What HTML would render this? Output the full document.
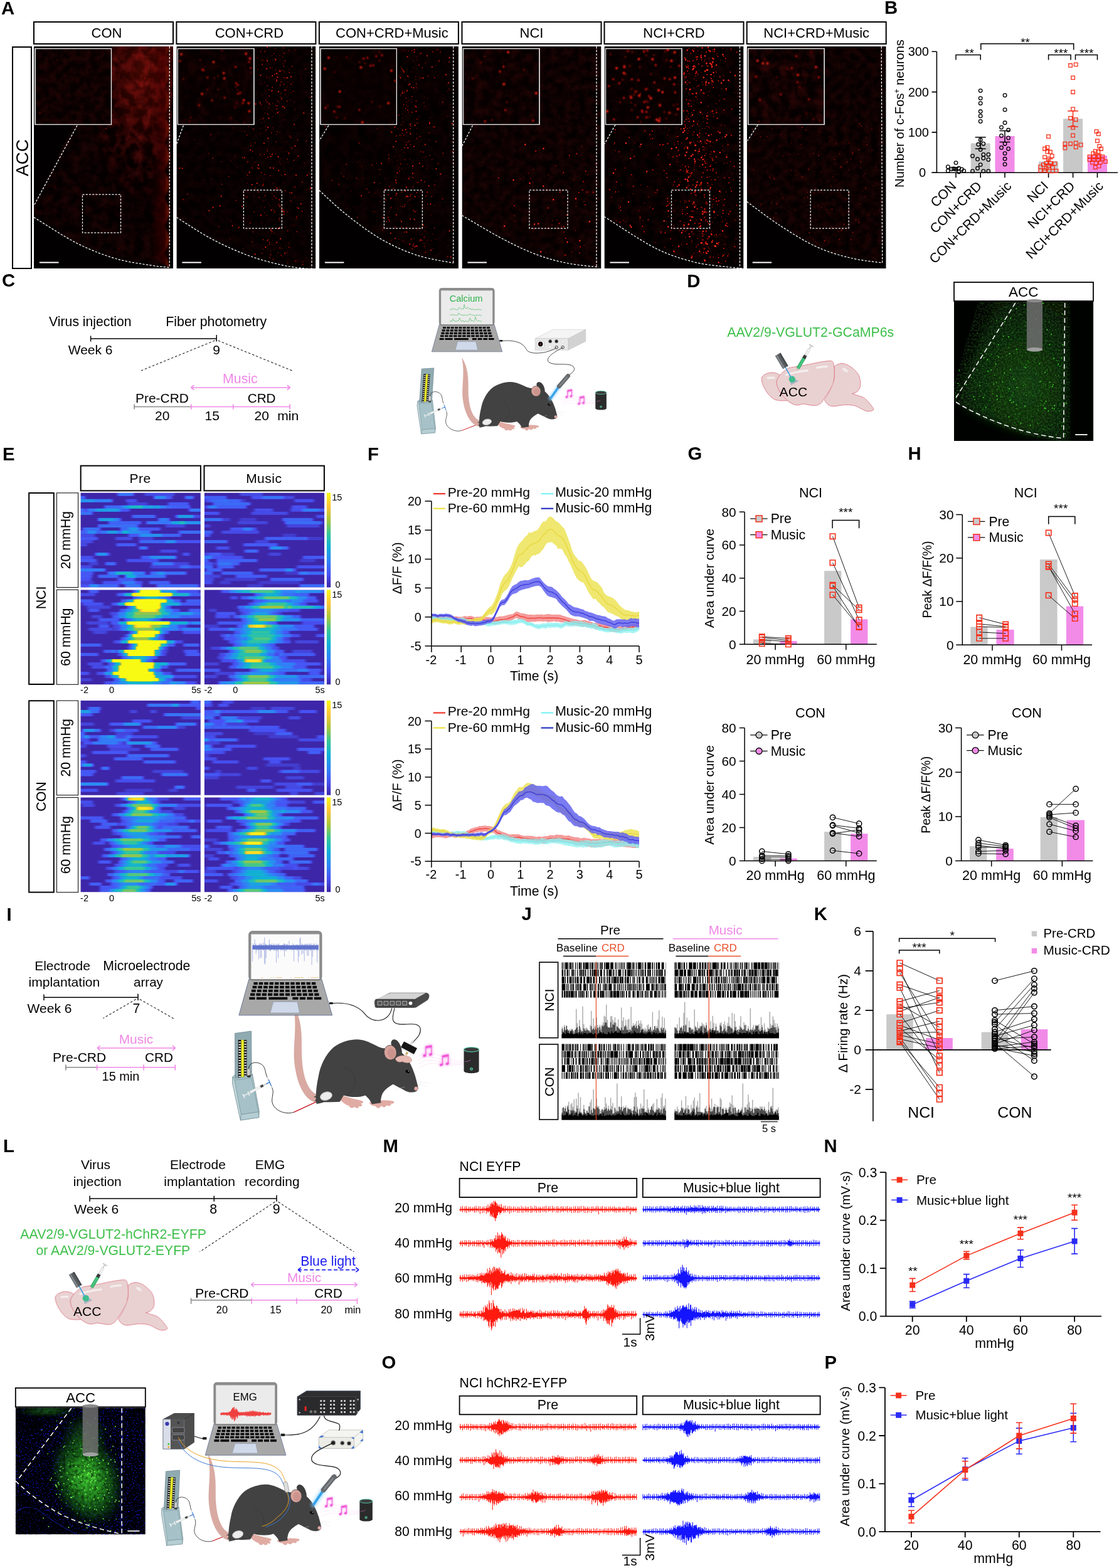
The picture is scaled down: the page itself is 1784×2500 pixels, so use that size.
<!DOCTYPE html>
<html lang="en"><head><meta charset="utf-8"><title>Figure</title>
<style>
html,body{margin:0;padding:0;background:#fff;}
body{width:1784px;height:2500px;overflow:hidden;}
svg{display:block;font-family:"Liberation Sans", Arial, Helvetica, sans-serif;}
</style></head><body>
<svg width="1784" height="2500" viewBox="0 0 1784 2500">
<defs><filter id="tx" x="0" y="0" width="100%" height="100%"><feTurbulence type="fractalNoise" baseFrequency="0.07" numOctaves="4" seed="3"/><feColorMatrix values="0 0 0 0 1  0 0 0 0 0.02  0 0 0 0 0.02  2.2 0 0 0 -0.75"/></filter><filter id="tx2" x="0" y="0" width="100%" height="100%"><feTurbulence type="fractalNoise" baseFrequency="0.09" numOctaves="4" seed="11"/><feColorMatrix values="0 0 0 0 1  0 0 0 0 0.02  0 0 0 0 0.02  1.6 0 0 0 -0.45"/></filter><radialGradient id="cong"><stop offset="0" stop-color="#5a0a04" stop-opacity="0.75"/><stop offset="0.6" stop-color="#3a0400" stop-opacity="0.45"/><stop offset="1" stop-color="#200" stop-opacity="0"/></radialGradient><linearGradient id="cone" x1="0" x2="1" y1="0" y2="0"><stop offset="0" stop-color="#400" stop-opacity="0"/><stop offset="0.75" stop-color="#5a0802" stop-opacity="0.5"/><stop offset="1" stop-color="#8a1206" stop-opacity="0.95"/></linearGradient><radialGradient id="cwg"><stop offset="0" stop-color="#fff"/><stop offset="0.5" stop-color="#aaa"/><stop offset="1" stop-color="#000"/></radialGradient><mask id="cmk" maskUnits="userSpaceOnUse" x="54" y="74" width="222" height="354"><ellipse cx="229" cy="124" rx="95" ry="200" fill="url(#cwg)"/></mask><filter id="b1" x="-5%" y="-5%" width="110%" height="110%"><feGaussianBlur stdDeviation="0.7"/></filter><filter id="b2" x="-5%" y="-5%" width="110%" height="110%"><feGaussianBlur stdDeviation="1.1"/></filter><clipPath id="ca0"><rect x="54" y="74" width="222" height="354"/></clipPath><clipPath id="ci0"><rect x="56" y="77.5" width="121" height="121"/></clipPath><clipPath id="ca1"><rect x="281.4" y="74" width="222" height="354"/></clipPath><clipPath id="ci1"><rect x="283.4" y="77.5" width="121" height="121"/></clipPath><clipPath id="ca2"><rect x="508.9" y="74" width="222" height="354"/></clipPath><clipPath id="ci2"><rect x="510.9" y="77.5" width="121" height="121"/></clipPath><clipPath id="ca3"><rect x="736.5" y="74" width="222" height="354"/></clipPath><clipPath id="ci3"><rect x="738.5" y="77.5" width="121" height="121"/></clipPath><clipPath id="ca4"><rect x="963.5" y="74" width="222" height="354"/></clipPath><clipPath id="ci4"><rect x="965.5" y="77.5" width="121" height="121"/></clipPath><clipPath id="ca5"><rect x="1190.7" y="74" width="222" height="354"/></clipPath><clipPath id="ci5"><rect x="1192.7" y="77.5" width="121" height="121"/></clipPath><clipPath id="ch0"><path d="M178 74L54 328L54 346.5L123 388L185 412.5L244 423.5L270 426.5L276 74Z"/></clipPath><clipPath id="ch1"><path d="M347.4 74L281.4 230L281.4 346.5L338.4 381.5L400.4 409L461.4 425L503.4 429L503.4 74Z"/></clipPath><clipPath id="ch2"><path d="M578.9 74L508.9 224.5L508.9 303.5L553.9 343.5L608.9 382L664.9 407L722.9 419.5L730.9 74Z"/></clipPath><clipPath id="ch3"><path d="M808.5 74L736.5 233L736.5 343.5L803.5 382L858.5 407L906.5 420L954.5 426L958.5 74Z"/></clipPath><clipPath id="ch4"><path d="M1036 74L963.5 230L963.5 345.5L1045.5 396L1107.5 418L1158.5 425.5L1185.5 428L1185.5 74Z"/></clipPath><clipPath id="ch5"><path d="M1263.2 74L1191.7 224.5L1190.7 321.5L1242.7 359L1300.7 393L1356.7 411.5L1406.7 419L1412.7 74Z"/></clipPath>

<filter id="glow" x="-30%" y="-30%" width="160%" height="160%"><feGaussianBlur stdDeviation="9" result="b"/><feMerge><feMergeNode in="b"/><feMergeNode in="SourceGraphic"/></feMerge></filter><filter id="glow2" x="-50%" y="-50%" width="200%" height="200%"><feGaussianBlur stdDeviation="10"/></filter>
<clipPath id="cd"><rect x="1521" y="480.5" width="222.3" height="222.6"/></clipPath><filter id="txg" x="0" y="0" width="100%" height="100%"><feTurbulence type="fractalNoise" baseFrequency="0.35" numOctaves="3" seed="5"/><feColorMatrix values="0 0 0 0 0.15  0 0 0 0 0.8  0 0 0 0 0.1  3.2 0 0 0 -1.25"/></filter><filter id="b6" x="-20%" y="-20%" width="140%" height="140%"><feGaussianBlur stdDeviation="7"/></filter><radialGradient id="gd" cx="0.6" cy="0.62" r="0.62"><stop offset="0" stop-color="#1c5a15"/><stop offset="0.5" stop-color="#123e0e"/><stop offset="1" stop-color="#081d06"/></radialGradient><clipPath id="cdt"><path d="M1560 480L1706 480L1706 703L1690 703C1640 698 1580 680 1522 642L1522 610Z"/></clipPath>
<filter id="par" filterUnits="userSpaceOnUse" x="80" y="770" width="480" height="670" color-interpolation-filters="sRGB"><feGaussianBlur stdDeviation="2.3 0"/><feComponentTransfer><feFuncR type="table" tableValues="0.242 0.281 0.179 0.069 0.216 0.672 0.997 0.977 0.977 0.977"/><feFuncG type="table" tableValues="0.150 0.323 0.529 0.695 0.784 0.779 0.766 0.984 0.984 0.984"/><feFuncB type="table" tableValues="0.660 0.958 0.968 0.839 0.592 0.223 0.220 0.081 0.081 0.081"/><feFuncA type="linear" slope="0" intercept="1"/></feComponentTransfer></filter><linearGradient id="cbar" x1="0" y1="1" x2="0" y2="0"><stop offset="0.000" stop-color="rgb(61,38,168)"/><stop offset="0.143" stop-color="rgb(71,82,244)"/><stop offset="0.286" stop-color="rgb(45,134,246)"/><stop offset="0.429" stop-color="rgb(17,177,214)"/><stop offset="0.571" stop-color="rgb(55,199,151)"/><stop offset="0.714" stop-color="rgb(171,198,56)"/><stop offset="0.857" stop-color="rgb(254,195,56)"/><stop offset="1.000" stop-color="rgb(249,250,20)"/></linearGradient><clipPath id="hc"><path d="M128.6 785.7h191.2v150.8h-191.2zM325.9 785.7h191.2v150.8h-191.2zM128.6 940.5h191.2v150.8h-191.2zM325.9 940.5h191.2v150.8h-191.2zM128.6 1116.9h191.2v150.8h-191.2zM325.9 1116.9h191.2v150.8h-191.2zM128.6 1271.4h191.2v150.8h-191.2zM325.9 1271.4h191.2v150.8h-191.2z"/></clipPath>






<clipPath id="cl"><rect x="24.8" y="2244.2" width="207" height="202.2"/></clipPath><radialGradient id="gl" cx="0.5" cy="0.5" r="0.5"><stop offset="0" stop-color="#3fd030" stop-opacity="0.95"/><stop offset="0.4" stop-color="#2cab22" stop-opacity="0.8"/><stop offset="0.75" stop-color="#187014" stop-opacity="0.45"/><stop offset="1" stop-color="#0a3008" stop-opacity="0"/></radialGradient><filter id="txl" x="0" y="0" width="100%" height="100%"><feTurbulence type="fractalNoise" baseFrequency="0.2" numOctaves="3" seed="9"/><feColorMatrix values="0 0 0 0 0  0 0 0 0 0  0 0 0 0 0  -2.6 0 0 0 1.55"/></filter><filter id="txb" x="0" y="0" width="100%" height="100%" color-interpolation-filters="sRGB"><feTurbulence type="fractalNoise" baseFrequency="0.42" numOctaves="2" seed="4"/><feColorMatrix values="0 0 0 0 0.1  0 0 0 0 0.1  0 0 0 0 0.9  0 10 0 0 -6.1"/></filter><clipPath id="clb"><path d="M24 2300L110 2244H232V2447H150C120 2440 70 2420 24 2375Z"/></clipPath>



</defs>
<rect width="1784" height="2500" fill="#fff"/>
<g id="panelA"><rect x="20" y="75" width="30" height="353" fill="#fff" stroke="#000" stroke-width="2"/><text font-size="28" text-anchor="middle" transform="translate(45.1 251.5) rotate(-90)">ACC</text><rect x="54" y="35" width="222" height="35" fill="#fff" stroke="#000" stroke-width="2"/><text x="170" y="60.3" font-size="22" text-anchor="middle">CON</text><g clip-path="url(#ca0)"><rect x="54" y="74" width="222" height="354" fill="#020000"/><g opacity="0.1"><path d="M178 74L54 328L54 346.5L123 388L185 412.5L244 423.5L270 426.5L276 74Z" fill="#500" opacity="0.35"/><g clip-path="url(#ch0)"><rect x="54" y="74" width="222" height="354" filter="url(#tx)"/></g></g><g clip-path="url(#ch0)"><ellipse cx="229" cy="114" rx="75" ry="150" fill="url(#cong)"/><rect x="54" y="74" width="222" height="354" filter="url(#tx)" opacity="0.3" mask="url(#cmk)"/></g><path d="M270 74q-3 14 -8 22q6 8 8 22q-3 14 -8 22q6 8 8 22q-3 14 -8 22q6 8 8 22q-3 14 -8 22q6 8 8 22q-3 14 -8 22q6 8 8 22q-3 14 -8 22q6 8 8 22q-3 14 -8 22q6 8 8 22q-3 14 -8 22q6 8 8 22L244 412L239 74Z" fill="url(#cone)" opacity="0.9" filter="url(#b2)"/><g filter="url(#b1)" opacity="1"><path d="" stroke="#e82010" stroke-width="2.2" stroke-linecap="round" fill="none"/><path d="M169.6 204.7h0M231.3 124.9h0" stroke="#c01208" stroke-width="1.8" stroke-linecap="round" fill="none"/><path d="M88 298.8h0M189 396.7h0" stroke="#8c0c05" stroke-width="1.5" stroke-linecap="round" fill="none"/></g><path d="M54 346.5C65.5 353.4 101.2 377 123 388C144.8 399 164.8 406.6 185 412.5C205.2 418.4 229.8 421.2 244 423.5C258.2 425.8 265.7 426 270 426.5M123 200L54 328M270.3 74L270.3 426.5" stroke="#fff" stroke-width="1.25" stroke-dasharray="3.4 2.2" fill="none"/><rect x="131.5" y="310" width="61" height="61" fill="none" stroke="#f0f0f0" stroke-width="1.25" stroke-dasharray="3.2 2"/><rect x="56" y="77.5" width="121.5" height="121" fill="#060000" stroke="#e6e6e6" stroke-width="1.2"/><g clip-path="url(#ci0)"><rect x="56" y="77.5" width="121" height="121" filter="url(#tx2)" opacity="0.12"/><g filter="url(#b2)"><path d="" stroke="#f62414" stroke-width="4" stroke-linecap="round" fill="none" opacity="0.5"/><path d="M63.5 179.9h0" stroke="#c01208" stroke-width="3.6" stroke-linecap="round" fill="none" opacity="0.5"/><path d="M91.9 96.4h0" stroke="#700804" stroke-width="3.2" stroke-linecap="round" fill="none" opacity="0.5"/></g></g><rect x="56" y="77.5" width="121.5" height="121" fill="none" stroke="#e6e6e6" stroke-width="1.2"/><rect x="63" y="417.5" width="30.5" height="2" fill="#fff"/></g><rect x="281.4" y="35" width="222" height="35" fill="#fff" stroke="#000" stroke-width="2"/><text x="397.4" y="60.3" font-size="22" text-anchor="middle">CON+CRD</text><g clip-path="url(#ca1)"><rect x="281.4" y="74" width="222" height="354" fill="#020000"/><g opacity="0.07"><path d="M347.4 74L281.4 230L281.4 346.5L338.4 381.5L400.4 409L461.4 425L503.4 429L503.4 74Z" fill="#500" opacity="0.35"/><g clip-path="url(#ch1)"><rect x="281.4" y="74" width="222" height="354" filter="url(#tx2)"/></g></g><g filter="url(#b1)" opacity="0.95"><path d="M444.1 146.2h0M401.9 294.4h0M426.2 75h0M465.1 307.6h0M435.9 268.1h0M469.2 198.5h0M389.7 251.5h0M475.9 332.1h0M431.7 249.4h0M460.3 244.3h0M433.6 144.7h0M470.5 232.7h0M423.4 394.2h0M495 300.4h0M441.3 386.7h0M286.5 268.1h0M475.5 249h0M441.5 299.8h0M446.6 113.5h0M464.1 122.3h0M444.3 271.9h0M484.3 180.3h0M452.4 341.5h0M472 279.3h0M441.1 128.9h0M453.6 172h0M428.6 188.7h0M425.1 109.7h0M427.4 220.6h0M420.9 228.3h0M489.7 279.3h0M412.5 268.7h0M447 380.7h0M370.5 359.8h0M412 263.3h0M452.5 337.4h0M454.7 278.2h0M290.6 268.5h0M451 169.9h0M434 246.1h0M350.9 328.2h0M397.8 274.8h0M446.3 329.2h0M431.9 367h0M454.2 403.6h0M458.2 123.9h0M443.6 364.4h0M407.4 165.7h0M432.6 335.1h0M426.1 97.1h0M386.1 329.1h0M352.8 312.8h0M415.5 120.1h0M415.9 343.2h0M406.6 405.4h0M446.1 113.4h0M399.5 239.3h0M454.6 143.5h0M427.2 203.1h0M443.6 250.2h0M442.3 123.1h0M333.5 335.8h0M479.8 325h0M434.2 120.8h0M449.9 336.6h0M380.7 362.6h0M339.7 330.7h0M415 164h0M441.2 117.2h0M409.8 292.2h0M439.3 94.8h0M430.8 267.6h0M442.8 179.7h0" stroke="#e82010" stroke-width="2.2" stroke-linecap="round" fill="none"/><path d="M446.3 395.5h0M411.5 305.9h0M430.8 280.1h0M403.6 205.3h0M422.5 278.1h0M446.6 136h0M386.3 250.6h0M458.7 367.8h0M422.7 312h0M429.1 143.1h0M482.8 421.7h0M436.4 334.8h0M461 394.2h0M468 145.6h0M471.5 416h0M458 253.6h0M470.1 298h0M456.3 124.5h0M433.2 364.6h0M336.1 214.7h0M440.5 225.9h0M452.8 134.7h0M464.2 134h0M406.6 227.6h0M348.8 361.3h0M430.8 108.4h0M451.8 76.2h0M466.2 106h0M418.8 296h0M444.5 326.1h0M465.5 236.2h0M449.2 155.9h0M431.5 406h0M487.4 109.8h0M434.2 139h0M433 211.8h0M424 159.3h0M436.9 85.3h0M353.7 293.6h0M419.9 189h0M415.7 81.9h0M449 158.2h0M426.4 136.6h0M448.7 334.4h0M402.1 267.3h0M421.9 81.8h0M442 209.8h0M416.3 166.7h0M292.2 317.8h0M433.7 369h0M468.6 255.5h0M398.8 355.5h0M472.9 346h0M452.5 124h0M427.7 382.5h0M441.2 126.6h0M400 232.1h0M446.1 363.2h0M439.7 168.3h0M445.6 362.7h0M429.3 152.9h0M403 369.7h0M474.5 223.2h0M438 118.4h0M402.8 241.3h0M419.6 295h0M298.9 309.7h0M448.3 406.9h0M364.6 281.4h0M429.7 386.2h0M426.4 240.7h0M440.4 316.2h0M402.2 385.6h0M429.8 389.3h0M416.6 274.8h0M481.7 290.2h0M452.2 105.6h0M375.9 319.6h0M453.2 84.9h0M418.3 102.9h0M463.6 320.4h0M424.3 207.3h0M461.4 115.7h0M429.8 166.5h0M417.5 403.9h0M419.6 382.2h0M454.8 304h0M462.1 307.1h0M474 330.8h0M460.8 80.4h0M394.1 314.1h0M437.9 338h0M426.9 250.4h0M439.6 96h0M426.1 383.4h0M436.9 313.2h0M389 311.4h0M461.8 216.9h0M394.6 279.2h0M393.5 215.2h0M426.7 181.8h0M481.8 336.7h0M418.3 102.5h0M430.2 410.7h0M339.1 252.1h0M463.7 219.3h0M473.4 369.4h0M441.2 173.7h0M441.9 168.6h0M457.6 161.5h0M429 164.4h0M494.4 155.2h0M410.5 267.6h0M421.3 246.2h0M413.1 314.7h0M439.1 301.8h0M445.3 348.6h0M443 161.1h0M425.7 162.8h0M454.8 97.2h0M445.5 318.8h0M405 337.7h0M444.9 317.8h0M417.9 95.9h0M488.2 224.7h0M414.6 246.3h0M448.2 130.8h0M394.5 258.2h0M435.7 413.3h0" stroke="#c01208" stroke-width="1.8" stroke-linecap="round" fill="none"/><path d="M378.6 267.4h0M368 352.4h0M352.6 257.8h0M452.4 334.2h0M439.7 181.2h0M413.5 295.2h0M430 245.5h0M393.8 292.4h0M374.5 247.7h0M448.2 148.6h0M438.8 77.7h0M332.9 244.7h0M337.4 285h0M432.9 145.7h0M469 314.3h0M440.7 118.3h0M455.4 151.6h0M411.5 110.8h0M451.1 333.9h0M428.2 183h0M430.2 74.6h0M415.8 190h0M421.7 339.6h0M491.5 247.1h0M424.8 121.4h0M435.3 185.4h0M451.8 191h0M459.1 258.3h0M454 114.5h0M485 259.9h0M445.3 300.9h0M372.2 204h0M445 111.7h0M468.9 163.3h0M450 409.3h0M415.7 133.7h0M443.8 119.5h0M489.2 302.7h0M425.1 95h0M446.1 298h0M427.6 224.5h0M422.5 179.9h0M451.3 112.4h0M437.8 99.5h0M427.2 370h0M433.3 371.6h0M418.1 78h0M448.9 112.3h0M295.8 348.2h0M291.8 348.2h0M453.3 273.4h0M488.2 410.6h0M315.1 290.9h0M438.4 93.1h0M440.5 214.4h0M420.4 291.2h0M471.9 349.6h0M421 193.4h0M296.1 212.4h0M427 390.9h0M449.7 395.9h0M368.1 256.3h0M467.1 130.4h0M430.3 328.1h0M407.4 258.5h0M445.4 163.4h0M447.9 149h0M420.9 161.8h0M406.7 298.9h0M437.7 371.9h0M457 226.1h0M455.2 362.3h0M420.6 97.1h0M436.5 397.7h0M284.2 247.1h0M439.4 110.9h0M417.9 152.6h0M433.9 107.7h0M447.1 252.7h0M451 91h0M422 130.9h0M415.3 204.5h0M458.2 337.3h0M470 79.4h0M425 124.3h0M391.1 314.4h0M419.7 293.6h0M445.3 257.4h0M417.3 196.3h0M459.1 130.8h0M402.4 252h0M310.9 222.6h0M394.1 305.5h0M392.1 236.2h0M387.6 395.9h0M429 123h0M419.3 397.8h0M452 101.8h0M428.9 171.7h0M448.5 279.6h0M464.5 148.3h0M439.4 245.1h0M325.7 288h0M444.6 177.8h0M414.6 213.4h0M405.1 313.2h0M447.1 261.5h0M405.2 258.9h0M410.5 92.5h0M446.7 154.5h0M435 164.5h0M433.8 176h0M426.1 237.6h0M474.1 348.5h0M433.8 308.2h0M480 124.9h0M403.2 269.5h0M469.1 360.9h0M390.5 210.1h0M443.5 403h0M434 88.7h0M326.2 342.3h0M435.9 292.3h0M431.8 399.7h0M433.9 389.6h0M487.8 147h0M435.1 203.5h0M491.2 115.6h0M405.1 207h0M483.3 417.4h0M456.9 241.1h0M416.9 354.8h0M446.2 210.7h0M412.8 161.5h0M458.6 419.1h0M451 183.7h0M421.8 330.5h0M463.2 160h0M460.8 110.9h0M460.5 388h0M493.4 277.2h0M420.5 286.5h0M366.3 380.7h0M457.8 402.6h0M446 88.5h0M284.2 340h0M420.3 320h0M407 301.2h0M461.3 247h0M286.7 332h0M470.5 173.9h0M446.5 236.2h0M445.9 351.5h0M427.2 323.8h0M396.3 201.9h0M425.1 343.1h0M456.2 143.4h0M457.5 138.4h0M423.3 252.6h0M434.1 317.6h0M400.9 229h0M463.1 359.8h0M423.5 201.4h0M451.8 291.2h0M422.9 144.1h0M467.2 357.9h0" stroke="#8c0c05" stroke-width="1.5" stroke-linecap="round" fill="none"/></g><path d="M281.4 346.5C290.9 352.3 318.6 371.1 338.4 381.5C358.2 391.9 379.9 401.8 400.4 409C420.9 416.2 444.2 421.7 461.4 425C478.6 428.3 496.4 428.3 503.4 429M292.4 200L281.4 230M497 74L497 428" stroke="#fff" stroke-width="1.25" stroke-dasharray="3.4 2.2" fill="none"/><rect x="388.4" y="303" width="61" height="61" fill="none" stroke="#f0f0f0" stroke-width="1.25" stroke-dasharray="3.2 2"/><rect x="283.4" y="77.5" width="121.5" height="121" fill="#060000" stroke="#e6e6e6" stroke-width="1.2"/><g clip-path="url(#ci1)"><rect x="283.4" y="77.5" width="121" height="121" filter="url(#tx)" opacity="0.07"/><g filter="url(#b2)"><path d="M392.3 85.7h0M289.1 86.6h0M388.7 159.8h0M357.7 125h0M322 149.7h0M397.5 177.2h0M356.6 116.5h0M396.4 164.6h0M340.4 99h0M398.5 93.2h0" stroke="#f62414" stroke-width="4" stroke-linecap="round" fill="none" opacity="0.85"/><path d="M397 98.7h0M379.2 135.3h0M376.4 132.5h0M317.2 167.8h0M324.5 112.2h0M358.2 155.7h0M379.2 149.7h0M387.1 164.4h0M287.2 97.2h0M382.8 147.9h0M399.6 108.3h0M330.7 123.5h0M375.7 106.9h0M338.2 160.1h0M323 110.9h0" stroke="#c01208" stroke-width="3.6" stroke-linecap="round" fill="none" opacity="0.85"/><path d="M303.8 187.2h0M374.7 171.1h0M319.2 96h0M389.6 195.7h0M302.6 193.6h0M378.7 143.6h0M376.3 138h0M347.9 142.7h0M342.1 124.2h0M377.6 164h0M400.3 115.7h0M292.1 125.8h0M368.3 187.8h0M354 80.6h0M330.4 142.7h0M348.1 121h0M292.7 126.1h0" stroke="#700804" stroke-width="3.2" stroke-linecap="round" fill="none" opacity="0.85"/></g></g><rect x="283.4" y="77.5" width="121.5" height="121" fill="none" stroke="#e6e6e6" stroke-width="1.2"/><rect x="290.4" y="417.5" width="30.5" height="2" fill="#fff"/></g><rect x="508.9" y="35" width="222" height="35" fill="#fff" stroke="#000" stroke-width="2"/><text x="624.9" y="60.3" font-size="22" text-anchor="middle">CON+CRD+Music</text><g clip-path="url(#ca2)"><rect x="508.9" y="74" width="222" height="354" fill="#020000"/><g opacity="0.06"><path d="M578.9 74L508.9 224.5L508.9 303.5L553.9 343.5L608.9 382L664.9 407L722.9 419.5L730.9 74Z" fill="#500" opacity="0.35"/><g clip-path="url(#ch2)"><rect x="508.9" y="74" width="222" height="354" filter="url(#tx)"/></g></g><g filter="url(#b1)" opacity="0.95"><path d="M627.2 234.1h0M718.7 409.8h0M658 264.7h0M630.3 380h0M649.4 90.5h0M663.8 392.1h0M646.1 304.5h0M650.1 121.3h0M648.2 313h0M614.5 301.8h0M653.2 134.2h0M686.4 325.3h0M683.7 296.4h0M648.2 370h0M648.1 298.8h0M648.9 144.7h0M681.1 89h0M674.5 124.6h0M631.9 342.5h0M661.4 393.4h0M576.1 312.1h0M660.7 79.3h0M695.5 269.1h0M660.6 83.1h0M622.9 371.8h0M660.8 349.8h0M641.8 207.6h0M641.5 148.7h0M715.2 132h0M661.4 337.5h0M687 398.8h0M640 353.3h0M711 119.2h0M633.5 275.6h0M623 316.4h0M663.4 177.5h0M632.3 308.7h0M702.4 277.4h0M684.9 196.9h0M630.9 287.4h0M654.1 198h0M716.6 91.9h0M650.3 235.7h0M661.6 313.7h0M716.6 368.3h0M638.5 124.1h0M677.8 230.5h0M674.6 358.7h0M654.5 213.6h0M644.3 114.7h0M660.1 233.6h0M629.4 202.5h0M657.9 276.4h0M688.8 106.8h0M670.2 383.1h0M721.7 242.1h0M624.5 210.8h0M671.5 287.5h0M631.3 225.4h0M610.8 347h0M650.1 313.4h0M668.8 260.5h0M608 260.7h0M663.4 170.5h0M721.1 197.1h0M659.5 140.1h0M646.7 206.6h0M653.3 389.2h0M661.5 199.8h0M596.8 291.1h0M642.6 112.3h0" stroke="#e82010" stroke-width="2.2" stroke-linecap="round" fill="none"/><path d="M681.4 307h0M648.5 211h0M609.9 366.6h0M657 179h0M605.3 270.4h0M637.7 215.6h0M684.7 196.5h0M678.3 402.4h0M648.1 312.6h0M665.3 196.4h0M646.8 172.8h0M640.4 361.6h0M630.4 361.8h0M619.5 246.8h0M685.3 247.8h0M684.8 195h0M645.5 254.6h0M631.6 290.8h0M688.4 313.4h0M657.1 396.7h0M692.8 363.6h0M654.7 200.9h0M720.5 225.8h0M670.8 124.1h0M693.1 202.7h0M676.5 392.8h0M663.7 133.4h0M616.2 353.2h0M654.1 312.7h0M665.1 189.9h0M643.9 215.6h0M643.6 167.1h0M672.8 383.4h0M638.8 261.4h0M664.5 307h0M658.6 391.8h0M641.8 145.7h0M675.1 242.4h0M682.2 121.3h0M693 294.7h0M658.3 283h0M652.3 285.4h0M661.7 169h0M659 389.7h0M656.9 153.9h0M637.1 272.3h0M619.8 350.1h0M681.8 325.8h0M548.1 281.2h0M572.5 227.9h0M716 98.6h0M651.2 135.3h0M620.3 252.4h0M654.4 348.9h0M673.3 108h0M636 183.6h0M684.1 211.6h0M656.1 139.1h0M695.2 225.5h0M642 329.4h0M644.8 369.9h0M592.9 263.3h0M698.4 260.9h0M666.4 290.7h0M650 175.7h0M699.9 97.5h0M518.3 201.5h0M647.4 156.2h0M705.7 317h0M663.5 161h0M654.3 230.3h0M640.4 306.2h0M658.5 298.1h0M647.4 362.9h0M652.3 224.8h0M689.9 82.7h0M653.8 205h0M670.8 241.8h0M670.9 381.8h0M631.7 291.8h0M651 284h0M701.9 82.9h0M631.1 311.5h0M618.7 346.4h0M627.2 300.7h0M697 79.3h0M529.7 287.6h0M620.8 352.2h0M667.8 104h0M653.9 349.1h0M656.1 380.8h0M552.5 262h0M671.5 84.5h0M623.5 330.7h0M654.9 310.2h0M692.7 124h0M645.4 329.2h0M669.5 217.4h0M614.6 317.7h0M648 231.4h0M568.3 284.1h0M620.9 297.3h0M665.2 393h0M691 202h0M676.8 290h0M588.4 306.4h0M585.1 301.3h0M676.4 378.2h0M640.8 109.3h0M659.2 335.3h0M713.8 408.9h0M673.5 331.1h0M540.2 293.7h0M644.6 147.2h0M645.3 235.6h0M678.9 312.6h0M657 80.7h0M664.3 221.1h0M645.4 326.1h0M619.2 310.3h0M673.7 265.5h0M569.9 346.8h0M705.8 163h0M632 216.7h0M706.5 244.2h0M669.8 85.8h0" stroke="#c01208" stroke-width="1.8" stroke-linecap="round" fill="none"/><path d="M646.8 314.8h0M645.8 127.3h0M648.5 162.2h0M720.5 143.6h0M622.9 210.9h0M687.8 254.8h0M639.7 238.8h0M650.9 81.5h0M611 362h0M553.8 284.7h0M654.5 318.7h0M680 250h0M676.4 155.4h0M628.4 249.8h0M650 170.1h0M673.2 373.4h0M605.5 292.1h0M674.4 264.6h0M650.5 227.2h0M698.8 120.4h0M599 308.4h0M671.3 364h0M690.4 373.5h0M701.4 327.8h0M619.7 255h0M695 104.2h0M659.3 364.3h0M641.9 212.6h0M648.4 167.4h0M655.7 114.5h0M637.3 121.2h0M653.5 282h0M676.3 250.5h0M636.4 389.9h0M675.7 163.4h0M634.1 255.9h0M644.6 234.2h0M638.9 151.3h0M717.8 165.9h0M638.2 351h0M681.5 157.4h0M714.2 391.8h0M641.6 188.4h0M654.5 382h0M600.4 260.3h0M676.7 367.7h0M607.2 313.7h0M660.1 79.2h0M636.7 267.6h0M544.7 276.5h0M694 143.3h0M615.8 319.6h0M652 159.7h0M678.9 369.6h0M674 388.1h0M656.5 316.3h0M712.7 185.8h0M694.1 381.7h0M694.4 288.2h0M678.1 100.8h0M700.4 96.3h0M653.4 211h0M664.5 204.7h0M650.6 320.9h0M678.1 362.5h0M643.5 384.9h0M646.1 79.2h0M717 185.3h0M607.6 261.8h0M663.5 138.9h0M687.4 383.8h0M638.8 328.5h0M623.5 383.8h0M605.6 278.6h0M676.7 169.5h0M641.5 181.2h0M668.9 304.5h0M559 304.7h0M663.9 90.3h0M624.8 315.3h0M681.4 305.2h0M670 307.9h0M553.1 332.1h0M641.6 383.7h0M648.7 111h0M625.4 302.5h0M640.5 268.9h0M639.6 106.5h0M659.4 108.2h0M614.6 302.8h0M666.5 364.8h0M634.5 204.9h0M641.4 198.2h0M612.8 362.2h0M620.6 337.2h0M644.6 242.7h0M686.8 342.8h0M667.7 312.5h0M662.7 122.2h0M659.9 387.4h0M628 299.7h0M577 265.6h0M706.1 248.7h0M644.6 146.9h0M651.4 123.4h0M664.3 213.7h0M682.1 383h0M680.9 331.8h0M653 318.6h0M689.7 254h0M646.5 226.5h0M653.5 253.7h0M635.8 381.5h0M662.3 126.9h0M715.8 141.8h0M664.7 291h0M664.8 367.2h0M680.1 268.7h0M639.2 198.7h0M571.5 285.6h0M634.9 269.6h0M713 134.2h0M643.2 80.7h0M578.7 284.5h0M622 201.2h0M654.1 326.1h0M691.5 327.9h0M650.2 226.2h0M660.9 276.7h0M651.4 178.8h0M716.2 144h0M622.4 208.6h0M713.3 145.2h0M622.8 333.2h0M569.8 258.5h0M619.5 258.5h0M605.5 320.9h0M685.1 187.9h0M642.3 193.9h0M638.2 153.1h0M649.2 262.2h0M660 380.6h0M597.7 337.2h0M633.7 265.4h0M659.4 97.3h0M675.6 123.6h0M665.1 95.7h0M684.5 222.6h0M677.4 389h0M664.7 335.7h0M664.9 140.5h0M690.9 396.2h0M668.8 384.9h0M647.4 229.7h0M594.9 337.6h0M668.5 126.9h0M655.8 163.5h0M681.9 204.1h0M614 284.4h0M601 204.5h0M644.2 370.5h0M644.8 329h0" stroke="#8c0c05" stroke-width="1.5" stroke-linecap="round" fill="none"/></g><path d="M508.9 303.5C516.4 310.2 537.2 330.4 553.9 343.5C570.6 356.6 590.4 371.4 608.9 382C627.4 392.6 645.9 400.8 664.9 407C683.9 413.2 713.2 417.4 722.9 419.5M523.9 200L508.9 224.5M722.7 74L722.7 419.5" stroke="#fff" stroke-width="1.25" stroke-dasharray="3.4 2.2" fill="none"/><rect x="612.4" y="303" width="61" height="61" fill="none" stroke="#f0f0f0" stroke-width="1.25" stroke-dasharray="3.2 2"/><rect x="510.9" y="77.5" width="121.5" height="121" fill="#060000" stroke="#e6e6e6" stroke-width="1.2"/><g clip-path="url(#ci2)"><rect x="510.9" y="77.5" width="121" height="121" filter="url(#tx2)" opacity="0.06"/><g filter="url(#b2)"><path d="M541.7 146h0M517.8 109.5h0M624 112.7h0M577.9 195.1h0M619.2 164.5h0M575.5 107.5h0M524 91.9h0" stroke="#f62414" stroke-width="4" stroke-linecap="round" fill="none" opacity="0.9"/><path d="M519.2 172.1h0M595 104.2h0M599.9 89.7h0M532.9 177.9h0M629.7 129.1h0M585.9 92.3h0M579.6 93.6h0M590.6 105h0M541.4 170.2h0M572.9 175.3h0M609 88h0" stroke="#c01208" stroke-width="3.6" stroke-linecap="round" fill="none" opacity="0.9"/><path d="M552.4 91h0M538 169.9h0M533.3 115h0M522.7 168.3h0M582.1 100.9h0M550 188.5h0M604.9 83.3h0M605.2 96.8h0M572.7 99.1h0M606.2 169.6h0M536.7 187.7h0M593.2 162.4h0" stroke="#700804" stroke-width="3.2" stroke-linecap="round" fill="none" opacity="0.9"/></g></g><rect x="510.9" y="77.5" width="121.5" height="121" fill="none" stroke="#e6e6e6" stroke-width="1.2"/><rect x="517.9" y="417.5" width="30.5" height="2" fill="#fff"/></g><rect x="736.5" y="35" width="222" height="35" fill="#fff" stroke="#000" stroke-width="2"/><text x="847.5" y="60.3" font-size="22" text-anchor="middle">NCI</text><g clip-path="url(#ca3)"><rect x="736.5" y="74" width="222" height="354" fill="#020000"/><g opacity="0.12"><path d="M808.5 74L736.5 233L736.5 343.5L803.5 382L858.5 407L906.5 420L954.5 426L958.5 74Z" fill="#500" opacity="0.35"/><g clip-path="url(#ch3)"><rect x="736.5" y="74" width="222" height="354" filter="url(#tx2)"/></g></g><g filter="url(#b1)" opacity="1"><path d="M858.3 356.7h0M939.9 353.2h0M852.1 357.6h0M804.2 360.6h0M837.3 230.6h0M918 316.7h0M904.5 386.1h0M866.2 296.7h0M818.5 286.9h0M844.5 292h0M882.2 318.2h0M862.2 401.3h0M866.4 236.7h0M924.3 383.7h0" stroke="#ff2a1a" stroke-width="2.5" stroke-linecap="round" fill="none"/><path d="M929.9 289.5h0M945.7 306.5h0M819.9 327.9h0M919.4 245h0M903.5 342.7h0M901.8 380h0M908 247.8h0M873.4 363.7h0M898.9 361.4h0M872.9 303.1h0M898.2 275.2h0M901.8 406.6h0M873.9 331.5h0M854.1 240.8h0M924 403.4h0M936.3 306.3h0M892.8 306.3h0M933.8 272.8h0M795 283.8h0M933.1 326.6h0M891.6 356.2h0M928.6 302.7h0M922.8 307.1h0M925 393.5h0" stroke="#e01408" stroke-width="2" stroke-linecap="round" fill="none"/><path d="M820.3 353.2h0M927.7 232.9h0M918.3 329.1h0M892 300.6h0M881.1 351.8h0M820.3 343.9h0M851.3 365h0M931.2 391.3h0M886.8 264.6h0M852.3 303.8h0M770.5 257.8h0M870.2 402.9h0M874.1 279h0M850.3 270.1h0M931.2 321.5h0M917.4 367.8h0M895.3 361.7h0M849.9 290.7h0M880 358.6h0M898.6 314.8h0M911.5 402.2h0M894.9 303.9h0M842.5 276.4h0M937.1 278.8h0M948.9 261.8h0M914.4 286.3h0M829.5 285.6h0M888.9 362.6h0M899.5 407.3h0M899.1 370h0M845.8 284.5h0M888 350.7h0" stroke="#a80e06" stroke-width="1.6" stroke-linecap="round" fill="none"/></g><path d="M736.5 343.5C747.7 349.9 783.2 371.4 803.5 382C823.8 392.6 841.3 400.7 858.5 407C875.7 413.3 890.5 416.8 906.5 420C922.5 423.2 946.5 425 954.5 426M753.5 200L736.5 233M951 74L951 426" stroke="#fff" stroke-width="1.25" stroke-dasharray="3.4 2.2" fill="none"/><rect x="844" y="303" width="61" height="61" fill="none" stroke="#f0f0f0" stroke-width="1.25" stroke-dasharray="3.2 2"/><rect x="738.5" y="77.5" width="121.5" height="121" fill="#060000" stroke="#e6e6e6" stroke-width="1.2"/><g clip-path="url(#ci3)"><rect x="738.5" y="77.5" width="121" height="121" filter="url(#tx)" opacity="0.1"/><g filter="url(#b2)"><path d="M854.8 148.6h0M810.2 83.3h0M803.4 134.2h0" stroke="#f62414" stroke-width="4" stroke-linecap="round" fill="none"/><path d="M797.1 113.9h0M850 192.4h0M802.6 106.4h0M805.6 175.5h0M773.5 193.4h0" stroke="#c01208" stroke-width="3.6" stroke-linecap="round" fill="none"/><path d="M808.1 162.9h0M766.6 99.7h0M835.4 110.9h0M784.3 191.2h0M772.5 90h0M753.6 125.2h0" stroke="#700804" stroke-width="3.2" stroke-linecap="round" fill="none"/></g></g><rect x="738.5" y="77.5" width="121.5" height="121" fill="none" stroke="#e6e6e6" stroke-width="1.2"/><rect x="745.5" y="417.5" width="30.5" height="2" fill="#fff"/></g><rect x="963.5" y="35" width="222" height="35" fill="#fff" stroke="#000" stroke-width="2"/><text x="1074.5" y="60.3" font-size="22" text-anchor="middle">NCI+CRD</text><g clip-path="url(#ca4)"><rect x="963.5" y="74" width="222" height="354" fill="#020000"/><g opacity="0.08"><path d="M1036 74L963.5 230L963.5 345.5L1045.5 396L1107.5 418L1158.5 425.5L1185.5 428L1185.5 74Z" fill="#500" opacity="0.35"/><g clip-path="url(#ch4)"><rect x="963.5" y="74" width="222" height="354" filter="url(#tx)"/></g></g><g filter="url(#b1)" opacity="1"><path d="M1147.3 305.1h0M1121.7 123.5h0M1158.2 215.2h0M1103 345.9h0M1132.2 101.1h0M1097.8 357.8h0M1096 236.5h0M1132.7 299.2h0M1078.2 235.2h0M1105.8 81.5h0M1130.5 377.4h0M1139.6 392.2h0M1104.5 246.6h0M1118 91.8h0M1132.2 82.1h0M1138.8 338.4h0M1127.6 389.1h0M1110.4 295.6h0M1093.1 95.3h0M1082.6 294.9h0M1031.1 273.6h0M1123.8 89.2h0M1138.5 241.7h0M1152.1 368.2h0M1006.3 361.9h0M1128.1 111.5h0M1123.8 415.8h0M1152.4 87.1h0M1091.2 208.4h0M1096 234.9h0M1117.9 143.4h0M1090.5 117.8h0M1120.8 368.7h0M1120.2 337.3h0M1086.9 370.9h0M1120.7 254.3h0M1135.2 385.4h0M1139 78.8h0M1095.7 79.9h0M1070.8 237.1h0M1142.2 103.7h0M1097.9 282.4h0M1158.4 250.5h0M1147.8 211.5h0M1135.3 129.1h0M1135.1 105.7h0M1137.2 93.7h0M1092.9 131.2h0M1119.6 76.2h0M1120.4 341.3h0M1082 392.7h0M1094.8 273h0M1108.6 240.1h0M1150.1 132.4h0M1127 185.1h0M1120.2 262.6h0M1107.2 253.7h0M1128.8 400.4h0M1119 387.4h0M1074.4 400.8h0M1100.1 228h0M1126.5 100.9h0M1133.5 119.1h0M1126.6 404h0M1130 215.9h0M1112.1 215.2h0M1068.2 262.3h0M1117.8 163.4h0M1123.9 337.6h0M1127.5 223.6h0M1104.5 111.1h0M1108.3 231.8h0M1140.1 392.2h0M1002 322h0M1094.6 242.8h0M1161.5 128h0M1118 350.8h0M1090.6 359h0M1100.9 351.2h0M1130.2 132.2h0M1134.1 373.2h0M1115.2 400.8h0M1065.6 336.3h0M1117.6 387.2h0M1138.1 337.3h0M1143 387.9h0M1105.9 193.3h0M1021.9 230.3h0M1096.8 289.1h0M1125.2 388.3h0M1065.2 361.6h0M1132.5 225.8h0M1005.2 252.5h0M1153.6 128.1h0M1110.2 148.7h0M1058.7 352.3h0M1089 211h0M998 228.3h0M1136.5 98.7h0M1134.2 103.1h0M1145.7 418.6h0M1092.5 247.7h0M1126.6 111.7h0M1171.9 120.4h0M1095.5 220.3h0M1094.9 299.3h0M1097.9 357.4h0M1004.7 359.4h0M1100.4 142.2h0M1108.1 257h0M1156.3 218.1h0M1137.5 115.7h0M1108.9 231.7h0M1117 225.3h0M1105.5 105.7h0M1117.6 291.8h0M1116.5 360.9h0M1090.3 204.9h0M1141 392.8h0M1125.8 130.8h0M1129.1 75.7h0M1103.9 183.2h0M1108.1 305.6h0M977.9 276h0M1105.7 108.9h0M1106.1 322.4h0M1147.8 243.2h0M1123.3 414.7h0M1111.6 290.3h0M1118.3 251.3h0M1092.6 285.7h0M1114.6 241.2h0M1124.1 113.5h0M1109.1 298.2h0M1099.5 377.2h0M1107.4 330.1h0M1157.2 359.6h0M1095 107.1h0M1102 248.7h0M1116.7 178.9h0M1095.9 286.4h0M1142.7 223.4h0M1157.6 141.7h0M1095.5 330.4h0M1102.5 410.8h0" stroke="#ff2a1a" stroke-width="2.5" stroke-linecap="round" fill="none"/><path d="M1158.7 356h0M1100.7 280.5h0M1126.2 322.4h0M1104.3 365.3h0M981 206.7h0M1098.9 320.6h0M1132.1 410h0M979.7 227.9h0M1111.5 333h0M1097.7 266.2h0M1123.7 248.1h0M1073.2 250.3h0M1128.4 380.7h0M1166.2 304.9h0M1101.4 302h0M1128.5 292.1h0M1136.1 255.6h0M1155 283.5h0M1134 214.6h0M1080.6 217.7h0M981.3 270.2h0M1123.8 333.5h0M1103.1 369.5h0M1145.9 387.1h0M1109 116.9h0M1102.1 226.8h0M1153.7 327.3h0M1088.8 367.7h0M1093.9 190.3h0M1093.7 123h0M1127.2 196.1h0M1124.5 260.2h0M1103.2 275h0M1056.6 231.1h0M1093.1 202.4h0M1126.5 228.8h0M1003.1 219.4h0M1165.4 78.4h0M1117 359.7h0M1127.7 353.2h0M1096 113.4h0M1075.2 289.8h0M1117.9 301.9h0M1142.4 179.4h0M1155.3 318h0M1103.6 336.8h0M1134.9 107.4h0M1058.7 272.3h0M1028.3 208.4h0M1079.9 297.3h0M1069 380.5h0M1102 308.4h0M1097.9 108.6h0M1136.7 131.1h0M1096.3 96.9h0M1096.9 272.1h0M1108.1 106.3h0M1125.6 385.8h0M1121.3 275.4h0M1140.4 286.4h0M1113.7 136.7h0M1114.5 362.2h0M1020.4 233.8h0M1024.5 360.9h0M1144.5 89.9h0M1142.1 250.1h0M1103.7 200.9h0M1137 269.3h0M1120.7 233.9h0M1112.3 74.1h0M1105 96.8h0M1098.4 252.6h0M1112 90.8h0M1127.6 282.8h0M1131.3 81.1h0M1095.1 389.1h0M1166.5 174.1h0M1054 369.7h0M1092.4 92.5h0M1006.5 278.4h0M1101.4 85.2h0M1154.1 396.1h0M1171.4 393.2h0M1122.8 310.8h0M1135.2 100.7h0M1110.5 116.1h0M1103.5 409h0M1129.7 79.9h0M1091.9 92.4h0M1117.8 87.9h0M1153.6 406.6h0M1119.6 372.3h0M982.8 290.1h0M1064.2 316.4h0M1118.8 105.5h0M971.8 302.2h0M1162.6 283.6h0M1125.9 82.9h0M1129.5 356.5h0M1060.5 371.2h0M1153.6 89.6h0M1103.5 149.3h0M1170.7 265.2h0M1142.3 321h0M1111.1 94.7h0M989.5 335.5h0M1040.5 221.1h0M1095.6 340.2h0M1064.4 229.1h0M1009.7 297h0M1096.6 363.3h0M1049.5 246.9h0M1091.3 236.6h0M1088.1 340.7h0M1136.3 176.8h0M1132.8 265h0M1142.2 374.3h0M1118.7 282.4h0M1083.2 247.2h0M1114.5 218.4h0M1124.7 266.7h0M1091.6 193.8h0M1123.1 314.4h0M1106.2 175.9h0M1098.4 372.7h0M1152.6 340h0M1121.7 402.5h0M1121 148.5h0M1152.3 408.3h0M1125.2 133h0M1135.5 252.4h0M1156.8 93.1h0M1099.2 131.8h0M1154.7 158.1h0M1063.5 283.1h0M1160.6 230.6h0M1174.7 83.4h0M1115.2 212.2h0M1132.2 301.5h0M1098.9 193.8h0M1107.9 259.8h0M1115.3 295.1h0M1080.8 225.6h0M1085.6 205.5h0M1027.2 369.6h0M1079.2 248.9h0M1062.7 328.8h0M1085.3 271.1h0M1125.7 369h0M1137.5 318h0M1141.9 275.4h0M1089.9 176.8h0M1099.5 143.6h0M1137.4 139.4h0M1154.4 175.4h0M1097.9 165.1h0M1119.6 341h0M1109.6 311.5h0M1118.6 95.4h0M1128 271.4h0M1117.4 303.7h0M987 242h0M1084.4 352.7h0M1094.3 141.6h0M1099.1 97.8h0M1146.1 320.3h0M1108 356.1h0M1122.4 339.1h0M1162 291.4h0M1117.2 89.4h0M1136.2 383.4h0M1040.8 332.7h0M1052.2 231h0M1118.5 330.8h0M1020.6 346.4h0M988.9 354.5h0M1064.7 327.2h0M1114.9 237.7h0M1111.9 197.7h0M1062.5 276.5h0M1147.7 122.4h0M1094.4 158.7h0M1120.5 382.4h0M1095.1 176.5h0M1160.3 408.1h0M1145 389.4h0M1106.3 210.6h0M1093.9 222.3h0M1123.6 256.9h0M1033.5 350.3h0M1135.9 92.5h0M1174.3 327.3h0M1134.8 374.4h0M1145.3 410.8h0M1141.7 315.8h0M1067.3 324.6h0M1118.5 291.7h0M1122.6 148.7h0M1123.3 346.6h0M1125.2 135.7h0M989.1 330.2h0M1113.9 101.9h0M1104 79.8h0M1100.7 301.2h0M1128.1 190.2h0M1120.5 376.1h0M1081.3 240.1h0M1128.5 105.6h0M1097.5 105.5h0M1110.1 114.1h0M1090.7 115.5h0M1134.2 125.6h0M1094.5 270.1h0M1123.2 332.9h0M1092.8 265.1h0M1127 324.9h0M1064.5 321h0M1136.4 271.7h0M1104.8 346.1h0M1143.9 188.5h0M1109.5 154.5h0M1165.9 215.9h0M1106.7 104.8h0M1159.9 360.9h0M981.4 306h0M1115.9 356.2h0M1152.8 335.6h0M1101.9 169.6h0M1129.8 225.1h0M1104.5 325.3h0M1123.5 396.3h0M1127.2 119.1h0M1040.7 270.8h0M1139.2 82.1h0M1144.8 210.1h0M1162.1 341.2h0M1126.3 338.7h0M1156.8 416.6h0M1145.4 129.1h0M1164.1 337.3h0M1111 294.5h0M1011.2 249.4h0M1101.6 276.6h0M1164.3 114.9h0M1110.3 90.7h0M1135.1 177.5h0M1100.1 344.9h0M1125.5 401.9h0M1047.8 303.3h0M1092.2 199.6h0M1040.1 209h0M1096.3 275.1h0M1125.2 350.7h0M1105.1 149.7h0M1035.9 214.6h0" stroke="#e01408" stroke-width="2" stroke-linecap="round" fill="none"/><path d="M1098.6 166.8h0M1098.7 275.7h0M1122.5 397.9h0M1114.5 226.8h0M1053.8 371.3h0M1107.2 263.2h0M1149.3 306.2h0M1099.3 204h0M1112.3 225.4h0M1138.4 312.5h0M1130.9 204h0M1112.6 390.5h0M1131.2 281.7h0M1134.8 368.7h0M1099.1 117.2h0M1118.5 290.2h0M1062.6 353.3h0M1094 275.6h0M1130.1 93.3h0M1134 346.7h0M1093.1 378.5h0M1145.2 282.4h0M1117.7 293.3h0M1103 386.1h0M1119.5 248.9h0M1094.2 321.9h0M1092 319.6h0M1145 320.8h0M1148.7 96.2h0M1108.9 121h0M1065.7 245.6h0M1105.9 140.3h0M1111.9 158h0M1125.8 322.2h0M1066.5 207.1h0M1118.2 83h0M1128.2 180h0M1150.8 346h0M1080.8 302.2h0M1032.1 297.3h0M1106.7 126h0M974.7 314.4h0M1122.9 253.7h0M1123.9 204.5h0M1153.2 120.4h0M1118.2 115.2h0M1139.6 242.6h0M1123.4 346.2h0M993.9 351.3h0M1059.4 394.3h0M1097 296.7h0M1152.4 232.4h0M1126.9 291.6h0M1109.3 328h0M1098.1 77.3h0M1128.8 295.9h0M1105.8 372.8h0M1121.1 187.8h0M1091.8 354.9h0M1122.9 238.9h0M1176.1 148.3h0M1125.6 188.7h0M1154.6 260.6h0M1106.3 226.2h0M1036.2 330.1h0M1096.3 128.5h0M1152.4 352.1h0M1126.7 201.6h0M1115.6 207.8h0M1105 286.9h0M1131 265.1h0M1146.9 160.4h0M1021.3 295.2h0M1092.9 104.9h0M1095 366.7h0M1125.5 100.1h0M1113.6 356.9h0M979.9 211.7h0M1156.1 389.4h0M1155.3 199.8h0M1104.5 295.3h0M1096.7 177.3h0M1151.1 354h0M1145.3 406.1h0M1159.7 260h0M1110.2 128.2h0M1126.7 104.3h0M1033.5 313.9h0M1091.6 322.6h0M1120.7 341.6h0M1112.6 118.4h0M1177.2 138.7h0M1084.6 289.7h0M1124.1 227.8h0M1108 107.7h0M1114.6 200.8h0M1083.1 367.6h0M1110.7 113.4h0M1119.4 204.7h0M1133 102.9h0M1072.8 326.2h0M1132.7 232.2h0M1136.3 326h0M1093 369.3h0M1107.9 309.9h0M1096.6 165.9h0M1126.2 303.1h0M1130.7 396.6h0M1060.7 203.7h0M1125.7 212.4h0M1139.3 79.4h0M1130.9 145.8h0M1122.2 373.4h0M1137.4 186.1h0M1106 337h0M1129.5 202.2h0M1141.4 114.1h0M1109.8 394.4h0M986.3 305.8h0M1127.3 260.1h0M1113.6 390h0M1132 245.9h0M1121.1 395.7h0M1100.9 230.8h0M1142.1 189.2h0M1126.9 127.6h0M1130.6 310.4h0M1134.1 317.3h0M1143.2 377.6h0M1109.8 350.8h0M1102.6 407.6h0M1167.7 276.2h0M1151.7 219.6h0M1115.8 349.1h0M1089.9 361.9h0M1147.8 374.1h0M1139.9 347.3h0M1098.2 189.7h0M1120.7 134.8h0M1105.7 214.7h0M1075.3 227.7h0M1012 227.7h0M1152 239.3h0M1164.7 257.6h0M1005 359.6h0M1132.3 270.9h0M1135.4 330.1h0M1118 295.2h0M1064.4 215.5h0M1124.3 388.3h0M1157.8 306h0M1092.3 368.7h0M1137.7 204.1h0M1132.7 250.1h0M1079.6 258.1h0M1075.7 402.2h0M1103.5 410.7h0M1101.8 185.8h0M1134.1 132.5h0M1096.5 212.8h0M1115.7 397.5h0M1136.2 79.4h0M1171.3 147.8h0M1133.9 242.1h0M1110.8 138h0M1110.2 92h0M1121.2 104.8h0M1141.6 175.3h0M1095.1 186.1h0M982.8 352.5h0M1142.8 85.2h0M1150.5 141.2h0M1076.9 319.5h0M1117.8 403.3h0M1106.2 160.2h0M1122.9 97.7h0M1020.2 349.3h0M1132.9 356.4h0M1095.8 204.9h0M1097.6 181.2h0M1137.8 255.1h0M1139.1 375.5h0M1157.3 360.4h0M1112.8 81.2h0M1007.5 239.4h0M1121.2 337.9h0M1124.2 225.5h0M1098.1 208.5h0M1129.2 394.2h0M1025 351.8h0M1147.3 152.8h0M1149.8 199.5h0M1164.7 299.7h0M1122.1 302h0M1009.8 308.9h0M1103.1 277.5h0M1123.7 95.8h0M1125.9 367.4h0M1173.3 380.7h0M1157 377.5h0M1107.3 325.1h0M1129.7 185.1h0M1149.9 420.1h0M1133.1 357.8h0M1019.4 335.8h0M1135.3 293.9h0M1129.2 169.3h0M1142.1 115.7h0M1098.1 169.4h0M1124.6 386.1h0M1086.9 390h0M1086.9 227.9h0M1092.5 342.1h0M1115.9 265.1h0M1129.7 305.9h0M1087.3 337.6h0M1106.5 199.1h0M1103.1 383.4h0M1081.6 285.2h0M1092.1 266.8h0M1090.4 121h0M1152.5 77.3h0M1171.9 351.2h0M997.8 353.5h0M1089.7 272.3h0M994.4 316h0M990.7 295.2h0M1163.6 130.1h0M1158 144.4h0M1125.6 245.1h0M1128.7 152.6h0M1099.2 225.7h0M1143.1 88h0M1136.1 354.5h0M1065.4 345.8h0M1103.1 179.7h0M1091.5 124h0M1074.7 336.2h0M1116.3 364.8h0M980.8 240.3h0M1082.6 272.3h0M1073.5 294.9h0M1101.2 160h0M1115.8 255.3h0M1103.6 215.5h0M1027.6 323.8h0M1161.7 404.8h0M1044.3 307h0M1095.4 134.4h0M1121.7 389.7h0M1143.2 74.3h0M986.8 332.4h0M1136.8 82.6h0M1119.4 130.7h0M1141.7 165.4h0M1115.2 295.2h0M1134.2 387.3h0M1147.4 221.3h0M1046.2 307.3h0M1120 182h0M1136.9 227.2h0M1177 154.2h0M1088.4 263.3h0M1107.2 77.8h0M1117.8 299.6h0M1107.9 229.3h0M1069.4 367.8h0M1121.2 239.3h0M1118.2 228.6h0M1112.1 380h0M1117.2 294.3h0M986.6 328.1h0M1133.8 286.5h0M996 267.9h0M978.8 230.3h0M1106.6 270.5h0M1095.8 103.2h0M1110.4 393h0M1099.5 296.1h0M1124.4 324.7h0M1137.3 409.8h0M1156.4 350.4h0M1077.9 204.1h0M1135.4 135.2h0M1098.9 160.3h0M1115.2 369.1h0M1156.3 97.7h0M1105.8 306.9h0M1106.6 404h0M1075.4 230.6h0M1133.3 262.7h0M1105 294.4h0M1135.8 254.8h0M1123.3 235h0M1126.9 224.7h0M1112.7 244.4h0M1098.5 148.3h0M1154.1 241.8h0M1121.2 194h0M1058.1 230.4h0M1140.8 259.5h0M1117.4 146.8h0M1137.2 181h0M1138.1 121.6h0M1093.1 233.7h0M1081.1 229.2h0M1072.5 391.3h0M1077.9 218h0M1085 321.2h0M1158.8 247.2h0M1074.2 360.6h0M1045.3 386.4h0M1143.9 326.3h0M1169.4 286.2h0M1139 286.5h0M1144.2 343.1h0M1109.8 303.4h0M1129.6 338.3h0M1037.3 221.9h0M1099.3 320.5h0M1097.5 293.7h0M1115.7 306.4h0M1096.9 188.9h0M1112.6 241h0M1113.1 193.3h0M1113.4 253.9h0M1088 334.5h0M1132.8 124.5h0M1097.3 236.5h0" stroke="#a80e06" stroke-width="1.6" stroke-linecap="round" fill="none"/></g><path d="M963.5 345.5C977.2 353.9 1021.5 383.9 1045.5 396C1069.5 408.1 1088.7 413.1 1107.5 418C1126.3 422.9 1145.5 423.8 1158.5 425.5C1171.5 427.2 1181 427.6 1185.5 428M981 199L963.5 230M1179.5 74L1179.5 428" stroke="#fff" stroke-width="1.25" stroke-dasharray="3.4 2.2" fill="none"/><rect x="1070.5" y="303" width="61" height="61" fill="none" stroke="#f0f0f0" stroke-width="1.25" stroke-dasharray="3.2 2"/><rect x="965.5" y="77.5" width="121.5" height="121" fill="#060000" stroke="#e6e6e6" stroke-width="1.2"/><g clip-path="url(#ci4)"><rect x="965.5" y="77.5" width="121" height="121" filter="url(#tx2)" opacity="0.06"/><g filter="url(#b2)"><path d="M983.1 108.7h0M1047.1 191.1h0M1019.2 152.4h0M1064.6 79.6h0M995.4 105.9h0M1052.1 167.7h0M1076.1 123.7h0M1070.5 97h0M1067.2 179.9h0M1056.3 146.9h0M1080.8 174.1h0M968 177.4h0M994.7 116.5h0M1032.9 171.2h0M1075.6 83.6h0M1018.5 94.3h0M1040.4 94.6h0M1037.6 156.8h0M1006.3 155.7h0M1050.8 193h0M1050 144.1h0" stroke="#f62414" stroke-width="4" stroke-linecap="round" fill="none"/><path d="M1031.9 80.5h0M1023.4 176.4h0M1014 145.8h0M970.7 137.2h0M1074.6 134.4h0M977.8 126.3h0M994.7 156.1h0M1043.3 131.5h0M1030.6 178.4h0M1076.5 147.4h0M1029.5 142.6h0M1024.4 178.8h0M1082.9 104.9h0M1017.9 127.9h0M1027.1 162.8h0M1030.9 187.1h0M1045.4 103.9h0M995.4 107.6h0M1007.4 126.5h0M1001 81.3h0M1016.5 187.1h0M1059.7 125.1h0M1052.6 168.5h0M1034.7 153.3h0M987.4 132.7h0M1067.8 126.4h0M978.9 190.3h0M1005.3 153.9h0M1026.8 82.7h0M1052 188.7h0" stroke="#c01208" stroke-width="3.6" stroke-linecap="round" fill="none"/><path d="M1069 106.5h0M1010.7 151h0M1038 118h0M1035.6 186.6h0M1012.8 167.4h0M1078.2 182.9h0M1006.1 163.5h0M1063 96.1h0M1060 82.2h0M1066.7 180.1h0M1021.5 194.5h0M1004.2 105.2h0M1026.2 79.8h0M992.7 127.4h0M997.7 118.3h0M1030.1 88.3h0M1029.9 161h0M1042.5 88h0M1032.5 162.6h0M1012.3 146.9h0M1074 168.1h0M1008 82.4h0M1002.1 81.4h0M973.3 86.4h0M1032.1 141.4h0M1021.2 149h0M1007.1 141.8h0M997.3 91h0M1079.6 166.3h0M1059.2 178.7h0M1020.1 107.1h0M988.4 163.2h0M1062.2 189h0M1007.3 175.4h0" stroke="#700804" stroke-width="3.2" stroke-linecap="round" fill="none"/></g></g><rect x="965.5" y="77.5" width="121.5" height="121" fill="none" stroke="#e6e6e6" stroke-width="1.2"/><rect x="972.5" y="417.5" width="30.5" height="2" fill="#fff"/></g><rect x="1190.7" y="35" width="222" height="35" fill="#fff" stroke="#000" stroke-width="2"/><text x="1301.7" y="60.3" font-size="22" text-anchor="middle">NCI+CRD+Music</text><g clip-path="url(#ca5)"><rect x="1190.7" y="74" width="222" height="354" fill="#020000"/><g opacity="0.12"><path d="M1263.2 74L1191.7 224.5L1190.7 321.5L1242.7 359L1300.7 393L1356.7 411.5L1406.7 419L1412.7 74Z" fill="#500" opacity="0.35"/><g clip-path="url(#ch5)"><rect x="1190.7" y="74" width="222" height="354" filter="url(#tx2)"/></g></g><g filter="url(#b1)" opacity="0.5"><path d="M1364.4 350.5h0M1237.1 340.1h0M1326.5 333.3h0M1305.1 248.1h0M1284.8 207h0M1314.4 384.2h0M1278.9 203.2h0M1238.1 324.9h0M1300.5 300.6h0M1315.1 384.2h0M1233.5 347.5h0M1288.8 270.1h0M1359.5 370.8h0M1380 299.6h0M1369.5 238.8h0M1290.2 370.8h0M1350.3 258.7h0M1369.4 354.7h0M1199.4 206h0M1382.2 230.5h0M1213.6 325.6h0M1359.3 243.9h0M1229.9 323.1h0M1278.4 282.1h0M1372.5 258h0M1330.5 254.5h0M1353.2 307.3h0M1356.4 382.2h0M1345.9 357.5h0M1333.4 229.4h0M1338.6 381.7h0M1370.5 197.7h0M1234.5 285.2h0M1212.1 217.8h0M1287.7 314.4h0M1292.5 343.2h0M1373.2 201.2h0M1340.4 266.2h0M1342.2 366.9h0" stroke="#e82010" stroke-width="2.2" stroke-linecap="round" fill="none"/><path d="M1344.1 343.1h0M1404.7 321h0M1201.4 270.2h0M1302.1 387.1h0M1390.3 239.4h0M1327.6 281.9h0M1376.5 280.6h0M1305.8 304.2h0M1393.7 341.6h0M1296.3 382.1h0M1230.5 205.2h0M1378.6 276.9h0M1300.9 350.6h0M1380.6 220h0M1305.4 327.9h0M1194.7 241.1h0M1387.6 380.1h0M1392.3 410.6h0M1352.9 271.4h0M1331.5 261.3h0M1323 224.7h0M1356.4 253.2h0M1396.5 413.1h0M1326.1 361.9h0M1359.5 246.3h0M1392.6 296h0M1226.7 282.1h0M1272.8 245.7h0M1341.4 267.5h0M1289.2 326.3h0M1338 245.2h0M1267.6 334.9h0M1352.9 333.7h0M1297 244.5h0M1317.1 334h0M1390 205.6h0M1261.5 271.6h0M1287.2 306.6h0M1353.5 227.8h0M1336.3 368.6h0M1320.4 289.1h0M1258.8 245.6h0M1262.1 227.6h0M1306.7 210.9h0M1298.2 306.6h0M1286.6 327.3h0M1371.7 267.8h0M1299.9 385.2h0M1227.6 283.6h0M1308.7 274.5h0M1305.9 306.1h0M1282.3 316h0M1245.1 214.5h0M1248.6 248.4h0M1378.7 313.6h0M1248.6 315.2h0M1349.4 317.2h0M1345.3 350.2h0M1276.9 230.6h0M1384.5 343.5h0M1318 315.6h0M1298.1 329.5h0M1370.9 325.1h0M1309.8 330.7h0M1222.9 217.7h0M1325.1 297.2h0M1269.7 279.3h0M1242.1 233.2h0" stroke="#c01208" stroke-width="1.8" stroke-linecap="round" fill="none"/><path d="M1243.3 230.9h0M1336 286.8h0M1353.3 247.3h0M1329.7 304h0M1262.2 213.3h0M1322.6 217.9h0M1342.5 302.9h0M1285.7 219.6h0M1372.1 266h0M1342.1 399.2h0M1343.1 227.8h0M1346.2 315.8h0M1293.7 201.3h0M1290.8 378.3h0M1298.7 371.8h0M1226.7 316h0M1313.4 231.2h0M1256.1 244h0M1331.3 214.1h0M1207.8 220.5h0M1349.7 217.5h0M1377.1 231.6h0M1377 298.3h0M1306.8 390.9h0M1383.7 209.7h0M1374.9 305.1h0M1331.7 288.8h0M1307 230.1h0M1281 250.9h0M1339 356.1h0M1364.9 292.9h0M1362.8 303.4h0M1223.8 271.6h0M1344.7 202.3h0M1358.6 311.1h0M1336.8 277.5h0M1305.3 254.4h0M1268.2 210.5h0M1368.7 351.1h0M1383.2 408h0M1340.4 367.8h0M1297.9 308.5h0M1384.8 371.3h0M1320.4 376h0M1273.5 216.9h0M1343.2 299.4h0M1278.1 236.3h0M1194.2 239.6h0M1371.2 378.5h0M1271.1 304h0M1360.3 341.8h0M1389.7 198h0M1380 261.5h0M1346 316.6h0M1347.6 321.2h0M1280.8 282.5h0M1404.6 407.8h0M1263.8 348.3h0M1261.4 279.2h0M1321.3 385.9h0M1345.7 204.6h0M1290.2 322.5h0M1212.9 329h0M1315.3 290.9h0M1277.4 215.8h0M1305.1 388.6h0M1368.1 349.3h0M1261.3 340.8h0M1231.1 242.2h0M1299.7 239.4h0M1291 245.8h0M1294.8 298.7h0M1308.8 286.7h0M1305.1 279.2h0M1341.4 328.1h0M1387.1 215.1h0M1319.3 370.9h0M1398.1 292.3h0M1262.8 223.4h0M1400.3 316.1h0M1366.4 302.8h0M1323.2 338.5h0M1365.3 248.8h0M1321.5 342h0M1299.8 263.4h0M1396.3 213.4h0M1329.3 325.4h0M1217 223.4h0M1339.7 386.8h0" stroke="#8c0c05" stroke-width="1.5" stroke-linecap="round" fill="none"/></g><path d="M1190.7 321.5C1199.4 327.8 1224.4 347.1 1242.7 359C1261 370.9 1281.7 384.2 1300.7 393C1319.7 401.8 1339 407.2 1356.7 411.5C1374.4 415.8 1398.4 417.8 1406.7 419M1208.2 199L1191.7 224.5M1405.2 74L1406.7 419" stroke="#fff" stroke-width="1.25" stroke-dasharray="3.4 2.2" fill="none"/><rect x="1292.2" y="303" width="61" height="61" fill="none" stroke="#f0f0f0" stroke-width="1.25" stroke-dasharray="3.2 2"/><rect x="1192.7" y="77.5" width="121.5" height="121" fill="#060000" stroke="#e6e6e6" stroke-width="1.2"/><g clip-path="url(#ci5)"><rect x="1192.7" y="77.5" width="121" height="121" filter="url(#tx)" opacity="0.14"/><g filter="url(#b2)"><path d="M1207.8 96.7h0M1216.2 101h0M1272.2 119.4h0M1300.9 106.9h0M1223.5 100.9h0" stroke="#f62414" stroke-width="4" stroke-linecap="round" fill="none" opacity="0.9"/><path d="M1211.6 159.3h0M1262.4 108.9h0M1289.5 158.5h0M1244.9 150.6h0M1271.5 131.1h0M1205.4 122.1h0M1305.4 123.2h0M1269.5 89.8h0" stroke="#c01208" stroke-width="3.6" stroke-linecap="round" fill="none" opacity="0.9"/><path d="M1285.3 180.6h0M1238.4 123h0M1254.7 109h0M1219.3 94.5h0M1275.1 139.1h0M1306.6 192.1h0M1297 190h0M1292.8 82.4h0M1209.9 193.7h0" stroke="#700804" stroke-width="3.2" stroke-linecap="round" fill="none" opacity="0.9"/></g></g><rect x="1192.7" y="77.5" width="121.5" height="121" fill="none" stroke="#e6e6e6" stroke-width="1.2"/><rect x="1199.7" y="417.5" width="30.5" height="2" fill="#fff"/></g><text x="2" y="22.9" font-size="29.3" font-weight="bold">A</text></g>
<g id="panelB"><rect x="1547.7" y="228.5" width="31" height="46.7" fill="#c8c8c8"/><rect x="1586.5" y="217" width="31" height="58.2" fill="#f28be8"/><rect x="1656.1" y="257.5" width="31" height="17.7" fill="#c8c8c8"/><rect x="1695.1" y="189.3" width="31" height="85.9" fill="#c8c8c8"/><rect x="1734" y="248.2" width="31" height="27" fill="#f28be8"/><path d="M1493.4 82.2V275.2M1485.5 275.2H1782" fill="none" stroke="#000" stroke-width="1.6"/><text x="1476.2" y="282.2" font-size="20" text-anchor="end">0</text><text x="1481" y="217.9" font-size="20" text-anchor="end">100</text><text x="1481" y="153.6" font-size="20" text-anchor="end">200</text><text x="1481" y="89.3" font-size="20" text-anchor="end">300</text><path d="M1485.5 275.2H1493.4M1485.5 210.9H1493.4M1485.5 146.6H1493.4M1485.5 82.3H1493.4M1524 275.2v8M1563.2 275.2v8M1602 275.2v8M1671.6 275.2v8M1710.6 275.2v8M1749.5 275.2v8" fill="none" stroke="#000" stroke-width="1.6"/><text font-size="20.2" text-anchor="middle" transform="translate(1441 181) rotate(-90)">Number of c-Fos<tspan font-size="12" dy="-7">+</tspan><tspan dy="7"> neurons</tspan></text><text font-size="21.4" text-anchor="end" transform="translate(1525.8 298) rotate(-45)">CON</text><text font-size="21.4" text-anchor="end" transform="translate(1566.5 298) rotate(-45)">CON+CRD</text><text font-size="21.4" text-anchor="end" transform="translate(1613.8 298) rotate(-45)">CON+CRD+Music</text><text font-size="21.4" text-anchor="end" transform="translate(1672.4 298) rotate(-45)">NCI</text><text font-size="21.4" text-anchor="end" transform="translate(1714.9 298) rotate(-45)">NCI+CRD</text><text font-size="21.4" text-anchor="end" transform="translate(1760.3 298) rotate(-45)">NCI+CRD+Music</text><path d="" fill="none" stroke="#000" stroke-width="1.5"/><path d="M1563.2 218.8V237.2M1554.7 218.8h17M1554.7 237.2h17M1602 208.4V226.4M1593.5 208.4h17M1593.5 226.4h17M1524 267.2V270.8M1519.4 267.2h9.2M1519.4 270.8h9.2" fill="none" stroke="#000" stroke-width="1.5"/><path d="M1671.6 253.3V261.4M1664.7 253.3h13.8M1664.7 261.4h13.8M1710.6 176.9V202M1702.1 176.9h17M1702.1 202h17M1749.5 246V253.3M1742.6 246h13.8M1742.6 253.3h13.8" fill="none" stroke="#f5311c" stroke-width="1.5"/><g fill="none" stroke="#000" stroke-width="1.3"><circle cx="1511.3" cy="266" r="2.8"/><circle cx="1517.1" cy="269.5" r="2.8"/><circle cx="1511.3" cy="272.5" r="2.8"/><circle cx="1524" cy="259.6" r="2.8"/><circle cx="1520.5" cy="269" r="2.8"/><circle cx="1528.6" cy="268.3" r="2.8"/><circle cx="1533.2" cy="269.9" r="2.8"/><circle cx="1536.7" cy="272.5" r="2.8"/><circle cx="1528.6" cy="274.1" r="2.8"/><circle cx="1524" cy="269.9" r="2.8"/><circle cx="1563.2" cy="144.6" r="2.8"/><circle cx="1563.2" cy="156.6" r="2.8"/><circle cx="1563.2" cy="164.7" r="2.8"/><circle cx="1563.2" cy="177.8" r="2.8"/><circle cx="1563.2" cy="184.9" r="2.8"/><circle cx="1563.2" cy="193.5" r="2.8"/><circle cx="1563.2" cy="222.9" r="2.8"/><circle cx="1567.8" cy="229.2" r="2.8"/><circle cx="1559.7" cy="230.3" r="2.8"/><circle cx="1563.2" cy="238.4" r="2.8"/><circle cx="1550.5" cy="248.7" r="2.8"/><circle cx="1567.8" cy="246.4" r="2.8"/><circle cx="1575.8" cy="246.4" r="2.8"/><circle cx="1558.5" cy="253.8" r="2.8"/><circle cx="1567.8" cy="252.2" r="2.8"/><circle cx="1575.8" cy="254.5" r="2.8"/><circle cx="1563.2" cy="262.6" r="2.8"/><circle cx="1558.5" cy="268.3" r="2.8"/><circle cx="1550.5" cy="272.9" r="2.8"/><circle cx="1567.8" cy="272.9" r="2.8"/><circle cx="1575.8" cy="272.9" r="2.8"/><circle cx="1602.1" cy="152" r="2.8"/><circle cx="1602.1" cy="175" r="2.8"/><circle cx="1602.1" cy="195.8" r="2.8"/><circle cx="1596.5" cy="203.1" r="2.8"/><circle cx="1607.6" cy="207.3" r="2.8"/><circle cx="1596.5" cy="216.5" r="2.8"/><circle cx="1607.6" cy="219.9" r="2.8"/><circle cx="1602.1" cy="229.2" r="2.8"/><circle cx="1596.5" cy="235.4" r="2.8"/><circle cx="1607.6" cy="237.2" r="2.8"/><circle cx="1602.1" cy="244.6" r="2.8"/><circle cx="1602.1" cy="253.3" r="2.8"/><circle cx="1602.1" cy="261.9" r="2.8"/></g><path d="M1668.8 214.8h5.6v5.6h-5.6zM1667 232.1h5.6v5.6h-5.6zM1662.8 234.4h5.6v5.6h-5.6zM1667 239h5.6v5.6h-5.6zM1671.6 239.5h5.6v5.6h-5.6zM1674.4 245.9h5.6v5.6h-5.6zM1662.8 247.8h5.6v5.6h-5.6zM1668.6 250.5h5.6v5.6h-5.6zM1665.1 257.4h5.6v5.6h-5.6zM1672.1 257.4h5.6v5.6h-5.6zM1679 258.1h5.6v5.6h-5.6zM1660.5 259.8h5.6v5.6h-5.6zM1668.6 262.1h5.6v5.6h-5.6zM1655.9 263.2h5.6v5.6h-5.6zM1675.5 264.4h5.6v5.6h-5.6zM1665.1 265.5h5.6v5.6h-5.6zM1655.9 269h5.6v5.6h-5.6zM1662.8 269h5.6v5.6h-5.6zM1669.8 270.1h5.6v5.6h-5.6zM1675.5 270.1h5.6v5.6h-5.6zM1681.3 269.7h5.6v5.6h-5.6zM1703.8 101.5h5.6v5.6h-5.6zM1712.4 100.1h5.6v5.6h-5.6zM1707.8 121.1h5.6v5.6h-5.6zM1707.8 143.9h5.6v5.6h-5.6zM1707.8 171.1h5.6v5.6h-5.6zM1703.8 185.6h5.6v5.6h-5.6zM1712.4 187.9h5.6v5.6h-5.6zM1707.8 200.6h5.6v5.6h-5.6zM1707.8 213.2h5.6v5.6h-5.6zM1695.1 226.4h5.6v5.6h-5.6zM1703.8 226.4h5.6v5.6h-5.6zM1712.4 225.2h5.6v5.6h-5.6zM1720.4 228.2h5.6v5.6h-5.6zM1695.1 233.3h5.6v5.6h-5.6zM1712.4 231.7h5.6v5.6h-5.6zM1745.3 206.8h5.6v5.6h-5.6zM1748.5 210.7h5.6v5.6h-5.6zM1746.7 221.8h5.6v5.6h-5.6zM1749.9 230.3h5.6v5.6h-5.6zM1752.7 234.4h5.6v5.6h-5.6zM1743.5 238.3h5.6v5.6h-5.6zM1748.1 239h5.6v5.6h-5.6zM1740 241.8h5.6v5.6h-5.6zM1734.2 247.1h5.6v5.6h-5.6zM1741.1 247.1h5.6v5.6h-5.6zM1748.1 247.1h5.6v5.6h-5.6zM1755 247.1h5.6v5.6h-5.6zM1734.2 251.7h5.6v5.6h-5.6zM1741.1 251.7h5.6v5.6h-5.6zM1748.1 251.7h5.6v5.6h-5.6zM1755 250.5h5.6v5.6h-5.6zM1759.6 254.7h5.6v5.6h-5.6zM1738.8 256.3h5.6v5.6h-5.6zM1744.6 257h5.6v5.6h-5.6zM1751.5 256.3h5.6v5.6h-5.6zM1743.5 263.9h5.6v5.6h-5.6zM1749.2 262.1h5.6v5.6h-5.6z" fill="none" stroke="#f5311c" stroke-width="1.3"/><path d="M1524 95.6V87.5H1563.2V95.6M1563.8 79.5V69.8H1711.7V79.5M1671.6 95.6V87.5H1707.1V95.6M1714.5 95.6V87.5H1749.5V95.6" fill="none" stroke="#000" stroke-width="1.5"/><text x="1545.4" y="91" font-size="19" text-anchor="middle">**</text><text x="1634.6" y="73.5" font-size="19" text-anchor="middle">**</text><text x="1691.4" y="91" font-size="19" text-anchor="middle">***</text><text x="1732.4" y="91" font-size="19" text-anchor="middle">***</text><text x="1410" y="22" font-size="29.3" font-weight="bold">B</text></g>
<g id="panelC"><text x="3.1" y="457.3" font-size="29.3" font-weight="bold">C</text><text x="78.1" y="520.4" font-size="21.2">Virus injection</text><text x="264.3" y="520.4" font-size="21.3">Fiber photometry</text><path d="M144.6 540H345.2M144.6 535.5v9M345.2 534v10.5" fill="none" stroke="#000" stroke-width="1.5"/><text x="108.7" y="564.7" font-size="21">Week 6</text><text x="345.2" y="564.7" font-size="21" text-anchor="middle">9</text><path d="M342.5 543L223.4 591.6M347.8 543L467.2 591.6" fill="none" stroke="#222" stroke-width="1.1" stroke-dasharray="3.5 3"/><text x="355.1" y="610.6" font-size="21.3" fill="#f088e6">Music</text><path d="M304.5 617.9H462.7M304.5 617.9l4.9 -3.8M304.5 617.9l4.9 3.8M462.7 617.9l-4.9 -3.8M462.7 617.9l-4.9 3.8" stroke="#f088e6" stroke-width="1.5" fill="none"/><text x="216.1" y="641.8" font-size="20.9">Pre-CRD</text><text x="394.7" y="641.8" font-size="20.7">CRD</text><path d="M214.1 648.5H304.9M214.1 644.5v8" fill="none" stroke="#8a8a8a" stroke-width="1.6"/><path d="M304.9 648.5H462.2M304.9 644.5v8M371.7 644.5v8M462.2 644.5v8" fill="none" stroke="#f088e6" stroke-width="1.6"/><text x="258.7" y="670" font-size="21" text-anchor="middle">20</text><text x="338.2" y="670" font-size="21" text-anchor="middle">15</text><text x="417.3" y="670" font-size="21" text-anchor="middle">20</text><text x="442.2" y="670" font-size="21.1">min</text><g transform="translate(640 440) scale(0.2217)"><path d="M272 350L668 350L725 545L218 545Z" fill="#a8a8a8" stroke="#5b6b8c" stroke-width="3"/><rect x="272" y="88" width="396" height="266" rx="18" fill="#8e8e8e" stroke="#6e6e6e" stroke-width="3"/><rect x="285" y="105" width="370" height="243" fill="#ebebeb"/><path d="M298 372h21.7M326.7 372h21.7M355.3 372h21.7M384 372h21.7M412.7 372h21.7M441.3 372h21.7M470 372h21.7M498.7 372h21.7M527.3 372h21.7M556 372h21.7M584.7 372h21.7M613.3 372h21.7M292 392h22.7M321.7 392h22.7M351.3 392h22.7M381 392h22.7M410.7 392h22.7M440.3 392h22.7M470 392h22.7M499.7 392h22.7M529.3 392h22.7M559 392h22.7M588.7 392h22.7M618.3 392h22.7M286 412h23.7M316.7 412h23.7M347.3 412h23.7M378 412h23.7M408.7 412h23.7M439.3 412h23.7M470 412h23.7M500.7 412h23.7M531.3 412h23.7M562 412h23.7M592.7 412h23.7M623.3 412h23.7M280 432h24.7M311.7 432h24.7M343.3 432h24.7M375 432h24.7M406.7 432h24.7M438.3 432h24.7M470 432h24.7M501.7 432h24.7M533.3 432h24.7M565 432h24.7M596.7 432h24.7M628.3 432h24.7M274 453H305.4M313.2 453H368.1M379.8 453H481.8M509.2 453H540.6M548.4 453H579.8M587.6 453H619M626.8 453H666" stroke="#0a0a0a" stroke-width="14" fill="none"/><path d="M405 472L535 472L548 532L388 532Z" fill="#cfd9ea" stroke="#8a97b0" stroke-width="2"/><text x="465" y="187" font-size="66" text-anchor="middle" fill="#2fb24c">Calcium</text><path d="M348 241.1L353.8 242.2L359.5 242.7L365.2 232.5L371 236.7L376.8 241.2L382.5 234.6L388.2 239.1L394 243.7L399.8 241.3L405.5 243.6L411.2 236.5L417 224.7L422.8 230.6L428.5 237L434.2 239.1L440 234.9L445.8 237.1L451.5 205L457.2 228.2L463 235L468.8 233.5L474.5 226L480.2 228.9L486 237.7L491.8 235.1L497.5 234.8L503.2 243L509 237.4L514.8 237.4L520.5 244.3L526.2 243.4L532 238.1L537.8 244.2L543.5 240.4L549.2 241.6L555 237.3L560.8 244L566.5 241.7L572.2 244.2L578 243.5M348 280.6L353.8 281L359.5 279.6L365.2 279.4L371 278.9L376.8 280.6L382.5 282.7L388.2 278.4L394 283.3L399.8 280.8L405.5 280.6L411.2 265.7L417 273.1L422.8 276.5L428.5 279.9L434.2 282.5L440 278.4L445.8 285.4L451.5 278.6L457.2 283.8L463 284.5L468.8 278.5L474.5 284.1L480.2 281L486 275.4L491.8 275.1L497.5 277.1L503.2 278.9L509 284.9L514.8 279.6L520.5 283.8L526.2 285.1L532 285.2L537.8 280.9L543.5 281L549.2 282.2L555 284L560.8 279.2L566.5 283.8L572.2 284.1L578 284.6M348 321.3L353.8 330.5L359.5 321.8L365.2 324.4L371 308.5L376.8 321.5L382.5 320.2L388.2 328.4L394 325.5L399.8 323.6L405.5 324.1L411.2 322.7L417 301.3L422.8 312.8L428.5 323.4L434.2 328.9L440 321.5L445.8 320.9L451.5 331L457.2 326.3L463 325L468.8 323.3L474.5 327L480.2 329.3L486 325.5L491.8 301.8L497.5 310.4L503.2 325L509 318.8L514.8 324.8L520.5 328.9L526.2 322.2L532 294.4L537.8 314.5L543.5 319.7L549.2 325.4L555 320.3L560.8 324.5L566.5 322.4L572.2 329.5L578 323.9" stroke="#2fb24c" stroke-width="2.6" fill="none"/><path d="M962 450L1090 385L1325 385L1200 450Z" fill="#f4f4f4" stroke="#bdbdbd" stroke-width="2"/><path d="M1200 450L1325 385L1325 470L1200 533Z" fill="#d2d2d2" stroke="#bdbdbd" stroke-width="2"/><path d="M962 450H1200V533H962Z" fill="#e9e9e9" stroke="#b0b0b0" stroke-width="2"/><rect x="975" y="468" width="52" height="46" rx="8" fill="#fff" stroke="#999" stroke-width="2"/><circle cx="1000" cy="490" r="17" fill="#111"/><circle cx="1000" cy="490" r="4" fill="#d22"/><circle cx="1070" cy="470" r="12" fill="#222" stroke="#999" stroke-width="3"/><circle cx="1115" cy="470" r="12" fill="#222" stroke="#999" stroke-width="3"/><circle cx="1160" cy="472" r="10" fill="#fff" stroke="#bbb" stroke-width="2"/><circle cx="1070" cy="510" r="10" fill="#fff" stroke="#bbb" stroke-width="2"/><circle cx="1115" cy="513" r="10" fill="#eee" stroke="#222" stroke-width="4"/><circle cx="1160" cy="513" r="10" fill="#eee" stroke="#222" stroke-width="4"/><path d="M710 467C800 460 870 470 900 530C920 570 1050 560 1115 515M1160 515C1100 545 1030 590 1060 620C1100 650 1200 620 1235 650C1260 680 1220 700 1205 712" stroke="#1a1a1a" stroke-width="3.5" fill="none"/><rect x="705" y="460" width="22" height="12" fill="#1a1a1a"/></g><g transform="translate(672.2 588.1) rotate(4) scale(0.0735) translate(-148 -178)"><path d="M148 178L412 142L418 870L150 905Z" fill="#8faab1" stroke="#6a858c" stroke-width="8"/><path d="M200 285H338V905H200Z" fill="#121212"/><path d="M208 318h36M298 312h34M208 361h36M298 355h34M208 404h36M298 398h34M208 447h36M298 441h34M208 490h36M298 484h34M208 533h36M298 527h34M208 576h36M298 570h34M208 619h36M298 613h34M208 662h36M298 656h34M208 705h36M298 699h34M208 748h36M298 742h34M208 791h36M298 785h34M208 834h36M298 828h34M208 877h36M298 871h34" stroke="#f2f2f2" stroke-width="18" fill="none"/><path d="M250 285H292V895H250Z" fill="#eef02a" stroke="#b8b810" stroke-width="5"/><path d="M108 885L150 850V905L418 868L430 835L540 1440L535 1540L238 1585L108 990Z" fill="#a9c5cb" stroke="#6f8a91" stroke-width="8" stroke-linejoin="round"/><path d="M140 935L415 900L528 1450L245 1492Z" fill="#a6c2c8" stroke="#6f8a91" stroke-width="6"/><path d="M245 1492L528 1450L535 1540L238 1585Z" fill="#b5ced3" stroke="#6f8a91" stroke-width="6"/><path d="M108 885L140 935L245 1492L238 1585L108 990Z" fill="#c3d7db" stroke="#6f8a91" stroke-width="5"/><rect x="348" y="845" width="52" height="45" rx="12" fill="#2c2c2c"/><rect x="345" y="750" width="50" height="112" rx="22" fill="#cdcdcd" stroke="#777" stroke-width="6"/><path d="M285 1192L372 1150" stroke="#f4f4f4" stroke-width="14"/><path d="M277 1165L303 1218M358 1125L384 1180" stroke="#f4f4f4" stroke-width="16" stroke-linecap="round"/><path d="M388 1138L562 1044" stroke="#e2e2e2" stroke-width="40"/><path d="M400 1132L550 1050" stroke="#fafafa" stroke-width="16"/><path d="M562 1044L606 1021" stroke="#4a4a4a" stroke-width="40"/><path d="M606 1021L652 999" stroke="#cfcfcf" stroke-width="22"/><path d="M652 999L712 968M690 925L738 1035" stroke="#2a6fd0" stroke-width="13" fill="none"/><path d="M662 882L690 928M736 1032L750 1062" stroke="#dadada" stroke-width="20"/><path d="M370 752C370 640 520 620 600 700C645 750 640 830 668 885" stroke="#1c1c1c" stroke-width="9" fill="none"/><path d="M748 1058C800 1150 700 1260 780 1360C850 1460 1000 1490 1100 1455" stroke="#1c1c1c" stroke-width="9" fill="none"/><path d="M1100 1455L1500 1270" stroke="#c8141e" stroke-width="14" fill="none"/></g><g transform="translate(720 560) scale(0.1601)"><path d="M270 748C200 732 132 640 112 470C98 340 136 230 104 68C184 200 158 330 168 460C180 600 225 680 295 700Z" fill="#d9aaa2" stroke="#c4938b" stroke-width="2"/><path d="M450 690C500 710 560 725 615 735C640 740 640 755 615 757C635 768 625 782 600 775C605 792 580 795 565 780C555 795 530 790 525 772C495 765 465 740 445 715Z" fill="#e0aba3"/><path d="M690 745C740 735 800 730 860 740C880 748 865 762 845 758C850 775 825 778 812 768C800 790 780 785 770 772C760 800 735 790 728 775C705 775 690 765 680 755Z" fill="#e0aba3"/><path d="M845 330C850 300 880 300 900 322C925 350 935 395 925 430L860 400Z" fill="#3d3d3d"/><path d="M275 755C270 690 280 620 295 560C305 500 345 410 410 360C470 320 540 305 590 306C650 308 700 335 750 358C780 370 810 372 830 368C880 360 930 395 960 432C990 465 1015 520 1030 565C1040 600 1050 630 1052 650C1050 668 1035 675 1010 678C985 680 960 672 945 662C915 650 880 630 860 622C830 640 790 660 775 700C768 725 765 740 770 752L700 762C690 740 680 725 650 700C610 715 540 715 485 700C470 720 465 735 455 745L380 748C340 745 300 750 275 755Z" fill="#424242"/><path d="M300 690L255 712L290 715L262 740L300 738L275 762L330 750Z" fill="#424242"/><path d="M485 500C540 510 575 550 570 610C565 650 540 690 500 700" fill="none" stroke="#363636" stroke-width="3"/><ellipse cx="840" cy="398" rx="47" ry="52" fill="#d7a39c" stroke="#3a3a3a" stroke-width="3" transform="rotate(-12 840 398)"/><ellipse cx="848" cy="405" rx="30" ry="36" fill="#cc948d" transform="rotate(-12 848 405)"/><ellipse cx="972" cy="532" rx="17" ry="11" fill="#0a0a0a" transform="rotate(20 972 532)"/><circle cx="979" cy="529" r="3.5" fill="#eee"/><circle cx="1036" cy="652" r="14" fill="#e0a9a6"/><path d="M1045 600L1130 612M1048 612L1120 640M950 640L880 660" stroke="#ddd" stroke-width="2" fill="none"/><ellipse cx="352" cy="705" rx="46" ry="29" fill="#ececec" stroke="#b5b5b5" stroke-width="4" transform="rotate(-14 352 705)"/><path d="M985 470L1070 350" stroke="#7cc8ff" stroke-width="46" stroke-linecap="round" opacity="0.55" filter="url(#glow2)"/><path d="M985 470L1070 350" stroke="#34a1ea" stroke-width="20" fill="none"/><path d="M1070 350L1160 245" stroke="#686b70" stroke-width="42" stroke-linecap="round" fill="none"/><path d="M1078 342L1150 258" stroke="#8a8d92" stroke-width="10" stroke-linecap="round" fill="none"/><g fill="none" stroke="#f4b6ec" stroke-width="2" opacity="0.7"><path d="M1090 470C1180 380 1280 500 1450 495"/><path d="M1095 495C1180 410 1290 530 1455 500"/><path d="M1100 520C1190 440 1300 550 1460 505"/><path d="M1110 545C1200 470 1300 560 1465 510"/></g><g filter="url(#glow)" fill="#f052d8"><g transform="translate(1146 456)"><ellipse cx="0" cy="0" rx="12" ry="8.5" transform="rotate(-20)"/><ellipse cx="44" cy="-8" rx="12" ry="8.5" transform="rotate(-20 44 -8)"/><path d="M6 -2h5.5v-52l36.5 -7v53h5.5v-69l-47.5 9z"/></g><g transform="translate(1268 523)"><ellipse cx="0" cy="0" rx="12" ry="8.5" transform="rotate(-20)"/><ellipse cx="44" cy="-8" rx="12" ry="8.5" transform="rotate(-20 44 -8)"/><path d="M6 -2h5.5v-52l36.5 -7v53h5.5v-69l-47.5 9z"/></g></g><path d="M1432 412V568C1432 590 1542 590 1542 568V412Z" fill="#2b2b2b"/><ellipse cx="1487" cy="412" rx="55" ry="17" fill="#3c3c3c" stroke="#58cfae" stroke-width="5"/><circle cx="1487" cy="553" r="11" fill="#58cfae"/><circle cx="1487" cy="553" r="5" fill="#2b2b2b"/><path d="M1440 500C1460 500 1475 492 1482 488" stroke="#d870c8" stroke-width="3" fill="none"/></g></g>
<g id="panelD"><text x="1095.2" y="458.2" font-size="29.3" font-weight="bold">D</text><text x="1159.3" y="537.1" font-size="21.3" fill="#3dbf4a">AAV2/9-VGLUT2-GCaMP6s</text><g transform="translate(1200 560) scale(0.1293)"><path d="M110 330C120 295 180 262 240 262C290 264 325 285 350 305C320 340 300 400 330 470C350 520 400 580 445 602C400 615 330 612 280 600C210 570 150 480 120 400C112 375 108 350 110 330Z" fill="#e9d1d1" stroke="#d65c6e" stroke-width="5.5" stroke-linejoin="round"/><path d="M1005 190C1030 165 1070 150 1110 150C1180 160 1250 215 1300 280C1325 330 1335 390 1325 440C1310 490 1270 520 1225 522C1260 540 1320 548 1365 570C1410 600 1460 660 1490 710C1495 735 1450 745 1400 738C1350 720 1310 690 1270 675C1200 655 1120 660 1050 672C1000 685 950 680 925 655C905 635 890 615 885 600C940 520 990 420 1005 330Z" fill="#e9d1d1" stroke="#d65c6e" stroke-width="5.5" stroke-linejoin="round"/><path d="M295 370C310 310 380 240 450 205C520 190 620 180 700 160C800 138 900 120 960 118C985 118 995 140 1000 170C1012 240 1012 310 995 380C975 450 920 530 870 600C850 645 810 668 770 670C710 670 660 652 620 650C590 655 570 668 540 664C480 655 420 610 380 560C330 500 290 430 295 370Z" fill="#e9d1d1" stroke="#d65c6e" stroke-width="5.5" stroke-linejoin="round"/><path d="M885 600C930 530 980 450 995 380" stroke="#dcc0c0" stroke-width="6" fill="none"/><path d="M415 292C500 262 600 245 675 238M795 203C840 192 880 188 915 188M185 330C210 326 240 326 262 328" stroke="#f4eeee" stroke-width="26" stroke-linecap="round" fill="none"/><ellipse cx="1140" cy="232" rx="40" ry="18" fill="#f2ebeb" transform="rotate(35 1140 232)"/><path d="M450 300L565 368L470 418Z" fill="#8fa7c0" opacity="0.7"/><circle cx="486" cy="345" r="40" fill="#3fbe8e"/><path d="M405 200L470 318" stroke="#4aa6e2" stroke-width="14" stroke-linecap="round"/><path d="M310 38L405 200" stroke="#585d61" stroke-width="76"/><path d="M292 48L388 210" stroke="#868b8f" stroke-width="18"/><path d="M335 24L430 186" stroke="#43474a" stroke-width="16"/><path d="M556 214L545 236" stroke="#777" stroke-width="5"/><path d="M558 212L640 72" stroke="#2f9a5a" stroke-width="42"/><path d="M560 210L638 78" stroke="#45c47e" stroke-width="30"/><path d="M630 88L652 50" stroke="#3a3a3a" stroke-width="40"/><path d="M652 50L700 -32" stroke="#dcdcdc" stroke-width="36"/><path d="M660 40L704 -34" stroke="#fafafa" stroke-width="14"/><path d="M700 -32L722 -70M700 -82L744 -56" stroke="#c8c8c8" stroke-width="14" stroke-linecap="round"/></g><text x="1242.6" y="631.6" font-size="21.1">ACC</text><g clip-path="url(#cd)"><rect x="1521" y="480.5" width="222.3" height="222.6" fill="#000200"/><path d="M1590 476L1702 476L1702 702C1650 700 1585 682 1528 648L1538 600Z" fill="url(#gd)" opacity="0.62" filter="url(#b6)"/><g clip-path="url(#cdt)" opacity="0.17"><rect x="1521" y="480.5" width="222.3" height="222.6" filter="url(#txg)"/></g><g filter="url(#b1)"><path d="M1552.2 632.4h0M1635.4 586.4h0M1666 593.7h0M1588.7 609.6h0M1699.6 643h0M1677.9 616.3h0M1611.1 507.2h0M1687.2 580.8h0M1620.7 556.8h0M1676.3 533.2h0M1681.2 646.5h0M1658 608.6h0M1652.2 508.7h0M1669.4 525.8h0M1680.1 571.3h0M1587.6 580.4h0M1610.8 589.2h0M1620.4 645.1h0M1562.3 614.7h0M1621.5 617.7h0M1584.4 612.2h0M1667 651.4h0M1589.4 631h0M1642.6 677.9h0M1692.6 570.7h0M1698.1 691.6h0M1627.5 674.5h0M1609.9 563.9h0M1665.5 650.7h0M1608.5 664.5h0M1574.3 573.5h0M1697.1 644.6h0M1607.8 537h0M1616 640.8h0M1671.4 655.4h0M1679 613.1h0M1598.4 608.7h0M1673.3 549.1h0M1571.8 649.5h0M1524.8 631.4h0M1527.2 611.4h0M1673.7 609.4h0M1568.5 570.4h0M1692.7 679.4h0M1602.1 512.7h0M1639 509.6h0M1580.4 589.7h0M1589.9 636.8h0M1620.4 492.1h0M1677.7 650.8h0M1663 483.7h0M1554 637.1h0M1567.8 633.9h0M1591.8 549.5h0M1575.2 591.7h0M1540.4 613.1h0M1613 642.1h0M1694.2 549.6h0M1616.1 604.2h0M1657.5 579.7h0M1633 486.3h0M1601.3 594.8h0M1591.9 569.5h0M1599.8 535.9h0M1667.7 639.8h0M1609.2 619.7h0M1693.5 500.6h0M1610.1 638.3h0M1680.6 651.9h0M1633.9 647.4h0" stroke="#43e62a" stroke-width="1.9" stroke-linecap="round" fill="none"/><path d="M1641.2 669.2h0M1646.7 630.9h0M1591.3 616h0M1578.2 567.3h0M1548.7 602.6h0M1690 643.8h0M1604.8 505.6h0M1636.6 630.6h0M1643.6 525.6h0M1572.1 564.6h0M1689.5 583.8h0M1600.3 616.5h0M1666.4 685.8h0M1647.7 486.1h0M1530 614.5h0M1588.5 511.4h0M1594.3 602.3h0M1672.3 683.7h0M1679.4 485.8h0M1655.2 647.5h0M1667.3 614.2h0M1632.8 584.7h0M1585.5 547h0M1613.6 629.8h0M1529.6 589.9h0M1687.8 599.4h0M1595.3 632.6h0M1651.8 596.4h0M1585.4 598.1h0M1634.2 520h0M1610.4 517.3h0M1665.8 679.6h0M1643.3 529.4h0M1682.8 598.2h0M1683.8 693.5h0M1688.8 655.1h0M1631.6 614.4h0M1656.8 623h0M1617.9 674.2h0M1621.2 651.1h0M1654 674.4h0M1618.6 659.7h0M1597.9 608.5h0M1598.1 621.7h0M1659.4 645.8h0M1589.9 588.7h0M1570 599.2h0M1604.2 489.8h0M1665.1 642.6h0M1589.7 567.8h0M1523.7 626.8h0M1557.9 531.5h0M1669.3 591h0M1604.7 566.9h0M1634.2 612.5h0M1645.7 670.6h0M1656 563.7h0M1567.3 652.5h0M1663.3 684.3h0M1635.2 513.9h0M1569.9 630.8h0M1611.1 637.4h0M1561.6 631.6h0M1582.3 623.5h0M1533.2 633.8h0M1596.2 508.9h0M1628.3 578.7h0M1589.2 620.7h0M1635.5 561.7h0M1584.3 646.6h0M1635.5 581.6h0M1613.9 530.7h0M1526.5 622.2h0M1562.2 609.9h0M1626.2 500.9h0M1549.8 618.1h0M1657.7 526.3h0M1625.1 660.3h0M1615.1 626.6h0M1586.3 653.1h0M1529.1 590.7h0M1659.5 608.4h0M1660.4 638.9h0M1640.5 625h0M1591.9 656.7h0M1663.3 646.3h0M1640.2 578.5h0M1564 563.6h0M1598.2 632.6h0M1634.1 585.2h0M1621.5 561.3h0M1558.1 589.8h0M1684.7 574.8h0M1582.6 627.4h0M1563.8 623.8h0M1602.7 642.5h0M1616.5 563.8h0M1572.6 611.5h0M1670.2 632.8h0M1608 553.6h0M1672.8 513.8h0M1659.7 629.3h0M1693.7 673.6h0M1581 564.8h0M1663.6 615.5h0M1654.7 654.2h0M1677.4 676.8h0M1611.4 634.9h0M1638.9 575.9h0M1539.4 581h0M1649 572.1h0M1592.3 640.8h0M1543.5 558.1h0M1696.4 538.1h0M1578.3 635h0M1688.7 558.8h0M1667.9 542.8h0M1553.7 607h0M1621.1 667.2h0M1672.9 617.5h0" stroke="#2aa81a" stroke-width="1.6" stroke-linecap="round" fill="none"/><path d="M1552.9 647.9h0M1593.1 654.6h0M1674.3 644.6h0M1576.8 576.5h0M1685.6 582.5h0M1645.6 653h0M1556.1 616.3h0M1696.8 673.9h0M1684.4 500.5h0M1552.5 601.6h0M1548.1 620.5h0M1634.5 495.7h0M1693.9 578.1h0M1624.6 561.2h0M1630.3 568.9h0M1601 645.4h0M1639.5 585.2h0M1659.5 631.5h0M1578.8 616.3h0M1654.9 598.5h0M1656.2 619.9h0M1687.2 539.6h0M1695.9 597.1h0M1683.2 502.6h0M1570 645.6h0M1598 598.6h0M1567 538h0M1694.4 526.3h0M1646.3 593.3h0M1597.3 631.1h0M1642.5 538.9h0M1589.7 524.9h0M1687.9 619.3h0M1674.7 589.2h0M1626.8 676.8h0M1533.1 630h0M1582.2 655.6h0M1563.1 650.1h0M1553.6 611.7h0M1650.6 628.9h0M1673.1 586.9h0M1675.1 613h0M1552.8 568.5h0M1556 609.7h0M1637 579.6h0M1583.7 628.5h0M1559.2 594.1h0M1638.6 601.7h0M1663.8 586h0M1537.9 640.6h0M1594.2 645.8h0M1695.6 596.3h0M1567.3 560h0M1639.1 659.9h0M1657.8 674.7h0M1664.8 571.7h0M1637 493.8h0M1648.3 539.8h0M1571.1 655.3h0M1598.5 652.2h0M1686.5 651.5h0M1590.3 556.6h0M1662.5 646.9h0M1573.1 579.3h0M1640.6 679.8h0M1690.6 584.3h0M1661.5 512.4h0M1687.6 525.8h0M1613.9 589h0M1682.9 646h0M1693.5 589.5h0M1652.2 493.2h0M1628.8 642.4h0M1697.9 683h0M1644.7 663.7h0M1566.3 587.7h0M1607.6 624.6h0M1694.5 602.3h0M1627.3 550.7h0M1648.7 680.4h0M1625.8 540.8h0M1577.3 638.8h0M1546.4 612.3h0M1591.8 596h0M1568.9 633.3h0M1661.4 655.1h0M1584.4 585.4h0M1661.8 536.7h0M1635.1 667.6h0M1566.2 627h0M1607.4 623.2h0M1552.1 597.6h0M1608 538.4h0M1530.1 622.3h0M1635.4 525.9h0M1674 550.4h0M1546.1 557.8h0M1575.9 566.1h0M1583.3 601.9h0M1678.2 540.1h0M1635.6 607.9h0M1595.1 622.8h0M1630.2 607.2h0M1664.5 516.2h0M1603.2 596.5h0M1670.2 595.2h0M1600.1 622.7h0M1614.6 491.2h0M1690.4 695.4h0M1598.5 539.9h0M1566.7 584.6h0M1648.9 577.2h0M1646 587.6h0M1666.8 593.6h0M1695.6 659.3h0M1650.7 588.9h0M1630.9 564.1h0M1665.9 649.2h0M1675.1 602.1h0M1699 585.2h0M1624.1 660.4h0M1615.2 654.3h0M1589.2 629.6h0M1664 612.8h0M1646 683.6h0M1535.7 615.9h0M1593.3 617.6h0M1609.8 615.5h0M1546.6 631.5h0M1682.5 525.1h0M1623.1 622.6h0M1584 652.2h0M1578 617.9h0M1586.2 568.4h0M1649.9 538.6h0M1603 548.5h0M1635.8 582.1h0M1536.8 623h0M1665.2 558.3h0M1617.1 501.7h0" stroke="#1c7a12" stroke-width="1.4" stroke-linecap="round" fill="none"/></g><path d="M1618.8 482.9L1522.2 637.2M1524 641C1556 661 1600 679.5 1643.6 690.1C1665 695 1680 697.5 1695.6 698.8M1697.7 482.9L1695.6 698.8" stroke="#fff" stroke-width="1.5" stroke-dasharray="7.5 4.7" fill="none"/><rect x="1714.2" y="692.1" width="19.4" height="1.8" fill="#fff"/></g><rect x="1521" y="450" width="222" height="30" fill="#fff" stroke="#000" stroke-width="1.8"/><text x="1631.8" y="472.6" font-size="22.5" text-anchor="middle">ACC</text><path d="M1636.9 478.6V557C1636.9 561.6 1662.1 561.6 1662.1 557V478.6Z" fill="#6e6e6e" opacity="0.85"/><ellipse cx="1649.5" cy="557.2" rx="12.6" ry="3.2" fill="#a5a5a5" opacity="0.9"/><ellipse cx="1649.5" cy="479.6" rx="12.6" ry="2.6" fill="#8a8a8a"/></g>
<g id="panelE"><g clip-path="url(#hc)"><g filter="url(#par)" fill="#fff"><rect x="90" y="775" width="460" height="660" fill="#000"/><rect x="230.4" y="785.7" width="47.8" height="5" opacity="0.09"/><rect x="187.6" y="785.7" width="25.3" height="5" opacity="0.19"/><rect x="246.1" y="790.7" width="17.9" height="5" opacity="0.13"/><rect x="295.4" y="790.7" width="12.9" height="5" opacity="0.19"/><rect x="245.5" y="790.7" width="28.9" height="5" opacity="0.13"/><rect x="119" y="790.7" width="16.7" height="5" opacity="0.15"/><rect x="112.9" y="795.8" width="66.2" height="5" opacity="0.21"/><rect x="200.9" y="795.8" width="17.3" height="5" opacity="0.11"/><rect x="119" y="795.8" width="31.3" height="5" opacity="0.07"/><rect x="268.3" y="800.8" width="32.5" height="5" opacity="0.13"/><rect x="203.9" y="800.8" width="31.6" height="5" opacity="0.07"/><rect x="240.5" y="805.8" width="30" height="5" opacity="0.12"/><rect x="249.4" y="805.8" width="16.1" height="5" opacity="0.10"/><rect x="198.4" y="805.8" width="56" height="5" opacity="0.14"/><rect x="268.8" y="805.8" width="34.2" height="5" opacity="0.14"/><rect x="194.4" y="805.8" width="31.8" height="5" opacity="0.18"/><rect x="223.9" y="805.8" width="19.8" height="5" opacity="0.17"/><rect x="166.8" y="805.8" width="29.3" height="5" opacity="0.16"/><rect x="205.6" y="805.8" width="21.5" height="5" opacity="0.11"/><rect x="301.8" y="810.8" width="19.2" height="5" opacity="0.20"/><rect x="138.5" y="810.8" width="52.5" height="5" opacity="0.20"/><rect x="153" y="810.8" width="53.8" height="5" opacity="0.12"/><rect x="124.3" y="810.8" width="11.9" height="5" opacity="0.16"/><rect x="119.1" y="815.9" width="28.1" height="5" opacity="0.18"/><rect x="210.9" y="820.9" width="36.9" height="5" opacity="0.16"/><rect x="279.2" y="820.9" width="42.5" height="5" opacity="0.09"/><rect x="282.8" y="820.9" width="25.5" height="5" opacity="0.21"/><rect x="156.6" y="825.9" width="25.9" height="5" opacity="0.10"/><rect x="252.8" y="825.9" width="17.1" height="5" opacity="0.20"/><rect x="157.5" y="825.9" width="34.5" height="5" opacity="0.21"/><rect x="285.9" y="830.9" width="35.8" height="5" opacity="0.13"/><rect x="273.4" y="830.9" width="48.3" height="5" opacity="0.15"/><rect x="173.2" y="830.9" width="51.8" height="5" opacity="0.15"/><rect x="233.7" y="830.9" width="61.4" height="5" opacity="0.19"/><rect x="263.8" y="836" width="31.3" height="5" opacity="0.08"/><rect x="156.7" y="836" width="63.1" height="5" opacity="0.17"/><rect x="205.9" y="841" width="49.7" height="5" opacity="0.12"/><rect x="192.3" y="841" width="28.1" height="5" opacity="0.17"/><rect x="132.2" y="841" width="27.5" height="5" opacity="0.17"/><rect x="192.9" y="846" width="11.3" height="5" opacity="0.14"/><rect x="139" y="846" width="47.8" height="5" opacity="0.12"/><rect x="159.4" y="846" width="63.7" height="5" opacity="0.07"/><rect x="171.5" y="846" width="21.1" height="5" opacity="0.13"/><rect x="285.1" y="846" width="36.6" height="5" opacity="0.17"/><rect x="195.3" y="846" width="44.4" height="5" opacity="0.19"/><rect x="119" y="846" width="34.9" height="5" opacity="0.14"/><rect x="204.8" y="851" width="53.2" height="5" opacity="0.12"/><rect x="222.7" y="851" width="65.3" height="5" opacity="0.15"/><rect x="119" y="851" width="32.1" height="5" opacity="0.09"/><rect x="184" y="856.1" width="27.2" height="5" opacity="0.09"/><rect x="220.7" y="856.1" width="24" height="5" opacity="0.07"/><rect x="119" y="856.1" width="36.8" height="5" opacity="0.12"/><rect x="265" y="861.1" width="56.7" height="5" opacity="0.11"/><rect x="222.2" y="861.1" width="57.9" height="5" opacity="0.16"/><rect x="119" y="861.1" width="29.5" height="5" opacity="0.09"/><rect x="185.4" y="866.1" width="31.6" height="5" opacity="0.13"/><rect x="119" y="866.1" width="20" height="5" opacity="0.09"/><rect x="222.3" y="871.2" width="12.6" height="5" opacity="0.19"/><rect x="255.5" y="876.2" width="27.1" height="5" opacity="0.09"/><rect x="291.3" y="881.2" width="11" height="5" opacity="0.11"/><rect x="151.8" y="881.2" width="18.9" height="5" opacity="0.17"/><rect x="154.9" y="881.2" width="20.1" height="5" opacity="0.11"/><rect x="239.4" y="886.2" width="40.3" height="5" opacity="0.13"/><rect x="225.4" y="886.2" width="55.5" height="5" opacity="0.14"/><rect x="119" y="886.2" width="29.8" height="5" opacity="0.10"/><rect x="202.1" y="891.3" width="50.6" height="5" opacity="0.11"/><rect x="119" y="891.3" width="34.9" height="5" opacity="0.13"/><rect x="242.1" y="896.3" width="34" height="5" opacity="0.13"/><rect x="243.9" y="896.3" width="57.7" height="5" opacity="0.08"/><rect x="142.1" y="896.3" width="14.4" height="5" opacity="0.07"/><rect x="168.3" y="896.3" width="16.1" height="5" opacity="0.17"/><rect x="239.4" y="901.3" width="64" height="5" opacity="0.07"/><rect x="287.3" y="901.3" width="34.4" height="5" opacity="0.10"/><rect x="119" y="901.3" width="27.8" height="5" opacity="0.09"/><rect x="123.1" y="906.3" width="44.4" height="5" opacity="0.21"/><rect x="184.5" y="911.4" width="26.7" height="5" opacity="0.20"/><rect x="251.4" y="911.4" width="10.3" height="5" opacity="0.10"/><rect x="239.9" y="911.4" width="56.9" height="5" opacity="0.18"/><rect x="172.1" y="911.4" width="59" height="5" opacity="0.21"/><rect x="119" y="911.4" width="29.6" height="5" opacity="0.12"/><rect x="156.8" y="916.4" width="31.7" height="5" opacity="0.16"/><rect x="199.9" y="916.4" width="64.2" height="5" opacity="0.18"/><rect x="200.9" y="916.4" width="15.4" height="5" opacity="0.18"/><rect x="119" y="916.4" width="27.9" height="5" opacity="0.12"/><rect x="187.3" y="921.4" width="27.3" height="5" opacity="0.12"/><rect x="119" y="921.4" width="26.8" height="5" opacity="0.11"/><rect x="194.4" y="926.4" width="21.3" height="5" opacity="0.11"/><rect x="163.8" y="926.4" width="63.4" height="5" opacity="0.11"/><rect x="238.2" y="926.4" width="32.3" height="5" opacity="0.14"/><rect x="119" y="926.4" width="30.7" height="5" opacity="0.07"/><rect x="250.3" y="931.5" width="66.3" height="5" opacity="0.17"/><rect x="199.5" y="931.5" width="25.8" height="5" opacity="0.19"/><rect x="143" y="931.5" width="46.2" height="5" opacity="0.16"/><rect x="119" y="931.5" width="37.3" height="5" opacity="0.11"/><rect x="382.7" y="785.7" width="36.3" height="5" opacity="0.09"/><rect x="400.9" y="790.7" width="51.2" height="5" opacity="0.11"/><rect x="418.4" y="790.7" width="50.5" height="5" opacity="0.09"/><rect x="322.1" y="790.7" width="38.9" height="5" opacity="0.14"/><rect x="326.1" y="795.8" width="57.6" height="5" opacity="0.10"/><rect x="358.8" y="795.8" width="33.3" height="5" opacity="0.06"/><rect x="334.7" y="795.8" width="27.2" height="5" opacity="0.07"/><rect x="469.3" y="795.8" width="31.3" height="5" opacity="0.11"/><rect x="340.1" y="800.8" width="58.9" height="5" opacity="0.16"/><rect x="331.1" y="805.8" width="61.8" height="5" opacity="0.14"/><rect x="465" y="805.8" width="24.5" height="5" opacity="0.11"/><rect x="322.1" y="805.8" width="23.7" height="5" opacity="0.08"/><rect x="463.1" y="810.8" width="46.5" height="5" opacity="0.10"/><rect x="405.3" y="810.8" width="30.2" height="5" opacity="0.10"/><rect x="482.1" y="810.8" width="39.5" height="5" opacity="0.12"/><rect x="400.8" y="815.9" width="58.1" height="5" opacity="0.09"/><rect x="322.1" y="815.9" width="27.8" height="5" opacity="0.11"/><rect x="504.2" y="820.9" width="22.2" height="5" opacity="0.10"/><rect x="450.3" y="825.9" width="48.4" height="5" opacity="0.15"/><rect x="382.4" y="825.9" width="26" height="5" opacity="0.06"/><rect x="322.1" y="825.9" width="44.7" height="5" opacity="0.07"/><rect x="322.1" y="825.9" width="31.7" height="5" opacity="0.12"/><rect x="454.5" y="830.9" width="58.9" height="5" opacity="0.17"/><rect x="379.1" y="830.9" width="47.5" height="5" opacity="0.08"/><rect x="457.1" y="836" width="52.6" height="5" opacity="0.08"/><rect x="322.1" y="836" width="13.4" height="5" opacity="0.07"/><rect x="386.9" y="841" width="15" height="5" opacity="0.11"/><rect x="367.1" y="841" width="42" height="5" opacity="0.11"/><rect x="353.2" y="846" width="59.6" height="5" opacity="0.09"/><rect x="322.1" y="846" width="16.9" height="5" opacity="0.15"/><rect x="450.3" y="851" width="21.3" height="5" opacity="0.06"/><rect x="322.1" y="851" width="13.6" height="5" opacity="0.11"/><rect x="422.4" y="856.1" width="66.8" height="5" opacity="0.14"/><rect x="486.3" y="856.1" width="27.7" height="5" opacity="0.06"/><rect x="407.1" y="861.1" width="21.2" height="5" opacity="0.08"/><rect x="325.3" y="861.1" width="37" height="5" opacity="0.16"/><rect x="388.3" y="866.1" width="54.1" height="5" opacity="0.13"/><rect x="429.2" y="871.2" width="19.2" height="5" opacity="0.11"/><rect x="344.8" y="871.2" width="21.1" height="5" opacity="0.10"/><rect x="431.1" y="871.2" width="28.4" height="5" opacity="0.17"/><rect x="390.3" y="876.2" width="21.1" height="5" opacity="0.16"/><rect x="333.1" y="881.2" width="40.6" height="5" opacity="0.07"/><rect x="428.5" y="881.2" width="19.3" height="5" opacity="0.08"/><rect x="322.1" y="881.2" width="30" height="5" opacity="0.08"/><rect x="483.1" y="886.2" width="44.5" height="5" opacity="0.13"/><rect x="322.1" y="886.2" width="65.1" height="5" opacity="0.11"/><rect x="322.1" y="886.2" width="15.9" height="5" opacity="0.12"/><rect x="478" y="891.3" width="24.5" height="5" opacity="0.06"/><rect x="345.9" y="891.3" width="63.9" height="5" opacity="0.15"/><rect x="322.1" y="891.3" width="10.5" height="5" opacity="0.14"/><rect x="346.9" y="896.3" width="34.5" height="5" opacity="0.15"/><rect x="322.1" y="896.3" width="46.6" height="5" opacity="0.05"/><rect x="322.1" y="896.3" width="16.4" height="5" opacity="0.08"/><rect x="473.2" y="901.3" width="57.7" height="5" opacity="0.11"/><rect x="346.2" y="901.3" width="26.5" height="5" opacity="0.14"/><rect x="322.1" y="901.3" width="17.2" height="5" opacity="0.16"/><rect x="328.8" y="906.3" width="24.8" height="5" opacity="0.15"/><rect x="455.6" y="906.3" width="16.4" height="5" opacity="0.13"/><rect x="413.6" y="906.3" width="52.1" height="5" opacity="0.15"/><rect x="476.5" y="911.4" width="59.8" height="5" opacity="0.17"/><rect x="353.4" y="911.4" width="49.5" height="5" opacity="0.15"/><rect x="454.3" y="911.4" width="36.9" height="5" opacity="0.05"/><rect x="322.1" y="911.4" width="16.6" height="5" opacity="0.16"/><rect x="376.2" y="916.4" width="49.5" height="5" opacity="0.13"/><rect x="322.1" y="916.4" width="29.9" height="5" opacity="0.08"/><rect x="431.2" y="921.4" width="52.3" height="5" opacity="0.15"/><rect x="357.2" y="921.4" width="51.3" height="5" opacity="0.06"/><rect x="322.1" y="921.4" width="18.6" height="5" opacity="0.09"/><rect x="350.5" y="926.4" width="17.3" height="5" opacity="0.06"/><rect x="411.9" y="926.4" width="66.3" height="5" opacity="0.05"/><rect x="322.1" y="926.4" width="16.7" height="5" opacity="0.10"/><rect x="394.5" y="931.5" width="24.8" height="5" opacity="0.06"/><rect x="478" y="931.5" width="50.8" height="5" opacity="0.17"/><rect x="211" y="940.5" width="106.9" height="5" opacity="0.11"/><rect x="216.8" y="940.5" width="64.4" height="5" opacity="0.19"/><rect x="222.7" y="940.5" width="31.8" height="5" opacity="0.29"/><rect x="228.6" y="940.5" width="20" height="5" opacity="0.32"/><rect x="223.9" y="940.5" width="30.6" height="5" opacity="1.00"/><rect x="141.6" y="940.5" width="15.5" height="5" opacity="0.13"/><rect x="186.6" y="945.5" width="135.1" height="5" opacity="0.14"/><rect x="198.3" y="945.5" width="103.7" height="5" opacity="0.26"/><rect x="210.1" y="945.5" width="63.5" height="5" opacity="0.40"/><rect x="221.9" y="945.5" width="40" height="5" opacity="0.44"/><rect x="212.4" y="945.5" width="61.1" height="5" opacity="1.00"/><rect x="115" y="945.5" width="36.9" height="5" opacity="0.09"/><rect x="212.2" y="950.6" width="59.8" height="5" opacity="0.15"/><rect x="218.3" y="950.6" width="46.4" height="5" opacity="0.07"/><rect x="224.4" y="950.6" width="33" height="5" opacity="0.11"/><rect x="230.5" y="950.6" width="20.8" height="5" opacity="0.12"/><rect x="193.3" y="955.6" width="94.6" height="5" opacity="0.15"/><rect x="203" y="955.6" width="73.4" height="5" opacity="0.19"/><rect x="212.6" y="955.6" width="52.1" height="5" opacity="0.29"/><rect x="222.3" y="955.6" width="32.8" height="5" opacity="0.32"/><rect x="214.6" y="955.6" width="50.2" height="5" opacity="1.00"/><rect x="120.4" y="955.6" width="28.2" height="5" opacity="0.13"/><rect x="296.9" y="955.6" width="24.8" height="5" opacity="0.14"/><rect x="178.1" y="960.6" width="143.6" height="5" opacity="0.13"/><rect x="188.5" y="960.6" width="98.5" height="5" opacity="0.24"/><rect x="198.9" y="960.6" width="56.1" height="5" opacity="0.36"/><rect x="209.3" y="960.6" width="35.3" height="5" opacity="0.40"/><rect x="201" y="960.6" width="54" height="5" opacity="1.00"/><rect x="131.4" y="960.6" width="33.1" height="5" opacity="0.11"/><rect x="203.4" y="965.6" width="68.3" height="5" opacity="0.15"/><rect x="210.3" y="965.6" width="52.9" height="5" opacity="0.26"/><rect x="217.3" y="965.6" width="37.6" height="5" opacity="0.40"/><rect x="224.3" y="965.6" width="23.7" height="5" opacity="0.44"/><rect x="218.7" y="965.6" width="36.2" height="5" opacity="1.00"/><rect x="137.9" y="965.6" width="38.3" height="5" opacity="0.08"/><rect x="190.9" y="970.7" width="95.5" height="5" opacity="0.12"/><rect x="200.7" y="970.7" width="74.1" height="5" opacity="0.14"/><rect x="210.4" y="970.7" width="52.6" height="5" opacity="0.22"/><rect x="220.2" y="970.7" width="33.1" height="5" opacity="0.24"/><rect x="224.6" y="970.7" width="26.8" height="5" opacity="0.48"/><rect x="140.7" y="970.7" width="17.6" height="5" opacity="0.12"/><rect x="301" y="970.7" width="20.7" height="5" opacity="0.14"/><rect x="175.1" y="975.7" width="146.6" height="5" opacity="0.09"/><rect x="187.9" y="975.7" width="118.5" height="5" opacity="0.14"/><rect x="200.7" y="975.7" width="69.1" height="5" opacity="0.22"/><rect x="213.5" y="975.7" width="43.5" height="5" opacity="0.24"/><rect x="286.7" y="975.7" width="35" height="5" opacity="0.11"/><rect x="179.5" y="980.7" width="141.7" height="5" opacity="0.14"/><rect x="190.2" y="980.7" width="96.1" height="5" opacity="0.12"/><rect x="200.9" y="980.7" width="57.9" height="5" opacity="0.18"/><rect x="211.6" y="980.7" width="36.4" height="5" opacity="0.20"/><rect x="146.2" y="980.7" width="16.5" height="5" opacity="0.08"/><rect x="198.2" y="985.7" width="58.1" height="5" opacity="0.12"/><rect x="204.1" y="985.7" width="45" height="5" opacity="0.07"/><rect x="210" y="985.7" width="32" height="5" opacity="0.11"/><rect x="215.9" y="985.7" width="20.1" height="5" opacity="0.12"/><rect x="157.4" y="985.7" width="32.6" height="5" opacity="0.13"/><rect x="176.8" y="990.8" width="144.9" height="5" opacity="0.13"/><rect x="189.4" y="990.8" width="110.6" height="5" opacity="0.24"/><rect x="201.9" y="990.8" width="67.7" height="5" opacity="0.36"/><rect x="214.4" y="990.8" width="42.6" height="5" opacity="0.40"/><rect x="204.4" y="990.8" width="65.2" height="5" opacity="1.00"/><rect x="137.7" y="990.8" width="35.1" height="5" opacity="0.08"/><rect x="304.2" y="990.8" width="17.6" height="5" opacity="0.12"/><rect x="180.2" y="995.8" width="117.7" height="5" opacity="0.09"/><rect x="192.3" y="995.8" width="91.3" height="5" opacity="0.14"/><rect x="204.3" y="995.8" width="64.9" height="5" opacity="0.22"/><rect x="216.3" y="995.8" width="40.8" height="5" opacity="0.24"/><rect x="213.3" y="995.8" width="26.8" height="5" opacity="0.48"/><rect x="157.4" y="995.8" width="16.5" height="5" opacity="0.13"/><rect x="182.3" y="1000.8" width="138" height="5" opacity="0.09"/><rect x="192.4" y="1000.8" width="92.4" height="5" opacity="0.14"/><rect x="202.5" y="1000.8" width="54.6" height="5" opacity="0.22"/><rect x="212.6" y="1000.8" width="34.4" height="5" opacity="0.24"/><rect x="141.4" y="1000.8" width="39.3" height="5" opacity="0.09"/><rect x="288.5" y="1000.8" width="33" height="5" opacity="0.13"/><rect x="206.6" y="1005.8" width="62.3" height="5" opacity="0.15"/><rect x="213" y="1005.8" width="48.3" height="5" opacity="0.19"/><rect x="219.3" y="1005.8" width="34.3" height="5" opacity="0.29"/><rect x="225.7" y="1005.8" width="21.6" height="5" opacity="0.32"/><rect x="220.6" y="1005.8" width="33.1" height="5" opacity="1.00"/><rect x="148.5" y="1005.8" width="22" height="5" opacity="0.08"/><rect x="291.6" y="1005.8" width="30.1" height="5" opacity="0.11"/><rect x="198.4" y="1010.9" width="63.2" height="5" opacity="0.09"/><rect x="204.8" y="1010.9" width="49" height="5" opacity="0.26"/><rect x="211.3" y="1010.9" width="34.8" height="5" opacity="0.40"/><rect x="217.7" y="1010.9" width="21.9" height="5" opacity="0.44"/><rect x="212.6" y="1010.9" width="33.5" height="5" opacity="1.00"/><rect x="192.5" y="1015.9" width="68.7" height="5" opacity="0.11"/><rect x="199.5" y="1015.9" width="53.3" height="5" opacity="0.14"/><rect x="206.6" y="1015.9" width="37.9" height="5" opacity="0.22"/><rect x="213.6" y="1015.9" width="23.8" height="5" opacity="0.24"/><rect x="181.4" y="1020.9" width="110.2" height="5" opacity="0.10"/><rect x="192.6" y="1020.9" width="85.4" height="5" opacity="0.26"/><rect x="203.9" y="1020.9" width="60.7" height="5" opacity="0.40"/><rect x="215.1" y="1020.9" width="38.2" height="5" opacity="0.44"/><rect x="206.1" y="1020.9" width="58.5" height="5" opacity="1.00"/><rect x="206.3" y="1026" width="72.2" height="5" opacity="0.15"/><rect x="212.9" y="1026" width="53.1" height="5" opacity="0.26"/><rect x="219.4" y="1026" width="35.5" height="5" opacity="0.40"/><rect x="226" y="1026" width="22.4" height="5" opacity="0.44"/><rect x="220.8" y="1026" width="34.2" height="5" opacity="1.00"/><rect x="124.9" y="1026" width="36.2" height="5" opacity="0.14"/><rect x="292.6" y="1026" width="24.9" height="5" opacity="0.15"/><rect x="203.3" y="1031" width="64.8" height="5" opacity="0.09"/><rect x="209.9" y="1031" width="50.3" height="5" opacity="0.22"/><rect x="216.5" y="1031" width="35.7" height="5" opacity="0.32"/><rect x="223.1" y="1031" width="22.5" height="5" opacity="0.36"/><rect x="217.8" y="1031" width="34.4" height="5" opacity="1.00"/><rect x="179.9" y="1036" width="86.9" height="5" opacity="0.09"/><rect x="188.7" y="1036" width="67.4" height="5" opacity="0.24"/><rect x="197.6" y="1036" width="47.9" height="5" opacity="0.36"/><rect x="206.5" y="1036" width="30.2" height="5" opacity="0.40"/><rect x="199.4" y="1036" width="46.1" height="5" opacity="1.00"/><rect x="165.4" y="1036" width="18.4" height="5" opacity="0.14"/><rect x="293.2" y="1036" width="23.1" height="5" opacity="0.12"/><rect x="187.8" y="1041" width="76.6" height="5" opacity="0.10"/><rect x="195.6" y="1041" width="59.4" height="5" opacity="0.24"/><rect x="203.4" y="1041" width="42.2" height="5" opacity="0.36"/><rect x="211.2" y="1041" width="26.6" height="5" opacity="0.40"/><rect x="205" y="1041" width="40.6" height="5" opacity="1.00"/><rect x="114.8" y="1041" width="41.8" height="5" opacity="0.13"/><rect x="295.7" y="1041" width="23.6" height="5" opacity="0.13"/><rect x="194.1" y="1046.1" width="57" height="5" opacity="0.13"/><rect x="199.9" y="1046.1" width="44.2" height="5" opacity="0.07"/><rect x="205.7" y="1046.1" width="31.4" height="5" opacity="0.11"/><rect x="211.5" y="1046.1" width="19.8" height="5" opacity="0.12"/><rect x="161.3" y="1051.1" width="82.4" height="5" opacity="0.13"/><rect x="169.7" y="1051.1" width="63.9" height="5" opacity="0.19"/><rect x="178.1" y="1051.1" width="45.4" height="5" opacity="0.29"/><rect x="186.5" y="1051.1" width="28.6" height="5" opacity="0.32"/><rect x="179.8" y="1051.1" width="43.7" height="5" opacity="1.00"/><rect x="173.2" y="1056.1" width="123.3" height="5" opacity="0.14"/><rect x="182.8" y="1056.1" width="84.8" height="5" opacity="0.24"/><rect x="192.5" y="1056.1" width="52" height="5" opacity="0.36"/><rect x="202.1" y="1056.1" width="32.7" height="5" opacity="0.40"/><rect x="194.4" y="1056.1" width="50.1" height="5" opacity="1.00"/><rect x="139.8" y="1056.1" width="24.1" height="5" opacity="0.09"/><rect x="168.8" y="1061.1" width="99.3" height="5" opacity="0.12"/><rect x="178.9" y="1061.1" width="77" height="5" opacity="0.26"/><rect x="189" y="1061.1" width="54.7" height="5" opacity="0.40"/><rect x="199.2" y="1061.1" width="34.5" height="5" opacity="0.44"/><rect x="191.1" y="1061.1" width="52.7" height="5" opacity="1.00"/><rect x="146.1" y="1061.1" width="26.8" height="5" opacity="0.09"/><rect x="170.9" y="1066.2" width="85.5" height="5" opacity="0.16"/><rect x="179.6" y="1066.2" width="66.3" height="5" opacity="0.19"/><rect x="188.4" y="1066.2" width="47.1" height="5" opacity="0.29"/><rect x="197.1" y="1066.2" width="29.7" height="5" opacity="0.32"/><rect x="190.1" y="1066.2" width="45.4" height="5" opacity="1.00"/><rect x="281.1" y="1066.2" width="40.6" height="5" opacity="0.15"/><rect x="154.3" y="1071.2" width="119.3" height="5" opacity="0.10"/><rect x="166.5" y="1071.2" width="92.6" height="5" opacity="0.19"/><rect x="178.7" y="1071.2" width="65.8" height="5" opacity="0.29"/><rect x="190.9" y="1071.2" width="41.4" height="5" opacity="0.32"/><rect x="181.1" y="1071.2" width="63.3" height="5" opacity="1.00"/><rect x="123.1" y="1071.2" width="19.2" height="5" opacity="0.11"/><rect x="167.7" y="1076.2" width="146.4" height="5" opacity="0.10"/><rect x="178.3" y="1076.2" width="97.6" height="5" opacity="0.22"/><rect x="188.9" y="1076.2" width="57.3" height="5" opacity="0.32"/><rect x="199.6" y="1076.2" width="36.1" height="5" opacity="0.36"/><rect x="191.1" y="1076.2" width="55.2" height="5" opacity="1.00"/><rect x="182.1" y="1081.2" width="92.6" height="5" opacity="0.15"/><rect x="191.5" y="1081.2" width="71.8" height="5" opacity="0.24"/><rect x="201" y="1081.2" width="51" height="5" opacity="0.36"/><rect x="210.4" y="1081.2" width="32.1" height="5" opacity="0.40"/><rect x="202.9" y="1081.2" width="49.1" height="5" opacity="1.00"/><rect x="119.3" y="1081.2" width="26.8" height="5" opacity="0.07"/><rect x="166.5" y="1086.3" width="146.9" height="5" opacity="0.11"/><rect x="178.6" y="1086.3" width="103.2" height="5" opacity="0.07"/><rect x="190.6" y="1086.3" width="65.3" height="5" opacity="0.11"/><rect x="202.7" y="1086.3" width="41.1" height="5" opacity="0.12"/><rect x="271.1" y="1086.3" width="24.8" height="5" opacity="0.13"/><rect x="366.3" y="940.5" width="146.2" height="5" opacity="0.13"/><rect x="377.2" y="940.5" width="98.9" height="5" opacity="0.11"/><rect x="388.2" y="940.5" width="59.3" height="5" opacity="0.16"/><rect x="399.2" y="940.5" width="37.3" height="5" opacity="0.18"/><rect x="352.9" y="940.5" width="37.4" height="5" opacity="0.12"/><rect x="472.2" y="940.5" width="53.9" height="5" opacity="0.14"/><rect x="406.2" y="945.5" width="86.4" height="5" opacity="0.14"/><rect x="412" y="945.5" width="55.9" height="5" opacity="0.06"/><rect x="417.8" y="945.5" width="31.3" height="5" opacity="0.09"/><rect x="423.5" y="945.5" width="19.7" height="5" opacity="0.10"/><rect x="384.1" y="950.6" width="119.5" height="5" opacity="0.14"/><rect x="396.3" y="950.6" width="92.6" height="5" opacity="0.12"/><rect x="408.5" y="950.6" width="65.8" height="5" opacity="0.18"/><rect x="420.6" y="950.6" width="41.4" height="5" opacity="0.20"/><rect x="367.4" y="950.6" width="11.6" height="5" opacity="0.10"/><rect x="403.6" y="955.6" width="80" height="5" opacity="0.11"/><rect x="411.8" y="955.6" width="62.1" height="5" opacity="0.04"/><rect x="420" y="955.6" width="44.1" height="5" opacity="0.05"/><rect x="428.1" y="955.6" width="27.8" height="5" opacity="0.06"/><rect x="464.4" y="955.6" width="42.7" height="5" opacity="0.12"/><rect x="396.2" y="960.6" width="92.9" height="5" opacity="0.11"/><rect x="405.7" y="960.6" width="72.1" height="5" opacity="0.11"/><rect x="415.2" y="960.6" width="51.2" height="5" opacity="0.16"/><rect x="424.7" y="960.6" width="32.2" height="5" opacity="0.18"/><rect x="379.2" y="965.6" width="157" height="5" opacity="0.17"/><rect x="390.8" y="965.6" width="109.2" height="5" opacity="0.13"/><rect x="402.4" y="965.6" width="62.5" height="5" opacity="0.20"/><rect x="413.9" y="965.6" width="39.3" height="5" opacity="0.22"/><rect x="459.1" y="965.6" width="52.8" height="5" opacity="0.16"/><rect x="381.1" y="970.7" width="97.2" height="5" opacity="0.10"/><rect x="389.5" y="970.7" width="69.8" height="5" opacity="0.04"/><rect x="397.9" y="970.7" width="45.3" height="5" opacity="0.05"/><rect x="406.3" y="970.7" width="28.5" height="5" opacity="0.06"/><rect x="333.3" y="970.7" width="12" height="5" opacity="0.07"/><rect x="383.7" y="975.7" width="65.6" height="5" opacity="0.08"/><rect x="390.4" y="975.7" width="50.8" height="5" opacity="0.06"/><rect x="397.1" y="975.7" width="36.1" height="5" opacity="0.09"/><rect x="403.8" y="975.7" width="22.7" height="5" opacity="0.10"/><rect x="344.3" y="975.7" width="31.5" height="5" opacity="0.12"/><rect x="372.2" y="980.7" width="106.9" height="5" opacity="0.14"/><rect x="383.1" y="980.7" width="82.9" height="5" opacity="0.12"/><rect x="394" y="980.7" width="58.9" height="5" opacity="0.18"/><rect x="405" y="980.7" width="37.1" height="5" opacity="0.20"/><rect x="343.5" y="980.7" width="24" height="5" opacity="0.11"/><rect x="385.7" y="985.7" width="131.8" height="5" opacity="0.15"/><rect x="394.2" y="985.7" width="84.1" height="5" opacity="0.13"/><rect x="402.8" y="985.7" width="46.1" height="5" opacity="0.20"/><rect x="411.3" y="985.7" width="29" height="5" opacity="0.22"/><rect x="384.6" y="990.8" width="56.9" height="5" opacity="0.14"/><rect x="390.4" y="990.8" width="44.2" height="5" opacity="0.06"/><rect x="396.2" y="990.8" width="31.4" height="5" opacity="0.09"/><rect x="402" y="990.8" width="19.8" height="5" opacity="0.10"/><rect x="347.1" y="990.8" width="37" height="5" opacity="0.13"/><rect x="481.5" y="990.8" width="38.9" height="5" opacity="0.10"/><rect x="378.2" y="995.8" width="122.8" height="5" opacity="0.13"/><rect x="387" y="995.8" width="81.3" height="5" opacity="0.12"/><rect x="395.7" y="995.8" width="47.2" height="5" opacity="0.18"/><rect x="404.5" y="995.8" width="29.7" height="5" opacity="0.20"/><rect x="395.4" y="995.8" width="26.8" height="5" opacity="0.48"/><rect x="322.1" y="995.8" width="26.9" height="5" opacity="0.06"/><rect x="365.2" y="1000.8" width="141.4" height="5" opacity="0.13"/><rect x="376.4" y="1000.8" width="97.8" height="5" opacity="0.07"/><rect x="387.6" y="1000.8" width="60.5" height="5" opacity="0.11"/><rect x="398.8" y="1000.8" width="38.1" height="5" opacity="0.12"/><rect x="332.7" y="1000.8" width="41.2" height="5" opacity="0.12"/><rect x="373.5" y="1005.8" width="87.9" height="5" opacity="0.12"/><rect x="382.5" y="1005.8" width="68.2" height="5" opacity="0.10"/><rect x="391.5" y="1005.8" width="48.5" height="5" opacity="0.14"/><rect x="400.4" y="1005.8" width="30.5" height="5" opacity="0.16"/><rect x="360.4" y="1010.9" width="118" height="5" opacity="0.10"/><rect x="372.5" y="1010.9" width="91.5" height="5" opacity="0.10"/><rect x="384.5" y="1010.9" width="65" height="5" opacity="0.14"/><rect x="396.5" y="1010.9" width="40.9" height="5" opacity="0.16"/><rect x="351.6" y="1010.9" width="14.7" height="5" opacity="0.10"/><rect x="503.8" y="1010.9" width="20" height="5" opacity="0.11"/><rect x="377.1" y="1015.9" width="84.6" height="5" opacity="0.08"/><rect x="385.8" y="1015.9" width="65.6" height="5" opacity="0.12"/><rect x="394.4" y="1015.9" width="46.6" height="5" opacity="0.18"/><rect x="403" y="1015.9" width="29.4" height="5" opacity="0.20"/><rect x="357" y="1015.9" width="30.6" height="5" opacity="0.12"/><rect x="364.8" y="1020.9" width="98.7" height="5" opacity="0.11"/><rect x="374.9" y="1020.9" width="76.6" height="5" opacity="0.10"/><rect x="385" y="1020.9" width="54.4" height="5" opacity="0.14"/><rect x="395" y="1020.9" width="34.3" height="5" opacity="0.16"/><rect x="470.5" y="1020.9" width="37.5" height="5" opacity="0.08"/><rect x="372.1" y="1026" width="67" height="5" opacity="0.12"/><rect x="378.9" y="1026" width="52" height="5" opacity="0.06"/><rect x="385.7" y="1026" width="36.9" height="5" opacity="0.09"/><rect x="392.6" y="1026" width="23.2" height="5" opacity="0.10"/><rect x="352.3" y="1031" width="92.5" height="5" opacity="0.10"/><rect x="361.7" y="1031" width="71.7" height="5" opacity="0.12"/><rect x="371.2" y="1031" width="51" height="5" opacity="0.18"/><rect x="380.6" y="1031" width="32.1" height="5" opacity="0.20"/><rect x="336" y="1031" width="43.3" height="5" opacity="0.08"/><rect x="365.1" y="1036" width="87.6" height="5" opacity="0.13"/><rect x="373.2" y="1036" width="65.1" height="5" opacity="0.13"/><rect x="381.4" y="1036" width="44.2" height="5" opacity="0.20"/><rect x="389.6" y="1036" width="27.8" height="5" opacity="0.22"/><rect x="466.3" y="1036" width="31.8" height="5" opacity="0.08"/><rect x="349.6" y="1041" width="100.4" height="5" opacity="0.09"/><rect x="359.8" y="1041" width="77.9" height="5" opacity="0.10"/><rect x="370.1" y="1041" width="55.3" height="5" opacity="0.14"/><rect x="380.3" y="1041" width="34.8" height="5" opacity="0.16"/><rect x="446.4" y="1041" width="55.9" height="5" opacity="0.13"/><rect x="357.5" y="1046.1" width="100.1" height="5" opacity="0.11"/><rect x="367.7" y="1046.1" width="77.6" height="5" opacity="0.12"/><rect x="377.9" y="1046.1" width="55.2" height="5" opacity="0.18"/><rect x="388.1" y="1046.1" width="34.7" height="5" opacity="0.20"/><rect x="347" y="1046.1" width="36.7" height="5" opacity="0.09"/><rect x="369.3" y="1051.1" width="117.9" height="5" opacity="0.10"/><rect x="376.4" y="1051.1" width="73.5" height="5" opacity="0.12"/><rect x="383.6" y="1051.1" width="38.7" height="5" opacity="0.18"/><rect x="390.8" y="1051.1" width="24.4" height="5" opacity="0.20"/><rect x="390.7" y="1051.1" width="26.8" height="5" opacity="0.48"/><rect x="352.4" y="1051.1" width="17.7" height="5" opacity="0.10"/><rect x="370.6" y="1056.1" width="140.9" height="5" opacity="0.12"/><rect x="379.9" y="1056.1" width="90.9" height="5" opacity="0.10"/><rect x="389.3" y="1056.1" width="50.6" height="5" opacity="0.14"/><rect x="398.7" y="1056.1" width="31.9" height="5" opacity="0.16"/><rect x="322.1" y="1056.1" width="27" height="5" opacity="0.07"/><rect x="365.4" y="1061.1" width="123.2" height="5" opacity="0.12"/><rect x="376.5" y="1061.1" width="90" height="5" opacity="0.11"/><rect x="387.5" y="1061.1" width="59.7" height="5" opacity="0.16"/><rect x="398.6" y="1061.1" width="37.6" height="5" opacity="0.18"/><rect x="399" y="1066.2" width="113.4" height="5" opacity="0.13"/><rect x="404.7" y="1066.2" width="66.5" height="5" opacity="0.06"/><rect x="410.5" y="1066.2" width="31" height="5" opacity="0.09"/><rect x="416.2" y="1066.2" width="19.5" height="5" opacity="0.10"/><rect x="322.1" y="1066.2" width="28.6" height="5" opacity="0.13"/><rect x="473.1" y="1066.2" width="18.4" height="5" opacity="0.10"/><rect x="375.1" y="1071.2" width="79.5" height="5" opacity="0.13"/><rect x="383.2" y="1071.2" width="61.6" height="5" opacity="0.04"/><rect x="391.3" y="1071.2" width="43.8" height="5" opacity="0.05"/><rect x="399.4" y="1071.2" width="27.6" height="5" opacity="0.06"/><rect x="342.9" y="1071.2" width="40.6" height="5" opacity="0.07"/><rect x="492.7" y="1071.2" width="17.4" height="5" opacity="0.12"/><rect x="364.9" y="1076.2" width="155.2" height="5" opacity="0.16"/><rect x="375" y="1076.2" width="99" height="5" opacity="0.12"/><rect x="385" y="1076.2" width="54.2" height="5" opacity="0.18"/><rect x="395" y="1076.2" width="34.1" height="5" opacity="0.20"/><rect x="322.1" y="1076.2" width="24.5" height="5" opacity="0.08"/><rect x="368.3" y="1081.2" width="128.9" height="5" opacity="0.09"/><rect x="377.2" y="1081.2" width="84.6" height="5" opacity="0.12"/><rect x="386.2" y="1081.2" width="48.5" height="5" opacity="0.18"/><rect x="395.2" y="1081.2" width="30.5" height="5" opacity="0.20"/><rect x="461.3" y="1081.2" width="18.2" height="5" opacity="0.12"/><rect x="349" y="1086.3" width="170.2" height="5" opacity="0.16"/><rect x="361.6" y="1086.3" width="114.5" height="5" opacity="0.13"/><rect x="374.2" y="1086.3" width="68.2" height="5" opacity="0.20"/><rect x="386.9" y="1086.3" width="42.9" height="5" opacity="0.22"/><rect x="350" y="1086.3" width="12.5" height="5" opacity="0.08"/><rect x="304.2" y="1116.9" width="14.6" height="5" opacity="0.15"/><rect x="235.3" y="1121.9" width="49.4" height="5" opacity="0.19"/><rect x="275.3" y="1121.9" width="46.4" height="5" opacity="0.13"/><rect x="312.4" y="1127" width="9.3" height="5" opacity="0.10"/><rect x="141.1" y="1127" width="19" height="5" opacity="0.16"/><rect x="207.1" y="1132" width="11.3" height="5" opacity="0.08"/><rect x="124.3" y="1132" width="34.1" height="5" opacity="0.17"/><rect x="239.8" y="1132" width="9.6" height="5" opacity="0.09"/><rect x="119" y="1132" width="24.6" height="5" opacity="0.15"/><rect x="262" y="1137" width="59.7" height="5" opacity="0.18"/><rect x="119" y="1137" width="28.6" height="5" opacity="0.12"/><rect x="289.1" y="1142" width="32.7" height="5" opacity="0.07"/><rect x="210.9" y="1147.1" width="30.7" height="5" opacity="0.11"/><rect x="280.6" y="1152.1" width="31.9" height="5" opacity="0.19"/><rect x="197.2" y="1152.1" width="26.3" height="5" opacity="0.14"/><rect x="175.1" y="1152.1" width="49.5" height="5" opacity="0.13"/><rect x="119" y="1152.1" width="30.6" height="5" opacity="0.08"/><rect x="250.9" y="1157.1" width="44.6" height="5" opacity="0.07"/><rect x="228.3" y="1157.1" width="53.9" height="5" opacity="0.17"/><rect x="132.8" y="1162.1" width="17.6" height="5" opacity="0.10"/><rect x="131.6" y="1162.1" width="28.6" height="5" opacity="0.18"/><rect x="174.5" y="1162.1" width="24" height="5" opacity="0.08"/><rect x="183.8" y="1162.1" width="36.5" height="5" opacity="0.12"/><rect x="184.9" y="1167.2" width="26.8" height="5" opacity="0.08"/><rect x="119" y="1167.2" width="16.2" height="5" opacity="0.15"/><rect x="171.7" y="1172.2" width="37.6" height="5" opacity="0.09"/><rect x="158.7" y="1172.2" width="24.2" height="5" opacity="0.10"/><rect x="201" y="1172.2" width="50.8" height="5" opacity="0.10"/><rect x="134" y="1172.2" width="50.1" height="5" opacity="0.13"/><rect x="119" y="1172.2" width="23.1" height="5" opacity="0.14"/><rect x="156.9" y="1177.2" width="48.9" height="5" opacity="0.20"/><rect x="119" y="1177.2" width="23.5" height="5" opacity="0.10"/><rect x="131.9" y="1182.2" width="65.4" height="5" opacity="0.11"/><rect x="201" y="1182.2" width="40.7" height="5" opacity="0.16"/><rect x="202.2" y="1182.2" width="47.9" height="5" opacity="0.13"/><rect x="148.1" y="1182.2" width="39.9" height="5" opacity="0.10"/><rect x="231.5" y="1187.3" width="23.2" height="5" opacity="0.17"/><rect x="171" y="1187.3" width="38.6" height="5" opacity="0.10"/><rect x="119" y="1187.3" width="18.7" height="5" opacity="0.08"/><rect x="240" y="1192.3" width="44.1" height="5" opacity="0.14"/><rect x="174.9" y="1192.3" width="47.9" height="5" opacity="0.08"/><rect x="147.1" y="1197.3" width="57.3" height="5" opacity="0.12"/><rect x="202.7" y="1202.4" width="66.4" height="5" opacity="0.16"/><rect x="119" y="1202.4" width="18.4" height="5" opacity="0.09"/><rect x="182.1" y="1207.4" width="44.8" height="5" opacity="0.14"/><rect x="229.2" y="1212.4" width="50.4" height="5" opacity="0.15"/><rect x="119" y="1212.4" width="18.6" height="5" opacity="0.11"/><rect x="131.6" y="1217.4" width="16.3" height="5" opacity="0.19"/><rect x="119" y="1217.4" width="28.9" height="5" opacity="0.13"/><rect x="161.8" y="1222.5" width="12.1" height="5" opacity="0.18"/><rect x="243.3" y="1227.5" width="49.4" height="5" opacity="0.07"/><rect x="119" y="1227.5" width="34" height="5" opacity="0.12"/><rect x="257.9" y="1232.5" width="41" height="5" opacity="0.18"/><rect x="119" y="1232.5" width="29.4" height="5" opacity="0.13"/><rect x="193.9" y="1237.5" width="34.4" height="5" opacity="0.17"/><rect x="184.3" y="1242.6" width="62.8" height="5" opacity="0.10"/><rect x="126.1" y="1247.6" width="44.3" height="5" opacity="0.13"/><rect x="125.9" y="1247.6" width="46.4" height="5" opacity="0.14"/><rect x="278.7" y="1252.6" width="15" height="5" opacity="0.19"/><rect x="268.5" y="1257.6" width="14.9" height="5" opacity="0.07"/><rect x="199.3" y="1257.6" width="44.4" height="5" opacity="0.06"/><rect x="119" y="1257.6" width="37.2" height="5" opacity="0.11"/><rect x="185.9" y="1262.7" width="43.4" height="5" opacity="0.08"/><rect x="322.1" y="1116.9" width="16.7" height="5" opacity="0.05"/><rect x="354.5" y="1116.9" width="17.8" height="5" opacity="0.09"/><rect x="322.1" y="1116.9" width="13.7" height="5" opacity="0.12"/><rect x="347.9" y="1121.9" width="16.6" height="5" opacity="0.11"/><rect x="322.1" y="1121.9" width="16.6" height="5" opacity="0.11"/><rect x="399.5" y="1127" width="24.6" height="5" opacity="0.05"/><rect x="431.5" y="1127" width="38.3" height="5" opacity="0.08"/><rect x="410.9" y="1132" width="28.4" height="5" opacity="0.12"/><rect x="404.3" y="1132" width="54.7" height="5" opacity="0.12"/><rect x="476.8" y="1132" width="28.1" height="5" opacity="0.11"/><rect x="342.2" y="1132" width="62.2" height="5" opacity="0.12"/><rect x="322.1" y="1132" width="28.6" height="5" opacity="0.12"/><rect x="325" y="1137" width="25.7" height="5" opacity="0.14"/><rect x="351.2" y="1142" width="66" height="5" opacity="0.08"/><rect x="459.8" y="1142" width="19.1" height="5" opacity="0.09"/><rect x="352.8" y="1142" width="25.3" height="5" opacity="0.13"/><rect x="322.1" y="1142" width="19.2" height="5" opacity="0.16"/><rect x="359.1" y="1147.1" width="28.9" height="5" opacity="0.13"/><rect x="378.7" y="1147.1" width="34" height="5" opacity="0.11"/><rect x="332.5" y="1147.1" width="51.2" height="5" opacity="0.11"/><rect x="355.4" y="1152.1" width="38.7" height="5" opacity="0.07"/><rect x="322.1" y="1152.1" width="38" height="5" opacity="0.11"/><rect x="322.1" y="1152.1" width="18.5" height="5" opacity="0.12"/><rect x="402.7" y="1157.1" width="42.4" height="5" opacity="0.12"/><rect x="339" y="1157.1" width="62.4" height="5" opacity="0.14"/><rect x="322.1" y="1157.1" width="16.1" height="5" opacity="0.16"/><rect x="397.2" y="1162.1" width="58.5" height="5" opacity="0.11"/><rect x="322.1" y="1167.2" width="33.1" height="5" opacity="0.09"/><rect x="439.6" y="1167.2" width="25.8" height="5" opacity="0.10"/><rect x="405" y="1167.2" width="61.2" height="5" opacity="0.05"/><rect x="505.3" y="1172.2" width="15.6" height="5" opacity="0.11"/><rect x="428.1" y="1172.2" width="47.4" height="5" opacity="0.06"/><rect x="322.1" y="1172.2" width="21.6" height="5" opacity="0.10"/><rect x="475.8" y="1177.2" width="47.9" height="5" opacity="0.09"/><rect x="322.6" y="1177.2" width="58.6" height="5" opacity="0.05"/><rect x="322.1" y="1177.2" width="54.8" height="5" opacity="0.09"/><rect x="340.8" y="1177.2" width="37.1" height="5" opacity="0.04"/><rect x="322.1" y="1177.2" width="10.1" height="5" opacity="0.16"/><rect x="322.1" y="1182.2" width="28.7" height="5" opacity="0.07"/><rect x="322.1" y="1187.3" width="13.4" height="5" opacity="0.14"/><rect x="358.6" y="1187.3" width="49.3" height="5" opacity="0.11"/><rect x="322.1" y="1187.3" width="17.2" height="5" opacity="0.08"/><rect x="322.1" y="1192.3" width="46.9" height="5" opacity="0.13"/><rect x="474.1" y="1192.3" width="49.5" height="5" opacity="0.13"/><rect x="322.1" y="1192.3" width="15.7" height="5" opacity="0.09"/><rect x="322.1" y="1197.3" width="36.4" height="5" opacity="0.10"/><rect x="491.3" y="1197.3" width="20.4" height="5" opacity="0.14"/><rect x="322.1" y="1202.4" width="11.7" height="5" opacity="0.08"/><rect x="419.9" y="1207.4" width="42.3" height="5" opacity="0.11"/><rect x="322.1" y="1207.4" width="23.3" height="5" opacity="0.10"/><rect x="338.8" y="1212.4" width="41.4" height="5" opacity="0.10"/><rect x="429.2" y="1212.4" width="18.3" height="5" opacity="0.11"/><rect x="423.5" y="1217.4" width="54.2" height="5" opacity="0.06"/><rect x="467.1" y="1222.5" width="12.8" height="5" opacity="0.05"/><rect x="393.7" y="1222.5" width="17" height="5" opacity="0.09"/><rect x="322.1" y="1222.5" width="11.7" height="5" opacity="0.11"/><rect x="443.9" y="1227.5" width="33.5" height="5" opacity="0.08"/><rect x="449.7" y="1227.5" width="60.4" height="5" opacity="0.09"/><rect x="342.7" y="1227.5" width="9.9" height="5" opacity="0.07"/><rect x="352.1" y="1232.5" width="31.8" height="5" opacity="0.08"/><rect x="322.1" y="1232.5" width="29.1" height="5" opacity="0.12"/><rect x="456" y="1237.5" width="28.6" height="5" opacity="0.08"/><rect x="322.1" y="1237.5" width="26.8" height="5" opacity="0.07"/><rect x="415.8" y="1242.6" width="16.4" height="5" opacity="0.12"/><rect x="437.4" y="1247.6" width="60.1" height="5" opacity="0.09"/><rect x="473.2" y="1247.6" width="49.9" height="5" opacity="0.06"/><rect x="454.9" y="1252.6" width="27" height="5" opacity="0.09"/><rect x="376.6" y="1252.6" width="59.5" height="5" opacity="0.08"/><rect x="440.7" y="1257.6" width="57.3" height="5" opacity="0.11"/><rect x="394.1" y="1257.6" width="13.7" height="5" opacity="0.14"/><rect x="462.4" y="1262.7" width="12.5" height="5" opacity="0.09"/><rect x="501.7" y="1262.7" width="27.5" height="5" opacity="0.08"/><rect x="192.3" y="1271.4" width="77" height="5" opacity="0.08"/><rect x="198" y="1271.4" width="52" height="5" opacity="0.12"/><rect x="203.8" y="1271.4" width="31.1" height="5" opacity="0.18"/><rect x="209.5" y="1271.4" width="19.6" height="5" opacity="0.20"/><rect x="203.1" y="1271.4" width="26.8" height="5" opacity="0.48"/><rect x="292.7" y="1271.4" width="29" height="5" opacity="0.13"/><rect x="204.1" y="1276.4" width="51.6" height="5" opacity="0.09"/><rect x="209.3" y="1276.4" width="40" height="5" opacity="0.07"/><rect x="214.6" y="1276.4" width="28.4" height="5" opacity="0.11"/><rect x="219.9" y="1276.4" width="17.9" height="5" opacity="0.12"/><rect x="114" y="1276.4" width="34.1" height="5" opacity="0.10"/><rect x="183.3" y="1281.5" width="138.4" height="5" opacity="0.10"/><rect x="192.5" y="1281.5" width="89.8" height="5" opacity="0.13"/><rect x="201.7" y="1281.5" width="49.7" height="5" opacity="0.20"/><rect x="210.9" y="1281.5" width="31.3" height="5" opacity="0.22"/><rect x="130.8" y="1281.5" width="19.7" height="5" opacity="0.09"/><rect x="202" y="1286.5" width="54.1" height="5" opacity="0.15"/><rect x="207.5" y="1286.5" width="42" height="5" opacity="0.12"/><rect x="213" y="1286.5" width="29.8" height="5" opacity="0.18"/><rect x="218.5" y="1286.5" width="18.8" height="5" opacity="0.20"/><rect x="218.2" y="1286.5" width="26.8" height="5" opacity="0.48"/><rect x="276.4" y="1286.5" width="18.8" height="5" opacity="0.08"/><rect x="194.5" y="1291.5" width="80.5" height="5" opacity="0.08"/><rect x="200.4" y="1291.5" width="53.8" height="5" opacity="0.12"/><rect x="206.2" y="1291.5" width="31.7" height="5" opacity="0.18"/><rect x="212.1" y="1291.5" width="20" height="5" opacity="0.20"/><rect x="178.8" y="1296.5" width="99" height="5" opacity="0.13"/><rect x="188.9" y="1296.5" width="76.8" height="5" opacity="0.13"/><rect x="199" y="1296.5" width="54.5" height="5" opacity="0.20"/><rect x="209.1" y="1296.5" width="34.3" height="5" opacity="0.22"/><rect x="254.5" y="1296.5" width="38.9" height="5" opacity="0.09"/><rect x="192.4" y="1301.6" width="104" height="5" opacity="0.15"/><rect x="201.9" y="1301.6" width="76.6" height="5" opacity="0.04"/><rect x="211.3" y="1301.6" width="51.3" height="5" opacity="0.05"/><rect x="220.8" y="1301.6" width="32.3" height="5" opacity="0.06"/><rect x="120.5" y="1301.6" width="44.1" height="5" opacity="0.12"/><rect x="193.6" y="1306.6" width="116.3" height="5" opacity="0.11"/><rect x="201.6" y="1306.6" width="76.1" height="5" opacity="0.06"/><rect x="209.7" y="1306.6" width="43.4" height="5" opacity="0.09"/><rect x="217.7" y="1306.6" width="27.3" height="5" opacity="0.10"/><rect x="144.2" y="1306.6" width="26.6" height="5" opacity="0.14"/><rect x="302.7" y="1306.6" width="19" height="5" opacity="0.10"/><rect x="182.4" y="1311.6" width="101.3" height="5" opacity="0.08"/><rect x="191.9" y="1311.6" width="75.6" height="5" opacity="0.04"/><rect x="201.5" y="1311.6" width="51.5" height="5" opacity="0.05"/><rect x="211" y="1311.6" width="32.4" height="5" opacity="0.06"/><rect x="161.7" y="1311.6" width="23.4" height="5" opacity="0.14"/><rect x="200.7" y="1316.6" width="54.2" height="5" opacity="0.13"/><rect x="206.3" y="1316.6" width="42" height="5" opacity="0.12"/><rect x="211.8" y="1316.6" width="29.8" height="5" opacity="0.18"/><rect x="217.3" y="1316.6" width="18.8" height="5" opacity="0.20"/><rect x="151.4" y="1316.6" width="24.4" height="5" opacity="0.12"/><rect x="256.5" y="1316.6" width="44.2" height="5" opacity="0.17"/><rect x="179" y="1321.7" width="134.7" height="5" opacity="0.15"/><rect x="187.7" y="1321.7" width="86.1" height="5" opacity="0.12"/><rect x="196.5" y="1321.7" width="47.3" height="5" opacity="0.18"/><rect x="205.2" y="1321.7" width="29.8" height="5" opacity="0.20"/><rect x="179.1" y="1326.7" width="85.7" height="5" opacity="0.08"/><rect x="187" y="1326.7" width="63.3" height="5" opacity="0.06"/><rect x="194.9" y="1326.7" width="42.6" height="5" opacity="0.09"/><rect x="202.8" y="1326.7" width="26.8" height="5" opacity="0.10"/><rect x="193.4" y="1331.7" width="95.1" height="5" opacity="0.16"/><rect x="200.3" y="1331.7" width="63.2" height="5" opacity="0.04"/><rect x="207.1" y="1331.7" width="36.9" height="5" opacity="0.05"/><rect x="213.9" y="1331.7" width="23.2" height="5" opacity="0.06"/><rect x="305" y="1331.7" width="16.7" height="5" opacity="0.15"/><rect x="160.3" y="1336.7" width="104.5" height="5" opacity="0.13"/><rect x="170.9" y="1336.7" width="81" height="5" opacity="0.12"/><rect x="181.6" y="1336.7" width="57.6" height="5" opacity="0.18"/><rect x="192.3" y="1336.7" width="36.2" height="5" opacity="0.20"/><rect x="174" y="1341.8" width="69.9" height="5" opacity="0.12"/><rect x="181.1" y="1341.8" width="54.2" height="5" opacity="0.10"/><rect x="188.2" y="1341.8" width="38.5" height="5" opacity="0.14"/><rect x="195.4" y="1341.8" width="24.2" height="5" opacity="0.16"/><rect x="148.1" y="1341.8" width="19.6" height="5" opacity="0.10"/><rect x="177.5" y="1346.8" width="144.2" height="5" opacity="0.10"/><rect x="187.1" y="1346.8" width="93.3" height="5" opacity="0.06"/><rect x="196.6" y="1346.8" width="51.7" height="5" opacity="0.09"/><rect x="206.2" y="1346.8" width="32.6" height="5" opacity="0.10"/><rect x="262.7" y="1346.8" width="26.5" height="5" opacity="0.12"/><rect x="166.5" y="1351.8" width="137.2" height="5" opacity="0.16"/><rect x="176.1" y="1351.8" width="90.4" height="5" opacity="0.13"/><rect x="185.8" y="1351.8" width="52.2" height="5" opacity="0.20"/><rect x="195.4" y="1351.8" width="32.8" height="5" opacity="0.22"/><rect x="304.4" y="1351.8" width="17.3" height="5" opacity="0.11"/><rect x="176.3" y="1356.9" width="103.9" height="5" opacity="0.09"/><rect x="183.5" y="1356.9" width="68.1" height="5" opacity="0.11"/><rect x="190.8" y="1356.9" width="39" height="5" opacity="0.16"/><rect x="198" y="1356.9" width="24.6" height="5" opacity="0.18"/><rect x="163.1" y="1361.9" width="136.7" height="5" opacity="0.14"/><rect x="173.1" y="1361.9" width="91.4" height="5" opacity="0.13"/><rect x="183.1" y="1361.9" width="53.9" height="5" opacity="0.20"/><rect x="193" y="1361.9" width="34" height="5" opacity="0.22"/><rect x="246.9" y="1361.9" width="55.6" height="5" opacity="0.16"/><rect x="191.7" y="1366.9" width="73.3" height="5" opacity="0.14"/><rect x="198" y="1366.9" width="52.6" height="5" opacity="0.06"/><rect x="204.3" y="1366.9" width="34.2" height="5" opacity="0.09"/><rect x="210.7" y="1366.9" width="21.5" height="5" opacity="0.10"/><rect x="189.4" y="1371.9" width="87.4" height="5" opacity="0.16"/><rect x="196.4" y="1371.9" width="60.7" height="5" opacity="0.11"/><rect x="203.4" y="1371.9" width="37.8" height="5" opacity="0.16"/><rect x="210.4" y="1371.9" width="23.8" height="5" opacity="0.18"/><rect x="157.1" y="1371.9" width="19.9" height="5" opacity="0.12"/><rect x="183.1" y="1377" width="84.3" height="5" opacity="0.11"/><rect x="189.9" y="1377" width="58.9" height="5" opacity="0.07"/><rect x="196.8" y="1377" width="36.9" height="5" opacity="0.11"/><rect x="203.6" y="1377" width="23.2" height="5" opacity="0.12"/><rect x="283.3" y="1377" width="20" height="5" opacity="0.10"/><rect x="169.2" y="1382" width="93.9" height="5" opacity="0.10"/><rect x="178.8" y="1382" width="72.8" height="5" opacity="0.11"/><rect x="188.4" y="1382" width="51.8" height="5" opacity="0.16"/><rect x="198" y="1382" width="32.6" height="5" opacity="0.18"/><rect x="181.9" y="1387" width="111.8" height="5" opacity="0.09"/><rect x="189.5" y="1387" width="72.7" height="5" opacity="0.04"/><rect x="197.1" y="1387" width="41.1" height="5" opacity="0.05"/><rect x="204.8" y="1387" width="25.9" height="5" opacity="0.06"/><rect x="284.9" y="1387" width="32.5" height="5" opacity="0.11"/><rect x="171.6" y="1392" width="99" height="5" opacity="0.14"/><rect x="181.7" y="1392" width="76.7" height="5" opacity="0.11"/><rect x="191.8" y="1392" width="54.5" height="5" opacity="0.16"/><rect x="201.9" y="1392" width="34.3" height="5" opacity="0.18"/><rect x="178.4" y="1397.1" width="112" height="5" opacity="0.10"/><rect x="185.1" y="1397.1" width="69.4" height="5" opacity="0.07"/><rect x="191.8" y="1397.1" width="36.2" height="5" opacity="0.11"/><rect x="198.5" y="1397.1" width="22.8" height="5" opacity="0.12"/><rect x="128.1" y="1397.1" width="14.2" height="5" opacity="0.14"/><rect x="168.4" y="1402.1" width="94.5" height="5" opacity="0.13"/><rect x="178" y="1402.1" width="73.3" height="5" opacity="0.12"/><rect x="187.7" y="1402.1" width="52.1" height="5" opacity="0.18"/><rect x="197.3" y="1402.1" width="32.8" height="5" opacity="0.20"/><rect x="277.8" y="1402.1" width="29.4" height="5" opacity="0.15"/><rect x="176.6" y="1407.1" width="105.7" height="5" opacity="0.13"/><rect x="183" y="1407.1" width="65.9" height="5" opacity="0.04"/><rect x="189.4" y="1407.1" width="34.7" height="5" opacity="0.05"/><rect x="195.9" y="1407.1" width="21.9" height="5" opacity="0.06"/><rect x="143" y="1407.1" width="18.4" height="5" opacity="0.14"/><rect x="263.9" y="1407.1" width="16.4" height="5" opacity="0.15"/><rect x="184.1" y="1412.1" width="59.1" height="5" opacity="0.16"/><rect x="190.2" y="1412.1" width="45.9" height="5" opacity="0.10"/><rect x="196.2" y="1412.1" width="32.6" height="5" opacity="0.14"/><rect x="202.2" y="1412.1" width="20.5" height="5" opacity="0.16"/><rect x="159.3" y="1412.1" width="25.3" height="5" opacity="0.12"/><rect x="175.2" y="1417.2" width="64.6" height="5" opacity="0.15"/><rect x="181.8" y="1417.2" width="50.1" height="5" opacity="0.12"/><rect x="188.3" y="1417.2" width="35.6" height="5" opacity="0.18"/><rect x="194.9" y="1417.2" width="22.4" height="5" opacity="0.20"/><rect x="159.1" y="1417.2" width="29.8" height="5" opacity="0.13"/><rect x="381.8" y="1271.4" width="76.5" height="5" opacity="0.11"/><rect x="389.6" y="1271.4" width="59.3" height="5" opacity="0.07"/><rect x="397.4" y="1271.4" width="42.1" height="5" opacity="0.11"/><rect x="405.2" y="1271.4" width="26.5" height="5" opacity="0.12"/><rect x="351" y="1271.4" width="41.6" height="5" opacity="0.12"/><rect x="370.5" y="1276.4" width="116.1" height="5" opacity="0.08"/><rect x="379.8" y="1276.4" width="80.4" height="5" opacity="0.06"/><rect x="389" y="1276.4" width="49.9" height="5" opacity="0.09"/><rect x="398.3" y="1276.4" width="31.4" height="5" opacity="0.10"/><rect x="498.7" y="1276.4" width="26.3" height="5" opacity="0.12"/><rect x="382.6" y="1281.5" width="75.9" height="5" opacity="0.12"/><rect x="388.2" y="1281.5" width="51" height="5" opacity="0.11"/><rect x="393.8" y="1281.5" width="30.3" height="5" opacity="0.17"/><rect x="399.5" y="1281.5" width="19.1" height="5" opacity="0.19"/><rect x="328.2" y="1281.5" width="41.8" height="5" opacity="0.12"/><rect x="362.2" y="1286.5" width="125.6" height="5" opacity="0.15"/><rect x="371.6" y="1286.5" width="84.9" height="5" opacity="0.06"/><rect x="381.1" y="1286.5" width="50.8" height="5" opacity="0.09"/><rect x="390.5" y="1286.5" width="32" height="5" opacity="0.10"/><rect x="374.9" y="1291.5" width="103.9" height="5" opacity="0.14"/><rect x="382.9" y="1291.5" width="70.8" height="5" opacity="0.14"/><rect x="390.8" y="1291.5" width="42.9" height="5" opacity="0.21"/><rect x="398.7" y="1291.5" width="27" height="5" opacity="0.23"/><rect x="448.8" y="1291.5" width="49.4" height="5" opacity="0.12"/><rect x="389.2" y="1296.5" width="60" height="5" opacity="0.16"/><rect x="395.3" y="1296.5" width="46.5" height="5" opacity="0.11"/><rect x="401.4" y="1296.5" width="33.1" height="5" opacity="0.17"/><rect x="407.5" y="1296.5" width="20.8" height="5" opacity="0.19"/><rect x="361" y="1301.6" width="146.2" height="5" opacity="0.14"/><rect x="371.4" y="1301.6" width="96.8" height="5" opacity="0.12"/><rect x="381.8" y="1301.6" width="56.2" height="5" opacity="0.19"/><rect x="392.2" y="1301.6" width="35.4" height="5" opacity="0.21"/><rect x="361.9" y="1301.6" width="19" height="5" opacity="0.11"/><rect x="377.1" y="1306.6" width="102.2" height="5" opacity="0.12"/><rect x="386.6" y="1306.6" width="75.7" height="5" opacity="0.04"/><rect x="396" y="1306.6" width="51" height="5" opacity="0.06"/><rect x="405.5" y="1306.6" width="32.1" height="5" opacity="0.06"/><rect x="329.5" y="1306.6" width="24.6" height="5" opacity="0.11"/><rect x="382.5" y="1311.6" width="79.3" height="5" opacity="0.09"/><rect x="390.6" y="1311.6" width="61.5" height="5" opacity="0.14"/><rect x="398.7" y="1311.6" width="43.7" height="5" opacity="0.21"/><rect x="406.8" y="1311.6" width="27.5" height="5" opacity="0.23"/><rect x="392.4" y="1316.6" width="55.7" height="5" opacity="0.13"/><rect x="398.1" y="1316.6" width="43.2" height="5" opacity="0.10"/><rect x="403.8" y="1316.6" width="30.7" height="5" opacity="0.15"/><rect x="409.4" y="1316.6" width="19.3" height="5" opacity="0.17"/><rect x="344.4" y="1316.6" width="25.1" height="5" opacity="0.13"/><rect x="376.9" y="1321.7" width="125.6" height="5" opacity="0.14"/><rect x="386.5" y="1321.7" width="85.5" height="5" opacity="0.12"/><rect x="396" y="1321.7" width="51.7" height="5" opacity="0.19"/><rect x="405.6" y="1321.7" width="32.6" height="5" opacity="0.21"/><rect x="327.8" y="1321.7" width="41.6" height="5" opacity="0.10"/><rect x="363.6" y="1326.7" width="107.4" height="5" opacity="0.16"/><rect x="372.7" y="1326.7" width="76.5" height="5" opacity="0.12"/><rect x="381.8" y="1326.7" width="49.2" height="5" opacity="0.19"/><rect x="390.9" y="1326.7" width="31" height="5" opacity="0.21"/><rect x="397.3" y="1326.7" width="26.8" height="5" opacity="0.48"/><rect x="364" y="1331.7" width="93.3" height="5" opacity="0.15"/><rect x="372.4" y="1331.7" width="68.6" height="5" opacity="0.04"/><rect x="380.9" y="1331.7" width="45.9" height="5" opacity="0.06"/><rect x="389.4" y="1331.7" width="28.9" height="5" opacity="0.06"/><rect x="363.8" y="1336.7" width="98.3" height="5" opacity="0.12"/><rect x="373.8" y="1336.7" width="76.2" height="5" opacity="0.12"/><rect x="383.9" y="1336.7" width="54.1" height="5" opacity="0.19"/><rect x="393.9" y="1336.7" width="34.1" height="5" opacity="0.21"/><rect x="322.1" y="1336.7" width="24.4" height="5" opacity="0.07"/><rect x="351.1" y="1341.8" width="102.4" height="5" opacity="0.12"/><rect x="361.5" y="1341.8" width="79.4" height="5" opacity="0.14"/><rect x="372" y="1341.8" width="56.4" height="5" opacity="0.21"/><rect x="382.4" y="1341.8" width="35.5" height="5" opacity="0.23"/><rect x="390.6" y="1341.8" width="26.8" height="5" opacity="0.48"/><rect x="340.4" y="1341.8" width="30.8" height="5" opacity="0.10"/><rect x="363.9" y="1346.8" width="120.6" height="5" opacity="0.16"/><rect x="372.7" y="1346.8" width="80.7" height="5" opacity="0.06"/><rect x="381.5" y="1346.8" width="47.6" height="5" opacity="0.09"/><rect x="390.3" y="1346.8" width="30" height="5" opacity="0.10"/><rect x="322.1" y="1346.8" width="11.4" height="5" opacity="0.13"/><rect x="364.8" y="1351.8" width="80.9" height="5" opacity="0.12"/><rect x="373.1" y="1351.8" width="62.8" height="5" opacity="0.12"/><rect x="381.4" y="1351.8" width="44.6" height="5" opacity="0.19"/><rect x="389.6" y="1351.8" width="28.1" height="5" opacity="0.21"/><rect x="326.7" y="1351.8" width="28.2" height="5" opacity="0.08"/><rect x="454.1" y="1351.8" width="51.9" height="5" opacity="0.16"/><rect x="360.4" y="1356.9" width="97.6" height="5" opacity="0.13"/><rect x="370.3" y="1356.9" width="75.7" height="5" opacity="0.11"/><rect x="380.3" y="1356.9" width="53.8" height="5" opacity="0.17"/><rect x="390.2" y="1356.9" width="33.9" height="5" opacity="0.19"/><rect x="390.8" y="1356.9" width="26.8" height="5" opacity="0.48"/><rect x="345.7" y="1356.9" width="20" height="5" opacity="0.13"/><rect x="457" y="1356.9" width="35" height="5" opacity="0.17"/><rect x="365.5" y="1361.9" width="79.9" height="5" opacity="0.13"/><rect x="373.7" y="1361.9" width="61.9" height="5" opacity="0.06"/><rect x="381.8" y="1361.9" width="44" height="5" opacity="0.09"/><rect x="390" y="1361.9" width="27.7" height="5" opacity="0.10"/><rect x="322.1" y="1361.9" width="19" height="5" opacity="0.07"/><rect x="460" y="1361.9" width="41.4" height="5" opacity="0.15"/><rect x="375.5" y="1366.9" width="92" height="5" opacity="0.16"/><rect x="380.9" y="1366.9" width="56.7" height="5" opacity="0.06"/><rect x="386.3" y="1366.9" width="29.2" height="5" opacity="0.09"/><rect x="391.8" y="1366.9" width="18.4" height="5" opacity="0.10"/><rect x="331.9" y="1366.9" width="17.4" height="5" opacity="0.10"/><rect x="360.5" y="1371.9" width="89.2" height="5" opacity="0.16"/><rect x="369.6" y="1371.9" width="69.2" height="5" opacity="0.12"/><rect x="378.8" y="1371.9" width="49.2" height="5" opacity="0.19"/><rect x="387.9" y="1371.9" width="31" height="5" opacity="0.21"/><rect x="461.4" y="1371.9" width="35" height="5" opacity="0.17"/><rect x="357" y="1377" width="118.2" height="5" opacity="0.10"/><rect x="367.4" y="1377" width="85.4" height="5" opacity="0.11"/><rect x="377.7" y="1377" width="55.9" height="5" opacity="0.17"/><rect x="388.1" y="1377" width="35.2" height="5" opacity="0.19"/><rect x="352.3" y="1377" width="14.4" height="5" opacity="0.14"/><rect x="371.5" y="1382" width="101" height="5" opacity="0.09"/><rect x="378.5" y="1382" width="66.1" height="5" opacity="0.04"/><rect x="385.5" y="1382" width="37.7" height="5" opacity="0.06"/><rect x="392.5" y="1382" width="23.7" height="5" opacity="0.06"/><rect x="328.8" y="1382" width="43.5" height="5" opacity="0.12"/><rect x="470.6" y="1382" width="22.1" height="5" opacity="0.09"/><rect x="369.1" y="1387" width="79.3" height="5" opacity="0.08"/><rect x="376.9" y="1387" width="60.5" height="5" opacity="0.07"/><rect x="384.8" y="1387" width="42.2" height="5" opacity="0.11"/><rect x="392.6" y="1387" width="26.6" height="5" opacity="0.12"/><rect x="322.1" y="1387" width="22.4" height="5" opacity="0.07"/><rect x="363.4" y="1392" width="91.7" height="5" opacity="0.15"/><rect x="372.7" y="1392" width="71.1" height="5" opacity="0.06"/><rect x="382.1" y="1392" width="50.5" height="5" opacity="0.09"/><rect x="391.5" y="1392" width="31.8" height="5" opacity="0.10"/><rect x="322.1" y="1392" width="33.5" height="5" opacity="0.13"/><rect x="367.3" y="1397.1" width="113.5" height="5" opacity="0.09"/><rect x="378.9" y="1397.1" width="88" height="5" opacity="0.07"/><rect x="390.5" y="1397.1" width="62.5" height="5" opacity="0.11"/><rect x="402" y="1397.1" width="39.4" height="5" opacity="0.12"/><rect x="374.3" y="1402.1" width="116.1" height="5" opacity="0.16"/><rect x="384.9" y="1402.1" width="85.6" height="5" opacity="0.11"/><rect x="395.6" y="1402.1" width="57.4" height="5" opacity="0.17"/><rect x="406.2" y="1402.1" width="36.2" height="5" opacity="0.19"/><rect x="322.1" y="1402.1" width="25.5" height="5" opacity="0.10"/><rect x="366.2" y="1407.1" width="143.7" height="5" opacity="0.09"/><rect x="376.4" y="1407.1" width="94.7" height="5" opacity="0.06"/><rect x="386.5" y="1407.1" width="54.7" height="5" opacity="0.09"/><rect x="396.6" y="1407.1" width="34.4" height="5" opacity="0.10"/><rect x="497.1" y="1407.1" width="31.3" height="5" opacity="0.10"/><rect x="381" y="1412.1" width="103.7" height="5" opacity="0.15"/><rect x="386.4" y="1412.1" width="61.5" height="5" opacity="0.04"/><rect x="391.9" y="1412.1" width="29.4" height="5" opacity="0.06"/><rect x="397.3" y="1412.1" width="18.5" height="5" opacity="0.06"/><rect x="350.9" y="1412.1" width="19.1" height="5" opacity="0.13"/><rect x="363.4" y="1417.2" width="122.7" height="5" opacity="0.15"/><rect x="371.7" y="1417.2" width="79.7" height="5" opacity="0.11"/><rect x="380" y="1417.2" width="44.9" height="5" opacity="0.17"/><rect x="388.3" y="1417.2" width="28.3" height="5" opacity="0.19"/></g></g><rect x="520.9" y="785.7" width="6.3" height="150.8" fill="url(#cbar)"/><text x="529.3" y="798.2" font-size="14.5">15</text><text x="534.5" y="937" font-size="14.5">0</text><rect x="520.9" y="940.5" width="6.3" height="150.8" fill="url(#cbar)"/><text x="529.3" y="953" font-size="14.5">15</text><text x="534.5" y="1091.8" font-size="14.5">0</text><rect x="520.9" y="1116.9" width="6.3" height="150.8" fill="url(#cbar)"/><text x="529.3" y="1129.4" font-size="14.5">15</text><text x="534.5" y="1268.2" font-size="14.5">0</text><rect x="520.9" y="1271.4" width="6.3" height="150.8" fill="url(#cbar)"/><text x="529.3" y="1283.9" font-size="14.5">15</text><text x="534.5" y="1422.7" font-size="14.5">0</text><rect x="128.7" y="742.6" width="191.2" height="39.8" fill="#fff" stroke="#000" stroke-width="2"/><rect x="325.5" y="742.6" width="191.4" height="39.8" fill="#fff" stroke="#000" stroke-width="2"/><text x="223.7" y="769.5" font-size="21" text-anchor="middle" letter-spacing="0.5">Pre</text><text x="420.8" y="769.5" font-size="21" text-anchor="middle" letter-spacing="0.5">Music</text><rect x="46.2" y="786" width="39.6" height="305" fill="#fff" stroke="#000" stroke-width="2"/><rect x="46.2" y="1117.3" width="39.6" height="305.3" fill="#fff" stroke="#000" stroke-width="2"/><text font-size="21.3" text-anchor="middle" transform="translate(72.5 953) rotate(-90)">NCI</text><text font-size="21.3" text-anchor="middle" transform="translate(72.5 1270) rotate(-90)">CON</text><rect x="90.4" y="785.9" width="34.2" height="150.7" fill="#fff" stroke="#000" stroke-width="1"/><text font-size="21.3" text-anchor="middle" transform="translate(112.3 861.2) rotate(-90)">20 mmHg</text><rect x="90.4" y="940.3" width="34.2" height="151" fill="#fff" stroke="#000" stroke-width="1"/><text font-size="21.3" text-anchor="middle" transform="translate(112.3 1015.8) rotate(-90)">60 mmHg</text><rect x="90.4" y="1117.1" width="34.2" height="150.7" fill="#fff" stroke="#000" stroke-width="1"/><text font-size="21.3" text-anchor="middle" transform="translate(112.3 1192.4) rotate(-90)">20 mmHg</text><rect x="90.4" y="1271.6" width="34.2" height="151.1" fill="#fff" stroke="#000" stroke-width="1"/><text font-size="21.3" text-anchor="middle" transform="translate(112.3 1347.2) rotate(-90)">60 mmHg</text><text x="128.1" y="1105.1" font-size="14.5">-2</text><text x="178.1" y="1105.1" font-size="14.5" text-anchor="middle">0</text><text x="320.5" y="1105.1" font-size="14.5" text-anchor="end">5s</text><text x="325.4" y="1105.1" font-size="14.5">-2</text><text x="375.4" y="1105.1" font-size="14.5" text-anchor="middle">0</text><text x="517.8" y="1105.1" font-size="14.5" text-anchor="end">5s</text><text x="128.1" y="1436.5" font-size="14.5">-2</text><text x="178.1" y="1436.5" font-size="14.5" text-anchor="middle">0</text><text x="320.5" y="1436.5" font-size="14.5" text-anchor="end">5s</text><text x="325.4" y="1436.5" font-size="14.5">-2</text><text x="375.4" y="1436.5" font-size="14.5" text-anchor="middle">0</text><text x="517.8" y="1436.5" font-size="14.5" text-anchor="end">5s</text><text x="4" y="734" font-size="29.3" font-weight="bold">E</text></g>
<g id="panelF"><text x="586" y="734" font-size="29.3" font-weight="bold">F</text><path d="M687.9 981.7L691.2 982L694.5 981.3L697.9 980.7L701.2 981.2L704.5 982.1L707.8 981.9L711.1 981.2L714.4 981.4L717.7 981.7L721 981.9L724.3 982.7L727.6 982.4L731 983.4L734.3 983.4L737.6 983.3L740.9 982L744.2 982.7L747.5 982.2L750.8 981.8L754.1 983L757.4 983.9L760.7 983.3L764.1 983.5L767.4 982.7L770.7 983L774 984L777.3 983.7L780.6 984.1L783.9 984.7L787.2 984.6L790.5 984.1L793.8 983.5L797.2 982.6L800.5 982.7L803.8 982L807.1 981.2L810.4 980.3L813.7 979.4L817 979.3L820.3 976.8L823.6 974.8L827 976L830.3 977.8L833.6 977.8L836.9 978.5L840.2 979.6L843.5 979.9L846.8 979.8L850.1 980.3L853.4 980.3L856.7 979.6L860.1 979.7L863.4 979.5L866.7 980.2L870 979.6L873.3 978.9L876.6 978.9L879.9 979.9L883.2 979.7L886.5 979.8L889.8 979.7L893.2 980.1L896.5 981.4L899.8 982.2L903.1 983.5L906.4 984.2L909.7 985.6L913 986.5L916.3 987.1L919.6 987.7L923 988.7L926.3 989.3L929.6 988.7L932.9 988.6L936.2 989.7L939.5 990.6L942.8 991.4L946.1 993.1L949.4 993.1L952.7 993.7L956.1 993.1L959.4 994.5L962.7 995.4L966 995.4L969.3 996.1L972.6 998L975.9 999.1L979.2 999.2L982.5 999.3L985.8 999.2L989.2 999.1L992.5 998.3L995.8 997.6L999.1 997.5L1002.4 996L1005.7 996.1L1009 995L1012.3 995.2L1015.6 994.2L1019 993.4L1019 1002.5L1015.6 1002.6L1012.3 1003.9L1009 1003.9L1005.7 1004.7L1002.4 1004.1L999.1 1005.7L995.8 1005.9L992.5 1006.4L989.2 1007.2L985.8 1008L982.5 1008.1L979.2 1007.7L975.9 1007L972.6 1006.8L969.3 1005.5L966 1004.7L962.7 1004.7L959.4 1003.9L956.1 1002.6L952.7 1003.7L949.4 1003.4L946.1 1001.6L942.8 1000.3L939.5 1000.1L936.2 1000.2L932.9 998.3L929.6 999.5L926.3 998.7L923 997.6L919.6 997.5L916.3 997.5L913 997.1L909.7 997.1L906.4 996.2L903.1 994.5L899.8 993L896.5 992.3L893.2 992.3L889.8 990.9L886.5 991.2L883.2 990.6L879.9 991.2L876.6 991.6L873.3 992L870 990.5L866.7 990.9L863.4 990.7L860.1 990.8L856.7 990.5L853.4 991.4L850.1 991L846.8 991.4L843.5 991.8L840.2 991.9L836.9 989.7L833.6 988.9L830.3 988.2L827 987.4L823.6 984.9L820.3 986.8L817 988.3L813.7 989.9L810.4 992L807.1 992.9L803.8 993.1L800.5 992.9L797.2 993.8L793.8 994.7L790.5 995.8L787.2 995.7L783.9 994.8L780.6 994.7L777.3 994.1L774 994.5L770.7 993.6L767.4 992.5L764.1 992.9L760.7 992.7L757.4 992.4L754.1 991.4L750.8 989.7L747.5 990.4L744.2 991L740.9 990L737.6 991.5L734.3 991.3L731 990.8L727.6 990L724.3 990L721 990.2L717.7 989.1L714.4 989L711.1 989.8L707.8 989.5L704.5 989.3L701.2 988.3L697.9 988L694.5 989.1L691.2 989.7L687.9 989.3Z" fill="#f27a7a" opacity="0.75"/><path d="M687.9 985.5L691.2 985.9L694.5 985.2L697.9 984.3L701.2 984.8L704.5 985.7L707.8 985.7L711.1 985.5L714.4 985.2L717.7 985.4L721 986.1L724.3 986.4L727.6 986.2L731 987.1L734.3 987.4L737.6 987.4L740.9 986L744.2 986.9L747.5 986.3L750.8 985.8L754.1 987.2L757.4 988.1L760.7 988L764.1 988.2L767.4 987.6L770.7 988.3L774 989.3L777.3 988.9L780.6 989.4L783.9 989.7L787.2 990.1L790.5 990L793.8 989.1L797.2 988.2L800.5 987.8L803.8 987.6L807.1 987.1L810.4 986.1L813.7 984.6L817 983.8L820.3 981.8L823.6 979.8L827 981.7L830.3 983L833.6 983.3L836.9 984.1L840.2 985.7L843.5 985.8L846.8 985.6L850.1 985.7L853.4 985.8L856.7 985.1L860.1 985.2L863.4 985.1L866.7 985.6L870 985.1L873.3 985.5L876.6 985.2L879.9 985.5L883.2 985.1L886.5 985.5L889.8 985.3L893.2 986.2L896.5 986.9L899.8 987.6L903.1 989L906.4 990.2L909.7 991.3L913 991.8L916.3 992.3L919.6 992.6L923 993.2L926.3 994L929.6 994.1L932.9 993.4L936.2 994.9L939.5 995.4L942.8 995.9L946.1 997.4L949.4 998.3L952.7 998.7L956.1 997.8L959.4 999.2L962.7 1000L966 1000L969.3 1000.8L972.6 1002.4L975.9 1003.1L979.2 1003.5L982.5 1003.7L985.8 1003.6L989.2 1003.2L992.5 1002.4L995.8 1001.7L999.1 1001.6L1002.4 1000L1005.7 1000.4L1009 999.5L1012.3 999.6L1015.6 998.4L1019 997.9" fill="none" stroke="#ef3b34" stroke-width="1.3"/><path d="M687.9 983.4L691.2 982.1L694.5 982.4L697.9 983.5L701.2 983.6L704.5 983.5L707.8 983.5L711.1 982.9L714.4 983.1L717.7 984.7L721 984.8L724.3 984.7L727.6 984.9L731 985.9L734.3 984.7L737.6 984.6L740.9 985.5L744.2 987.2L747.5 987.1L750.8 987.2L754.1 988.4L757.4 988.6L760.7 988.2L764.1 989L767.4 988.3L770.7 989.4L774 989.7L777.3 991.1L780.6 990.8L783.9 990.6L787.2 990.5L790.5 990.2L793.8 990.1L797.2 989.3L800.5 989L803.8 988.3L807.1 988.8L810.4 988.8L813.7 989.4L817 988.2L820.3 988.1L823.6 987.7L827 986.6L830.3 986.8L833.6 987L836.9 988.7L840.2 991.2L843.5 992.2L846.8 991.8L850.1 993.5L853.4 995.2L856.7 995L860.1 995.3L863.4 994.2L866.7 994L870 994L873.3 992.4L876.6 993.1L879.9 993L883.2 993L886.5 992.3L889.8 993L893.2 993.5L896.5 993.5L899.8 991.2L903.1 990L906.4 991.2L909.7 990.8L913 990.3L916.3 990.1L919.6 990.2L923 990.6L926.3 990L929.6 991.5L932.9 991.6L936.2 992.9L939.5 993.4L942.8 994.3L946.1 993L949.4 994.5L952.7 996.6L956.1 999L959.4 998.8L962.7 1000.4L966 1000.9L969.3 1001.1L972.6 1000.6L975.9 1000L979.2 1000.1L982.5 1001.1L985.8 1001.3L989.2 1002.1L992.5 1001L995.8 999.9L999.1 1000.5L1002.4 1000.7L1005.7 1000.4L1009 1001.2L1012.3 999.6L1015.6 998.4L1019 997.6L1019 1005.7L1015.6 1007.3L1012.3 1009L1009 1009.8L1005.7 1009L1002.4 1008.5L999.1 1009.3L995.8 1008.6L992.5 1009.6L989.2 1010.6L985.8 1009.3L982.5 1009.6L979.2 1007.8L975.9 1007.9L972.6 1007.9L969.3 1008.6L966 1007.9L962.7 1007.6L959.4 1005.9L956.1 1006.2L952.7 1004.8L949.4 1004L946.1 1001.9L942.8 1002.7L939.5 1001.6L936.2 1000.9L932.9 999.8L929.6 999.9L926.3 999.5L923 999.8L919.6 998.5L916.3 998.2L913 999.3L909.7 998.8L906.4 998.9L903.1 998.1L899.8 999.6L896.5 1001.5L893.2 1001.9L889.8 1000.4L886.5 1000.5L883.2 1000.7L879.9 1000.6L876.6 1001.2L873.3 1000.4L870 1002.3L866.7 1001.8L863.4 1001.6L860.1 1003.2L856.7 1002.7L853.4 1001.4L850.1 999.9L846.8 998.5L843.5 997.8L840.2 997.7L836.9 995.4L833.6 993.7L830.3 993.3L827 993.8L823.6 995.4L820.3 996L817 996L813.7 996.8L810.4 995.4L807.1 995.4L803.8 994.9L800.5 995.6L797.2 996.1L793.8 996.6L790.5 996.8L787.2 997.5L783.9 997.6L780.6 998.8L777.3 998.6L774 997.2L770.7 996L767.4 995.6L764.1 996.8L760.7 995.8L757.4 995.5L754.1 995.4L750.8 994.3L747.5 993.7L744.2 993.9L740.9 992.7L737.6 992.1L734.3 992.4L731 993.2L727.6 992L724.3 991.1L721 991.4L717.7 991.4L714.4 989.5L711.1 989.8L707.8 990L704.5 990.1L701.2 989.6L697.9 989.7L694.5 988.6L691.2 988.3L687.9 989.4Z" fill="#8ef0f0" opacity="0.75"/><path d="M687.9 986.4L691.2 985.2L694.5 985.5L697.9 986.6L701.2 986.6L704.5 986.8L707.8 986.7L711.1 986.4L714.4 986.3L717.7 988.1L721 988.1L724.3 987.9L727.6 988.5L731 989.5L734.3 988.5L737.6 988.3L740.9 989.1L744.2 990.6L747.5 990.4L750.8 990.7L754.1 991.9L757.4 992L760.7 992L764.1 992.9L767.4 991.9L770.7 992.7L774 993.5L777.3 994.9L780.6 994.8L783.9 994.1L787.2 994L790.5 993.5L793.8 993.4L797.2 992.7L800.5 992.3L803.8 991.6L807.1 992.1L810.4 992.1L813.7 993.1L817 992.1L820.3 992L823.6 991.6L827 990.2L830.3 990.1L833.6 990.3L836.9 992L840.2 994.4L843.5 995L846.8 995.2L850.1 996.7L853.4 998.3L856.7 998.9L860.1 999.3L863.4 997.9L866.7 997.9L870 998.1L873.3 996.4L876.6 997.1L879.9 996.8L883.2 996.9L886.5 996.4L889.8 996.7L893.2 997.7L896.5 997.5L899.8 995.4L903.1 994.1L906.4 995L909.7 994.8L913 994.8L916.3 994.2L919.6 994.3L923 995.2L926.3 994.8L929.6 995.7L932.9 995.7L936.2 996.9L939.5 997.5L942.8 998.5L946.1 997.4L949.4 999.2L952.7 1000.7L956.1 1002.6L959.4 1002.3L962.7 1004L966 1004.4L969.3 1004.8L972.6 1004.2L975.9 1004L979.2 1004L982.5 1005.4L985.8 1005.3L989.2 1006.4L992.5 1005.3L995.8 1004.3L999.1 1004.9L1002.4 1004.6L1005.7 1004.7L1009 1005.5L1012.3 1004.3L1015.6 1002.9L1019 1001.7" fill="none" stroke="#7cecee" stroke-width="1.3"/><path d="M687.9 986.7L691.2 986.4L694.5 985.5L697.9 985.6L701.2 987.3L704.5 987.6L707.8 988.2L711.1 987.9L714.4 988.3L717.7 989.1L721 988.9L724.3 988.3L727.6 989.5L731 990.3L734.3 989.4L737.6 988.2L740.9 989.1L744.2 989L747.5 988.1L750.8 987.5L754.1 987L757.4 985.1L760.7 985L764.1 984.8L767.4 983.4L770.7 980L774 975.6L777.3 971.2L780.6 968.1L783.9 965.6L787.2 960.3L790.5 952.4L793.8 943.2L797.2 931.7L800.5 923.8L803.8 917.8L807.1 914.3L810.4 910.5L813.7 904.2L817 896.6L820.3 885.1L823.6 874.8L827 868L830.3 863.9L833.6 861L836.9 855.9L840.2 853.7L843.5 848.5L846.8 849.8L850.1 847.8L853.4 846.3L856.7 845.2L860.1 840.5L863.4 834.4L866.7 830.9L870 831.3L873.3 826.1L876.6 823.4L879.9 824.2L883.2 827.4L886.5 831L889.8 832.5L893.2 836.1L896.5 839.7L899.8 842.9L903.1 851.1L906.4 860.1L909.7 869.3L913 880L916.3 885.7L919.6 889.6L923 894L926.3 894.4L929.6 898.7L932.9 903.3L936.2 909.1L939.5 916.6L942.8 923.1L946.1 926L949.4 927L952.7 928.8L956.1 933.1L959.4 936.6L962.7 944.4L966 948.6L969.3 950.5L972.6 951.4L975.9 952.7L979.2 955.1L982.5 958.2L985.8 962.8L989.2 966.4L992.5 969.3L995.8 971.9L999.1 973L1002.4 972.9L1005.7 974.9L1009 975.3L1012.3 976.3L1015.6 975.9L1019 975.3L1019 987.1L1015.6 987.5L1012.3 988.4L1009 987.6L1005.7 988.4L1002.4 988.6L999.1 988.8L995.8 989.2L992.5 989.2L989.2 986.1L985.8 983L982.5 982.1L979.2 980.6L975.9 978.5L972.6 977L969.3 976.3L966 972.3L962.7 968.1L959.4 966.1L956.1 961.7L952.7 959.3L949.4 954.8L946.1 955.6L942.8 951L939.5 946.3L936.2 940.3L932.9 933.5L929.6 928.5L926.3 928L923 925.2L919.6 921.9L916.3 916.1L913 908.4L909.7 901.1L906.4 894.7L903.1 887.4L899.8 883.2L896.5 876.1L893.2 874.4L889.8 875.3L886.5 869.8L883.2 867.4L879.9 864.3L876.6 864.7L873.3 865.1L870 868.3L866.7 874.7L863.4 878.3L860.1 882.5L856.7 883.5L853.4 885.6L850.1 885.3L846.8 887.5L843.5 893.6L840.2 895.8L836.9 899.8L833.6 903.2L830.3 904.4L827 903.2L823.6 909L820.3 915.3L817 921.7L813.7 929.5L810.4 936.4L807.1 940.2L803.8 942.9L800.5 947L797.2 956L793.8 963.1L790.5 973L787.2 977L783.9 980.1L780.6 979.4L777.3 982.1L774 983.9L770.7 987.1L767.4 990.3L764.1 991.5L760.7 992.1L757.4 991.9L754.1 993.5L750.8 993.9L747.5 995.3L744.2 996L740.9 996.2L737.6 995.3L734.3 995.8L731 996.3L727.6 995.3L724.3 994.1L721 994.9L717.7 995.8L714.4 995.3L711.1 993.8L707.8 994.3L704.5 993.7L701.2 993.1L697.9 992L694.5 992.3L691.2 992.7L687.9 993.7Z" fill="#ece356" opacity="0.85"/><path d="M687.9 990.2L691.2 989.5L694.5 988.9L697.9 988.8L701.2 990.2L704.5 990.6L707.8 991.2L711.1 990.8L714.4 991.8L717.7 992.5L721 991.9L724.3 991.2L727.6 992.4L731 993.3L734.3 992.6L737.6 991.7L740.9 992.6L744.2 992.5L747.5 991.7L750.8 990.7L754.1 990.2L757.4 988.5L760.7 988.5L764.1 988.1L767.4 986.9L770.7 983.5L774 979.8L777.3 976.6L780.6 973.8L783.9 972.8L787.2 968.6L790.5 962.7L793.8 953.1L797.2 943.9L800.5 935.4L803.8 930.4L807.1 927.3L810.4 923.5L813.7 916.8L817 909.1L820.3 900.2L823.6 891.9L827 885.6L830.3 884.2L833.6 882.1L836.9 877.9L840.2 874.8L843.5 871L846.8 868.7L850.1 866.6L853.4 865.9L856.7 864.3L860.1 861.5L863.4 856.3L866.7 852.8L870 849.8L873.3 845.6L876.6 844.1L879.9 844.2L883.2 847.4L886.5 850.4L889.8 853.9L893.2 855.3L896.5 857.9L899.8 863L903.1 869.3L906.4 877.4L909.7 885.2L913 894.2L916.3 900.9L919.6 905.8L923 909.6L926.3 911.2L929.6 913.6L932.9 918.4L936.2 924.7L939.5 931.4L942.8 937.1L946.1 940.8L949.4 940.9L952.7 944L956.1 947.4L959.4 951.3L962.7 956.2L966 960.5L969.3 963.4L972.6 964.2L975.9 965.6L979.2 967.8L982.5 970.2L985.8 972.9L989.2 976.3L992.5 979.2L995.8 980.6L999.1 980.9L1002.4 980.8L1005.7 981.7L1009 981.5L1012.3 982.3L1015.6 981.7L1019 981.2" fill="none" stroke="#e8d63c" stroke-width="1.3"/><path d="M687.9 978.2L691.2 978.4L694.5 978.6L697.9 980L701.2 978.8L704.5 978.7L707.8 979L711.1 978.3L714.4 978.8L717.7 979.3L721 980.9L724.3 983.7L727.6 984.4L731 986.3L734.3 986.4L737.6 987.8L740.9 988.1L744.2 990L747.5 990L750.8 990.6L754.1 990L757.4 990.9L760.7 990.7L764.1 990.8L767.4 990L770.7 989L774 988.2L777.3 987.3L780.6 987.2L783.9 985.8L787.2 981.8L790.5 974.3L793.8 967.1L797.2 959L800.5 956.1L803.8 955.6L807.1 951.6L810.4 946.1L813.7 938.9L817 934.6L820.3 932.6L823.6 931L827 928L830.3 925.9L833.6 925.8L836.9 924.8L840.2 925.2L843.5 924.7L846.8 923.2L850.1 921.9L853.4 920.9L856.7 920.5L860.1 920.7L863.4 925L866.7 928.8L870 932L873.3 934.6L876.6 935.3L879.9 935.8L883.2 938.4L886.5 940.8L889.8 944.1L893.2 947.8L896.5 952L899.8 954.9L903.1 958.3L906.4 962.8L909.7 964.5L913 966.8L916.3 968.2L919.6 968.7L923 969.8L926.3 970.9L929.6 971.6L932.9 973.9L936.2 974.7L939.5 976.2L942.8 976.7L946.1 978L949.4 979.6L952.7 980.4L956.1 981L959.4 982.1L962.7 982.6L966 983.3L969.3 985.7L972.6 986.7L975.9 989L979.2 989.7L982.5 987.6L985.8 987.2L989.2 987.3L992.5 987.8L995.8 987.2L999.1 988.6L1002.4 987.4L1005.7 985.3L1009 986.4L1012.3 985.8L1015.6 986.8L1019 986.5L1019 1000.2L1015.6 1000L1012.3 998.7L1009 998.6L1005.7 998.4L1002.4 1000L999.1 999.7L995.8 999.1L992.5 1000.3L989.2 998.6L985.8 999.2L982.5 1001.5L979.2 1002.5L975.9 1000L972.6 998.7L969.3 997.9L966 997.1L962.7 996L959.4 995.6L956.1 994.3L952.7 993.7L949.4 992.2L946.1 990.1L942.8 990L939.5 989.7L936.2 987L932.9 985.9L929.6 984.7L926.3 984.1L923 983.1L919.6 982.8L916.3 982.7L913 981.5L909.7 979.9L906.4 976.2L903.1 972.2L899.8 969.2L896.5 966.6L893.2 962.9L889.8 959.4L886.5 954.4L883.2 953.4L879.9 952.2L876.6 951.5L873.3 950.1L870 946.6L866.7 942.1L863.4 936.9L860.1 934.3L856.7 934L853.4 934.4L850.1 935.4L846.8 936.2L843.5 937.8L840.2 938.2L836.9 939.2L833.6 939.9L830.3 941L827 942.7L823.6 945.4L820.3 946.5L817 947.5L813.7 951L810.4 956.8L807.1 961.5L803.8 965L800.5 964.8L797.2 967.9L793.8 975L790.5 981.7L787.2 988.7L783.9 992.2L780.6 993.7L777.3 993.8L774 995.5L770.7 996.4L767.4 997.2L764.1 997.5L760.7 998.1L757.4 998.4L754.1 997.1L750.8 998.1L747.5 997L744.2 996.4L740.9 994.2L737.6 993.4L734.3 992L731 991.9L727.6 990L724.3 988.6L721 986.1L717.7 984.3L714.4 983.9L711.1 983.2L707.8 984L704.5 983.8L701.2 983.5L697.9 984.7L694.5 983.5L691.2 982.9L687.9 982.9Z" fill="#6464f0" opacity="0.85"/><path d="M687.9 980.6L691.2 980.7L694.5 981L697.9 982.3L701.2 981.2L704.5 981.3L707.8 981.5L711.1 980.8L714.4 981.3L717.7 981.8L721 983.5L724.3 986.2L727.6 987.2L731 989.1L734.3 989.2L737.6 990.6L740.9 991.2L744.2 993.2L747.5 993.5L750.8 994.3L754.1 993.6L757.4 994.7L760.7 994.4L764.1 994.1L767.4 993.6L770.7 992.7L774 991.9L777.3 990.6L780.6 990.4L783.9 989L787.2 985.3L790.5 978L793.8 971.1L797.2 963.5L800.5 960.5L803.8 960.3L807.1 956.5L810.4 951.5L813.7 944.9L817 941.1L820.3 939.5L823.6 938.2L827 935.4L830.3 933.4L833.6 932.9L836.9 932L840.2 931.7L843.5 931.3L846.8 929.7L850.1 928.6L853.4 927.7L856.7 927.3L860.1 927.5L863.4 931L866.7 935.4L870 939.3L873.3 942.3L876.6 943.4L879.9 944L883.2 945.9L886.5 947.6L889.8 951.7L893.2 955.4L896.5 959.3L899.8 962L903.1 965.2L906.4 969.5L909.7 972.2L913 974.2L916.3 975.5L919.6 975.8L923 976.4L926.3 977.5L929.6 978.2L932.9 979.9L936.2 980.9L939.5 983L942.8 983.3L946.1 984.1L949.4 985.9L952.7 987L956.1 987.7L959.4 988.8L962.7 989.3L966 990.2L969.3 991.8L972.6 992.7L975.9 994.5L979.2 996.1L982.5 994.6L985.8 993.2L989.2 992.9L992.5 994.1L995.8 993.2L999.1 994.1L1002.4 993.7L1005.7 991.9L1009 992.5L1012.3 992.2L1015.6 993.4L1019 993.4" fill="none" stroke="#3a3ad6" stroke-width="1.3"/><text x="671.8" y="806" font-size="19.7" text-anchor="end">20</text><text x="671.8" y="852.2" font-size="19.7" text-anchor="end">15</text><text x="671.8" y="898.4" font-size="19.7" text-anchor="end">10</text><text x="671.8" y="944.5" font-size="19.7" text-anchor="end">5</text><text x="671.8" y="990.7" font-size="19.7" text-anchor="end">0</text><text x="671.8" y="1036.9" font-size="19.7" text-anchor="end">-5</text><text x="687.4" y="1059.1" font-size="19.9" text-anchor="middle">-2</text><text x="734.7" y="1059.1" font-size="19.9" text-anchor="middle">-1</text><text x="782.5" y="1059.1" font-size="19.9" text-anchor="middle">0</text><text x="829.8" y="1059.1" font-size="19.9" text-anchor="middle">1</text><text x="877.1" y="1059.1" font-size="19.9" text-anchor="middle">2</text><text x="924.4" y="1059.1" font-size="19.9" text-anchor="middle">3</text><text x="971.7" y="1059.1" font-size="19.9" text-anchor="middle">4</text><text x="1019" y="1059.1" font-size="19.9" text-anchor="middle">5</text><path d="M687.9 799V1029.9H1018.9M677.5 799H687.9M677.5 845.2H687.9M677.5 891.4H687.9M677.5 937.5H687.9M677.5 983.7H687.9M677.5 1029.9H687.9M687.9 1029.9v10M735.2 1029.9v10M782.5 1029.9v10M829.8 1029.9v10M877.1 1029.9v10M924.4 1029.9v10M971.7 1029.9v10M1019 1029.9v10" fill="none" stroke="#000" stroke-width="1.5"/><text x="851.7" y="1085.3" font-size="21.3" text-anchor="middle">Time (s)</text><text font-size="20.7" text-anchor="middle" transform="translate(639.5 905.8) rotate(-90)">ΔF/F (%)</text><path d="M690.8 787.2H710M862.6 787.2H882.2" fill="none" stroke="none"/><path d="M690.8 787.2L710 787.2" stroke="#f03a2e" stroke-width="2.3"/><path d="M862.6 787.2L882.2 787.2" stroke="#7df3f5" stroke-width="2.3"/><text x="713.7" y="791.6" font-size="21.1">Pre-20 mmHg</text><text x="885.2" y="791.6" font-size="21.2">Music-20 mmHg</text><path d="M690.8 810.8H710M862.6 810.8H882.2" fill="none" stroke="none"/><path d="M690.8 810.8L710 810.8" stroke="#f0e24a" stroke-width="2.3"/><path d="M862.6 810.8L882.2 810.8" stroke="#2f3cc4" stroke-width="2.3"/><text x="713.7" y="816.7" font-size="21.1">Pre-60 mmHg</text><text x="885.2" y="816.7" font-size="21.2">Music-60 mmHg</text><path d="M687.9 1327.6L691.2 1326.1L694.5 1325.3L697.9 1326.1L701.2 1326.6L704.5 1326.2L707.8 1326.2L711.1 1327.6L714.4 1326.5L717.7 1327.1L721 1326.4L724.3 1326.9L727.6 1327.5L731 1326.9L734.3 1327.5L737.6 1327.7L740.9 1327.4L744.2 1324.5L747.5 1323.5L750.8 1321.1L754.1 1320.3L757.4 1319.1L760.7 1318.5L764.1 1317L767.4 1316.9L770.7 1316.6L774 1316.3L777.3 1316.9L780.6 1317L783.9 1318.1L787.2 1318.6L790.5 1320.5L793.8 1323.4L797.2 1324.4L800.5 1326.2L803.8 1327.3L807.1 1328.3L810.4 1330.1L813.7 1330.4L817 1329.9L820.3 1330.1L823.6 1330.2L827 1330.1L830.3 1331.5L833.6 1332.3L836.9 1332.7L840.2 1332.6L843.5 1332.4L846.8 1332.8L850.1 1333.1L853.4 1333.9L856.7 1334.3L860.1 1333.3L863.4 1334.6L866.7 1333.5L870 1333.1L873.3 1333.1L876.6 1331.6L879.9 1331.6L883.2 1332.2L886.5 1330.5L889.8 1330.9L893.2 1330.9L896.5 1331.3L899.8 1332.2L903.1 1332.4L906.4 1331.7L909.7 1333.2L913 1333.9L916.3 1335L919.6 1334.9L923 1335.6L926.3 1336.7L929.6 1335.8L932.9 1335.7L936.2 1336.8L939.5 1336.7L942.8 1338.1L946.1 1337.8L949.4 1338L952.7 1337.8L956.1 1337.3L959.4 1337.9L962.7 1337.3L966 1336.5L969.3 1337.2L972.6 1336L975.9 1336.7L979.2 1336.3L982.5 1336.6L985.8 1337.8L989.2 1337L992.5 1336.7L995.8 1336.7L999.1 1338.1L1002.4 1337.7L1005.7 1338.8L1009 1338.7L1012.3 1339.2L1015.6 1339.5L1019 1339.3L1019 1351.5L1015.6 1352L1012.3 1351.9L1009 1352L1005.7 1351.2L1002.4 1351L999.1 1350.8L995.8 1350.4L992.5 1350.1L989.2 1349.9L985.8 1349.8L982.5 1349.3L979.2 1348L975.9 1348L972.6 1346.7L969.3 1348.4L966 1348.5L962.7 1348.6L959.4 1349.9L956.1 1351L952.7 1350L949.4 1351.3L946.1 1350.9L942.8 1351.3L939.5 1350.2L936.2 1349.4L932.9 1348.4L929.6 1347.2L926.3 1348.2L923 1347.6L919.6 1347.7L916.3 1347.3L913 1345.5L909.7 1344.9L906.4 1343.9L903.1 1343L899.8 1343.8L896.5 1343.1L893.2 1342.8L889.8 1342.6L886.5 1342.6L883.2 1342.6L879.9 1342.7L876.6 1341.6L873.3 1342.7L870 1344.3L866.7 1345.4L863.4 1344.7L860.1 1343.6L856.7 1344.3L853.4 1343.9L850.1 1342.9L846.8 1342.8L843.5 1342.9L840.2 1341.9L836.9 1340.8L833.6 1341L830.3 1340L827 1339.3L823.6 1339.9L820.3 1340.7L817 1340.4L813.7 1339.9L810.4 1338.7L807.1 1337.9L803.8 1337.3L800.5 1335.7L797.2 1333.9L793.8 1333.1L790.5 1330.8L787.2 1328.1L783.9 1327.2L780.6 1326.3L777.3 1326L774 1325.5L770.7 1325.9L767.4 1326.4L764.1 1325.9L760.7 1327L757.4 1327.3L754.1 1329.2L750.8 1330.3L747.5 1332.2L744.2 1333.4L740.9 1335.8L737.6 1336L734.3 1335.5L731 1334.8L727.6 1335.5L724.3 1335.7L721 1334.2L717.7 1334.7L714.4 1335.6L711.1 1336.8L707.8 1336.1L704.5 1335.2L701.2 1335L697.9 1334.9L694.5 1335L691.2 1336.1L687.9 1337Z" fill="#f27a7a" opacity="0.75"/><path d="M687.9 1332.3L691.2 1331.1L694.5 1330.2L697.9 1330.5L701.2 1330.8L704.5 1330.7L707.8 1331.1L711.1 1332.2L714.4 1331L717.7 1330.9L721 1330.3L724.3 1331.3L727.6 1331.5L731 1330.9L734.3 1331.5L737.6 1331.9L740.9 1331.6L744.2 1329L747.5 1327.8L750.8 1325.7L754.1 1324.8L757.4 1323.2L760.7 1322.7L764.1 1321.5L767.4 1321.7L770.7 1321.3L774 1320.9L777.3 1321.4L780.6 1321.7L783.9 1322.7L787.2 1323.4L790.5 1325.7L793.8 1328.2L797.2 1329.1L800.5 1330.9L803.8 1332.3L807.1 1333.1L810.4 1334.4L813.7 1335.2L817 1335.1L820.3 1335.4L823.6 1335.1L827 1334.7L830.3 1335.7L833.6 1336.7L836.9 1336.7L840.2 1337.2L843.5 1337.6L846.8 1337.8L850.1 1338L853.4 1338.9L856.7 1339.3L860.1 1338.5L863.4 1339.6L866.7 1339.4L870 1338.7L873.3 1337.9L876.6 1336.6L879.9 1337.2L883.2 1337.4L886.5 1336.6L889.8 1336.7L893.2 1336.8L896.5 1337.2L899.8 1338L903.1 1337.7L906.4 1337.8L909.7 1339.1L913 1339.7L916.3 1341.1L919.6 1341.3L923 1341.6L926.3 1342.5L929.6 1341.5L932.9 1342L936.2 1343.1L939.5 1343.5L942.8 1344.7L946.1 1344.3L949.4 1344.7L952.7 1343.9L956.1 1344.1L959.4 1343.9L962.7 1342.9L966 1342.5L969.3 1342.8L972.6 1341.3L975.9 1342.3L979.2 1342.2L982.5 1343L985.8 1343.8L989.2 1343.4L992.5 1343.4L995.8 1343.5L999.1 1344.4L1002.4 1344.4L1005.7 1345L1009 1345.3L1012.3 1345.6L1015.6 1345.7L1019 1345.4" fill="none" stroke="#ef3b34" stroke-width="1.3"/><path d="M687.9 1322.7L691.2 1323.2L694.5 1323.3L697.9 1323.1L701.2 1323.6L704.5 1324L707.8 1324.4L711.1 1324.7L714.4 1326.6L717.7 1326.4L721 1325.5L724.3 1325.9L727.6 1324.8L731 1324.2L734.3 1325.8L737.6 1324.7L740.9 1325.3L744.2 1326.4L747.5 1327.9L750.8 1327.9L754.1 1330.8L757.4 1331.2L760.7 1331.3L764.1 1332L767.4 1334.2L770.7 1333.9L774 1334.1L777.3 1333.9L780.6 1332.8L783.9 1331.5L787.2 1331L790.5 1329.9L793.8 1330.7L797.2 1330.2L800.5 1329.7L803.8 1330.6L807.1 1331.2L810.4 1332.6L813.7 1334.6L817 1334.1L820.3 1335.5L823.6 1336.1L827 1337L830.3 1337.7L833.6 1336.9L836.9 1336.6L840.2 1337.5L843.5 1337.5L846.8 1337.4L850.1 1337.2L853.4 1337.5L856.7 1337.4L860.1 1338.1L863.4 1336.2L866.7 1336.8L870 1337.5L873.3 1337.9L876.6 1337L879.9 1337L883.2 1336.7L886.5 1336.4L889.8 1336L893.2 1336.1L896.5 1337.2L899.8 1338L903.1 1338.2L906.4 1339.3L909.7 1338.9L913 1339.4L916.3 1340.5L919.6 1341L923 1341.5L926.3 1339.9L929.6 1340.6L932.9 1339.5L936.2 1339.5L939.5 1339.6L942.8 1341.3L946.1 1339.5L949.4 1340.3L952.7 1340L956.1 1339.2L959.4 1338.9L962.7 1338.3L966 1338.4L969.3 1338.1L972.6 1338.6L975.9 1339.5L979.2 1340.4L982.5 1340.6L985.8 1340.2L989.2 1340.8L992.5 1340.2L995.8 1338.1L999.1 1337.9L1002.4 1338.5L1005.7 1339.5L1009 1340.4L1012.3 1339L1015.6 1341.2L1019 1342.7L1019 1352.8L1015.6 1352.3L1012.3 1350.4L1009 1350.4L1005.7 1349.9L1002.4 1349.5L999.1 1349.6L995.8 1350L992.5 1350.3L989.2 1350.3L985.8 1350.9L982.5 1350.9L979.2 1351.3L975.9 1349.9L972.6 1348.8L969.3 1348.3L966 1349.3L962.7 1350.6L959.4 1351L956.1 1350.8L952.7 1351.2L949.4 1351.9L946.1 1351.3L942.8 1350.9L939.5 1349.8L936.2 1351L932.9 1350.6L929.6 1351.5L926.3 1350.3L923 1351L919.6 1351L916.3 1350.4L913 1349.8L909.7 1349L906.4 1348.9L903.1 1347.8L899.8 1347.8L896.5 1346.6L893.2 1345.7L889.8 1345.1L886.5 1344.7L883.2 1344.5L879.9 1344.5L876.6 1344.8L873.3 1346.3L870 1345.9L866.7 1345.8L863.4 1344.8L860.1 1346.8L856.7 1346.8L853.4 1346.9L850.1 1345.9L846.8 1345.2L843.5 1345.7L840.2 1344.9L836.9 1345.1L833.6 1344.4L830.3 1345.7L827 1345L823.6 1344.7L820.3 1343.9L817 1342.9L813.7 1342.8L810.4 1340.4L807.1 1340L803.8 1339.6L800.5 1338L797.2 1338.2L793.8 1338.4L790.5 1337.5L787.2 1338.4L783.9 1338.2L780.6 1339.1L777.3 1339.7L774 1340.1L770.7 1339.6L767.4 1340.4L764.1 1338.3L760.7 1338.2L757.4 1337.7L754.1 1337.1L750.8 1333.9L747.5 1333.3L744.2 1332.9L740.9 1332L737.6 1331.7L734.3 1332.7L731 1331.5L727.6 1331.8L724.3 1332.6L721 1331.5L717.7 1332.4L714.4 1333.3L711.1 1331.4L707.8 1331.1L704.5 1330.2L701.2 1329.3L697.9 1329.1L694.5 1328.9L691.2 1329.4L687.9 1328.9Z" fill="#8ef0f0" opacity="0.75"/><path d="M687.9 1325.8L691.2 1326.3L694.5 1326.1L697.9 1326.1L701.2 1326.4L704.5 1327.1L707.8 1327.8L711.1 1328L714.4 1329.9L717.7 1329.4L721 1328.5L724.3 1329.3L727.6 1328.3L731 1327.9L734.3 1329.2L737.6 1328.2L740.9 1328.7L744.2 1329.6L747.5 1330.6L750.8 1330.9L754.1 1333.9L757.4 1334.4L760.7 1334.7L764.1 1335.2L767.4 1337.3L770.7 1336.8L774 1337.1L777.3 1336.8L780.6 1335.9L783.9 1334.9L787.2 1334.7L790.5 1333.7L793.8 1334.5L797.2 1334.2L800.5 1333.8L803.8 1335.1L807.1 1335.6L810.4 1336.5L813.7 1338.7L817 1338.5L820.3 1339.7L823.6 1340.4L827 1341L830.3 1341.7L833.6 1340.6L836.9 1340.8L840.2 1341.2L843.5 1341.6L846.8 1341.3L850.1 1341.5L853.4 1342.2L856.7 1342.1L860.1 1342.4L863.4 1340.5L866.7 1341.3L870 1341.7L873.3 1342.1L876.6 1340.9L879.9 1340.7L883.2 1340.6L886.5 1340.6L889.8 1340.5L893.2 1340.9L896.5 1341.9L899.8 1342.9L903.1 1343L906.4 1344.1L909.7 1344L913 1344.6L916.3 1345.5L919.6 1346L923 1346.2L926.3 1345.1L929.6 1346L932.9 1345.1L936.2 1345.3L939.5 1344.7L942.8 1346.1L946.1 1345.4L949.4 1346.1L952.7 1345.6L956.1 1345L959.4 1344.9L962.7 1344.4L966 1343.9L969.3 1343.2L972.6 1343.7L975.9 1344.7L979.2 1345.9L982.5 1345.8L985.8 1345.5L989.2 1345.6L992.5 1345.3L995.8 1344.1L999.1 1343.7L1002.4 1344L1005.7 1344.7L1009 1345.4L1012.3 1344.7L1015.6 1346.8L1019 1347.7" fill="none" stroke="#7cecee" stroke-width="1.3"/><path d="M687.9 1321.1L691.2 1319.1L694.5 1320.8L697.9 1321.1L701.2 1322.2L704.5 1321.9L707.8 1322.1L711.1 1323L714.4 1324.5L717.7 1326.4L721 1327.4L724.3 1328.4L727.6 1328.8L731 1328.3L734.3 1328.4L737.6 1327.7L740.9 1327.6L744.2 1328.8L747.5 1329.7L750.8 1330L754.1 1331.2L757.4 1330.9L760.7 1332.8L764.1 1332.4L767.4 1332.1L770.7 1331.3L774 1328.8L777.3 1324.8L780.6 1321.6L783.9 1320.7L787.2 1317.3L790.5 1310.9L793.8 1302.9L797.2 1295.3L800.5 1288L803.8 1284.1L807.1 1281.6L810.4 1280.4L813.7 1277L817 1270.6L820.3 1264.1L823.6 1259.9L827 1255.1L830.3 1255L833.6 1254.5L836.9 1250.7L840.2 1248.2L843.5 1248.2L846.8 1249.3L850.1 1250.1L853.4 1252.2L856.7 1255L860.1 1258.3L863.4 1260.3L866.7 1263L870 1264.2L873.3 1266.2L876.6 1267.4L879.9 1267.2L883.2 1269.3L886.5 1274.3L889.8 1279L893.2 1283.2L896.5 1286.7L899.8 1288.5L903.1 1287.7L906.4 1290.1L909.7 1294.3L913 1297.8L916.3 1301.2L919.6 1305L923 1308.3L926.3 1307.7L929.6 1309.6L932.9 1311.4L936.2 1313.6L939.5 1318.6L942.8 1322L946.1 1325.2L949.4 1326.8L952.7 1327.4L956.1 1327.2L959.4 1327L962.7 1326.9L966 1327.4L969.3 1327.5L972.6 1327L975.9 1326.5L979.2 1326.7L982.5 1326.6L985.8 1327.8L989.2 1326.1L992.5 1325.5L995.8 1324L999.1 1322.9L1002.4 1322.7L1005.7 1321.5L1009 1322.4L1012.3 1323.3L1015.6 1323.9L1019 1325.6L1019 1337.5L1015.6 1336.9L1012.3 1336.3L1009 1337.1L1005.7 1335.6L1002.4 1336.4L999.1 1336.4L995.8 1337.3L992.5 1338.3L989.2 1339.1L985.8 1339.3L982.5 1338.9L979.2 1338.5L975.9 1338.9L972.6 1339.4L969.3 1339.3L966 1338.2L962.7 1337.7L959.4 1336.8L956.1 1337.2L952.7 1337.1L949.4 1337L946.1 1336.2L942.8 1332.1L939.5 1327.7L936.2 1323.9L932.9 1321.7L929.6 1319.6L926.3 1317.9L923 1318L919.6 1315.4L916.3 1313L913 1310L909.7 1306.6L906.4 1302.3L903.1 1299.8L899.8 1299.5L896.5 1298L893.2 1293.9L889.8 1291.1L886.5 1287.3L883.2 1283.1L879.9 1279.7L876.6 1279.7L873.3 1280.3L870 1279.4L866.7 1277.4L863.4 1274.4L860.1 1271.9L856.7 1270.6L853.4 1269.3L850.1 1267.1L846.8 1265.2L843.5 1264.4L840.2 1266.1L836.9 1269.5L833.6 1271.7L830.3 1272.5L827 1271.6L823.6 1275.1L820.3 1278.9L817 1284.5L813.7 1289.4L810.4 1291.9L807.1 1293.6L803.8 1295.6L800.5 1298.3L797.2 1303.9L793.8 1310.4L790.5 1317.7L787.2 1324.5L783.9 1328.6L780.6 1329.5L777.3 1331.9L774 1336.2L770.7 1339.1L767.4 1339.7L764.1 1339.6L760.7 1339.8L757.4 1338.8L754.1 1338.9L750.8 1337.9L747.5 1337.2L744.2 1337.2L740.9 1335.9L737.6 1336.2L734.3 1335.9L731 1335.5L727.6 1335.1L724.3 1334.8L721 1333.8L717.7 1332.6L714.4 1330.9L711.1 1329L707.8 1328L704.5 1327.8L701.2 1327.6L697.9 1326.7L694.5 1326.5L691.2 1325.4L687.9 1327.3Z" fill="#ece356" opacity="0.85"/><path d="M687.9 1324.2L691.2 1322.2L694.5 1323.6L697.9 1323.9L701.2 1324.9L704.5 1324.8L707.8 1325L711.1 1326L714.4 1327.7L717.7 1329.5L721 1330.6L724.3 1331.6L727.6 1331.9L731 1331.9L734.3 1332.1L737.6 1331.9L740.9 1331.7L744.2 1333L747.5 1333.4L750.8 1334L754.1 1335L757.4 1334.9L760.7 1336.3L764.1 1336L767.4 1335.9L770.7 1335.2L774 1332.5L777.3 1328.4L780.6 1325.5L783.9 1324.6L787.2 1320.9L790.5 1314.3L793.8 1306.6L797.2 1299.6L800.5 1293.2L803.8 1289.8L807.1 1287.6L810.4 1286.2L813.7 1283.2L817 1277.6L820.3 1271.5L823.6 1267.5L827 1263.4L830.3 1263.7L833.6 1263.1L836.9 1260.1L840.2 1257.2L843.5 1256.3L846.8 1257.2L850.1 1258.6L853.4 1260.8L856.7 1262.8L860.1 1265.1L863.4 1267.3L866.7 1270.2L870 1271.8L873.3 1273.3L876.6 1273.6L879.9 1273.4L883.2 1276.2L886.5 1280.8L889.8 1285.1L893.2 1288.6L896.5 1292.3L899.8 1294L903.1 1293.8L906.4 1296.2L909.7 1300.5L913 1303.9L916.3 1307.1L919.6 1310.2L923 1313.1L926.3 1312.8L929.6 1314.6L932.9 1316.6L936.2 1318.7L939.5 1323.2L942.8 1327L946.1 1330.7L949.4 1331.9L952.7 1332.2L956.1 1332.2L959.4 1331.9L962.7 1332.3L966 1332.8L969.3 1333.4L972.6 1333.2L975.9 1332.7L979.2 1332.6L982.5 1332.8L985.8 1333.5L989.2 1332.6L992.5 1331.9L995.8 1330.7L999.1 1329.6L1002.4 1329.5L1005.7 1328.6L1009 1329.7L1012.3 1329.8L1015.6 1330.4L1019 1331.5" fill="none" stroke="#e8d63c" stroke-width="1.3"/><path d="M687.9 1327.9L691.2 1327L694.5 1328L697.9 1327.6L701.2 1327.8L704.5 1328.7L707.8 1328.5L711.1 1327.5L714.4 1327.6L717.7 1329.1L721 1328.5L724.3 1328.8L727.6 1329.7L731 1329.4L734.3 1329.5L737.6 1328.4L740.9 1328.8L744.2 1328.8L747.5 1328.9L750.8 1328.9L754.1 1328.3L757.4 1328.5L760.7 1327.8L764.1 1327.6L767.4 1326.8L770.7 1328.1L774 1328.1L777.3 1325.9L780.6 1324L783.9 1322.3L787.2 1319.3L790.5 1316.1L793.8 1310.6L797.2 1303.4L800.5 1296.4L803.8 1290.5L807.1 1288.5L810.4 1284.8L813.7 1280.8L817 1275.3L820.3 1270.7L823.6 1266.5L827 1262.1L830.3 1261.4L833.6 1260.2L836.9 1255.5L840.2 1254L843.5 1251.7L846.8 1250.3L850.1 1249.9L853.4 1252.1L856.7 1253.1L860.1 1252.8L863.4 1253.3L866.7 1253.2L870 1252.6L873.3 1253.9L876.6 1257.6L879.9 1260.6L883.2 1262.8L886.5 1266.4L889.8 1269.1L893.2 1270L896.5 1269.3L899.8 1274L903.1 1276.7L906.4 1280.9L909.7 1285.1L913 1290.5L916.3 1295.2L919.6 1297L923 1300.8L926.3 1301.7L929.6 1304L932.9 1307L936.2 1311.3L939.5 1314.2L942.8 1316.2L946.1 1317L949.4 1317.4L952.7 1318.9L956.1 1319L959.4 1321.8L962.7 1322.7L966 1324L969.3 1325L972.6 1324.9L975.9 1325.4L979.2 1326L982.5 1326.2L985.8 1325.9L989.2 1327.9L992.5 1327.1L995.8 1328.2L999.1 1328.9L1002.4 1331.9L1005.7 1332.2L1009 1332.6L1012.3 1334L1015.6 1333.9L1019 1334.5L1019 1346.8L1015.6 1345.6L1012.3 1346L1009 1344.3L1005.7 1345.4L1002.4 1344.8L999.1 1342.2L995.8 1341.8L992.5 1340L989.2 1340.7L985.8 1338.6L982.5 1337.5L979.2 1337.2L975.9 1335.8L972.6 1336.5L969.3 1335.5L966 1335.2L962.7 1334.9L959.4 1332.7L956.1 1331L952.7 1331.4L949.4 1328.6L946.1 1328.7L942.8 1328.3L939.5 1325.5L936.2 1322.9L932.9 1320.4L929.6 1319L926.3 1319.6L923 1318.8L919.6 1317.3L916.3 1317.3L913 1314.8L909.7 1310.7L906.4 1309.1L903.1 1304.6L899.8 1299.9L896.5 1298.6L893.2 1295.5L889.8 1295.6L886.5 1294L883.2 1291.5L879.9 1289.3L876.6 1285.8L873.3 1284.8L870 1283.8L866.7 1280.3L863.4 1280.2L860.1 1280.1L856.7 1280.6L853.4 1279.1L850.1 1278.4L846.8 1275.1L843.5 1273.6L840.2 1271.8L836.9 1272.4L833.6 1275.5L830.3 1275.7L827 1279.5L823.6 1282.2L820.3 1284.6L817 1289.1L813.7 1294.5L810.4 1296.6L807.1 1299.4L803.8 1299.8L800.5 1304.6L797.2 1311.6L793.8 1317L790.5 1321.4L787.2 1324.2L783.9 1327L780.6 1328.1L777.3 1330.2L774 1333L770.7 1333.8L767.4 1332.1L764.1 1333.3L760.7 1333.2L757.4 1334L754.1 1333.1L750.8 1333.2L747.5 1334L744.2 1333.5L740.9 1333.6L737.6 1333.4L734.3 1334L731 1333.6L727.6 1334.4L724.3 1333.3L721 1333.5L717.7 1333.8L714.4 1332.7L711.1 1332.2L707.8 1332.9L704.5 1332.9L701.2 1332L697.9 1332L694.5 1332.3L691.2 1331.6L687.9 1332.6Z" fill="#6464f0" opacity="0.85"/><path d="M687.9 1330.3L691.2 1329.3L694.5 1330.1L697.9 1329.8L701.2 1329.9L704.5 1330.8L707.8 1330.7L711.1 1329.8L714.4 1330.2L717.7 1331.4L721 1331L724.3 1331L727.6 1332L731 1331.5L734.3 1331.7L737.6 1330.9L740.9 1331.2L744.2 1331.2L747.5 1331.4L750.8 1331L754.1 1330.7L757.4 1331.2L760.7 1330.5L764.1 1330.5L767.4 1329.4L770.7 1330.9L774 1330.5L777.3 1328L780.6 1326.1L783.9 1324.6L787.2 1321.8L790.5 1318.7L793.8 1313.8L797.2 1307.5L800.5 1300.5L803.8 1295.1L807.1 1294L810.4 1290.7L813.7 1287.6L817 1282.2L820.3 1277.6L823.6 1274.3L827 1270.8L830.3 1268.5L833.6 1267.8L836.9 1264L840.2 1262.9L843.5 1262.6L846.8 1262.7L850.1 1264.2L853.4 1265.6L856.7 1266.8L860.1 1266.5L863.4 1266.7L866.7 1266.8L870 1268.2L873.3 1269.3L876.6 1271.7L879.9 1274.9L883.2 1277.1L886.5 1280.2L889.8 1282.3L893.2 1282.7L896.5 1283.9L899.8 1286.9L903.1 1290.7L906.4 1295L909.7 1297.9L913 1302.6L916.3 1306.2L919.6 1307.1L923 1309.8L926.3 1310.6L929.6 1311.5L932.9 1313.7L936.2 1317.1L939.5 1319.8L942.8 1322.2L946.1 1322.8L949.4 1323L952.7 1325.2L956.1 1325L959.4 1327.3L962.7 1328.8L966 1329.6L969.3 1330.2L972.6 1330.7L975.9 1330.6L979.2 1331.6L982.5 1331.8L985.8 1332.3L989.2 1334.3L992.5 1333.6L995.8 1335L999.1 1335.5L1002.4 1338.3L1005.7 1338.8L1009 1338.5L1012.3 1340L1015.6 1339.8L1019 1340.6" fill="none" stroke="#3a3ad6" stroke-width="1.3"/><text x="671.8" y="1156.5" font-size="19.7" text-anchor="end">20</text><text x="671.8" y="1201.3" font-size="19.7" text-anchor="end">15</text><text x="671.8" y="1246" font-size="19.7" text-anchor="end">10</text><text x="671.8" y="1290.8" font-size="19.7" text-anchor="end">5</text><text x="671.8" y="1335.5" font-size="19.7" text-anchor="end">0</text><text x="671.8" y="1380.3" font-size="19.7" text-anchor="end">-5</text><text x="687.4" y="1400.7" font-size="19.9" text-anchor="middle">-2</text><text x="734.7" y="1400.7" font-size="19.9" text-anchor="middle">-1</text><text x="782.5" y="1400.7" font-size="19.9" text-anchor="middle">0</text><text x="829.8" y="1400.7" font-size="19.9" text-anchor="middle">1</text><text x="877.1" y="1400.7" font-size="19.9" text-anchor="middle">2</text><text x="924.4" y="1400.7" font-size="19.9" text-anchor="middle">3</text><text x="971.7" y="1400.7" font-size="19.9" text-anchor="middle">4</text><text x="1019" y="1400.7" font-size="19.9" text-anchor="middle">5</text><path d="M687.9 1149.5V1373.3H1018.9M677.5 1149.5H687.9M677.5 1194.3H687.9M677.5 1239H687.9M677.5 1283.8H687.9M677.5 1328.5H687.9M677.5 1373.3H687.9M687.9 1373.3v10M735.2 1373.3v10M782.5 1373.3v10M829.8 1373.3v10M877.1 1373.3v10M924.4 1373.3v10M971.7 1373.3v10M1019 1373.3v10" fill="none" stroke="#000" stroke-width="1.5"/><text x="851.7" y="1428" font-size="21.3" text-anchor="middle">Time (s)</text><text font-size="20.7" text-anchor="middle" transform="translate(639.5 1251.8) rotate(-90)">ΔF/F (%)</text><path d="M690.8 1136.5H710M862.6 1136.5H882.2" fill="none" stroke="none"/><path d="M690.8 1136.5L710 1136.5" stroke="#f03a2e" stroke-width="2.3"/><path d="M862.6 1136.5L882.2 1136.5" stroke="#7df3f5" stroke-width="2.3"/><text x="713.7" y="1141.3" font-size="21.1">Pre-20 mmHg</text><text x="885.2" y="1141.3" font-size="21.2">Music-20 mmHg</text><path d="M690.8 1160.5H710M862.6 1160.5H882.2" fill="none" stroke="none"/><path d="M690.8 1160.5L710 1160.5" stroke="#f0e24a" stroke-width="2.3"/><path d="M862.6 1160.5L882.2 1160.5" stroke="#2f3cc4" stroke-width="2.3"/><text x="713.7" y="1166.5" font-size="21.1">Pre-60 mmHg</text><text x="885.2" y="1166.5" font-size="21.2">Music-60 mmHg</text></g>
<g id="panelG"><text x="1096.6" y="732.5" font-size="29.3" font-weight="bold">G</text><rect x="1200.9" y="1019.5" width="28.6" height="7.8" fill="#c9c9c9"/><rect x="1243.4" y="1022.1" width="27.3" height="5.2" fill="#f28be8"/><rect x="1314.1" y="910.2" width="27.3" height="117" fill="#c9c9c9"/><rect x="1356.1" y="987.4" width="27.3" height="39.9" fill="#f28be8"/><text x="1173.7" y="1034.6" font-size="20.8" text-anchor="end">0</text><text x="1173.7" y="981.8" font-size="20.8" text-anchor="end">20</text><text x="1173.7" y="929" font-size="20.8" text-anchor="end">40</text><text x="1173.7" y="876.3" font-size="20.8" text-anchor="end">60</text><text x="1173.7" y="823.5" font-size="20.8" text-anchor="end">80</text><path d="M1187.1 816.2V1027.3M1178.8 1027.3H1397.8M1178.8 1027.3H1187.1M1178.8 974.5H1187.1M1178.8 921.7H1187.1M1178.8 869H1187.1M1178.8 816.2H1187.1M1236.1 1027.3v9M1348.8 1027.3v9" fill="none" stroke="#000" stroke-width="1.5"/><text x="1292.4" y="793.2" font-size="21.5" text-anchor="middle">NCI</text><text x="1236.1" y="1058.9" font-size="21.5" text-anchor="middle">20 mmHg</text><text x="1348.8" y="1058.9" font-size="21.5" text-anchor="middle">60 mmHg</text><text font-size="20.7" text-anchor="middle" transform="translate(1137.7 922) rotate(-90)">Area under curve</text><path d="M1196.1 827L1223.6 827" stroke="#000" stroke-width="1.2"/><rect x="1205.1" y="822" width="10" height="10" fill="#c9c9c9" stroke="#f5311c" stroke-width="1.5"/><text x="1228.7" y="834.3" font-size="21.2">Pre</text><path d="M1196.1 852.6L1223.6 852.6" stroke="#000" stroke-width="1.2"/><rect x="1205.1" y="847.6" width="10" height="10" fill="#f28be8" stroke="#f5311c" stroke-width="1.5"/><text x="1228.7" y="859.9" font-size="21.2">Music</text><path d="M1214.8 1015.2L1256.9 1017.8M1214.8 1019.9L1256.9 1023M1214.8 1026L1256.9 1027.3M1214.8 1016.5L1256.9 1020.8M1327.5 855.2L1369.6 968.8M1327.5 897.2L1369.6 988.3M1327.5 932.8L1369.6 972.2M1327.5 948.4L1369.6 999.1M1327.5 934.1L1369.6 1000" fill="none" stroke="#000" stroke-width="0.9"/><path d="M1210.6 1011h8.4v8.4h-8.4zM1252.7 1013.6h8.4v8.4h-8.4zM1210.6 1015.7h8.4v8.4h-8.4zM1252.7 1018.8h8.4v8.4h-8.4zM1210.6 1021.8h8.4v8.4h-8.4zM1252.7 1023.1h8.4v8.4h-8.4zM1210.6 1012.3h8.4v8.4h-8.4zM1252.7 1016.6h8.4v8.4h-8.4zM1323.3 851h8.4v8.4h-8.4zM1365.4 964.6h8.4v8.4h-8.4zM1323.3 893h8.4v8.4h-8.4zM1365.4 984.1h8.4v8.4h-8.4zM1323.3 928.6h8.4v8.4h-8.4zM1365.4 968h8.4v8.4h-8.4zM1323.3 944.2h8.4v8.4h-8.4zM1365.4 994.9h8.4v8.4h-8.4zM1323.3 929.9h8.4v8.4h-8.4zM1365.4 995.8h8.4v8.4h-8.4z" fill="none" stroke="#f5311c" stroke-width="1.6"/><path d="M1327.1 842.2V829.6H1369.6V842.2" fill="none" stroke="#000" stroke-width="1.5"/><text x="1348.3" y="822.7" font-size="19" text-anchor="middle">***</text><rect x="1200.9" y="1366.1" width="28.6" height="6.5" fill="#c9c9c9"/><rect x="1243.4" y="1368.7" width="27.3" height="3.9" fill="#f28be8"/><rect x="1314.1" y="1326.2" width="27.3" height="46.4" fill="#c9c9c9"/><rect x="1356.1" y="1329.3" width="27.3" height="43.4" fill="#f28be8"/><text x="1173.7" y="1379.9" font-size="20.8" text-anchor="end">0</text><text x="1173.7" y="1326.9" font-size="20.8" text-anchor="end">20</text><text x="1173.7" y="1273.9" font-size="20.8" text-anchor="end">40</text><text x="1173.7" y="1220.9" font-size="20.8" text-anchor="end">60</text><text x="1173.7" y="1167.9" font-size="20.8" text-anchor="end">80</text><path d="M1187.1 1160.6V1372.6M1178.8 1372.6H1397.8M1178.8 1372.6H1187.1M1178.8 1319.6H1187.1M1178.8 1266.6H1187.1M1178.8 1213.6H1187.1M1178.8 1160.6H1187.1M1236.1 1372.6v9M1348.8 1372.6v9" fill="none" stroke="#000" stroke-width="1.5"/><text x="1292" y="1143.7" font-size="21.5" text-anchor="middle">CON</text><text x="1236.1" y="1403.4" font-size="21.5" text-anchor="middle">20 mmHg</text><text x="1348.8" y="1403.4" font-size="21.5" text-anchor="middle">60 mmHg</text><text font-size="20.7" text-anchor="middle" transform="translate(1137.7 1267.3) rotate(-90)">Area under curve</text><path d="M1196.1 1171.9L1223.6 1171.9" stroke="#000" stroke-width="1.2"/><circle cx="1210.1" cy="1171.9" r="5" fill="#c9c9c9" stroke="#000" stroke-width="1.3"/><text x="1228.7" y="1179.2" font-size="21.2">Pre</text><path d="M1196.1 1197.5L1223.6 1197.5" stroke="#000" stroke-width="1.2"/><circle cx="1210.1" cy="1197.5" r="5" fill="#f28be8" stroke="#000" stroke-width="1.3"/><text x="1228.7" y="1204.8" font-size="21.2">Music</text><path d="M1214.8 1357.4L1256.9 1361.8M1214.8 1363.9L1256.9 1364.8M1214.8 1366.1L1256.9 1367M1214.8 1369.6L1256.9 1370.4M1214.8 1372.6L1256.9 1372.6M1327.5 1303.3L1369.6 1313.2M1327.5 1315.4L1369.6 1320.6M1327.5 1316.3L1369.6 1328M1327.5 1328L1369.6 1333.6M1327.5 1329.3L1369.6 1322.8M1327.5 1356.1L1369.6 1360.9" fill="none" stroke="#000" stroke-width="0.9"/><g fill="none" stroke="#000" stroke-width="1.5"><circle cx="1214.8" cy="1357.4" r="4.1"/><circle cx="1256.9" cy="1361.8" r="4.1"/><circle cx="1214.8" cy="1363.9" r="4.1"/><circle cx="1256.9" cy="1364.8" r="4.1"/><circle cx="1214.8" cy="1366.1" r="4.1"/><circle cx="1256.9" cy="1367" r="4.1"/><circle cx="1214.8" cy="1369.6" r="4.1"/><circle cx="1256.9" cy="1370.4" r="4.1"/><circle cx="1214.8" cy="1372.6" r="4.1"/><circle cx="1256.9" cy="1372.6" r="4.1"/><circle cx="1327.5" cy="1303.3" r="4.1"/><circle cx="1369.6" cy="1313.2" r="4.1"/><circle cx="1327.5" cy="1315.4" r="4.1"/><circle cx="1369.6" cy="1320.6" r="4.1"/><circle cx="1327.5" cy="1316.3" r="4.1"/><circle cx="1369.6" cy="1328" r="4.1"/><circle cx="1327.5" cy="1328" r="4.1"/><circle cx="1369.6" cy="1333.6" r="4.1"/><circle cx="1327.5" cy="1329.3" r="4.1"/><circle cx="1369.6" cy="1322.8" r="4.1"/><circle cx="1327.5" cy="1356.1" r="4.1"/><circle cx="1369.6" cy="1360.9" r="4.1"/></g></g>
<g id="panelH"><text x="1447.6" y="732.5" font-size="29.3" font-weight="bold">H</text><rect x="1547.3" y="999.5" width="27.3" height="28.6" fill="#c9c9c9"/><rect x="1588.5" y="1003.9" width="28.2" height="24.3" fill="#f28be8"/><rect x="1657.9" y="892" width="27.7" height="136.1" fill="#c9c9c9"/><rect x="1699.9" y="966.6" width="27.3" height="61.6" fill="#f28be8"/><text x="1520.5" y="1035.5" font-size="20.8" text-anchor="end">0</text><text x="1520.5" y="966.2" font-size="20.8" text-anchor="end">10</text><text x="1520.5" y="897" font-size="20.8" text-anchor="end">20</text><text x="1520.5" y="827.8" font-size="20.8" text-anchor="end">30</text><path d="M1534.3 820.5V1028.2M1524.3 1028.2H1741.1M1524.3 1028.2H1534.3M1524.3 958.9H1534.3M1524.3 889.7H1534.3M1524.3 820.5H1534.3M1582 1028.2v9M1692.5 1028.2v9" fill="none" stroke="#000" stroke-width="1.5"/><text x="1635.3" y="793.2" font-size="21.5" text-anchor="middle">NCI</text><text x="1582" y="1058.9" font-size="21.5" text-anchor="middle">20 mmHg</text><text x="1692.5" y="1058.9" font-size="21.5" text-anchor="middle">60 mmHg</text><text font-size="19.6" text-anchor="middle" transform="translate(1485.3 924.1) rotate(-90)">Peak ΔF/F(%)</text><path d="M1542.9 831.4L1570.4 831.4" stroke="#000" stroke-width="1.2"/><rect x="1551.9" y="826.4" width="10" height="10" fill="#c9c9c9" stroke="#f5311c" stroke-width="1.5"/><text x="1576.4" y="838.7" font-size="21.2">Pre</text><path d="M1542.9 856.9L1570.4 856.9" stroke="#000" stroke-width="1.2"/><rect x="1551.9" y="851.9" width="10" height="10" fill="#f28be8" stroke="#f5311c" stroke-width="1.5"/><text x="1576.4" y="864.2" font-size="21.2">Music</text><path d="M1561.2 984.8L1603.2 995.6M1561.2 994.8L1603.2 999.1M1561.2 999.1L1603.2 1000.4M1561.2 1007.8L1603.2 1010M1561.2 1017.8L1603.2 1017.8M1671.7 849.6L1713.8 950.1M1671.7 899.4L1713.8 955.8M1671.7 903.7L1713.8 962.3M1671.7 902.9L1713.8 978.7M1671.7 949.3L1713.8 986.1" fill="none" stroke="#000" stroke-width="0.9"/><path d="M1557 980.6h8.4v8.4h-8.4zM1599 991.4h8.4v8.4h-8.4zM1557 990.6h8.4v8.4h-8.4zM1599 994.9h8.4v8.4h-8.4zM1557 994.9h8.4v8.4h-8.4zM1599 996.2h8.4v8.4h-8.4zM1557 1003.6h8.4v8.4h-8.4zM1599 1005.8h8.4v8.4h-8.4zM1557 1013.6h8.4v8.4h-8.4zM1599 1013.6h8.4v8.4h-8.4zM1667.5 845.4h8.4v8.4h-8.4zM1709.6 945.9h8.4v8.4h-8.4zM1667.5 895.2h8.4v8.4h-8.4zM1709.6 951.6h8.4v8.4h-8.4zM1667.5 899.5h8.4v8.4h-8.4zM1709.6 958.1h8.4v8.4h-8.4zM1667.5 898.7h8.4v8.4h-8.4zM1709.6 974.5h8.4v8.4h-8.4zM1667.5 945.1h8.4v8.4h-8.4zM1709.6 981.9h8.4v8.4h-8.4z" fill="none" stroke="#f5311c" stroke-width="1.6"/><path d="M1671.7 835.7V823.5H1713.8V835.7" fill="none" stroke="#000" stroke-width="1.5"/><text x="1691.2" y="817" font-size="19" text-anchor="middle">***</text><rect x="1546" y="1349.2" width="27.3" height="23.4" fill="#c9c9c9"/><rect x="1588.1" y="1353.1" width="27.7" height="19.5" fill="#f28be8"/><rect x="1658.7" y="1302.8" width="27.3" height="69.8" fill="#c9c9c9"/><rect x="1700.8" y="1307.6" width="28.2" height="65" fill="#f28be8"/><text x="1518.8" y="1379.9" font-size="20.8" text-anchor="end">0</text><text x="1518.8" y="1309.3" font-size="20.8" text-anchor="end">10</text><text x="1518.8" y="1238.6" font-size="20.8" text-anchor="end">20</text><text x="1518.8" y="1167.9" font-size="20.8" text-anchor="end">30</text><path d="M1532.6 1160.6V1372.6M1523 1372.6H1742.4M1523 1372.6H1532.6M1523 1302H1532.6M1523 1231.3H1532.6M1523 1160.6H1532.6M1580.7 1372.6v9M1693.4 1372.6v9" fill="none" stroke="#000" stroke-width="1.5"/><text x="1637" y="1143.7" font-size="21.5" text-anchor="middle">CON</text><text x="1580.7" y="1403.4" font-size="21.5" text-anchor="middle">20 mmHg</text><text x="1693.4" y="1403.4" font-size="21.5" text-anchor="middle">60 mmHg</text><text font-size="19.6" text-anchor="middle" transform="translate(1483.2 1267.3) rotate(-90)">Peak ΔF/F(%)</text><path d="M1541.1 1171.9L1568.6 1171.9" stroke="#000" stroke-width="1.2"/><circle cx="1555.1" cy="1171.9" r="5" fill="#c9c9c9" stroke="#000" stroke-width="1.3"/><text x="1574.6" y="1179.2" font-size="21.2">Pre</text><path d="M1541.1 1196.6L1568.6 1196.6" stroke="#000" stroke-width="1.2"/><circle cx="1555.1" cy="1196.6" r="5" fill="#f28be8" stroke="#000" stroke-width="1.3"/><text x="1574.6" y="1203.9" font-size="21.2">Music</text><path d="M1559.9 1339.2L1603.2 1347.5M1559.9 1344.4L1603.2 1349.6M1559.9 1347.9L1603.2 1353.1M1559.9 1350.9L1603.2 1350.9M1559.9 1357.4L1603.2 1356.1M1559.9 1360.9L1603.2 1361.8M1673 1296.8L1715.1 1257.7M1673 1282.4L1715.1 1282.4M1673 1298.9L1715.1 1295.9M1673 1301.1L1715.1 1316.3M1673 1303.3L1715.1 1320.6M1673 1314.1L1715.1 1324.9M1673 1326.2L1715.1 1334.5" fill="none" stroke="#000" stroke-width="0.9"/><g fill="none" stroke="#000" stroke-width="1.5"><circle cx="1559.9" cy="1339.2" r="4.1"/><circle cx="1603.2" cy="1347.5" r="4.1"/><circle cx="1559.9" cy="1344.4" r="4.1"/><circle cx="1603.2" cy="1349.6" r="4.1"/><circle cx="1559.9" cy="1347.9" r="4.1"/><circle cx="1603.2" cy="1353.1" r="4.1"/><circle cx="1559.9" cy="1350.9" r="4.1"/><circle cx="1603.2" cy="1350.9" r="4.1"/><circle cx="1559.9" cy="1357.4" r="4.1"/><circle cx="1603.2" cy="1356.1" r="4.1"/><circle cx="1559.9" cy="1360.9" r="4.1"/><circle cx="1603.2" cy="1361.8" r="4.1"/><circle cx="1673" cy="1296.8" r="4.1"/><circle cx="1715.1" cy="1257.7" r="4.1"/><circle cx="1673" cy="1282.4" r="4.1"/><circle cx="1715.1" cy="1282.4" r="4.1"/><circle cx="1673" cy="1298.9" r="4.1"/><circle cx="1715.1" cy="1295.9" r="4.1"/><circle cx="1673" cy="1301.1" r="4.1"/><circle cx="1715.1" cy="1316.3" r="4.1"/><circle cx="1673" cy="1303.3" r="4.1"/><circle cx="1715.1" cy="1320.6" r="4.1"/><circle cx="1673" cy="1314.1" r="4.1"/><circle cx="1715.1" cy="1324.9" r="4.1"/><circle cx="1673" cy="1326.2" r="4.1"/><circle cx="1715.1" cy="1334.5" r="4.1"/></g></g>
<g id="panelI"><text x="10.6" y="1467.6" font-size="29.3" font-weight="bold">I</text><text x="55.2" y="1547.1" font-size="21">Electrode</text><text x="45.6" y="1573" font-size="21.1">implantation</text><text x="164.3" y="1547.1" font-size="21.2">Microelectrode</text><text x="213.1" y="1573" font-size="20.5">array</text><path d="M70 1590.2H220M70 1585.5v9.5M220 1584.5v10.5" fill="none" stroke="#000" stroke-width="1.5"/><text x="43.6" y="1614.9" font-size="21">Week 6</text><text x="217.5" y="1614.9" font-size="21.3" text-anchor="middle">7</text><path d="M216.7 1593.2L164.5 1623.5M222.9 1593.2L277.1 1624.2" fill="none" stroke="#222" stroke-width="1.1" stroke-dasharray="3.5 3"/><text x="189.7" y="1663.6" font-size="20.9" fill="#f088e6">Music</text><path d="M154.9 1671H279.8M154.9 1671l4.9 -3.8M154.9 1671l4.9 3.8M279.8 1671l-4.9 -3.8M279.8 1671l-4.9 3.8" stroke="#f088e6" stroke-width="1.5" fill="none"/><text x="84" y="1693.2" font-size="21">Pre-CRD</text><text x="231" y="1693.2" font-size="20.7">CRD</text><path d="M104.9 1701.8H154.7M104.9 1697.4v9" fill="none" stroke="#8a8a8a" stroke-width="1.6"/><path d="M154.7 1701.8H279.3M154.7 1697.4v9M229.1 1697.4v9M279.3 1697.4v9" fill="none" stroke="#f088e6" stroke-width="1.6"/><text x="162.6" y="1723.3" font-size="19.9">15 min</text><g transform="translate(374.6 1647.5) rotate(0) scale(0.0985) translate(-148 -178)"><path d="M148 178L412 142L418 870L150 905Z" fill="#8faab1" stroke="#6a858c" stroke-width="8"/><path d="M200 285H338V905H200Z" fill="#121212"/><path d="M208 318h36M298 312h34M208 361h36M298 355h34M208 404h36M298 398h34M208 447h36M298 441h34M208 490h36M298 484h34M208 533h36M298 527h34M208 576h36M298 570h34M208 619h36M298 613h34M208 662h36M298 656h34M208 705h36M298 699h34M208 748h36M298 742h34M208 791h36M298 785h34M208 834h36M298 828h34M208 877h36M298 871h34" stroke="#f2f2f2" stroke-width="18" fill="none"/><path d="M250 285H292V895H250Z" fill="#eef02a" stroke="#b8b810" stroke-width="5"/><path d="M108 885L150 850V905L418 868L430 835L540 1440L535 1540L238 1585L108 990Z" fill="#a9c5cb" stroke="#6f8a91" stroke-width="8" stroke-linejoin="round"/><path d="M140 935L415 900L528 1450L245 1492Z" fill="#a6c2c8" stroke="#6f8a91" stroke-width="6"/><path d="M245 1492L528 1450L535 1540L238 1585Z" fill="#b5ced3" stroke="#6f8a91" stroke-width="6"/><path d="M108 885L140 935L245 1492L238 1585L108 990Z" fill="#c3d7db" stroke="#6f8a91" stroke-width="5"/><rect x="348" y="845" width="52" height="45" rx="12" fill="#2c2c2c"/><rect x="345" y="750" width="50" height="112" rx="22" fill="#cdcdcd" stroke="#777" stroke-width="6"/><path d="M285 1192L372 1150" stroke="#f4f4f4" stroke-width="14"/><path d="M277 1165L303 1218M358 1125L384 1180" stroke="#f4f4f4" stroke-width="16" stroke-linecap="round"/><path d="M388 1138L562 1044" stroke="#e2e2e2" stroke-width="40"/><path d="M400 1132L550 1050" stroke="#fafafa" stroke-width="16"/><path d="M562 1044L606 1021" stroke="#4a4a4a" stroke-width="40"/><path d="M606 1021L652 999" stroke="#cfcfcf" stroke-width="22"/><path d="M652 999L712 968M690 925L738 1035" stroke="#2a6fd0" stroke-width="13" fill="none"/><path d="M662 882L690 928M736 1032L750 1062" stroke="#dadada" stroke-width="20"/><path d="M370 752C370 640 520 620 600 700C645 750 640 830 668 885" stroke="#1c1c1c" stroke-width="9" fill="none"/><path d="M748 1058C800 1150 700 1260 780 1360C850 1460 1000 1490 1100 1455" stroke="#1c1c1c" stroke-width="9" fill="none"/><path d="M1100 1455L1500 1270" stroke="#c8141e" stroke-width="14" fill="none"/></g><g transform="translate(350 1470) scale(0.2833)"><path d="M875 440L960 398H1160C1185 398 1185 425 1170 440L1105 482H890C870 482 870 445 875 440Z" fill="#4a4a4a"/><path d="M880 434L962 400H1160L1098 434Z" fill="#d4d4d4"/><rect x="874" y="433" width="228" height="50" rx="12" fill="#454545"/><path d="M890 446h24v22h-24zM925 446h24v22h-24zM960 446h24v22h-24zM995 446h24v22h-24zM1030 446h24v22h-24z" fill="#555" stroke="#ddd" stroke-width="2.5"/><circle cx="1075" cy="457" r="10" fill="#fff"/><path d="M630 458C720 450 780 470 820 520C860 570 950 570 970 485M985 485C975 530 960 570 1010 575C1060 580 1120 560 1130 600C1135 640 1100 660 1085 682" stroke="#1a1a1a" stroke-width="3.8" fill="none"/><rect x="618" y="452" width="20" height="11" fill="#1a1a1a"/><path d="M1040 768L1058 735" stroke="#e8e0d0" stroke-width="10"/><path d="M1050 745L1058 730" stroke="#c8a040" stroke-width="10"/><path d="M1020 705L1038 672L1112 710L1094 745Z" fill="#161616"/><path d="M1020 705L1094 745L1090 752L1016 712Z" fill="#e8e8e8"/><path d="M1075 690L1088 668" stroke="#ddd" stroke-width="12"/></g><g transform="translate(446.2 1588) scale(0.2096 0.2264)"><path d="M270 748C200 732 132 640 112 470C98 340 136 230 104 68C184 200 158 330 168 460C180 600 225 680 295 700Z" fill="#d9aaa2" stroke="#c4938b" stroke-width="2"/><path d="M450 690C500 710 560 725 615 735C640 740 640 755 615 757C635 768 625 782 600 775C605 792 580 795 565 780C555 795 530 790 525 772C495 765 465 740 445 715Z" fill="#e0aba3"/><path d="M690 745C740 735 800 730 860 740C880 748 865 762 845 758C850 775 825 778 812 768C800 790 780 785 770 772C760 800 735 790 728 775C705 775 690 765 680 755Z" fill="#e0aba3"/><path d="M845 330C850 300 880 300 900 322C925 350 935 395 925 430L860 400Z" fill="#3d3d3d"/><path d="M275 755C270 690 280 620 295 560C305 500 345 410 410 360C470 320 540 305 590 306C650 308 700 335 750 358C780 370 810 372 830 368C880 360 930 395 960 432C990 465 1015 520 1030 565C1040 600 1050 630 1052 650C1050 668 1035 675 1010 678C985 680 960 672 945 662C915 650 880 630 860 622C830 640 790 660 775 700C768 725 765 740 770 752L700 762C690 740 680 725 650 700C610 715 540 715 485 700C470 720 465 735 455 745L380 748C340 745 300 750 275 755Z" fill="#424242"/><path d="M300 690L255 712L290 715L262 740L300 738L275 762L330 750Z" fill="#424242"/><path d="M485 500C540 510 575 550 570 610C565 650 540 690 500 700" fill="none" stroke="#363636" stroke-width="3"/><ellipse cx="840" cy="398" rx="47" ry="52" fill="#d7a39c" stroke="#3a3a3a" stroke-width="3" transform="rotate(-12 840 398)"/><ellipse cx="848" cy="405" rx="30" ry="36" fill="#cc948d" transform="rotate(-12 848 405)"/><ellipse cx="972" cy="532" rx="17" ry="11" fill="#0a0a0a" transform="rotate(20 972 532)"/><circle cx="979" cy="529" r="3.5" fill="#eee"/><circle cx="1036" cy="652" r="14" fill="#e0a9a6"/><path d="M1045 600L1130 612M1048 612L1120 640M950 640L880 660" stroke="#ddd" stroke-width="2" fill="none"/><ellipse cx="352" cy="705" rx="46" ry="29" fill="#ececec" stroke="#b5b5b5" stroke-width="4" transform="rotate(-14 352 705)"/><path d="M880 440C900 420 940 415 975 425C1000 432 1010 450 1000 462C980 475 950 470 930 462C905 470 880 460 880 440Z" fill="#e7b9b3" stroke="#cf9a94" stroke-width="3"/></g><g transform="translate(317 1458.9) scale(0.2933)"><path d="M272 350L668 350L725 545L218 545Z" fill="#a8a8a8" stroke="#5b6b8c" stroke-width="3"/><rect x="272" y="88" width="396" height="266" rx="18" fill="#8e8e8e" stroke="#6e6e6e" stroke-width="3"/><rect x="285" y="105" width="370" height="243" fill="#ebebeb"/><path d="M298 372h21.7M326.7 372h21.7M355.3 372h21.7M384 372h21.7M412.7 372h21.7M441.3 372h21.7M470 372h21.7M498.7 372h21.7M527.3 372h21.7M556 372h21.7M584.7 372h21.7M613.3 372h21.7M292 392h22.7M321.7 392h22.7M351.3 392h22.7M381 392h22.7M410.7 392h22.7M440.3 392h22.7M470 392h22.7M499.7 392h22.7M529.3 392h22.7M559 392h22.7M588.7 392h22.7M618.3 392h22.7M286 412h23.7M316.7 412h23.7M347.3 412h23.7M378 412h23.7M408.7 412h23.7M439.3 412h23.7M470 412h23.7M500.7 412h23.7M531.3 412h23.7M562 412h23.7M592.7 412h23.7M623.3 412h23.7M280 432h24.7M311.7 432h24.7M343.3 432h24.7M375 432h24.7M406.7 432h24.7M438.3 432h24.7M470 432h24.7M501.7 432h24.7M533.3 432h24.7M565 432h24.7M596.7 432h24.7M628.3 432h24.7M274 453H305.4M313.2 453H368.1M379.8 453H481.8M509.2 453H540.6M548.4 453H579.8M587.6 453H619M626.8 453H666" stroke="#0a0a0a" stroke-width="14" fill="none"/><path d="M405 472L535 472L548 532L388 532Z" fill="#cfd9ea" stroke="#8a97b0" stroke-width="2"/><rect x="285" y="105" width="370" height="243" fill="#fbfbfb"/><path d="M292 164.8v87M294.8 154v32.5M298 161.1v25.2M300.7 167.7v19.5M303.8 132.4v54.7M306.9 158.7v29.3M310.6 155.4v54.8M313.9 165.3v30.1M318.1 164v24.3M322.1 166.6v25.6M326.2 160.9v79.4M328.6 155.4v34.7M331.4 167.8v20.3M334.4 156.3v75.4M338.1 154.4v32.1M340.4 157.3v77M343.5 161.8v27.3M345.9 166.8v18.5M350 150.5v42M352.5 162.6v28.3M356.9 122v140.8M360.9 154.1v114.9M363.3 159.5v30.4M365.8 159.9v74.7M369.6 161.4v27.3M372.3 161.8v23.5M375.9 167.7v20.7M380.3 157.4v32.6M383 132.6v60.3M387.3 157.6v37.5M390.2 160.3v35.4M394.3 160.8v30.7M397.2 156.2v30.2M401.4 163.6v23.9M405.2 154.9v37.8M408.2 162v27.9M411 167v25.8M413.5 156.4v30.9M416.8 164.1v30.5M421.3 156.9v101.9M425.4 162.8v30.5M429.1 157.1v38.8M431.6 159.5v76.6M435.9 155v30.1M439.6 163.5v20.9M443.3 162.9v31.1M446.8 163.5v24M450.2 166.4v26.3M453 162.5v26.6M455.7 163.9v22.2M458.1 160.2v32.6M461 155.7v37.2M465.4 154v73.2M468 157.3v27.4M471.6 162.2v33M475.9 158.3v37.5M480 160.6v27.1M482.5 156.3v33.7M486.9 164v22.7M491 139.9v45.6M495.3 163.1v29.2M499.1 166.9v19.3M503.5 162v29.5M508 167.4v23.8M511.1 154.7v37.1M513.8 162.9v25.3M516.9 159.2v92.9M519.8 167.5v19.2M523.3 163.8v28M527.2 159.8v27.3M531.4 161.7v29.8M534.4 159.9v32.9M537.6 161.4v27.2M540.2 166v91.6M542.9 159.1v27.9M545.4 167.5v58.9M549.3 126.6v64.3M552.2 121.6v67.4M554.6 160.8v28.9M559.1 155.3v60.2M563.5 158.7v29.5M566.3 158.3v51.9M570.1 164.8v23.9M573.5 159.6v91.5M576.1 156.7v35.2M579.4 158v29.8M582.4 160.9v33.7M586.6 154.4v37M589.3 156.8v64.7M593.2 159.6v26.8M596 161.8v59.6M600.2 155.1v33.7M603.2 156v36M606.6 160.3v34.3M610.5 154.8v36.5M613.8 159.9v111.1M617.3 165.2v62.6M620.2 161.2v24.7M623.8 154.4v41M627.8 155.7v34.8M631.2 160.9v27.9M635.2 165.8v19.6M639 155.2v37.7M642.7 161.7v95.8M645.7 160.6v31.5M650 160.3v32.3" stroke="#6175cf" stroke-width="2.2" fill="none" opacity="0.8"/><path d="M292 176H650" stroke="#5468c8" stroke-width="22" opacity="0.85"/><path d="M340 340h8M390 340h4M405 340h3M420 340h20M440 340h12M500 340h5M520 340h50M595 340h4M610 340h40" stroke="#e0a030" stroke-width="3" stroke-dasharray="3 2"/></g><g transform="translate(425.9 1583.2) scale(0.2190)"><g fill="none" stroke="#f4b6ec" stroke-width="2" opacity="0.7"><path d="M1090 470C1180 380 1280 500 1450 495"/><path d="M1095 495C1180 410 1290 530 1455 500"/><path d="M1100 520C1190 440 1300 550 1460 505"/><path d="M1110 545C1200 470 1300 560 1465 510"/></g><g filter="url(#glow)" fill="#f052d8"><g transform="translate(1146 456)"><ellipse cx="0" cy="0" rx="12" ry="8.5" transform="rotate(-20)"/><ellipse cx="44" cy="-8" rx="12" ry="8.5" transform="rotate(-20 44 -8)"/><path d="M6 -2h5.5v-52l36.5 -7v53h5.5v-69l-47.5 9z"/></g><g transform="translate(1268 523)"><ellipse cx="0" cy="0" rx="12" ry="8.5" transform="rotate(-20)"/><ellipse cx="44" cy="-8" rx="12" ry="8.5" transform="rotate(-20 44 -8)"/><path d="M6 -2h5.5v-52l36.5 -7v53h5.5v-69l-47.5 9z"/></g></g><path d="M1432 412V568C1432 590 1542 590 1542 568V412Z" fill="#2b2b2b"/><ellipse cx="1487" cy="412" rx="55" ry="17" fill="#3c3c3c" stroke="#58cfae" stroke-width="5"/><circle cx="1487" cy="553" r="11" fill="#58cfae"/><circle cx="1487" cy="553" r="5" fill="#2b2b2b"/><path d="M1440 500C1460 500 1475 492 1482 488" stroke="#d870c8" stroke-width="3" fill="none"/></g></g>
<g id="panelJ"><text x="831.6" y="1466.9" font-size="29.3" font-weight="bold">J</text><text x="973" y="1490.4" font-size="20.6" text-anchor="middle">Pre</text><path d="M889.5 1496.7L1057.5 1496.7" stroke="#000" stroke-width="1.5"/><text x="1156.6" y="1490.4" font-size="20.6" text-anchor="middle" fill="#f088e6">Music</text><path d="M1073 1496.7L1240.7 1496.7" stroke="#f088e6" stroke-width="1.5"/><text x="886.7" y="1517" font-size="17.3">Baseline</text><text x="958.9" y="1517" font-size="17" fill="#e8502a">CRD</text><path d="M898 1524.4L950.4 1524.4" stroke="#000" stroke-width="1.5"/><path d="M950.4 1524.4L1002.2 1524.4" stroke="#e8502a" stroke-width="1.5"/><text x="1065.7" y="1517" font-size="17.3">Baseline</text><text x="1137.9" y="1517" font-size="17" fill="#e8502a">CRD</text><path d="M1077.4 1524.4L1129.4 1524.4" stroke="#000" stroke-width="1.5"/><path d="M1129.4 1524.4L1181.2 1524.4" stroke="#e8502a" stroke-width="1.5"/><rect x="860" y="1534.2" width="29.6" height="120.5" fill="#fff" stroke="#000" stroke-width="1.6"/><rect x="860" y="1665" width="29.6" height="120" fill="#fff" stroke="#000" stroke-width="1.6"/><text font-size="21" text-anchor="middle" transform="translate(882.5 1594.5) rotate(-90)">NCI</text><text font-size="21" text-anchor="middle" transform="translate(882.5 1725) rotate(-90)">CON</text><path d="M895.7 1539.9H1061.7" stroke="#000" stroke-width="10.7" stroke-dasharray="0.9 2.2 0.9 1.2 4.6 1.2 0.9 0.8 2.4 2.2 1.1 3 0.9 2.2 1.1 1.6 2.4 1.2 1.1 2.2 2.4 0.8 5.5 1.6 1.1 2.2 2.4 2.2 1.1 1.2 1.3 1.2 1.1 2.2 1.3 1.6 1.8 2.2 1.3 1.2 6 1.6 4.7 3 1.3 0.8 0.9 3 0.9 2.2 1.3 1.2 1.1 1.6 0.9 3 1.3 0.8 4.9 1.2 1.1 1.2 1.8 3 1.3 1.6 4.5 3 0.9 2.2 2.4 2.2 5.3 1.6 1.8 1.6 0.9 2.2 1.8 1.2 3.4 3 3.1 3 5.4 1.6"/><path d="M895.7 1539.9H1061.7" stroke="#000" stroke-width="10.7" stroke-dasharray="2.4 4.4 2.4 6 2.4 4.4 1.1 6 1.8 3.2 0.9 6 1.1 3.2 2.4 2.4 0.9 4.4 1.1 4.4 3.6 3.2 1.1 3.2 0.9 1.6 1.3 3.2 1.8 3.2 0.9 4.4 1.1 2.4 1.3 3.2 1.3 1.6 0.9 2.4 5.1 4.4 1.3 2.4 0.9 4.4 1.8 1.6 3.8 3.2 1.3 2.4 1.8 2.4 1.1 6 0.9 6 0.9 3.2 4.5 3.2" opacity="0.45"/><path d="M895.7 1551.2H1061.7" stroke="#000" stroke-width="10.7" stroke-dasharray="2.4 1.6 1.8 2.2 2.4 1.2 0.9 3 1.1 0.8 1.8 1.6 0.9 3 1.1 2.2 1.8 1.2 1.3 1.6 1.8 1.2 1.8 3 0.9 2.2 1.8 1.6 1.8 0.8 5.5 1.6 0.9 2.2 3.2 3 1.3 3 1.8 1.2 5.1 2.2 1.8 2.2 1.1 3 4.3 3 0.9 2.2 2.4 1.6 5.6 1.2 1.8 1.2 1.3 2.2 1.3 3 1.8 1.6 1.1 1.6 1.1 0.8 0.9 1.6 1.8 2.2 2.4 0.8 2.4 2.2 1.1 2.2 0.9 1.6 1.3 1.6 1.3 0.8 2.4 1.2 2.4 3 1.3 1.2"/><path d="M895.7 1551.2H1061.7" stroke="#000" stroke-width="10.7" stroke-dasharray="1.8 6 1.3 6 3.8 1.6 1.1 2.4 1.1 4.4 5.2 2.4 1.1 2.4 1.1 6 1.8 4.4 5.5 3.2 1.3 2.4 1.8 3.2 0.9 4.4 1.3 2.4 0.9 6 1.1 1.6 0.9 3.2 1.1 1.6 1.8 3.2 1.3 4.4 0.9 1.6 2.4 3.2 0.9 3.2 1.1 4.4 5.6 1.6 1.1 6 1.3 6 1.1 3.2 2.4 2.4 4.7 2.4 2.4 1.6" opacity="0.45"/><path d="M895.7 1562.5H1061.7" stroke="#000" stroke-width="10.7" stroke-dasharray="3.8 1.2 1.3 2.2 1.8 1.6 3.8 1.6 1.3 2.2 1.8 1.2 2.4 3 3.1 2.2 2.4 3 4.4 0.8 2.4 2.2 2.4 3 1.1 3 1.8 1.6 1.8 1.6 1.1 1.2 1.1 2.2 1.8 1.2 2.4 3 0.9 1.6 5.1 0.8 1.8 2.2 2.4 0.8 2.4 2.2 1.8 1.6 3.5 1.6 1.1 3 1.3 1.2 1.3 3 1.1 2.2 2.4 2.2 0.9 0.8 1.8 3 3.1 3 1.3 0.8 0.9 0.8 1.1 1.6 1.3 1.6 1.3 3 3.1 1.2 5.5 3"/><path d="M895.7 1562.5H1061.7" stroke="#000" stroke-width="10.7" stroke-dasharray="4.5 4.4 1.1 6 0.9 1.6 1.3 6 2.4 2.4 1.8 2.4 2.4 1.6 1.8 6 1.3 4.4 1.3 6 1.8 6 1.8 6 1.3 1.6 5.4 2.4 1.1 2.4 2.4 2.4 1.3 1.6 1.3 3.2 1.3 6 1.1 3.2 1.8 6 1.3 6 1.1 6 0.9 1.6 1.3 6 1.3 3.2 2.4 4.4 0.9 6 2.4 2.4" opacity="0.45"/><path d="M895.7 1573.8H1061.7" stroke="#000" stroke-width="10.7" stroke-dasharray="5.8 1.6 1.3 1.6 0.9 2.2 0.9 0.8 1.3 1.2 1.8 2.2 1.1 0.8 0.9 1.2 1.1 2.2 2.4 3 4.5 1.6 0.9 3 1.8 1.6 0.9 3 1.1 0.8 1.3 3 1.3 2.2 1.1 3 1.1 1.6 1.8 1.2 1.1 3 4.5 3 1.8 0.8 0.9 2.2 1.3 1.2 1.3 3 1.1 1.6 1.1 2.2 1.3 2.2 1.3 1.6 1.3 0.8 1.1 0.8 1.1 1.6 1.3 1.6 1.1 1.6 1.1 1.6 1.8 1.2 1.3 3 1.3 3 5.7 3 3.8 1.2 1.1 1.2 2.4 2.2 0.9 2.2 0.9 1.2 1.3 2.2 3.2 2.2"/><path d="M895.7 1573.8H1061.7" stroke="#000" stroke-width="10.7" stroke-dasharray="4.1 4.4 1.3 3.2 1.3 2.4 1.3 6 6 6 1.8 1.6 2.4 4.4 4.6 6 4 6 4.5 1.6 4 6 1.8 3.2 1.1 3.2 2.4 6 1.8 1.6 5.9 3.2 3.6 2.4 1.1 4.4 1.1 2.4 1.8 6 1.1 1.6 1.8 2.4 1.3 6 1.3 1.6 1.3 2.4 2.4 1.6 2.4 4.4" opacity="0.45"/><path d="M895.7 1585.1H1061.7" stroke="#000" stroke-width="10.7" stroke-dasharray="1.8 1.6 2.4 1.2 2.4 1.2 2.4 1.2 4.2 0.8 1.1 1.2 1.8 3 1.1 1.2 1.8 0.8 2.4 0.8 1.3 3 1.8 1.2 0.9 3 1.8 3 3.4 3 2.4 1.6 2.4 0.8 3.1 3 1.3 1.6 0.9 2.2 1.3 0.8 2.4 1.6 4.3 0.8 4.3 1.6 1.3 1.6 1.8 0.8 1.3 2.2 1.8 2.2 1.8 0.8 1.1 3 2.4 0.8 1.1 2.2 3.3 2.2 1.1 1.6 1.8 3 1.3 1.2 1.1 0.8 1.3 2.2 1.3 0.8 1.8 3 4.5 1.6 1.1 0.8 1.1 3 1.3 2.2 0.9 1.2 1.8 0.8"/><path d="M895.7 1585.1H1061.7" stroke="#000" stroke-width="10.7" stroke-dasharray="1.8 1.6 1.1 1.6 0.9 2.4 1.1 2.4 1.3 4.4 1.8 2.4 1.8 3.2 0.9 6 1.8 1.6 1.3 6 1.8 4.4 1.1 1.6 0.9 2.4 1.3 2.4 4.2 1.6 1.8 4.4 1.3 1.6 2.4 1.6 1.8 2.4 2.4 4.4 1.1 2.4 1.8 6 1.3 3.2 1.3 4.4 0.9 6 4.5 2.4 1.1 2.4 0.9 1.6 2.4 2.4 0.9 2.4 1.8 1.6 1.1 4.4 0.9 2.4 1.3 1.6 1.8 3.2 0.9 3.2 1.1 1.6" opacity="0.45"/><path d="M896.4 1655.3v-18.2M898.1 1655.3v-12.9M899.8 1655.3v-21.2M901.5 1655.3v-13.6M903.3 1655.3v-20.4M905 1655.3v-14.3M906.7 1655.3v-12.4M908.4 1655.3v-14.3M910.1 1655.3v-13.8M911.8 1655.3v-15.6M913.5 1655.3v-13.7M915.3 1655.3v-10.6M917 1655.3v-13.7M918.7 1655.3v-46.4M920.4 1655.3v-24.1M922.1 1655.3v-13.5M923.8 1655.3v-29.1M925.5 1655.3v-16.6M927.3 1655.3v-12.3M929 1655.3v-50.9M930.7 1655.3v-22.6M932.4 1655.3v-15.1M934.1 1655.3v-16.9M935.8 1655.3v-16.6M937.6 1655.3v-13.4M939.3 1655.3v-12.1M941 1655.3v-21M942.7 1655.3v-43.6M944.4 1655.3v-14.9M946.1 1655.3v-31.7M947.8 1655.3v-18.7M949.6 1655.3v-19.5M951.3 1655.3v-33M953 1655.3v-21.1M954.7 1655.3v-16.8M956.4 1655.3v-21.5M958.1 1655.3v-15M959.8 1655.3v-21.6M961.6 1655.3v-25.2M963.3 1655.3v-35.8M965 1655.3v-34.2M966.7 1655.3v-53.5M968.4 1655.3v-29.4M970.1 1655.3v-17M971.8 1655.3v-17.4M973.6 1655.3v-34.7M975.3 1655.3v-35.5M977 1655.3v-29.7M978.7 1655.3v-25.8M980.4 1655.3v-33.4M982.1 1655.3v-24.6M983.8 1655.3v-19.6M985.6 1655.3v-30M987.3 1655.3v-15.3M989 1655.3v-14.6M990.7 1655.3v-48.9M992.4 1655.3v-27.9M994.1 1655.3v-33.2M995.8 1655.3v-19.7M997.6 1655.3v-29.2M999.3 1655.3v-17.7M1001 1655.3v-29.6M1002.7 1655.3v-31.1M1004.4 1655.3v-14.1M1006.1 1655.3v-50M1007.8 1655.3v-19.9M1009.6 1655.3v-24M1011.3 1655.3v-20.7M1013 1655.3v-23.1M1014.7 1655.3v-27M1016.4 1655.3v-16M1018.1 1655.3v-28.2M1019.9 1655.3v-23.5M1021.6 1655.3v-28.1M1023.3 1655.3v-23.1M1025 1655.3v-15.2M1026.7 1655.3v-13.6M1028.4 1655.3v-16.5M1030.1 1655.3v-14.2M1031.9 1655.3v-20.5M1033.6 1655.3v-21.7M1035.3 1655.3v-15.5M1037 1655.3v-18.8M1038.7 1655.3v-13.5M1040.4 1655.3v-41.6M1042.1 1655.3v-13.8M1043.9 1655.3v-19.9M1045.6 1655.3v-15.7M1047.3 1655.3v-19.3M1049 1655.3v-29.9M1050.7 1655.3v-44.3M1052.4 1655.3v-9.8M1054.1 1655.3v-18.1M1055.9 1655.3v-34.3M1057.6 1655.3v-16.8M1059.3 1655.3v-32.4M1061 1655.3v-15.4" stroke="#a8a8a8" stroke-width="1.4"/><path d="M896.4 1655.3v-15M898.1 1655.3v-10.1M899.8 1655.3v-17.8M901.5 1655.3v-12.9M903.3 1655.3v-19.6M905 1655.3v-13.9M906.7 1655.3v-11.8M908.4 1655.3v-8.2M910.1 1655.3v-10.3M911.8 1655.3v-13.5M913.5 1655.3v-11.5M915.3 1655.3v-7M917 1655.3v-13.2M918.7 1655.3v-15.9M920.4 1655.3v-17.6M922.1 1655.3v-9.3M923.8 1655.3v-19.3M925.5 1655.3v-13M927.3 1655.3v-10.3M929 1655.3v-11M930.7 1655.3v-15.7M932.4 1655.3v-12.6M934.1 1655.3v-12M935.8 1655.3v-13.7M937.6 1655.3v-12.6M939.3 1655.3v-11.4M941 1655.3v-9.6M942.7 1655.3v-19.1M944.4 1655.3v-13M946.1 1655.3v-15.4M947.8 1655.3v-13.4M949.6 1655.3v-15.7M951.3 1655.3v-13.8M953 1655.3v-16.5M954.7 1655.3v-8.6M956.4 1655.3v-18.4M958.1 1655.3v-9.4M959.8 1655.3v-19.6M961.6 1655.3v-18.5M963.3 1655.3v-20.8M965 1655.3v-25.1M966.7 1655.3v-24.9M968.4 1655.3v-18.7M970.1 1655.3v-17M971.8 1655.3v-16.9M973.6 1655.3v-25.6M975.3 1655.3v-17M977 1655.3v-21.8M978.7 1655.3v-21.3M980.4 1655.3v-24.7M982.1 1655.3v-12.4M983.8 1655.3v-18.4M985.6 1655.3v-16.8M987.3 1655.3v-15.3M989 1655.3v-11.2M990.7 1655.3v-17.1M992.4 1655.3v-12.9M994.1 1655.3v-13.1M995.8 1655.3v-18.1M997.6 1655.3v-20.6M999.3 1655.3v-13.3M1001 1655.3v-13.2M1002.7 1655.3v-9.7M1004.4 1655.3v-13.6M1006.1 1655.3v-11.7M1007.8 1655.3v-17.3M1009.6 1655.3v-19.3M1011.3 1655.3v-20M1013 1655.3v-16.5M1014.7 1655.3v-19.6M1016.4 1655.3v-14.9M1018.1 1655.3v-21.1M1019.9 1655.3v-18.7M1021.6 1655.3v-9.5M1023.3 1655.3v-13.8M1025 1655.3v-14.5M1026.7 1655.3v-9.9M1028.4 1655.3v-12M1030.1 1655.3v-10M1031.9 1655.3v-11.1M1033.6 1655.3v-14.2M1035.3 1655.3v-13.4M1037 1655.3v-17.2M1038.7 1655.3v-10.8M1040.4 1655.3v-10.7M1042.1 1655.3v-13.4M1043.9 1655.3v-19M1045.6 1655.3v-12.5M1047.3 1655.3v-16.2M1049 1655.3v-15.5M1050.7 1655.3v-12M1052.4 1655.3v-8.9M1054.1 1655.3v-16.1M1055.9 1655.3v-13.4M1057.6 1655.3v-15.8M1059.3 1655.3v-9.6M1061 1655.3v-12.2" stroke="#454545" stroke-width="1.6"/><path d="M896.4 1655.3v-6.3M898.1 1655.3v-8.7M899.8 1655.3v-7.9M901.5 1655.3v-6.6M903.3 1655.3v-11.7M905 1655.3v-8.5M906.7 1655.3v-8.1M908.4 1655.3v-6.5M910.1 1655.3v-11.2M911.8 1655.3v-7.7M913.5 1655.3v-7M915.3 1655.3v-6M917 1655.3v-7.6M918.7 1655.3v-8.1M920.4 1655.3v-8.2M922.1 1655.3v-6.1M923.8 1655.3v-9.6M925.5 1655.3v-6.5M927.3 1655.3v-8.2M929 1655.3v-6M930.7 1655.3v-8.5M932.4 1655.3v-8M934.1 1655.3v-8.3M935.8 1655.3v-6.6M937.6 1655.3v-7.8M939.3 1655.3v-7.9M941 1655.3v-8M942.7 1655.3v-8.6M944.4 1655.3v-6.6M946.1 1655.3v-6.2M947.8 1655.3v-7.7M949.6 1655.3v-8.1M951.3 1655.3v-6.9M953 1655.3v-6.1M954.7 1655.3v-8M956.4 1655.3v-12.6M958.1 1655.3v-9.6M959.8 1655.3v-7M961.6 1655.3v-9.3M963.3 1655.3v-7.4M965 1655.3v-7.4M966.7 1655.3v-6.1M968.4 1655.3v-6.5M970.1 1655.3v-10.1M971.8 1655.3v-8.6M973.6 1655.3v-7.1M975.3 1655.3v-10.7M977 1655.3v-8.2M978.7 1655.3v-8.3M980.4 1655.3v-10.3M982.1 1655.3v-10.7M983.8 1655.3v-8.8M985.6 1655.3v-8.8M987.3 1655.3v-8.5M989 1655.3v-12.2M990.7 1655.3v-8M992.4 1655.3v-7.5M994.1 1655.3v-7M995.8 1655.3v-7.2M997.6 1655.3v-7.9M999.3 1655.3v-8M1001 1655.3v-7.5M1002.7 1655.3v-9.2M1004.4 1655.3v-9.4M1006.1 1655.3v-6.8M1007.8 1655.3v-8.8M1009.6 1655.3v-7.3M1011.3 1655.3v-11.7M1013 1655.3v-9.6M1014.7 1655.3v-7.8M1016.4 1655.3v-8M1018.1 1655.3v-8.5M1019.9 1655.3v-7.5M1021.6 1655.3v-8.5M1023.3 1655.3v-12.8M1025 1655.3v-8.5M1026.7 1655.3v-6.7M1028.4 1655.3v-7.7M1030.1 1655.3v-6.9M1031.9 1655.3v-8M1033.6 1655.3v-9.4M1035.3 1655.3v-10.3M1037 1655.3v-8.7M1038.7 1655.3v-6.7M1040.4 1655.3v-6.5M1042.1 1655.3v-9.5M1043.9 1655.3v-8.9M1045.6 1655.3v-7.4M1047.3 1655.3v-8.9M1049 1655.3v-6.5M1050.7 1655.3v-8M1052.4 1655.3v-8.4M1054.1 1655.3v-7.4M1055.9 1655.3v-8.9M1057.6 1655.3v-8.4M1059.3 1655.3v-6M1061 1655.3v-7.7" stroke="#000" stroke-width="1.8"/><path d="M895.7 1669.9H1061.7" stroke="#000" stroke-width="10.6" stroke-dasharray="4.3 1.6 1.8 1.2 0.9 1.6 1.3 0.8 1.3 1.6 1.8 3 1.8 1.6 1.8 3 0.9 3 1.8 1.2 0.9 2.2 0.9 0.8 5.3 0.8 1.8 3 1.1 0.8 1.8 3 2.4 2.2 1.3 1.6 2.4 2.2 0.9 2.2 1.3 2.2 1.1 3 1.3 1.2 2.4 1.6 1.3 1.2 1.3 2.2 1.3 3 0.9 3 0.9 1.6 4.8 3 2.4 2.2 1.3 0.8 1.8 0.8 1.3 3 1.3 0.8 1.8 1.6 3.6 2.2 2.4 1.2 2.4 1.6 1.8 3 1.3 1.6 0.9 2.2 1.1 1.6 1.8 1.2 0.9 0.8 1.1 1.6 1.3 0.8"/><path d="M895.7 1669.9H1061.7" stroke="#000" stroke-width="10.6" stroke-dasharray="2.4 6 2.4 1.6 2.4 3.2 2.4 3.2 1.3 4.4 0.9 6 2.4 6 2.4 6 2.4 4.4 4.2 3.2 0.9 2.4 1.3 3.2 1.8 6 3.7 3.2 2.4 6 0.9 6 2.4 3.2 2.4 4.4 1.1 6 1.1 2.4 1.1 3.2 1.3 4.4 1.3 2.4 4.9 6 1.8 3.2 1.1 1.6 1.8 2.4 1.8 4.4" opacity="0.45"/><path d="M895.7 1681.1H1061.7" stroke="#000" stroke-width="10.6" stroke-dasharray="1.3 1.2 1.1 1.2 1.3 1.6 5.7 2.2 1.8 3 1.8 0.8 0.9 3 2.4 1.2 0.9 1.2 1.8 0.8 1.8 1.2 1.8 1.6 1.1 2.2 1.1 1.2 1.1 0.8 1.8 2.2 2.4 1.2 2.4 2.2 2.4 2.2 1.3 2.2 1.1 1.6 1.3 0.8 1.8 1.2 5.3 0.8 5.7 2.2 1.3 1.6 0.9 3 1.3 3 2.4 1.2 0.9 0.8 5.7 3 1.1 0.8 1.8 1.2 1.1 2.2 1.8 2.2 1.1 0.8 1.3 1.6 1.3 1.6 2.4 2.2 1.1 3 2.4 0.8 1.3 0.8 2.4 1.2 0.9 0.8 1.8 3 2.4 3 1.8 2.2"/><path d="M895.7 1681.1H1061.7" stroke="#000" stroke-width="10.6" stroke-dasharray="1.3 2.4 3.5 6 5.8 6 1.3 1.6 1.8 6 0.9 1.6 0.9 3.2 0.9 4.4 1.8 1.6 3.1 4.4 3.9 1.6 1.3 2.4 2.4 4.4 0.9 2.4 0.9 2.4 1.3 4.4 3.2 6 1.1 4.4 0.9 3.2 5.4 6 1.1 3.2 0.9 2.4 0.9 3.2 1.3 3.2 2.4 4.4 1.8 4.4 3.3 3.2 1.1 3.2 1.8 2.4 4.2 3.2" opacity="0.45"/><path d="M895.7 1692.3H1061.7" stroke="#000" stroke-width="10.6" stroke-dasharray="0.9 3 1.8 2.2 4.5 2.2 0.9 2.2 1.8 3 1.3 3 2.4 3 4.1 1.2 1.3 1.2 1.3 2.2 1.8 1.6 3.9 1.2 1.8 0.8 1.8 1.6 0.9 3 1.8 2.2 0.9 2.2 1.1 0.8 4.1 1.2 0.9 2.2 1.3 3 1.1 3 0.9 1.6 0.9 1.2 0.9 2.2 1.3 1.6 1.1 0.8 0.9 2.2 1.8 1.2 0.9 2.2 2.4 2.2 1.3 1.2 0.9 2.2 1.3 1.6 2.4 0.8 1.3 1.2 1.1 1.2 2.4 1.2 5.9 1.6 2.4 2.2 5.4 2.2 1.3 0.8 1.1 2.2 0.9 1.2 1.3 2.2 1.8 1.2"/><path d="M895.7 1692.3H1061.7" stroke="#000" stroke-width="10.6" stroke-dasharray="1.8 4.4 1.3 1.6 3.3 4.4 1.3 3.2 1.8 3.2 0.9 1.6 2.4 4.4 0.9 3.2 2.4 4.4 2.4 1.6 0.9 3.2 2.4 6 1.8 4.4 1.1 2.4 1.8 4.4 1.1 1.6 1.3 2.4 1.8 3.2 2.4 1.6 0.9 6 1.8 6 1.3 2.4 1.1 1.6 4.6 2.4 1.3 2.4 1.3 3.2 1.8 1.6 2.4 3.2 5.1 6 1.1 6 1.3 3.2 0.9 6" opacity="0.45"/><path d="M895.7 1703.6H1061.7" stroke="#000" stroke-width="10.6" stroke-dasharray="5.3 3 1.1 1.6 4.2 0.8 2.4 1.6 1.1 2.2 0.9 1.2 0.9 3 1.8 0.8 0.9 1.2 1.3 1.6 1.8 0.8 1.8 1.2 1.3 2.2 1.8 3 1.8 3 1.3 2.2 1.1 2.2 1.1 2.2 1.3 3 4.6 1.6 0.9 0.8 1.1 1.2 0.9 2.2 1.3 2.2 1.3 0.8 2.4 3 0.9 3 1.1 3 0.9 1.2 1.1 2.2 0.9 1.2 0.9 2.2 1.1 1.6 5 3 1.1 3 1.1 1.6 1.3 0.8 5.9 0.8 1.8 1.6 0.9 1.6 4.2 3 1.3 3 0.9 3 1.8 1.6 1.3 3"/><path d="M895.7 1703.6H1061.7" stroke="#000" stroke-width="10.6" stroke-dasharray="3.1 6 3.7 4.4 1.8 4.4 0.9 1.6 0.9 1.6 1.1 1.6 1.1 1.6 0.9 2.4 1.8 4.4 1.3 6 1.8 1.6 0.9 6 0.9 4.4 5.2 4.4 0.9 3.2 2.4 4.4 1.1 2.4 0.9 1.6 1.8 2.4 1.8 6 1.3 3.2 1.3 1.6 4.3 2.4 1.1 6 1.3 3.2 0.9 4.4 1.8 2.4 1.1 4.4 2.4 2.4 1.8 6 1.1 4.4 1.1 4.4" opacity="0.45"/><path d="M895.7 1714.8H1061.7" stroke="#000" stroke-width="10.6" stroke-dasharray="0.9 2.2 1.3 2.2 2.4 2.2 1.1 2.2 2.4 1.2 1.1 1.2 1.8 1.6 2.4 3 2.4 2.2 1.3 2.2 1.3 1.6 1.3 0.8 3.1 3 2.4 3 1.3 1.6 0.9 1.6 1.1 1.2 2.4 1.6 1.1 3 2.4 0.8 2.4 2.2 0.9 2.2 0.9 1.6 5 1.6 1.3 3 0.9 2.2 2.4 1.6 1.8 0.8 0.9 1.6 1.3 1.2 2.4 1.6 0.9 2.2 0.9 3 1.3 1.2 2.4 0.8 0.9 3 1.1 1.2 1.8 3 2.4 1.6 2.4 3 1.3 1.2 1.8 2.2 3.1 1.2 1.3 0.8 2.4 2.2 1.3 0.8 1.1 1.6"/><path d="M895.7 1714.8H1061.7" stroke="#000" stroke-width="10.6" stroke-dasharray="1.1 4.4 1.3 2.4 1.3 1.6 0.9 4.4 1.3 4.4 1.1 4.4 1.1 1.6 4.3 3.2 1.8 4.4 1.3 3.2 4.4 2.4 2.4 3.2 1.8 2.4 1.1 1.6 0.9 3.2 1.3 6 0.9 2.4 2.4 1.6 2.4 4.4 1.3 6 1.1 6 0.9 1.6 5.5 2.4 1.3 3.2 4.3 3.2 5.8 1.6 1.3 3.2 2.4 6 1.8 3.2 0.9 1.6 1.3 3.2 4.3 1.6" opacity="0.45"/><path d="M896.4 1785.6v-18.7M898.1 1785.6v-20.6M899.8 1785.6v-18.7M901.5 1785.6v-22.2M903.3 1785.6v-14.2M905 1785.6v-23.6M906.7 1785.6v-28.9M908.4 1785.6v-10.8M910.1 1785.6v-25.1M911.8 1785.6v-27.2M913.5 1785.6v-21M915.3 1785.6v-32.9M917 1785.6v-14.7M918.7 1785.6v-33.8M920.4 1785.6v-22.9M922.1 1785.6v-43.3M923.8 1785.6v-18.2M925.5 1785.6v-36.4M927.3 1785.6v-13M929 1785.6v-11.2M930.7 1785.6v-24.2M932.4 1785.6v-16.8M934.1 1785.6v-10.8M935.8 1785.6v-15.4M937.6 1785.6v-11.3M939.3 1785.6v-21.9M941 1785.6v-28.4M942.7 1785.6v-32.5M944.4 1785.6v-12.4M946.1 1785.6v-48.9M947.8 1785.6v-18.4M949.6 1785.6v-21.7M951.3 1785.6v-34.1M953 1785.6v-22.7M954.7 1785.6v-21.5M956.4 1785.6v-16.7M958.1 1785.6v-14.6M959.8 1785.6v-17.4M961.6 1785.6v-16.2M963.3 1785.6v-20.6M965 1785.6v-36.1M966.7 1785.6v-26M968.4 1785.6v-15.8M970.1 1785.6v-22.6M971.8 1785.6v-15.2M973.6 1785.6v-35.3M975.3 1785.6v-22M977 1785.6v-27M978.7 1785.6v-11.1M980.4 1785.6v-20.5M982.1 1785.6v-15.6M983.8 1785.6v-58M985.6 1785.6v-14.2M987.3 1785.6v-21.9M989 1785.6v-20.2M990.7 1785.6v-37.7M992.4 1785.6v-14.9M994.1 1785.6v-22.2M995.8 1785.6v-19.8M997.6 1785.6v-23.2M999.3 1785.6v-13.5M1001 1785.6v-20.1M1002.7 1785.6v-17.3M1004.4 1785.6v-17.5M1006.1 1785.6v-18.3M1007.8 1785.6v-14.5M1009.6 1785.6v-15.5M1011.3 1785.6v-36.4M1013 1785.6v-43.6M1014.7 1785.6v-36.8M1016.4 1785.6v-20.8M1018.1 1785.6v-11M1019.9 1785.6v-18.6M1021.6 1785.6v-26.2M1023.3 1785.6v-19.3M1025 1785.6v-22.3M1026.7 1785.6v-48.9M1028.4 1785.6v-12.8M1030.1 1785.6v-15.4M1031.9 1785.6v-32.9M1033.6 1785.6v-19.7M1035.3 1785.6v-11.5M1037 1785.6v-17.4M1038.7 1785.6v-21.4M1040.4 1785.6v-24.6M1042.1 1785.6v-26.8M1043.9 1785.6v-12.4M1045.6 1785.6v-16.5M1047.3 1785.6v-33.5M1049 1785.6v-19.8M1050.7 1785.6v-19.3M1052.4 1785.6v-14.8M1054.1 1785.6v-35.7M1055.9 1785.6v-42.2M1057.6 1785.6v-21.3M1059.3 1785.6v-23.2M1061 1785.6v-34" stroke="#a8a8a8" stroke-width="1.4"/><path d="M896.4 1785.6v-11.5M898.1 1785.6v-19.8M899.8 1785.6v-14.2M901.5 1785.6v-18.6M903.3 1785.6v-9.8M905 1785.6v-21.1M906.7 1785.6v-16.5M908.4 1785.6v-9.1M910.1 1785.6v-15.6M911.8 1785.6v-14.7M913.5 1785.6v-16.3M915.3 1785.6v-14.4M917 1785.6v-11.6M918.7 1785.6v-12.9M920.4 1785.6v-18.1M922.1 1785.6v-9.8M923.8 1785.6v-13.3M925.5 1785.6v-10.1M927.3 1785.6v-10.4M929 1785.6v-8.3M930.7 1785.6v-17.2M932.4 1785.6v-12M934.1 1785.6v-9.9M935.8 1785.6v-14.7M937.6 1785.6v-10.9M939.3 1785.6v-21.3M941 1785.6v-9.6M942.7 1785.6v-15.8M944.4 1785.6v-10.8M946.1 1785.6v-18.8M947.8 1785.6v-17.1M949.6 1785.6v-16.9M951.3 1785.6v-20.4M953 1785.6v-19.7M954.7 1785.6v-17.5M956.4 1785.6v-9.8M958.1 1785.6v-10.6M959.8 1785.6v-16.9M961.6 1785.6v-13M963.3 1785.6v-16.1M965 1785.6v-17.1M966.7 1785.6v-19.1M968.4 1785.6v-14M970.1 1785.6v-17.7M971.8 1785.6v-15M973.6 1785.6v-17.6M975.3 1785.6v-15.5M977 1785.6v-9.9M978.7 1785.6v-10.4M980.4 1785.6v-18.5M982.1 1785.6v-12M983.8 1785.6v-14.1M985.6 1785.6v-13.3M987.3 1785.6v-20.9M989 1785.6v-16.1M990.7 1785.6v-20.5M992.4 1785.6v-14.4M994.1 1785.6v-17.9M995.8 1785.6v-19M997.6 1785.6v-19.5M999.3 1785.6v-10.7M1001 1785.6v-18M1002.7 1785.6v-16.9M1004.4 1785.6v-16.8M1006.1 1785.6v-15.1M1007.8 1785.6v-9.5M1009.6 1785.6v-14.8M1011.3 1785.6v-21.4M1013 1785.6v-13.6M1014.7 1785.6v-11.8M1016.4 1785.6v-16.9M1018.1 1785.6v-7.5M1019.9 1785.6v-16.4M1021.6 1785.6v-10.8M1023.3 1785.6v-18M1025 1785.6v-17.9M1026.7 1785.6v-17.9M1028.4 1785.6v-12.8M1030.1 1785.6v-11.6M1031.9 1785.6v-10M1033.6 1785.6v-16.4M1035.3 1785.6v-11.3M1037 1785.6v-15.8M1038.7 1785.6v-21.4M1040.4 1785.6v-16.1M1042.1 1785.6v-14.3M1043.9 1785.6v-12.2M1045.6 1785.6v-13.7M1047.3 1785.6v-16.8M1049 1785.6v-16.1M1050.7 1785.6v-18M1052.4 1785.6v-11.5M1054.1 1785.6v-16.8M1055.9 1785.6v-10.8M1057.6 1785.6v-17.5M1059.3 1785.6v-19.2M1061 1785.6v-15.1" stroke="#454545" stroke-width="1.6"/><path d="M896.4 1785.6v-8.5M898.1 1785.6v-6.9M899.8 1785.6v-7.4M901.5 1785.6v-8.2M903.3 1785.6v-12.8M905 1785.6v-10.9M906.7 1785.6v-7M908.4 1785.6v-8.2M910.1 1785.6v-8M911.8 1785.6v-10.9M913.5 1785.6v-6M915.3 1785.6v-8.1M917 1785.6v-7.9M918.7 1785.6v-11.3M920.4 1785.6v-6.7M922.1 1785.6v-6.2M923.8 1785.6v-10.1M925.5 1785.6v-11.5M927.3 1785.6v-8.5M929 1785.6v-6.6M930.7 1785.6v-8.3M932.4 1785.6v-8.8M934.1 1785.6v-6.9M935.8 1785.6v-6.9M937.6 1785.6v-11.3M939.3 1785.6v-8.5M941 1785.6v-8M942.7 1785.6v-7.2M944.4 1785.6v-7M946.1 1785.6v-6.4M947.8 1785.6v-7.6M949.6 1785.6v-8M951.3 1785.6v-9M953 1785.6v-7.7M954.7 1785.6v-6.8M956.4 1785.6v-8.5M958.1 1785.6v-9.3M959.8 1785.6v-6.7M961.6 1785.6v-10.9M963.3 1785.6v-6.1M965 1785.6v-7.1M966.7 1785.6v-7.1M968.4 1785.6v-8.2M970.1 1785.6v-7.4M971.8 1785.6v-8.5M973.6 1785.6v-7.7M975.3 1785.6v-6.6M977 1785.6v-7.8M978.7 1785.6v-7.2M980.4 1785.6v-7.3M982.1 1785.6v-7.8M983.8 1785.6v-9.8M985.6 1785.6v-8.8M987.3 1785.6v-10.3M989 1785.6v-8M990.7 1785.6v-7.7M992.4 1785.6v-12.2M994.1 1785.6v-8.8M995.8 1785.6v-7.1M997.6 1785.6v-7.6M999.3 1785.6v-7.3M1001 1785.6v-8.1M1002.7 1785.6v-7.6M1004.4 1785.6v-8.8M1006.1 1785.6v-11.6M1007.8 1785.6v-6.1M1009.6 1785.6v-8.3M1011.3 1785.6v-8.9M1013 1785.6v-6.5M1014.7 1785.6v-8.3M1016.4 1785.6v-9.6M1018.1 1785.6v-6.1M1019.9 1785.6v-7.3M1021.6 1785.6v-8.1M1023.3 1785.6v-6.9M1025 1785.6v-8.2M1026.7 1785.6v-11.3M1028.4 1785.6v-6.9M1030.1 1785.6v-12.1M1031.9 1785.6v-11.2M1033.6 1785.6v-8.4M1035.3 1785.6v-7.7M1037 1785.6v-8M1038.7 1785.6v-8.5M1040.4 1785.6v-6.5M1042.1 1785.6v-7.5M1043.9 1785.6v-9.9M1045.6 1785.6v-10.8M1047.3 1785.6v-6.3M1049 1785.6v-8.3M1050.7 1785.6v-11.7M1052.4 1785.6v-7.9M1054.1 1785.6v-8M1055.9 1785.6v-8.8M1057.6 1785.6v-7.9M1059.3 1785.6v-8.4M1061 1785.6v-6.3" stroke="#000" stroke-width="1.8"/><path d="M1075.6 1539.9H1241.6" stroke="#000" stroke-width="10.7" stroke-dasharray="1.3 1.2 1.1 1.6 4.7 1.2 1.3 1.6 2.4 2.2 1.3 3 5.2 1.2 4.4 2.2 1.3 2.2 2.4 1.6 1.8 3 2.4 1.6 1.3 3 1.1 3 5.6 0.8 1.8 0.8 1.1 3 2.4 2.2 2.4 3 1.3 3 0.9 0.8 1.3 3 1.1 1.6 1.8 2.2 1.1 2.2 1.3 1.6 1.3 3 1.1 1.2 2.4 2.2 0.9 3 1.1 3 5.8 0.8 3.9 1.2 4.5 0.8 4.3 0.8 1.8 1.6 0.9 1.2 1.3 1.6 1.3 1.6 1.8 1.6 1.3 1.2 1.3 0.8"/><path d="M1075.6 1539.9H1241.6" stroke="#000" stroke-width="10.7" stroke-dasharray="2.4 4.4 2.4 6 1.1 6 2.4 1.6 1.1 6 1.3 4.4 2.4 2.4 4.4 6 1.8 2.4 2.4 4.4 1.8 6 1.1 3.2 3.9 3.2 1.3 6 0.9 3.2 4.7 4.4 0.9 1.6 1.8 1.6 2.4 3.2 1.1 6 1.8 4.4 0.9 3.2 2.4 2.4 2.4 2.4 1.3 3.2 1.1 1.6 0.9 6 2.4 6 1.1 2.4" opacity="0.45"/><path d="M1075.6 1551.2H1241.6" stroke="#000" stroke-width="10.7" stroke-dasharray="5.2 3 5.2 1.2 3.6 2.2 5.6 0.8 1.1 3 1.3 1.6 0.9 3 3.8 2.2 1.8 0.8 1.8 3 2.4 1.2 5.4 0.8 1.3 1.6 1.1 0.8 2.4 3 0.9 0.8 1.8 3 1.1 3 1.3 3 1.8 1.6 1.3 0.8 1.1 1.6 3.2 1.2 2.4 0.8 2.4 2.2 1.8 2.2 2.4 3 0.9 2.2 2.4 1.2 3.2 1.2 4 3 0.9 2.2 1.1 1.2 3.6 2.2 1.1 1.2 3.2 0.8 2.4 3 2.4 0.8 4.6 1.2 2.4 0.8"/><path d="M1075.6 1551.2H1241.6" stroke="#000" stroke-width="10.7" stroke-dasharray="1.8 2.4 4.6 3.2 1.1 3.2 1.1 6 1.8 2.4 2.4 4.4 1.1 1.6 1.3 2.4 3.9 3.2 1.1 6 2.4 3.2 1.1 6 2.4 4.4 1.3 6 1.1 2.4 2.4 2.4 1.3 6 2.4 3.2 1.3 4.4 5.6 3.2 2.4 1.6 1.1 3.2 1.3 1.6 4.7 2.4 1.3 3.2 4.3 2.4 1.1 6 1.3 2.4 2.4 4.4 0.9 1.6" opacity="0.45"/><path d="M1075.6 1562.5H1241.6" stroke="#000" stroke-width="10.7" stroke-dasharray="1.1 3 0.9 1.2 3.2 0.8 0.9 3 1.1 2.2 1.3 3 1.8 1.6 1.3 3 5.4 1.2 1.8 1.6 1.8 3 1.3 3 1.1 2.2 1.8 1.6 1.1 1.6 1.8 3 1.1 1.6 2.4 1.2 2.4 2.2 1.8 1.2 0.9 1.2 1.1 1.2 1.3 1.2 0.9 2.2 1.1 3 1.1 1.6 1.1 1.2 1.3 1.2 2.4 1.2 1.3 2.2 1.1 3 2.4 1.2 2.4 0.8 1.3 1.6 1.1 1.6 1.8 1.2 1.1 0.8 2.4 1.2 1.3 3 1.3 1.2 0.9 1.6 5 2.2 3.9 1.2 0.9 1.6 5.5 1.6 1.3 3 1.1 0.8"/><path d="M1075.6 1562.5H1241.6" stroke="#000" stroke-width="10.7" stroke-dasharray="3.8 6 2.4 2.4 1.1 4.4 0.9 1.6 1.3 6 0.9 6 0.9 3.2 0.9 2.4 1.8 6 3 4.4 1.8 3.2 2.4 4.4 1.1 4.4 5.2 1.6 1.1 4.4 0.9 2.4 1.8 1.6 1.1 3.2 4 3.2 0.9 2.4 3.7 4.4 4.6 3.2 0.9 4.4 1.8 4.4 1.8 2.4 2.4 1.6 1.1 2.4 1.8 2.4 1.1 4.4 1.8 6" opacity="0.45"/><path d="M1075.6 1573.8H1241.6" stroke="#000" stroke-width="10.7" stroke-dasharray="3.6 3 4.8 1.6 1.3 2.2 1.8 1.6 4.5 3 4.3 3 2.4 3 1.8 3 4.5 2.2 0.9 3 1.3 2.2 1.8 2.2 1.1 2.2 0.9 1.6 2.4 1.2 1.8 1.6 1.3 1.6 1.3 1.2 1.3 2.2 1.8 2.2 1.3 2.2 1.1 1.2 1.8 0.8 1.3 1.6 5.8 1.6 2.4 2.2 1.3 0.8 1.1 1.6 1.3 1.2 2.4 2.2 1.3 1.2 1.8 0.8 1.8 3 0.9 1.2 1.1 3 1.3 0.8 1.1 3 2.4 1.6 1.3 0.8 1.3 1.6 2.4 1.2 1.3 1.2 2.4 2.2 1.8 1.2"/><path d="M1075.6 1573.8H1241.6" stroke="#000" stroke-width="10.7" stroke-dasharray="2.4 4.4 1.8 2.4 2.4 4.4 1.3 1.6 0.9 1.6 1.3 1.6 0.9 3.2 3.8 4.4 1.1 2.4 5 3.2 2.4 4.4 1.1 4.4 1.1 2.4 2.4 3.2 0.9 6 1.8 3.2 0.9 2.4 1.8 6 1.8 1.6 1.8 6 2.4 2.4 1.1 1.6 1.8 6 1.1 6 1.8 1.6 4 4.4 1.8 1.6 1.3 3.2 0.9 6 1.1 6 4.2 1.6" opacity="0.45"/><path d="M1075.6 1585.1H1241.6" stroke="#000" stroke-width="10.7" stroke-dasharray="4.7 0.8 0.9 0.8 4.4 2.2 2.4 0.8 1.1 0.8 0.9 1.6 1.1 3 4.4 2.2 4.1 2.2 3.9 1.2 1.3 0.8 2.4 1.2 4.5 3 1.8 1.6 1.1 3 1.3 2.2 5.8 2.2 3.3 1.2 1.3 2.2 2.4 2.2 2.4 2.2 5.4 2.2 1.8 2.2 5.7 0.8 4.6 0.8 2.4 1.6 0.9 2.2 0.9 2.2 0.9 1.6 1.1 2.2 1.1 2.2 1.8 3 2.4 0.8 1.1 0.8 1.1 2.2 1.3 2.2 1.3 1.6 1.3 3 5.8 2.2"/><path d="M1075.6 1585.1H1241.6" stroke="#000" stroke-width="10.7" stroke-dasharray="3.1 1.6 0.9 2.4 4.9 2.4 0.9 3.2 1.3 1.6 1.8 6 1.8 3.2 0.9 6 1.1 4.4 1.1 3.2 1.3 3.2 1.3 4.4 1.1 4.4 1.8 3.2 2.4 1.6 1.1 6 0.9 4.4 5.5 1.6 1.1 6 1.1 2.4 0.9 6 4.2 3.2 1.3 3.2 1.1 3.2 0.9 3.2 1.1 4.4 0.9 3.2 1.8 2.4 1.3 3.2 1.3 4.4 2.4 4.4 1.3 1.6" opacity="0.45"/><path d="M1076.3 1655.3v-17.9M1078 1655.3v-16.9M1079.7 1655.3v-22.2M1081.4 1655.3v-8.1M1083.2 1655.3v-33M1084.9 1655.3v-16.7M1086.6 1655.3v-19.3M1088.3 1655.3v-14.9M1090 1655.3v-40.5M1091.7 1655.3v-57.9M1093.4 1655.3v-22.2M1095.2 1655.3v-32.9M1096.9 1655.3v-9.9M1098.6 1655.3v-27.5M1100.3 1655.3v-17.3M1102 1655.3v-16.3M1103.7 1655.3v-14.3M1105.4 1655.3v-13.7M1107.2 1655.3v-46M1108.9 1655.3v-19.7M1110.6 1655.3v-17.1M1112.3 1655.3v-25.8M1114 1655.3v-16.4M1115.7 1655.3v-20.1M1117.5 1655.3v-19.1M1119.2 1655.3v-24.8M1120.9 1655.3v-22.5M1122.6 1655.3v-21.1M1124.3 1655.3v-16.9M1126 1655.3v-25.1M1127.7 1655.3v-13.9M1129.5 1655.3v-12.5M1131.2 1655.3v-16.2M1132.9 1655.3v-27.4M1134.6 1655.3v-14M1136.3 1655.3v-35.5M1138 1655.3v-24.4M1139.7 1655.3v-13.5M1141.5 1655.3v-23.3M1143.2 1655.3v-11.9M1144.9 1655.3v-13.3M1146.6 1655.3v-9.1M1148.3 1655.3v-24M1150 1655.3v-25.5M1151.7 1655.3v-11.3M1153.5 1655.3v-22.2M1155.2 1655.3v-26.8M1156.9 1655.3v-20.9M1158.6 1655.3v-13.5M1160.3 1655.3v-24.2M1162 1655.3v-34.1M1163.7 1655.3v-20.8M1165.5 1655.3v-17.4M1167.2 1655.3v-40.5M1168.9 1655.3v-13.6M1170.6 1655.3v-38.7M1172.3 1655.3v-27.4M1174 1655.3v-18.4M1175.7 1655.3v-13.4M1177.5 1655.3v-14.5M1179.2 1655.3v-20M1180.9 1655.3v-35.3M1182.6 1655.3v-16.8M1184.3 1655.3v-13.9M1186 1655.3v-25.3M1187.7 1655.3v-21.7M1189.5 1655.3v-21.3M1191.2 1655.3v-13M1192.9 1655.3v-19.1M1194.6 1655.3v-12.7M1196.3 1655.3v-47.6M1198 1655.3v-14.9M1199.8 1655.3v-17.5M1201.5 1655.3v-21.1M1203.2 1655.3v-15M1204.9 1655.3v-21.6M1206.6 1655.3v-20.6M1208.3 1655.3v-20.8M1210 1655.3v-22.2M1211.8 1655.3v-15.4M1213.5 1655.3v-33.7M1215.2 1655.3v-21M1216.9 1655.3v-11.8M1218.6 1655.3v-23.7M1220.3 1655.3v-14.9M1222 1655.3v-11.1M1223.8 1655.3v-17.2M1225.5 1655.3v-16M1227.2 1655.3v-42.4M1228.9 1655.3v-23M1230.6 1655.3v-20.2M1232.3 1655.3v-34.7M1234 1655.3v-29.2M1235.8 1655.3v-23.8M1237.5 1655.3v-17.8M1239.2 1655.3v-23.5M1240.9 1655.3v-19.2" stroke="#a8a8a8" stroke-width="1.4"/><path d="M1076.3 1655.3v-17.1M1078 1655.3v-15.3M1079.7 1655.3v-12.4M1081.4 1655.3v-7.8M1083.2 1655.3v-12.2M1084.9 1655.3v-16.4M1086.6 1655.3v-17M1088.3 1655.3v-11.2M1090 1655.3v-20.1M1091.7 1655.3v-10.4M1093.4 1655.3v-20.4M1095.2 1655.3v-10.3M1096.9 1655.3v-8.3M1098.6 1655.3v-17M1100.3 1655.3v-16.8M1102 1655.3v-13.1M1103.7 1655.3v-14.2M1105.4 1655.3v-9.1M1107.2 1655.3v-11M1108.9 1655.3v-17.6M1110.6 1655.3v-13.3M1112.3 1655.3v-12.4M1114 1655.3v-15.3M1115.7 1655.3v-15.8M1117.5 1655.3v-18.6M1119.2 1655.3v-19.8M1120.9 1655.3v-8.8M1122.6 1655.3v-18.3M1124.3 1655.3v-15.7M1126 1655.3v-20.6M1127.7 1655.3v-10M1129.5 1655.3v-11.8M1131.2 1655.3v-13.6M1132.9 1655.3v-14.6M1134.6 1655.3v-11.7M1136.3 1655.3v-16.3M1138 1655.3v-12.6M1139.7 1655.3v-9.3M1141.5 1655.3v-18.4M1143.2 1655.3v-11.8M1144.9 1655.3v-11.6M1146.6 1655.3v-9.1M1148.3 1655.3v-20.8M1150 1655.3v-18.5M1151.7 1655.3v-11M1153.5 1655.3v-13.1M1155.2 1655.3v-15.7M1156.9 1655.3v-11.6M1158.6 1655.3v-9.6M1160.3 1655.3v-19.2M1162 1655.3v-19.1M1163.7 1655.3v-18M1165.5 1655.3v-15.5M1167.2 1655.3v-15.6M1168.9 1655.3v-9.1M1170.6 1655.3v-11.6M1172.3 1655.3v-17.7M1174 1655.3v-11.5M1175.7 1655.3v-13.3M1177.5 1655.3v-10.1M1179.2 1655.3v-13.9M1180.9 1655.3v-17.5M1182.6 1655.3v-14.9M1184.3 1655.3v-13M1186 1655.3v-14.2M1187.7 1655.3v-20.5M1189.5 1655.3v-12.3M1191.2 1655.3v-9.9M1192.9 1655.3v-15M1194.6 1655.3v-10.6M1196.3 1655.3v-13.5M1198 1655.3v-12.9M1199.8 1655.3v-13.6M1201.5 1655.3v-11.9M1203.2 1655.3v-13.6M1204.9 1655.3v-19.5M1206.6 1655.3v-19.6M1208.3 1655.3v-19.8M1210 1655.3v-13.1M1211.8 1655.3v-11.2M1213.5 1655.3v-12.4M1215.2 1655.3v-17.5M1216.9 1655.3v-8.6M1218.6 1655.3v-12.9M1220.3 1655.3v-10.4M1222 1655.3v-10.1M1223.8 1655.3v-10.2M1225.5 1655.3v-14.8M1227.2 1655.3v-14.4M1228.9 1655.3v-16.3M1230.6 1655.3v-16.6M1232.3 1655.3v-20.7M1234 1655.3v-17.6M1235.8 1655.3v-17M1237.5 1655.3v-13.1M1239.2 1655.3v-9.3M1240.9 1655.3v-15.9" stroke="#454545" stroke-width="1.6"/><path d="M1076.3 1655.3v-7.9M1078 1655.3v-6.7M1079.7 1655.3v-7.3M1081.4 1655.3v-6.3M1083.2 1655.3v-8.4M1084.9 1655.3v-7.6M1086.6 1655.3v-6.9M1088.3 1655.3v-8.4M1090 1655.3v-7.2M1091.7 1655.3v-10.5M1093.4 1655.3v-8M1095.2 1655.3v-8.1M1096.9 1655.3v-9M1098.6 1655.3v-7.6M1100.3 1655.3v-6.4M1102 1655.3v-7.9M1103.7 1655.3v-7.6M1105.4 1655.3v-6.8M1107.2 1655.3v-6.4M1108.9 1655.3v-10.9M1110.6 1655.3v-10.6M1112.3 1655.3v-8.4M1114 1655.3v-7.8M1115.7 1655.3v-8.6M1117.5 1655.3v-12.1M1119.2 1655.3v-9.1M1120.9 1655.3v-6.1M1122.6 1655.3v-7.3M1124.3 1655.3v-8.2M1126 1655.3v-9.9M1127.7 1655.3v-6.5M1129.5 1655.3v-7.9M1131.2 1655.3v-8.8M1132.9 1655.3v-10.1M1134.6 1655.3v-8.4M1136.3 1655.3v-13.3M1138 1655.3v-8.8M1139.7 1655.3v-12.1M1141.5 1655.3v-6.8M1143.2 1655.3v-7.4M1144.9 1655.3v-8.1M1146.6 1655.3v-6.9M1148.3 1655.3v-8.9M1150 1655.3v-7.7M1151.7 1655.3v-7.8M1153.5 1655.3v-6.6M1155.2 1655.3v-7.7M1156.9 1655.3v-8.7M1158.6 1655.3v-6.4M1160.3 1655.3v-8.3M1162 1655.3v-6.4M1163.7 1655.3v-7.2M1165.5 1655.3v-8M1167.2 1655.3v-7.9M1168.9 1655.3v-7.9M1170.6 1655.3v-9.7M1172.3 1655.3v-13M1174 1655.3v-7.6M1175.7 1655.3v-6.2M1177.5 1655.3v-6.1M1179.2 1655.3v-8.8M1180.9 1655.3v-8.7M1182.6 1655.3v-7.3M1184.3 1655.3v-7.8M1186 1655.3v-8.6M1187.7 1655.3v-8.3M1189.5 1655.3v-7.7M1191.2 1655.3v-11.1M1192.9 1655.3v-6.7M1194.6 1655.3v-8.8M1196.3 1655.3v-8.6M1198 1655.3v-6.5M1199.8 1655.3v-6.3M1201.5 1655.3v-10.2M1203.2 1655.3v-7.3M1204.9 1655.3v-10.4M1206.6 1655.3v-10.9M1208.3 1655.3v-7.8M1210 1655.3v-6.2M1211.8 1655.3v-10.6M1213.5 1655.3v-7.1M1215.2 1655.3v-13.1M1216.9 1655.3v-6.4M1218.6 1655.3v-10M1220.3 1655.3v-7.3M1222 1655.3v-8.5M1223.8 1655.3v-6.3M1225.5 1655.3v-11.3M1227.2 1655.3v-8M1228.9 1655.3v-8M1230.6 1655.3v-8.1M1232.3 1655.3v-8M1234 1655.3v-7M1235.8 1655.3v-6.6M1237.5 1655.3v-7.8M1239.2 1655.3v-8M1240.9 1655.3v-8.7" stroke="#000" stroke-width="1.8"/><path d="M1075.6 1669.9H1241.6" stroke="#000" stroke-width="10.6" stroke-dasharray="2.4 3 0.9 0.8 4.5 1.6 5.7 1.2 3.5 0.8 5.6 0.8 1.1 3 1.3 3 0.9 1.6 4.3 0.8 0.9 1.6 1.8 1.6 1.1 2.2 2.4 2.2 1.3 1.2 1.1 2.2 1.3 3 1.1 2.2 0.9 1.6 0.9 0.8 1.3 3 1.3 0.8 2.4 3 2.4 3 1.1 2.2 2.4 1.6 1.8 2.2 1.3 2.2 1.3 1.2 1.3 0.8 1.8 3 0.9 0.8 4.2 0.8 1.3 1.2 4.8 0.8 1.3 0.8 1.8 2.2 2.4 2.2 1.1 3 1.8 3 1.3 2.2 2.4 1.2 3.2 3"/><path d="M1075.6 1669.9H1241.6" stroke="#000" stroke-width="10.6" stroke-dasharray="1.3 1.6 2.4 1.6 1.3 3.2 2.4 1.6 5.5 2.4 2.4 3.2 0.9 1.6 3.6 1.6 0.9 2.4 2.4 3.2 0.9 1.6 0.9 4.4 1.3 2.4 1.8 4.4 1.1 1.6 2.4 4.4 4.6 3.2 1.8 3.2 1.1 3.2 1.1 2.4 2.4 6 1.8 1.6 2.4 3.2 1.8 2.4 1.1 4.4 1.8 4.4 1.1 1.6 4.9 2.4 1.3 2.4 1.3 6 1.3 4.4 1.8 3.2 5.2 2.4 0.9 4.4" opacity="0.45"/><path d="M1075.6 1681.1H1241.6" stroke="#000" stroke-width="10.6" stroke-dasharray="1.1 2.2 1.3 2.2 3.9 2.2 3.1 1.2 1.3 1.2 3.2 1.2 1.1 3 2.4 2.2 3.9 0.8 0.9 1.6 0.9 0.8 1.1 1.6 1.1 3 1.1 3 3.4 3 3.5 2.2 1.3 1.2 0.9 1.2 0.9 3 1.1 0.8 2.4 3 1.3 2.2 1.3 0.8 2.4 1.2 0.9 2.2 1.1 1.2 1.8 0.8 1.1 2.2 5.9 0.8 2.4 2.2 1.3 2.2 1.1 1.6 2.4 0.8 4.2 2.2 5 1.2 0.9 0.8 2.4 1.6 1.8 0.8 1.1 3 0.9 2.2 1.8 3 1.1 1.2 0.9 3 2.4 3"/><path d="M1075.6 1681.1H1241.6" stroke="#000" stroke-width="10.6" stroke-dasharray="2.4 3.2 1.3 4.4 1.3 1.6 1.1 6 2.4 6 0.9 2.4 1.1 4.4 0.9 2.4 2.4 6 0.9 1.6 1.8 1.6 2.4 2.4 1.3 1.6 4.6 3.2 1.1 1.6 1.8 3.2 1.1 1.6 5.3 1.6 1.3 4.4 1.3 1.6 1.8 4.4 0.9 6 1.8 1.6 5.4 2.4 1.3 1.6 1.3 1.6 1.3 6 2.4 3.2 1.1 6 1.8 4.4 1.3 2.4 1.8 4.4 1.8 4.4" opacity="0.45"/><path d="M1075.6 1692.3H1241.6" stroke="#000" stroke-width="10.6" stroke-dasharray="4.6 0.8 1.8 2.2 1.3 2.2 2.4 1.6 0.9 3 5.7 0.8 1.3 1.2 2.4 3 2.4 1.2 2.4 1.6 3.1 1.6 1.8 0.8 0.9 0.8 1.1 1.6 2.4 0.8 0.9 1.2 1.8 0.8 1.3 1.6 2.4 2.2 1.1 1.2 5.9 0.8 2.4 1.2 5.7 1.2 3.3 3 3.9 1.2 5.4 2.2 1.8 1.2 1.8 1.6 1.8 0.8 1.1 0.8 3.5 2.2 1.8 3 1.8 0.8 1.8 1.2 0.9 3 0.9 3 2.4 2.2 1.3 2.2 0.9 1.2 0.9 0.8 1.3 2.2 0.9 3 1.1 3"/><path d="M1075.6 1692.3H1241.6" stroke="#000" stroke-width="10.6" stroke-dasharray="2.4 1.6 1.8 6 5.7 6 2.4 6 0.9 1.6 0.9 2.4 1.1 1.6 3.7 2.4 1.1 1.6 1.3 4.4 2.4 1.6 0.9 6 1.1 2.4 2.4 2.4 0.9 4.4 4.9 3.2 3.4 2.4 4.4 1.6 3.9 1.6 2.4 6 0.9 6 0.9 4.4 1.3 4.4 1.8 4.4 1.1 6 3.8 1.6 0.9 1.6 5.1 3.2 2.4 4.4" opacity="0.45"/><path d="M1075.6 1703.6H1241.6" stroke="#000" stroke-width="10.6" stroke-dasharray="3.2 1.2 2.4 1.6 1.3 2.2 0.9 2.2 2.4 1.2 1.8 2.2 5.5 1.2 3.9 3 0.9 1.2 3.9 0.8 2.4 3 1.8 1.6 1.3 2.2 2.4 1.6 1.3 2.2 1.8 3 3.6 0.8 2.4 3 0.9 2.2 1.8 0.8 5.8 3 3.2 3 1.8 2.2 0.9 2.2 4.1 0.8 3.1 1.2 1.3 0.8 4.4 2.2 1.1 0.8 1.3 0.8 1.8 1.6 6 2.2 1.3 1.2 0.9 3 0.9 3 1.1 1.6 1.8 3 2.4 3 1.8 2.2 2.4 2.2"/><path d="M1075.6 1703.6H1241.6" stroke="#000" stroke-width="10.6" stroke-dasharray="0.9 1.6 1.1 6 1.1 4.4 1.1 1.6 4.3 2.4 1.1 2.4 1.1 6 4.6 6 0.9 1.6 2.4 2.4 0.9 2.4 2.4 6 2.4 2.4 1.1 4.4 2.4 1.6 1.8 6 0.9 4.4 0.9 3.2 4.3 1.6 2.4 4.4 1.3 3.2 0.9 1.6 0.9 1.6 1.3 6 4.8 4.4 1.1 3.2 1.8 1.6 2.4 6 0.9 4.4 1.3 2.4 1.1 4.4 1.8 2.4" opacity="0.45"/><path d="M1075.6 1714.8H1241.6" stroke="#000" stroke-width="10.6" stroke-dasharray="4 2.2 4.4 2.2 5.8 3 2.4 0.8 4.8 3 0.9 3 1.3 2.2 0.9 2.2 3.8 0.8 1.8 2.2 5.6 2.2 2.4 2.2 4.8 1.2 1.8 3 2.4 2.2 5.7 2.2 1.3 2.2 1.8 2.2 2.4 2.2 1.8 1.2 1.8 3 0.9 1.2 3.8 0.8 0.9 3 0.9 3 4 1.2 1.1 2.2 2.4 2.2 2.4 1.6 1.1 3 4.8 1.2 1.3 2.2 1.8 2.2 1.3 0.8 1.8 1.6 1.1 2.2 1.3 3"/><path d="M1075.6 1714.8H1241.6" stroke="#000" stroke-width="10.6" stroke-dasharray="2.4 6 1.8 3.2 1.8 1.6 3.9 4.4 1.3 6 0.9 2.4 1.1 2.4 5.7 3.2 0.9 2.4 0.9 1.6 1.3 1.6 1.8 4.4 0.9 4.4 1.3 4.4 4.1 1.6 0.9 3.2 2.4 3.2 2.4 2.4 0.9 4.4 1.1 1.6 2.4 2.4 0.9 4.4 2.4 4.4 0.9 2.4 1.8 6 2.4 2.4 1.3 1.6 1.3 1.6 4.8 1.6 3.4 1.6 1.1 3.2 1.3 4.4 4.4 4.4" opacity="0.45"/><path d="M1076.3 1785.6v-17.3M1078 1785.6v-15.2M1079.7 1785.6v-21.3M1081.4 1785.6v-17M1083.2 1785.6v-12M1084.9 1785.6v-15.1M1086.6 1785.6v-31M1088.3 1785.6v-19.7M1090 1785.6v-19M1091.7 1785.6v-17M1093.4 1785.6v-38.2M1095.2 1785.6v-19.4M1096.9 1785.6v-23.4M1098.6 1785.6v-17.1M1100.3 1785.6v-11M1102 1785.6v-24M1103.7 1785.6v-18.9M1105.4 1785.6v-30.8M1107.2 1785.6v-35.5M1108.9 1785.6v-11.5M1110.6 1785.6v-23M1112.3 1785.6v-30M1114 1785.6v-20.1M1115.7 1785.6v-42.7M1117.5 1785.6v-13.3M1119.2 1785.6v-12.3M1120.9 1785.6v-12.5M1122.6 1785.6v-11.9M1124.3 1785.6v-18.8M1126 1785.6v-22.2M1127.7 1785.6v-13.7M1129.5 1785.6v-19.1M1131.2 1785.6v-24.1M1132.9 1785.6v-18.4M1134.6 1785.6v-34.1M1136.3 1785.6v-17.8M1138 1785.6v-21.5M1139.7 1785.6v-25.5M1141.5 1785.6v-12.1M1143.2 1785.6v-22.8M1144.9 1785.6v-21.5M1146.6 1785.6v-13.2M1148.3 1785.6v-35M1150 1785.6v-32.7M1151.7 1785.6v-18.3M1153.5 1785.6v-19.5M1155.2 1785.6v-9.2M1156.9 1785.6v-19.7M1158.6 1785.6v-18.4M1160.3 1785.6v-11.2M1162 1785.6v-20M1163.7 1785.6v-28.1M1165.5 1785.6v-25.7M1167.2 1785.6v-39.2M1168.9 1785.6v-23.9M1170.6 1785.6v-20.1M1172.3 1785.6v-20.4M1174 1785.6v-15M1175.7 1785.6v-14.4M1177.5 1785.6v-17.5M1179.2 1785.6v-13.4M1180.9 1785.6v-15.5M1182.6 1785.6v-19.6M1184.3 1785.6v-58M1186 1785.6v-11.9M1187.7 1785.6v-21M1189.5 1785.6v-19.3M1191.2 1785.6v-24.7M1192.9 1785.6v-40.4M1194.6 1785.6v-28.3M1196.3 1785.6v-18.6M1198 1785.6v-19M1199.8 1785.6v-32.2M1201.5 1785.6v-11.3M1203.2 1785.6v-19.5M1204.9 1785.6v-20.8M1206.6 1785.6v-19.5M1208.3 1785.6v-19.4M1210 1785.6v-18M1211.8 1785.6v-21.6M1213.5 1785.6v-20.5M1215.2 1785.6v-21.9M1216.9 1785.6v-16.3M1218.6 1785.6v-21.5M1220.3 1785.6v-14.9M1222 1785.6v-16M1223.8 1785.6v-13.3M1225.5 1785.6v-28.9M1227.2 1785.6v-13.3M1228.9 1785.6v-22.1M1230.6 1785.6v-22.8M1232.3 1785.6v-51M1234 1785.6v-10.5M1235.8 1785.6v-15.1M1237.5 1785.6v-17.1M1239.2 1785.6v-16.8M1240.9 1785.6v-20.2" stroke="#a8a8a8" stroke-width="1.4"/><path d="M1076.3 1785.6v-14M1078 1785.6v-13.5M1079.7 1785.6v-13.6M1081.4 1785.6v-10.4M1083.2 1785.6v-11.9M1084.9 1785.6v-13.8M1086.6 1785.6v-19.4M1088.3 1785.6v-17.1M1090 1785.6v-11.6M1091.7 1785.6v-15.1M1093.4 1785.6v-17.9M1095.2 1785.6v-10.7M1096.9 1785.6v-17.2M1098.6 1785.6v-16.3M1100.3 1785.6v-9.8M1102 1785.6v-12.5M1103.7 1785.6v-15.2M1105.4 1785.6v-18.6M1107.2 1785.6v-17M1108.9 1785.6v-8.4M1110.6 1785.6v-20.1M1112.3 1785.6v-13M1114 1785.6v-12.9M1115.7 1785.6v-12.8M1117.5 1785.6v-12.6M1119.2 1785.6v-11.9M1120.9 1785.6v-9.4M1122.6 1785.6v-10.8M1124.3 1785.6v-17.7M1126 1785.6v-13.9M1127.7 1785.6v-10.7M1129.5 1785.6v-14.1M1131.2 1785.6v-20.2M1132.9 1785.6v-13.5M1134.6 1785.6v-13M1136.3 1785.6v-14.4M1138 1785.6v-20.7M1139.7 1785.6v-20.4M1141.5 1785.6v-9M1143.2 1785.6v-19.8M1144.9 1785.6v-20.5M1146.6 1785.6v-12.2M1148.3 1785.6v-20.7M1150 1785.6v-8M1151.7 1785.6v-17.5M1153.5 1785.6v-16.7M1155.2 1785.6v-7.2M1156.9 1785.6v-16.4M1158.6 1785.6v-15.8M1160.3 1785.6v-10M1162 1785.6v-17.2M1163.7 1785.6v-20.5M1165.5 1785.6v-13.3M1167.2 1785.6v-9.5M1168.9 1785.6v-18.5M1170.6 1785.6v-10.4M1172.3 1785.6v-19M1174 1785.6v-11.4M1175.7 1785.6v-11.5M1177.5 1785.6v-16.6M1179.2 1785.6v-11.2M1180.9 1785.6v-14.7M1182.6 1785.6v-16.4M1184.3 1785.6v-8.3M1186 1785.6v-11M1187.7 1785.6v-19.5M1189.5 1785.6v-13M1191.2 1785.6v-16.7M1192.9 1785.6v-16.2M1194.6 1785.6v-20M1196.3 1785.6v-13.7M1198 1785.6v-14.4M1199.8 1785.6v-17.4M1201.5 1785.6v-11.1M1203.2 1785.6v-17.8M1204.9 1785.6v-17.1M1206.6 1785.6v-18.2M1208.3 1785.6v-17.9M1210 1785.6v-17.7M1211.8 1785.6v-15.4M1213.5 1785.6v-17.7M1215.2 1785.6v-17.5M1216.9 1785.6v-15M1218.6 1785.6v-18M1220.3 1785.6v-13.5M1222 1785.6v-10.5M1223.8 1785.6v-8.3M1225.5 1785.6v-16.1M1227.2 1785.6v-11.9M1228.9 1785.6v-20M1230.6 1785.6v-17.8M1232.3 1785.6v-13.4M1234 1785.6v-10.1M1235.8 1785.6v-12M1237.5 1785.6v-10.7M1239.2 1785.6v-15M1240.9 1785.6v-10.9" stroke="#454545" stroke-width="1.6"/><path d="M1076.3 1785.6v-11.4M1078 1785.6v-8.4M1079.7 1785.6v-8.5M1081.4 1785.6v-6.9M1083.2 1785.6v-8.2M1084.9 1785.6v-7.1M1086.6 1785.6v-7.1M1088.3 1785.6v-6.8M1090 1785.6v-11.3M1091.7 1785.6v-7.6M1093.4 1785.6v-8.5M1095.2 1785.6v-7.2M1096.9 1785.6v-8.6M1098.6 1785.6v-8.5M1100.3 1785.6v-7.9M1102 1785.6v-6.5M1103.7 1785.6v-9.7M1105.4 1785.6v-13.1M1107.2 1785.6v-6.6M1108.9 1785.6v-7.1M1110.6 1785.6v-8.6M1112.3 1785.6v-6.1M1114 1785.6v-7.8M1115.7 1785.6v-7.5M1117.5 1785.6v-9.2M1119.2 1785.6v-10.5M1120.9 1785.6v-6.2M1122.6 1785.6v-9.7M1124.3 1785.6v-8.6M1126 1785.6v-7M1127.7 1785.6v-8.9M1129.5 1785.6v-7.3M1131.2 1785.6v-7.5M1132.9 1785.6v-7.6M1134.6 1785.6v-9.5M1136.3 1785.6v-7.1M1138 1785.6v-8M1139.7 1785.6v-7.8M1141.5 1785.6v-8M1143.2 1785.6v-10.5M1144.9 1785.6v-8.1M1146.6 1785.6v-9M1148.3 1785.6v-9.6M1150 1785.6v-6.4M1151.7 1785.6v-8.1M1153.5 1785.6v-8.2M1155.2 1785.6v-10M1156.9 1785.6v-10.9M1158.6 1785.6v-11.5M1160.3 1785.6v-11M1162 1785.6v-6.8M1163.7 1785.6v-7.5M1165.5 1785.6v-7.3M1167.2 1785.6v-8.8M1168.9 1785.6v-9M1170.6 1785.6v-7.5M1172.3 1785.6v-6.9M1174 1785.6v-6.2M1175.7 1785.6v-6.2M1177.5 1785.6v-11.3M1179.2 1785.6v-11.2M1180.9 1785.6v-12.5M1182.6 1785.6v-9M1184.3 1785.6v-6.4M1186 1785.6v-7.2M1187.7 1785.6v-8M1189.5 1785.6v-8M1191.2 1785.6v-6.1M1192.9 1785.6v-6.7M1194.6 1785.6v-10.6M1196.3 1785.6v-8.9M1198 1785.6v-7.4M1199.8 1785.6v-6.4M1201.5 1785.6v-6.4M1203.2 1785.6v-7M1204.9 1785.6v-7.8M1206.6 1785.6v-8.3M1208.3 1785.6v-11.5M1210 1785.6v-6.9M1211.8 1785.6v-6.7M1213.5 1785.6v-10M1215.2 1785.6v-9.1M1216.9 1785.6v-9.2M1218.6 1785.6v-7.1M1220.3 1785.6v-8.6M1222 1785.6v-10.7M1223.8 1785.6v-6.4M1225.5 1785.6v-7.7M1227.2 1785.6v-8.2M1228.9 1785.6v-8.9M1230.6 1785.6v-7.4M1232.3 1785.6v-8.4M1234 1785.6v-8.4M1235.8 1785.6v-13M1237.5 1785.6v-7.6M1239.2 1785.6v-8.6M1240.9 1785.6v-6.2" stroke="#000" stroke-width="1.8"/><path d="M950.4 1533.5V1655.3M950.4 1664.3V1785.6M1130.2 1533.5V1655.3M1130.2 1664.3V1785.6" fill="none" stroke="#e8502a" stroke-width="1.2"/><path d="M1213 1788.4L1239.9 1788.4" stroke="#333" stroke-width="1.5"/><text x="1226" y="1805.4" font-size="16.5" text-anchor="middle">5 s</text></g>
<g id="panelK"><text x="1297.8" y="1467.4" font-size="29.3" font-weight="bold">K</text><rect x="1413.2" y="1617.2" width="42.6" height="56.7" fill="#c9c9c9"/><rect x="1476.2" y="1655" width="42.6" height="18.9" fill="#f28be8"/><rect x="1564.7" y="1645.6" width="42.6" height="28.3" fill="#c9c9c9"/><rect x="1627.7" y="1641.1" width="42.6" height="32.8" fill="#f28be8"/><text x="1373" y="1492.4" font-size="21" text-anchor="end">6</text><text x="1373" y="1555.4" font-size="21" text-anchor="end">4</text><text x="1373" y="1618.4" font-size="21" text-anchor="end">2</text><text x="1373" y="1681.4" font-size="21" text-anchor="end">0</text><text x="1373" y="1744.4" font-size="21" text-anchor="end">-2</text><path d="M1391.9 1484.7V1787.7M1391.9 1673.9H1675.7M1379.7 1484.9H1391.9M1379.7 1547.9H1391.9M1379.7 1610.9H1391.9M1379.7 1673.9H1391.9M1379.7 1736.9H1391.9" fill="none" stroke="#000" stroke-width="1.6"/><text font-size="20.8" text-anchor="middle" transform="translate(1351 1631.6) rotate(-90)">Δ Firing rate (Hz)</text><path d="M1434.5 1535.3L1497.8 1563.7M1434.5 1544.8L1497.8 1683.4M1434.5 1551.1L1497.8 1651.9M1434.5 1570L1497.8 1592M1434.5 1574.7L1497.8 1710.1M1434.5 1596.7L1497.8 1579.4M1434.5 1601.5L1497.8 1637.7M1434.5 1607.8L1497.8 1598.3M1434.5 1612.5L1497.8 1590.4M1434.5 1617.2L1497.8 1699.1M1434.5 1631.4L1497.8 1610.9M1434.5 1634.5L1497.8 1658.2M1434.5 1639.2L1497.8 1689.7M1434.5 1644L1497.8 1628.2M1434.5 1647.1L1497.8 1645.6M1434.5 1650.3L1497.8 1664.5M1434.5 1653.4L1497.8 1743.2M1434.5 1656.6L1497.8 1670.8M1434.5 1659.7L1497.8 1733.8M1434.5 1661.3L1497.8 1752.7M1586 1563.7L1648.9 1547.9M1586 1610.9L1648.9 1604.6M1586 1617.2L1648.9 1615.6M1586 1626.7L1648.9 1664.5M1586 1629.8L1648.9 1560.5M1586 1633L1648.9 1680.2M1586 1640.8L1648.9 1570M1586 1645.6L1648.9 1625.1M1586 1648.7L1648.9 1691.2M1586 1651.9L1648.9 1634.5M1586 1656.6L1648.9 1653.4M1586 1659.7L1648.9 1576.2M1586 1662.9L1648.9 1716.4M1586 1664.5L1648.9 1642.4M1586 1667.6L1648.9 1582.6M1586 1669.2L1648.9 1661.3M1586 1670.8L1648.9 1683.4M1586 1672.3L1648.9 1667.6M1586 1655L1648.9 1670.8M1586 1666L1648.9 1677.1" fill="none" stroke="#000" stroke-width="0.9"/><path d="M1430.2 1531h8.6v8.6h-8.6zM1493.5 1559.4h8.6v8.6h-8.6zM1430.2 1540.5h8.6v8.6h-8.6zM1493.5 1679.1h8.6v8.6h-8.6zM1430.2 1546.8h8.6v8.6h-8.6zM1493.5 1647.6h8.6v8.6h-8.6zM1430.2 1565.7h8.6v8.6h-8.6zM1493.5 1587.7h8.6v8.6h-8.6zM1430.2 1570.4h8.6v8.6h-8.6zM1493.5 1705.8h8.6v8.6h-8.6zM1430.2 1592.4h8.6v8.6h-8.6zM1493.5 1575.1h8.6v8.6h-8.6zM1430.2 1597.2h8.6v8.6h-8.6zM1493.5 1633.4h8.6v8.6h-8.6zM1430.2 1603.5h8.6v8.6h-8.6zM1493.5 1594h8.6v8.6h-8.6zM1430.2 1608.2h8.6v8.6h-8.6zM1493.5 1586.1h8.6v8.6h-8.6zM1430.2 1612.9h8.6v8.6h-8.6zM1493.5 1694.8h8.6v8.6h-8.6zM1430.2 1627.1h8.6v8.6h-8.6zM1493.5 1606.6h8.6v8.6h-8.6zM1430.2 1630.2h8.6v8.6h-8.6zM1493.5 1653.9h8.6v8.6h-8.6zM1430.2 1635h8.6v8.6h-8.6zM1493.5 1685.4h8.6v8.6h-8.6zM1430.2 1639.7h8.6v8.6h-8.6zM1493.5 1623.9h8.6v8.6h-8.6zM1430.2 1642.8h8.6v8.6h-8.6zM1493.5 1641.3h8.6v8.6h-8.6zM1430.2 1646h8.6v8.6h-8.6zM1493.5 1660.2h8.6v8.6h-8.6zM1430.2 1649.1h8.6v8.6h-8.6zM1493.5 1738.9h8.6v8.6h-8.6zM1430.2 1652.3h8.6v8.6h-8.6zM1493.5 1666.5h8.6v8.6h-8.6zM1430.2 1655.4h8.6v8.6h-8.6zM1493.5 1729.5h8.6v8.6h-8.6zM1430.2 1657h8.6v8.6h-8.6zM1493.5 1748.4h8.6v8.6h-8.6z" fill="none" stroke="#f5311c" stroke-width="1.7"/><g fill="none" stroke="#000" stroke-width="1.6"><circle cx="1586" cy="1563.7" r="4.2"/><circle cx="1648.9" cy="1547.9" r="4.2"/><circle cx="1586" cy="1610.9" r="4.2"/><circle cx="1648.9" cy="1604.6" r="4.2"/><circle cx="1586" cy="1617.2" r="4.2"/><circle cx="1648.9" cy="1615.6" r="4.2"/><circle cx="1586" cy="1626.7" r="4.2"/><circle cx="1648.9" cy="1664.5" r="4.2"/><circle cx="1586" cy="1629.8" r="4.2"/><circle cx="1648.9" cy="1560.5" r="4.2"/><circle cx="1586" cy="1633" r="4.2"/><circle cx="1648.9" cy="1680.2" r="4.2"/><circle cx="1586" cy="1640.8" r="4.2"/><circle cx="1648.9" cy="1570" r="4.2"/><circle cx="1586" cy="1645.6" r="4.2"/><circle cx="1648.9" cy="1625.1" r="4.2"/><circle cx="1586" cy="1648.7" r="4.2"/><circle cx="1648.9" cy="1691.2" r="4.2"/><circle cx="1586" cy="1651.9" r="4.2"/><circle cx="1648.9" cy="1634.5" r="4.2"/><circle cx="1586" cy="1656.6" r="4.2"/><circle cx="1648.9" cy="1653.4" r="4.2"/><circle cx="1586" cy="1659.7" r="4.2"/><circle cx="1648.9" cy="1576.2" r="4.2"/><circle cx="1586" cy="1662.9" r="4.2"/><circle cx="1648.9" cy="1716.4" r="4.2"/><circle cx="1586" cy="1664.5" r="4.2"/><circle cx="1648.9" cy="1642.4" r="4.2"/><circle cx="1586" cy="1667.6" r="4.2"/><circle cx="1648.9" cy="1582.6" r="4.2"/><circle cx="1586" cy="1669.2" r="4.2"/><circle cx="1648.9" cy="1661.3" r="4.2"/><circle cx="1586" cy="1670.8" r="4.2"/><circle cx="1648.9" cy="1683.4" r="4.2"/><circle cx="1586" cy="1672.3" r="4.2"/><circle cx="1648.9" cy="1667.6" r="4.2"/><circle cx="1586" cy="1655" r="4.2"/><circle cx="1648.9" cy="1670.8" r="4.2"/><circle cx="1586" cy="1666" r="4.2"/><circle cx="1648.9" cy="1677.1" r="4.2"/></g><rect x="1644.7" y="1484.5" width="8.5" height="8.5" fill="#c9c9c9"/><rect x="1644.7" y="1511.8" width="8.5" height="8.5" fill="#f28be8"/><text x="1663.5" y="1494.8" font-size="20.4">Pre-CRD</text><text x="1663.5" y="1522.1" font-size="20.8">Music-CRD</text><path d="M1433.6 1501.8V1496.3H1586.6V1501.8M1433.6 1520.6V1515.1H1497.8V1520.6" fill="none" stroke="#000" stroke-width="1.5"/><text x="1518.1" y="1497.5" font-size="19" text-anchor="middle">*</text><text x="1465.5" y="1516.5" font-size="19" text-anchor="middle">***</text><text x="1468.6" y="1782.4" font-size="24.8" text-anchor="middle">NCI</text><text x="1617.9" y="1782.4" font-size="24.8" text-anchor="middle">CON</text></g>
<g id="panelL"><text x="4.9" y="1837.4" font-size="29.3" font-weight="bold">L</text><text x="128.9" y="1864.2" font-size="20.8">Virus</text><text x="116.7" y="1890.6" font-size="21">injection</text><text x="271.1" y="1864.2" font-size="21">Electrode</text><text x="261.3" y="1890.6" font-size="21.1">implantation</text><text x="406.7" y="1864.2" font-size="20.9">EMG</text><text x="390.1" y="1890.6" font-size="21">recording</text><path d="M143.1 1911.1H441M143.1 1906.4v9.3M341.3 1906.4v9.3M441 1905.4v10.3" fill="none" stroke="#000" stroke-width="1.5"/><text x="118.2" y="1934.8" font-size="21.1">Week 6</text><text x="340.1" y="1934.8" font-size="21.3" text-anchor="middle">8</text><text x="440.6" y="1934.8" font-size="21.3" text-anchor="middle">9</text><path d="M438.2 1916.3L318.4 1995.9M443.7 1916.3L564.3 1995.9" fill="none" stroke="#222" stroke-width="1.1" stroke-dasharray="3.5 3"/><text x="32.3" y="1975.4" font-size="21.3" fill="#3dbf4a">AAV2/9-VGLUT2-hChR2-EYFP</text><text x="57.5" y="2001" font-size="21.2" fill="#3dbf4a">or AAV2/9-VGLUT2-EYFP</text><text x="479.2" y="2017.9" font-size="21.3" fill="#1c1cf0">Blue light</text><path d="M475.1 2024.6H572" stroke="#1c1cf0" stroke-width="1.7" stroke-dasharray="6 3.5" fill="none"/><path d="M475.1 2024.6l4.7 -3.6M475.1 2024.6l4.7 3.6M572 2024.6l-4.7 -3.6M572 2024.6l-4.7 3.6" stroke="#1c1cf0" stroke-width="1.7" fill="none"/><text x="457.9" y="2044.3" font-size="20.8" fill="#f088e6">Music</text><path d="M400.2 2048.3H569.7M400.2 2048.3l4.7 -3.6M400.2 2048.3l4.7 3.6M569.7 2048.3l-4.7 -3.6M569.7 2048.3l-4.7 3.6" stroke="#f088e6" stroke-width="1.4" fill="none"/><text x="311.3" y="2069.2" font-size="21">Pre-CRD</text><text x="501.3" y="2069.2" font-size="20.5">CRD</text><path d="M304.6 2073.1H401.2M304.6 2069.5v9.5" fill="none" stroke="#8a8a8a" stroke-width="1.5"/><path d="M401.2 2073.1H569.5M401.2 2069.5v9.5M472.9 2069.5v9.5M569.5 2069.5v9.5" fill="none" stroke="#f088e6" stroke-width="1.5"/><text x="353.9" y="2094.4" font-size="16.3" text-anchor="middle">20</text><text x="439.4" y="2094.4" font-size="16.3" text-anchor="middle">15</text><text x="520.6" y="2094.4" font-size="16.3" text-anchor="middle">20</text><text x="549.4" y="2094.4" font-size="16.1">min</text><g transform="translate(74 2025.2) scale(0.1293)"><path d="M110 330C120 295 180 262 240 262C290 264 325 285 350 305C320 340 300 400 330 470C350 520 400 580 445 602C400 615 330 612 280 600C210 570 150 480 120 400C112 375 108 350 110 330Z" fill="#e9d1d1" stroke="#d65c6e" stroke-width="5.5" stroke-linejoin="round"/><path d="M1005 190C1030 165 1070 150 1110 150C1180 160 1250 215 1300 280C1325 330 1335 390 1325 440C1310 490 1270 520 1225 522C1260 540 1320 548 1365 570C1410 600 1460 660 1490 710C1495 735 1450 745 1400 738C1350 720 1310 690 1270 675C1200 655 1120 660 1050 672C1000 685 950 680 925 655C905 635 890 615 885 600C940 520 990 420 1005 330Z" fill="#e9d1d1" stroke="#d65c6e" stroke-width="5.5" stroke-linejoin="round"/><path d="M295 370C310 310 380 240 450 205C520 190 620 180 700 160C800 138 900 120 960 118C985 118 995 140 1000 170C1012 240 1012 310 995 380C975 450 920 530 870 600C850 645 810 668 770 670C710 670 660 652 620 650C590 655 570 668 540 664C480 655 420 610 380 560C330 500 290 430 295 370Z" fill="#e9d1d1" stroke="#d65c6e" stroke-width="5.5" stroke-linejoin="round"/><path d="M885 600C930 530 980 450 995 380" stroke="#dcc0c0" stroke-width="6" fill="none"/><path d="M415 292C500 262 600 245 675 238M795 203C840 192 880 188 915 188M185 330C210 326 240 326 262 328" stroke="#f4eeee" stroke-width="26" stroke-linecap="round" fill="none"/><ellipse cx="1140" cy="232" rx="40" ry="18" fill="#f2ebeb" transform="rotate(35 1140 232)"/><path d="M450 300L565 368L470 418Z" fill="#8fa7c0" opacity="0.7"/><circle cx="486" cy="345" r="40" fill="#3fbe8e"/><path d="M405 200L470 318" stroke="#4aa6e2" stroke-width="14" stroke-linecap="round"/><path d="M310 38L405 200" stroke="#585d61" stroke-width="76"/><path d="M292 48L388 210" stroke="#868b8f" stroke-width="18"/><path d="M335 24L430 186" stroke="#43474a" stroke-width="16"/><path d="M556 214L545 236" stroke="#777" stroke-width="5"/><path d="M558 212L640 72" stroke="#2f9a5a" stroke-width="42"/><path d="M560 210L638 78" stroke="#45c47e" stroke-width="30"/><path d="M630 88L652 50" stroke="#3a3a3a" stroke-width="40"/><path d="M652 50L700 -32" stroke="#dcdcdc" stroke-width="36"/><path d="M660 40L704 -34" stroke="#fafafa" stroke-width="14"/><path d="M700 -32L722 -70M700 -82L744 -56" stroke="#c8c8c8" stroke-width="14" stroke-linecap="round"/></g><text x="117" y="2097.5" font-size="21.1">ACC</text><g clip-path="url(#cl)"><rect x="24.8" y="2244.2" width="207" height="202.2" fill="#000104"/><rect x="24.8" y="2244.2" width="207" height="202.2" filter="url(#txb)" opacity="0.5"/><rect x="24.8" y="2244.2" width="207" height="202.2" filter="url(#txb)" opacity="0.7" clip-path="url(#clb)"/><path d="M25 2412C35 2402 50 2400 62 2408C80 2422 100 2436 125 2447" stroke="#1a25c8" stroke-width="1.3" fill="none" stroke-dasharray="1.5 1"/><path d="M193 2244C196 2300 190 2380 194 2447" stroke="#2030e0" stroke-width="2.4" opacity="0.75" stroke-dasharray="1 1.2"/><ellipse cx="139" cy="2358" rx="58" ry="80" fill="url(#gl)" transform="rotate(-20 139 2358)"/><ellipse cx="135" cy="2290" rx="40" ry="40" fill="url(#gl)" opacity="0.35"/><ellipse cx="75" cy="2250" rx="50" ry="10" fill="url(#gl)" opacity="0.4"/><rect x="24.8" y="2244.2" width="207" height="202.2" filter="url(#txl)" opacity="0.55"/><g filter="url(#b1)"><path d="M147.1 2327.8h0M142.3 2430.5h0M164.6 2388.6h0M100.5 2341.4h0M164.9 2402.5h0M80.4 2359.7h0M164.7 2421.6h0M82 2356.7h0M149.8 2390.5h0M183.5 2394.4h0M119.1 2354.5h0M143.4 2374.6h0M150.9 2406.3h0M95.7 2382.7h0M189.9 2393.5h0M187.9 2353h0M136.5 2286.1h0M166.6 2383.7h0M185 2391.7h0M125.2 2355.7h0M90.1 2382.4h0M124.5 2353.8h0M148.4 2355h0M183.8 2274.4h0M139.5 2268.2h0M118.3 2354.8h0M90.6 2370.8h0M142.4 2322.8h0M146.6 2356.7h0M130.5 2360.3h0M176.9 2327.4h0M170.8 2374.8h0M134.2 2344.1h0M135.1 2375.9h0M175.9 2289.7h0M183.4 2330.8h0M129.4 2353.8h0M88.6 2367.5h0M139.3 2351.2h0M151.9 2360.8h0M152.1 2351.5h0M112.7 2387.5h0M151.1 2346.3h0M135.3 2425.2h0M154.4 2371.7h0M142.7 2404.6h0M77.5 2433.9h0M129.4 2309.9h0M115.4 2362h0M146.4 2345h0M120.9 2338h0M133.6 2401.2h0M154 2407.2h0M144.3 2363.2h0M147.2 2372.8h0M164.9 2328.5h0M116.4 2300.5h0M176.4 2440.5h0M114.1 2388h0M92.9 2364.3h0M141.3 2335.2h0M154 2324.6h0M138.6 2435.9h0M180.1 2305.9h0M109.4 2435.3h0M151.9 2260.6h0M89.6 2368.7h0M146.1 2314.6h0M108.7 2359h0M158.8 2332.7h0M138.2 2311.2h0M132.1 2328.5h0M178.6 2387.1h0M156.4 2388.4h0M140.9 2348.2h0M172.9 2333.1h0M97.2 2338.6h0M144.9 2362.8h0M131.7 2310.4h0M103.3 2305.6h0M136.7 2382.3h0M149.4 2357.4h0M97.2 2354.8h0M151.3 2355.5h0M135.4 2345.3h0M99 2375.1h0M144.4 2350.4h0M138.8 2338.4h0M69.1 2420.4h0M146.1 2347.7h0M146.6 2360.3h0M140.6 2349.6h0M150.9 2292.7h0M168 2278.7h0M101.5 2307.3h0M96 2345h0M173.4 2380.4h0M168.7 2357.7h0M134.9 2336.8h0M101.8 2365.5h0" stroke="#7dff5a" stroke-width="1.9" stroke-linecap="round" fill="none"/><path d="M142.2 2326.7h0M119.9 2364.8h0M76.1 2317.9h0M105.7 2396.4h0M120.4 2351.3h0M132.2 2335.3h0M66.5 2280.2h0M123.4 2412.9h0M116 2406.2h0M151.7 2401.8h0M143.5 2334.3h0M125.9 2381.5h0M163.4 2407.4h0M156.9 2319.4h0M114.9 2370.6h0M94 2367.3h0M135.6 2383h0M164.1 2361.8h0M107.2 2382.5h0M104.8 2321h0M177.5 2312.1h0M118.1 2296.6h0M106.2 2348.8h0M93.5 2410.2h0M93.7 2387.2h0M178.9 2367.7h0M169.5 2346.6h0M170.2 2318.3h0M150.9 2361.9h0M116.7 2317.2h0M156.8 2332.8h0M158.8 2392.8h0M154.1 2347.5h0M114 2361.4h0M130.8 2373.1h0M158.3 2343.9h0M143.5 2337.3h0M133 2363.8h0M108.6 2336.1h0M120.8 2370.6h0M133.8 2352.2h0M170.5 2342.3h0M114.8 2334.4h0M146.3 2361.3h0M133.7 2316.6h0M132.5 2406.5h0M163.7 2327.1h0M99.5 2354.2h0M144.3 2353.1h0M118.6 2317.4h0M135.2 2337.7h0M164.3 2300.6h0M174.6 2375.5h0M155.6 2372.7h0M108.7 2314.6h0M116.7 2363.7h0M107.6 2348.4h0M116.1 2386.1h0M111 2368.6h0M164.3 2391h0M127.7 2425.9h0M186.7 2342.6h0M122.6 2397.9h0M137.5 2332.7h0M141.8 2349.1h0M176.5 2350.2h0M145 2309.1h0M157.4 2327.6h0M156.1 2374h0M136.9 2251h0M143.8 2403.5h0M143.9 2328.2h0M143.6 2424.3h0M159.1 2382.9h0M109.9 2335.1h0M171.7 2346.2h0M122.7 2373.2h0M142.9 2348.9h0M167.5 2363.6h0M146.8 2332.6h0M126.2 2363.3h0M147.6 2346.8h0M171.4 2348.2h0M157.9 2387.4h0M157.5 2354.2h0M144.4 2271.1h0M182.4 2327.6h0M152.1 2351.3h0M113 2268.4h0M133.8 2359.1h0M130.9 2399.8h0M97.9 2391.8h0M140.6 2363.9h0M90.4 2265.5h0M93.9 2366h0M127.9 2305.1h0M141 2351h0M129.7 2321.1h0M98.1 2404.9h0M185.3 2422.1h0M160.6 2293.4h0M157.4 2347h0M84.9 2314.3h0M95.3 2344.5h0M174.3 2394.4h0M174.5 2367.4h0M164.4 2365.6h0M157.6 2379.4h0M170.3 2401.7h0M88 2348.9h0M156.6 2304.5h0M110 2332.1h0M143.1 2319.9h0M116.9 2386.1h0M159.3 2364.1h0M117.4 2333.7h0M127 2367.6h0M173.9 2423.7h0M147.8 2326h0M172.7 2334.9h0M138.9 2338.1h0M170.7 2348.8h0M146.2 2370.8h0M140.2 2360.7h0M147.9 2293.4h0M136.1 2391.6h0M157.6 2345.6h0M184.3 2318.6h0M111.1 2382.6h0M115.6 2380.3h0" stroke="#4fe03a" stroke-width="1.6" stroke-linecap="round" fill="none"/></g><path d="M113.7 2245.2L28.8 2358.9M24.8 2361.3C32 2368 40 2375 48 2382C64 2394 80 2405 96 2414C112 2422 128 2428 144 2433C160 2438 176 2442 194 2446M194.2 2245.2V2446" stroke="#fff" stroke-width="1.5" stroke-dasharray="7.2 4.8" fill="none"/><rect x="203.3" y="2440.2" width="19.2" height="1.7" fill="#fff"/></g><rect x="24.8" y="2213" width="207" height="30.3" fill="#fff" stroke="#000" stroke-width="1.8"/><text x="128.7" y="2235.8" font-size="22.2" text-anchor="middle">ACC</text><path d="M131.6 2241V2318.6C131.6 2323.2 156.6 2323.2 156.6 2318.6V2241Z" fill="#6e6e6e" opacity="0.85"/><ellipse cx="144.1" cy="2318.9" rx="12.5" ry="3.2" fill="#a8a8a8" opacity="0.9"/><ellipse cx="144.1" cy="2241.6" rx="12.5" ry="2.6" fill="#8a8a8a"/><g transform="translate(0 2140) scale(0.3941)"><path d="M1203 220L1240 197H1458V270L1440 295H1203Z" fill="#2e2e30" stroke="#4a5570" stroke-width="2"/><path d="M1203 220H1440V295H1203Z" fill="#2a2a2c" stroke="#555" stroke-width="1.5"/><path d="M1295 234h7v7h-7zM1308 234h7v7h-7zM1295 249h7v7h-7zM1308 249h7v7h-7zM1295 264h7v7h-7zM1308 264h7v7h-7zM1295 279h7v7h-7zM1308 279h7v7h-7zM1335 234h7v7h-7zM1348 234h7v7h-7zM1335 249h7v7h-7zM1348 249h7v7h-7zM1335 264h7v7h-7zM1348 264h7v7h-7zM1335 279h7v7h-7zM1348 279h7v7h-7zM1378 234h7v7h-7zM1391 234h7v7h-7zM1378 249h7v7h-7zM1391 249h7v7h-7zM1378 264h7v7h-7zM1391 264h7v7h-7zM1378 279h7v7h-7zM1391 279h7v7h-7zM1415 234h7v7h-7zM1428 234h7v7h-7zM1415 249h7v7h-7zM1428 249h7v7h-7zM1415 264h7v7h-7zM1428 264h7v7h-7zM1415 279h7v7h-7zM1428 279h7v7h-7z" fill="#d8d8d8"/><rect x="1232" y="260" width="8" height="18" fill="#e22"/><circle cx="1258" cy="281" r="6" fill="#777"/><circle cx="1275" cy="281" r="6" fill="#777"/><circle cx="1212" cy="232" r="3" fill="#ccc"/><circle cx="1212" cy="285" r="3" fill="#ccc"/><circle cx="1448" cy="232" r="3" fill="#ccc"/><circle cx="1448" cy="282" r="3" fill="#ccc"/><path d="M1290 385L1330 355H1468V400L1432 430H1290Z" fill="#f4f4f0" stroke="#bbb" stroke-width="2"/><path d="M1290 385H1432V430H1290ZM1432 385L1468 355" fill="#ecece6" stroke="#bbb" stroke-width="2"/><path d="M1290 385l10 -7h12l-10 7zM1455 365l13 -10v14zM1290 418v12h12zM1420 430h12v-12zM1456 400l12 -10v10zM1420 385h12v8z" fill="#3a6fd0"/><circle cx="1348" cy="407" r="9" fill="#222" stroke="#999" stroke-width="3"/><circle cx="1385" cy="408" r="8" fill="#222" stroke="#aaa" stroke-width="3"/><circle cx="1412" cy="409" r="8" fill="#222" stroke="#aaa" stroke-width="3"/><path d="M786 380C800 385 815 392 830 390M1140 375C1200 378 1260 375 1295 300M1310 297C1315 320 1340 318 1370 330C1380 340 1372 350 1372 358M1348 407C1300 430 1250 450 1262 480C1280 510 1360 490 1375 520C1385 540 1360 548 1352 556" stroke="#1a1a1a" stroke-width="3" fill="none"/><rect x="820" y="384" width="16" height="10" fill="#1a1a1a"/><rect x="1136" y="370" width="16" height="10" fill="#1a1a1a"/></g><g transform="translate(0 2140) scale(0.3941)"><path d="M660 312L705 288H785V405L745 432H660Z" fill="#4d4d4d" stroke="#333" stroke-width="2"/><path d="M660 312H745V432H660Z" fill="#d9dde8" stroke="#8890a8" stroke-width="2"/><path d="M690 312L745 312L785 288" fill="none" stroke="#333" stroke-width="2"/><path d="M690 312H745V432H690Z" fill="#555"/><circle cx="676" cy="330" r="8" fill="#3a3ab0"/><circle cx="722" cy="326" r="6" fill="#333" stroke="#556" stroke-width="2"/><rect x="696" y="345" width="50" height="22" rx="6" fill="#444" stroke="#99a" stroke-width="2"/><rect x="696" y="374" width="50" height="22" rx="6" fill="#444" stroke="#99a" stroke-width="2"/><circle cx="682" cy="412" r="4" fill="#4c4"/><circle cx="682" cy="424" r="4" fill="#ea3"/></g><g transform="translate(264.4 2345.9) rotate(3) scale(0.0839) translate(-148 -178)"><path d="M148 178L412 142L418 870L150 905Z" fill="#8faab1" stroke="#6a858c" stroke-width="8"/><path d="M200 285H338V905H200Z" fill="#121212"/><path d="M208 318h36M298 312h34M208 361h36M298 355h34M208 404h36M298 398h34M208 447h36M298 441h34M208 490h36M298 484h34M208 533h36M298 527h34M208 576h36M298 570h34M208 619h36M298 613h34M208 662h36M298 656h34M208 705h36M298 699h34M208 748h36M298 742h34M208 791h36M298 785h34M208 834h36M298 828h34M208 877h36M298 871h34" stroke="#f2f2f2" stroke-width="18" fill="none"/><path d="M250 285H292V895H250Z" fill="#eef02a" stroke="#b8b810" stroke-width="5"/><path d="M108 885L150 850V905L418 868L430 835L540 1440L535 1540L238 1585L108 990Z" fill="#a9c5cb" stroke="#6f8a91" stroke-width="8" stroke-linejoin="round"/><path d="M140 935L415 900L528 1450L245 1492Z" fill="#a6c2c8" stroke="#6f8a91" stroke-width="6"/><path d="M245 1492L528 1450L535 1540L238 1585Z" fill="#b5ced3" stroke="#6f8a91" stroke-width="6"/><path d="M108 885L140 935L245 1492L238 1585L108 990Z" fill="#c3d7db" stroke="#6f8a91" stroke-width="5"/><rect x="348" y="845" width="52" height="45" rx="12" fill="#2c2c2c"/><rect x="345" y="750" width="50" height="112" rx="22" fill="#cdcdcd" stroke="#777" stroke-width="6"/><path d="M285 1192L372 1150" stroke="#f4f4f4" stroke-width="14"/><path d="M277 1165L303 1218M358 1125L384 1180" stroke="#f4f4f4" stroke-width="16" stroke-linecap="round"/><path d="M388 1138L562 1044" stroke="#e2e2e2" stroke-width="40"/><path d="M400 1132L550 1050" stroke="#fafafa" stroke-width="16"/><path d="M562 1044L606 1021" stroke="#4a4a4a" stroke-width="40"/><path d="M606 1021L652 999" stroke="#cfcfcf" stroke-width="22"/><path d="M652 999L712 968M690 925L738 1035" stroke="#2a6fd0" stroke-width="13" fill="none"/><path d="M662 882L690 928M736 1032L750 1062" stroke="#dadada" stroke-width="20"/><path d="M370 752C370 640 520 620 600 700C645 750 640 830 668 885" stroke="#1c1c1c" stroke-width="9" fill="none"/><path d="M748 1058C800 1150 700 1260 780 1360C850 1460 1000 1490 1100 1455" stroke="#1c1c1c" stroke-width="9" fill="none"/><path d="M1100 1455L1500 1270" stroke="#c8141e" stroke-width="14" fill="none"/></g><g transform="translate(312.2 2305.6) scale(0.1902 0.2000)"><path d="M270 748C200 732 132 640 112 470C98 340 136 230 104 68C184 200 158 330 168 460C180 600 225 680 295 700Z" fill="#d9aaa2" stroke="#c4938b" stroke-width="2"/><path d="M450 690C500 710 560 725 615 735C640 740 640 755 615 757C635 768 625 782 600 775C605 792 580 795 565 780C555 795 530 790 525 772C495 765 465 740 445 715Z" fill="#e0aba3"/><path d="M690 745C740 735 800 730 860 740C880 748 865 762 845 758C850 775 825 778 812 768C800 790 780 785 770 772C760 800 735 790 728 775C705 775 690 765 680 755Z" fill="#e0aba3"/><path d="M845 330C850 300 880 300 900 322C925 350 935 395 925 430L860 400Z" fill="#3d3d3d"/><path d="M275 755C270 690 280 620 295 560C305 500 345 410 410 360C470 320 540 305 590 306C650 308 700 335 750 358C780 370 810 372 830 368C880 360 930 395 960 432C990 465 1015 520 1030 565C1040 600 1050 630 1052 650C1050 668 1035 675 1010 678C985 680 960 672 945 662C915 650 880 630 860 622C830 640 790 660 775 700C768 725 765 740 770 752L700 762C690 740 680 725 650 700C610 715 540 715 485 700C470 720 465 735 455 745L380 748C340 745 300 750 275 755Z" fill="#424242"/><path d="M300 690L255 712L290 715L262 740L300 738L275 762L330 750Z" fill="#424242"/><path d="M485 500C540 510 575 550 570 610C565 650 540 690 500 700" fill="none" stroke="#363636" stroke-width="3"/><ellipse cx="840" cy="398" rx="47" ry="52" fill="#d7a39c" stroke="#3a3a3a" stroke-width="3" transform="rotate(-12 840 398)"/><ellipse cx="848" cy="405" rx="30" ry="36" fill="#cc948d" transform="rotate(-12 848 405)"/><ellipse cx="972" cy="532" rx="17" ry="11" fill="#0a0a0a" transform="rotate(20 972 532)"/><circle cx="979" cy="529" r="3.5" fill="#eee"/><circle cx="1036" cy="652" r="14" fill="#e0a9a6"/><path d="M1045 600L1130 612M1048 612L1120 640M950 640L880 660" stroke="#ddd" stroke-width="2" fill="none"/><ellipse cx="352" cy="705" rx="46" ry="29" fill="#ececec" stroke="#b5b5b5" stroke-width="4" transform="rotate(-14 352 705)"/><path d="M985 470L1070 350" stroke="#7cc8ff" stroke-width="46" stroke-linecap="round" opacity="0.55" filter="url(#glow2)"/><path d="M985 470L1070 350" stroke="#34a1ea" stroke-width="20" fill="none"/><path d="M1070 350L1160 245" stroke="#686b70" stroke-width="42" stroke-linecap="round" fill="none"/><path d="M1078 342L1150 258" stroke="#8a8d92" stroke-width="10" stroke-linecap="round" fill="none"/></g><g transform="translate(271.9 2181.9) scale(0.2538)"><path d="M272 350L668 350L725 545L218 545Z" fill="#a8a8a8" stroke="#5b6b8c" stroke-width="3"/><rect x="272" y="88" width="396" height="266" rx="18" fill="#8e8e8e" stroke="#6e6e6e" stroke-width="3"/><rect x="285" y="105" width="370" height="243" fill="#ebebeb"/><path d="M298 372h21.7M326.7 372h21.7M355.3 372h21.7M384 372h21.7M412.7 372h21.7M441.3 372h21.7M470 372h21.7M498.7 372h21.7M527.3 372h21.7M556 372h21.7M584.7 372h21.7M613.3 372h21.7M292 392h22.7M321.7 392h22.7M351.3 392h22.7M381 392h22.7M410.7 392h22.7M440.3 392h22.7M470 392h22.7M499.7 392h22.7M529.3 392h22.7M559 392h22.7M588.7 392h22.7M618.3 392h22.7M286 412h23.7M316.7 412h23.7M347.3 412h23.7M378 412h23.7M408.7 412h23.7M439.3 412h23.7M470 412h23.7M500.7 412h23.7M531.3 412h23.7M562 412h23.7M592.7 412h23.7M623.3 412h23.7M280 432h24.7M311.7 432h24.7M343.3 432h24.7M375 432h24.7M406.7 432h24.7M438.3 432h24.7M470 432h24.7M501.7 432h24.7M533.3 432h24.7M565 432h24.7M596.7 432h24.7M628.3 432h24.7M274 453H305.4M313.2 453H368.1M379.8 453H481.8M509.2 453H540.6M548.4 453H579.8M587.6 453H619M626.8 453H666" stroke="#0a0a0a" stroke-width="14" fill="none"/><path d="M405 472L535 472L548 532L388 532Z" fill="#cfd9ea" stroke="#8a97b0" stroke-width="2"/><text x="468" y="200" font-size="66" text-anchor="middle">EMG</text><path d="M315 279.6v12.7M317.6 278.8v13.8M320.2 277.2v12.1M322.8 280.9v13.1M325.4 279.4v11M328 275v16.8M330.6 276v15.9M333.2 277.2v12.7M335.8 277.2v17M338.4 277.8v15.6M341 276.9v12.4M343.6 276.4v16.2M346.2 279.1v10.1M348.8 275.6v16.3M351.4 276.4v18.1M354 276.3v18.7M356.6 278.1v16.4M359.2 277.5v18.3M361.8 274v16.5M364.4 278.8v12.9M367 271.3v23M369.6 272.9v21.2M372.2 272.5v23.7M374.8 272.6v27.6M377.4 267.6v39.3M380 263.5v47M382.6 257.3v57.9M385.2 257.6v44.4M387.8 250.2v71.9M390.4 246v69.7M393 248.3v60.1M395.6 243.2v76.4M398.2 257.7v48.2M400.8 241.2v91.5M403.4 263.6v62.9M406 255.6v51.6M408.6 260.3v61.5M411.2 248.4v53.4M413.8 257.4v43M416.4 258.3v46M419 258.6v54.5M421.6 267.4v42.5M424.2 272.2v22.6M426.8 270.4v22.7M429.4 276.1v19.9M432 273.2v19.4M434.6 279v19.1M437.2 277.2v20.8M439.8 273v20M442.4 276.6v17.3M445 275.3v19.1M447.6 275.9v18.7M450.2 272.9v21M452.8 276.5v19.2M455.4 277.8v14.8M458 271.6v23M460.6 274.8v15.9M463.2 275.6v20.2M465.8 278.8v17.7M468.4 272.9v18.8M471 272.6v23.3M473.6 271.6v23.5M476.2 270.9v28.6M478.8 277.7v15M481.4 270.3v32.6M484 274.6v23M486.6 270.4v26.1M489.2 272.7v23.9M491.8 272.4v28M494.4 273v25M497 266.8v27M499.6 269.1v33.9M502.2 272.3v24.2M504.8 265.7v31.1M507.4 273.7v25.8M510 267v28.2M512.6 272v26.2M515.2 265.3v34.2M517.8 265.2v30.7M520.4 272.1v29.9M523 265.3v33.9M525.6 273.9v21M528.2 270.4v25.1M530.8 267.4v35.6M533.4 275.1v21M536 268.3v31.6M538.6 268.8v27.4M541.2 276.5v18.8M543.8 269.9v24.8M546.4 274.9v21M549 274.5v20.9M551.6 270.2v22.5M554.2 278.9v20.6M556.8 271.5v27.9M559.4 275.7v23M562 272v20.3M564.6 273.8v23.1M567.2 274.8v19.3M569.8 277.9v14.7M572.4 278.5v11.9M575 276.1v15.7M577.6 274.7v15.2M580.2 274.3v19.9M582.8 274.4v21.1M585.4 274.7v18.5M588 280.6v13.6M590.6 279.6v11.6M593.2 276.6v16M595.8 278.2v16.8M598.4 277v14.2M601 279.3v15.1M603.6 278v15.9M606.2 278.8v11.5M608.8 277.7v16.4M611.4 279.9v13.9M614 275.4v18.5M616.6 276v13.1M619.2 277.2v17M621.8 280.7v10M624.4 279.4v12.8M627 278.4v13.4M629.6 276.3v12.7" stroke="#f01818" stroke-width="3" fill="none"/></g><g transform="translate(0 2140) scale(0.3941)"><path d="M722 385C740 430 800 470 900 480C1000 490 1100 470 1140 530C1160 570 1160 590 1160 605C1175 640 1170 670 1120 710C1100 730 1080 740 1060 745" stroke="#e8a020" stroke-width="2.5" fill="none"/><path d="M722 400C740 450 800 495 900 505C1000 515 1100 495 1135 550C1150 580 1155 595 1165 610C1180 650 1175 680 1130 720C1110 735 1090 742 1075 748" stroke="#3a78d0" stroke-width="2.5" fill="none"/><rect x="1150" y="565" width="16" height="42" rx="5" fill="#ddd" stroke="#999" stroke-width="2" transform="rotate(-12 1158 586)"/></g><g transform="translate(306.6 2316.6) scale(0.1863)"><g fill="none" stroke="#f4b6ec" stroke-width="2" opacity="0.7"><path d="M1090 470C1180 380 1280 500 1450 495"/><path d="M1095 495C1180 410 1290 530 1455 500"/><path d="M1100 520C1190 440 1300 550 1460 505"/><path d="M1110 545C1200 470 1300 560 1465 510"/></g><g filter="url(#glow)" fill="#f052d8"><g transform="translate(1146 456)"><ellipse cx="0" cy="0" rx="12" ry="8.5" transform="rotate(-20)"/><ellipse cx="44" cy="-8" rx="12" ry="8.5" transform="rotate(-20 44 -8)"/><path d="M6 -2h5.5v-52l36.5 -7v53h5.5v-69l-47.5 9z"/></g><g transform="translate(1268 523)"><ellipse cx="0" cy="0" rx="12" ry="8.5" transform="rotate(-20)"/><ellipse cx="44" cy="-8" rx="12" ry="8.5" transform="rotate(-20 44 -8)"/><path d="M6 -2h5.5v-52l36.5 -7v53h5.5v-69l-47.5 9z"/></g></g><path d="M1432 412V568C1432 590 1542 590 1542 568V412Z" fill="#2b2b2b"/><ellipse cx="1487" cy="412" rx="55" ry="17" fill="#3c3c3c" stroke="#58cfae" stroke-width="5"/><circle cx="1487" cy="553" r="11" fill="#58cfae"/><circle cx="1487" cy="553" r="5" fill="#2b2b2b"/><path d="M1440 500C1460 500 1475 492 1482 488" stroke="#d870c8" stroke-width="3" fill="none"/></g></g>
<g id="panelM"><text x="610.4" y="1837.4" font-size="29.3" font-weight="bold">M</text><text x="732.6" y="1867" font-size="21.2">NCI EYFP</text><rect x="732.6" y="1878.9" width="282.6" height="30" fill="#fff" stroke="#000" stroke-width="1.8"/><rect x="1024.8" y="1878.9" width="282.8" height="30" fill="#fff" stroke="#000" stroke-width="1.8"/><text x="873.4" y="1900.5" font-size="21.4" text-anchor="middle">Pre</text><text x="1165.9" y="1900.5" font-size="21.4" text-anchor="middle">Music+blue light</text><text x="629.2" y="1933.1" font-size="21.2">20 mmHg</text><path d="M733 1928.5M733 1927.7v2.4M733.9 1927.7v1.7M734.8 1923.8v7.8M735.7 1927.5v2M736.6 1927.7v1.8M737.5 1923.1v9.9M738.4 1927.4v2.4M739.3 1927.3v2.1M740.2 1927.3v1.9M741.1 1923.6v9.1M742 1927.4v2.7M742.9 1927.1v2.3M743.8 1923v10.9M744.7 1927.1v2.9M745.6 1927.7v2.2M746.5 1926.9v3.2M747.4 1924v8.7M748.3 1927.6v1.6M749.2 1927.7v2.5M750.1 1923.8v8.4M751 1927v2.8M751.9 1927.6v2.1M752.8 1926.9v3M753.7 1924.5v7M754.6 1927.5v2.1M755.5 1927.1v2.7M756.4 1923.8v9.7M757.3 1927.4v2M758.2 1926.8v2.8M759.1 1922.6v10.4M760 1926.9v2.7M760.9 1927.2v2.7M761.8 1927.1v2.7M762.7 1923.5v8.8M763.6 1927.4v1.9M764.5 1927.8v1.5M765.4 1923.2v12.3M766.3 1927.7v2.2M767.2 1927.6v2.5M768.1 1926.9v2.8M769 1923.9v10.2M769.9 1926.7v2.5M770.8 1927.2v2.2M771.7 1923.5v9.7M772.6 1926.9v2.7M773.5 1926.6v2.9M774.4 1927.1v3.5M775.3 1923.1v12.1M776.2 1925.9v4.7M777.1 1925.9v5.4M778 1920.4v13.1M778.9 1925v7.5M779.8 1926.5v3.8M780.7 1923v8.4M781.6 1919.2v20M782.5 1924v11.5M783.4 1919.5v17.6M784.3 1916.9v22.9M785.2 1919.6v20.3M786.1 1920.3v13.5M787 1914.5v26.7M787.9 1922v18.8M788.8 1916.6v26.2M789.7 1914.6v32.3M790.6 1916.9v25M791.5 1918.4v23.9M792.4 1923.1v14.9M793.3 1919.2v18.5M794.2 1921.4v12.3M795.1 1923.3v8.8M796 1924v8.5M796.9 1920.2v16.4M797.8 1924.6v9.2M798.7 1925.4v8.5M799.6 1919.8v12.8M800.5 1924.7v5.9M801.4 1926.8v3.9M802.3 1925.7v4.2M803.2 1922.4v11.5M804.1 1927.4v3.3M805 1927.5v2.3M805.9 1922.3v10.9M806.8 1926.8v2.9M807.7 1927.6v1.9M808.6 1927.1v2.8M809.5 1923.6v8.9M810.4 1927.4v2M811.3 1927.7v2M812.2 1922.8v12.1M813.1 1927.7v1.7M814 1927.1v2.6M814.9 1923.8v9.5M815.8 1927.5v2.6M816.7 1927.3v1.8M817.6 1927.3v2.4M818.5 1923.5v9.6M819.4 1927.4v1.9M820.3 1927.8v1.3M821.2 1924.1v8.2M822.1 1927v2.6M823 1927.5v2.6M823.9 1927.1v2.7M824.8 1923.9v9.9M825.7 1927.9v2M826.6 1926.9v2.4M827.5 1923.9v9.5M828.4 1927v2.7M829.3 1927.4v2.6M830.2 1927.3v1.9M831.1 1922.7v10.4M832 1927.2v2.2M832.9 1927.8v2M833.8 1924.2v9.8M834.7 1927.1v2.4M835.6 1927v2.8M836.5 1927.8v2.3M837.4 1923.6v9.1M838.3 1927v2.9M839.2 1927.4v2.6M840.1 1924.2v8.7M841 1927.6v2.2M841.9 1927.2v2.8M842.8 1924v9M843.7 1927.4v2M844.6 1927.7v2.4M845.5 1927.6v2.1M846.4 1922.7v11.2M847.3 1927.1v3.1M848.2 1927.4v1.9M849.1 1924.5v8.6M850 1927.1v3M850.9 1927.6v2.1M851.8 1927.4v1.8M852.7 1922.6v9.7M853.6 1927.2v2.9M854.5 1927.5v2.6M855.4 1923.6v10.1M856.3 1926.8v2.8M857.2 1927.6v2.5M858.1 1927.3v2.7M859 1924.1v8.9M859.9 1926.9v2.8M860.8 1926.8v2.8M861.7 1924.3v9.4M862.6 1926.8v3.2M863.5 1927.3v2.3M864.4 1927.3v2M865.3 1923.7v8.9M866.2 1927.2v2.3M867.1 1927.8v1.8M868 1923.6v9M868.9 1927.6v2.4M869.8 1927.9v2.1M870.7 1922.5v10.7M871.6 1927.2v2.1M872.5 1927.7v1.9M873.4 1927v2.3M874.3 1923.4v8.9M875.2 1926.9v3.1M876.1 1927.6v2M877 1923v8.5M877.9 1927.4v2.1M878.8 1927.5v2.6M879.7 1927.2v2.1M880.6 1922.8v10.4M881.5 1927v2.6M882.4 1927v2.3M883.3 1924.3v7.5M884.2 1927.2v2.1M885.1 1927.9v1.7M886 1927.6v1.9M886.9 1923.5v9.5M887.8 1927.4v1.8M888.7 1927.1v2.1M889.6 1923.2v10.6M890.5 1927.1v3.1M891.4 1927v3M892.3 1927.8v1.4M893.2 1924v9.4M894.1 1927.7v2.3M895 1927.9v2M895.9 1922.9v9.2M896.8 1926.8v3M897.7 1927.5v2.6M898.6 1924.1v8.7M899.5 1927.6v2.2M900.4 1926.9v3.2M901.3 1927.6v2.3M902.2 1923.5v8.3M903.1 1927.6v1.9M904 1927v2.6M904.9 1923v10.2M905.8 1927.6v2.3M906.7 1926.9v2.4M907.6 1927.3v2.3M908.5 1924v8M909.4 1927.1v2.6M910.3 1927.5v2.7M911.2 1924.3v9.6M912.1 1927.6v2.4M913 1927.8v1.6M913.9 1927.9v1.4M914.8 1923.5v10.3M915.7 1927.3v3.2M916.6 1927.8v2.2M917.5 1923.2v10.1M918.4 1927.6v2.4M919.3 1927v2.8M920.2 1927.9v2.2M921.1 1923.3v10.8M922 1927v3M922.9 1926.9v2.5M923.8 1923.8v9.6M924.7 1927.8v1.8M925.6 1927.5v2.2M926.5 1922.7v9.8M927.4 1927.9v2M928.3 1927.7v2.5M929.2 1927.8v1.8M930.1 1922.9v9.6M931 1927.3v2.4M931.9 1927.3v2.2M932.8 1923.7v10.2M933.7 1927v3.1M934.6 1927.1v2.1M935.5 1927.1v2.5M936.4 1923.7v10.1M937.3 1927.1v2.7M938.2 1926.9v2.7M939.1 1924.4v8.3M940 1927.9v1.5M940.9 1927.8v2.1M941.8 1927.7v2.3M942.7 1923.8v10.3M943.6 1927.5v2.6M944.5 1927.7v2.3M945.4 1923.4v8.7M946.3 1927.4v2.1M947.2 1927.4v2.7M948.1 1926.9v3.2M949 1924.2v7.8M949.9 1927.9v1.3M950.8 1926.8v2.5M951.7 1922.7v9.2M952.6 1927.5v2.4M953.5 1927.5v1.8M954.4 1923.4v12.7M955.3 1927.1v3M956.2 1927.7v2.2M957.1 1927.3v1.9M958 1923.8v7.8M958.9 1927v2.7M959.8 1927.2v2.7M960.7 1922.9v10M961.6 1927.7v2M962.5 1927.4v2M963.4 1927.4v2.4M964.3 1923.7v9.9M965.2 1927.5v1.9M966.1 1926.9v2.6M967 1923.9v8.3M967.9 1927.6v2.4M968.8 1927.4v2.8M969.7 1927.4v1.8M970.6 1923.8v9M971.5 1927.1v2.2M972.4 1927.9v1.6M973.3 1923.4v8.7M974.2 1926.9v2.3M975.1 1926.8v2.9M976 1926.9v2.6M976.9 1923.7v8.5M977.8 1927.7v2.5M978.7 1927.6v2.2M979.6 1923.4v9.4M980.5 1926.9v3.1M981.4 1927v3M982.3 1924.8v9M983.2 1927v2.6M984.1 1927.3v2.6M985 1927.4v1.8M985.9 1923.9v9M986.8 1927.4v2.7M987.7 1927.1v3.1M988.6 1923.9v8.8M989.5 1927.1v2.6M990.4 1927.5v2.3M991.3 1927.2v2.1M992.2 1924.8v7.6M993.1 1926.8v2.4M994 1927v3.1M994.9 1924.5v8.6M995.8 1927v2.4M996.7 1926.9v2.6M997.6 1927v2.5M998.5 1923.4v9.7M999.4 1927.4v2M1000.3 1927.7v1.7M1001.2 1922.8v9.3M1002.1 1927.2v2.8M1003 1926.9v2.6M1003.9 1927v2.2M1004.8 1923.9v12.1M1005.7 1926.8v2.4M1006.6 1927.8v1.7M1007.5 1924.7v7M1008.4 1927.4v2.1M1009.3 1926.9v3.2M1010.2 1924.2v8M1011.1 1927.3v2.7M1012 1927.2v2.5M1012.9 1927.5v2.4M1013.8 1924.3v9.2M1014.7 1927.1v2.4" stroke="#ff1a10" stroke-width="1.05" fill="none"/><path d="M733 1928.5H1015.4" stroke="#ff1a10" stroke-width="1.6"/><path d="M1025 1928.5M1025 1927v2.6M1025.9 1923.2v9.6M1026.8 1927.6v3.3M1027.7 1927.5v1.9M1028.6 1927.7v2.5M1029.5 1923.1v9.8M1030.4 1927v2.5M1031.3 1927.9v1.4M1032.2 1923.3v9.3M1033.1 1927v2.4M1034 1926.8v3.4M1034.9 1926.9v2.9M1035.8 1922.9v9.5M1036.7 1927.7v2.3M1037.6 1927v3.3M1038.5 1924.3v8.4M1039.4 1926.8v2.7M1040.3 1927.8v2.2M1041.2 1923.4v9.8M1042.1 1927.4v2.9M1043 1927.8v2.2M1043.9 1927.3v2.7M1044.8 1924v9.5M1045.7 1927.2v2.9M1046.6 1926.7v3.1M1047.5 1923.3v9.2M1048.4 1927v3.2M1049.3 1927.7v2.6M1050.2 1926.5v3.8M1051.1 1923.5v9.4M1052 1927.5v2.7M1052.9 1926.5v3.1M1053.8 1922.5v10.1M1054.7 1926.9v3M1055.6 1926.7v3.8M1056.5 1927v2.8M1057.4 1923.3v8.4M1058.3 1926.5v3.2M1059.2 1926.4v3.5M1060.1 1923.7v8.9M1061 1926.5v2.8M1061.9 1927.5v2.6M1062.8 1926.4v3.9M1063.7 1922.9v10.3M1064.6 1927.4v2.1M1065.5 1926.2v4.5M1066.4 1923.7v8.8M1067.3 1927.4v3.4M1068.2 1927.5v3.5M1069.1 1923.2v10.8M1070 1927.2v2.7M1070.9 1925.9v3.6M1071.8 1926.3v4.7M1072.7 1924.8v8.6M1073.6 1925.9v4.3M1074.5 1926.5v4.3M1075.4 1922.6v10.7M1076.3 1926.6v4.4M1077.2 1925.8v5.1M1078.1 1926.7v2.9M1079 1923.6v9.8M1079.9 1925.8v5M1080.8 1925.9v4M1081.7 1923v11.1M1082.6 1926.8v3.8M1083.5 1926.6v3.7M1084.4 1926.4v4.8M1085.3 1923.7v10.1M1086.2 1925.5v4.3M1087.1 1927.2v4.6M1088 1922.4v10.9M1088.9 1926.7v3M1089.8 1926.5v4.1M1090.7 1926.3v6.4M1091.6 1922.5v12.1M1092.5 1927.1v4.3M1093.4 1926.9v2.9M1094.3 1923.4v13.4M1095.2 1926.6v4.8M1096.1 1926.7v3.8M1097 1922.7v10.4M1097.9 1926.2v5.2M1098.8 1924.9v7M1099.7 1926.9v3.4M1100.6 1922v11.6M1101.5 1925.8v4.3M1102.4 1924.8v7.5M1103.3 1923.9v9.4M1104.2 1925.5v5.2M1105.1 1926v4.5M1106 1925.4v6.9M1106.9 1921.5v13M1107.8 1925.9v5.4M1108.7 1924.7v5.9M1109.6 1922.4v10.6M1110.5 1925.5v6.1M1111.4 1924.8v6.3M1112.3 1926.4v4M1113.2 1921.5v11.9M1114.1 1926.1v4.3M1115 1927.1v3.6M1115.9 1921.2v11.7M1116.8 1925.2v4.9M1117.7 1926.3v5.6M1118.6 1926.1v4.5M1119.5 1921.5v14M1120.4 1925.5v5.1M1121.3 1924.8v6.5M1122.2 1923.1v11.3M1123.1 1926v6.2M1124 1926.4v4.1M1124.9 1923v11.6M1125.8 1925.1v5.5M1126.7 1926.2v4.5M1127.6 1926.5v5.4M1128.5 1923v9.1M1129.4 1925.3v5.3M1130.3 1926.8v3.4M1131.2 1922.7v11.1M1132.1 1927v3M1133 1926.2v3.8M1133.9 1926.8v4.5M1134.8 1922.6v11M1135.7 1926.3v4.1M1136.6 1925.5v4.1M1137.5 1922.5v10M1138.4 1927.1v3.2M1139.3 1925.4v6M1140.2 1925.7v4.5M1141.1 1923.9v10.1M1142 1926.1v4.8M1142.9 1927.3v2.9M1143.8 1922.2v11.7M1144.7 1927.1v3M1145.6 1926.4v3.2M1146.5 1926.7v3.1M1147.4 1922.8v10.9M1148.3 1926.1v3.9M1149.2 1926.9v3.1M1150.1 1922.3v11.5M1151 1926v4.7M1151.9 1926.5v3.8M1152.8 1922.7v9.3M1153.7 1927v3.2M1154.6 1927.6v2.8M1155.5 1927.5v1.9M1156.4 1923.4v10.9M1157.3 1926.5v3.1M1158.2 1927.4v2.4M1159.1 1923.7v9.3M1160 1927.4v3.5M1160.9 1926.6v3.8M1161.8 1927.1v3.6M1162.7 1924.3v7.8M1163.6 1926.9v3.3M1164.5 1927.5v2.3M1165.4 1923.8v8.8M1166.3 1927.1v2.4M1167.2 1927.3v3M1168.1 1927.2v3M1169 1924.5v7.5M1169.9 1927.1v2.3M1170.8 1927.4v2.5M1171.7 1924.6v7.8M1172.6 1927.3v2M1173.5 1926.9v3.3M1174.4 1927v2.7M1175.3 1924.4v7.7M1176.2 1927.8v2.3M1177.1 1926.9v3.1M1178 1923.5v10.4M1178.9 1927.6v2.2M1179.8 1927.2v2.4M1180.7 1924.3v8.7M1181.6 1927.1v2.9M1182.5 1927.3v2.2M1183.4 1927.7v2.6M1184.3 1923.7v9.6M1185.2 1926.7v2.4M1186.1 1926.7v3.1M1187 1923.8v9.9M1187.9 1927.3v2.4M1188.8 1927v2.2M1189.7 1926.8v3.2M1190.6 1923.5v8.8M1191.5 1927.9v1.7M1192.4 1927.7v1.8M1193.3 1924v9.4M1194.2 1927.1v3.7M1195.1 1927.9v2.2M1196 1927.3v2.6M1196.9 1923.2v9.9M1197.8 1926.9v3.2M1198.7 1927.5v2.7M1199.6 1924v8.3M1200.5 1927.2v2.1M1201.4 1927.5v1.7M1202.3 1927.9v1.5M1203.2 1924.9v8M1204.1 1927v3M1205 1927.5v2.7M1205.9 1924.5v8M1206.8 1927.4v2.6M1207.7 1927.8v1.4M1208.6 1924.2v8.7M1209.5 1927.2v2M1210.4 1926.9v2.4M1211.3 1927v2.6M1212.2 1922.7v9.2M1213.1 1927.8v1.8M1214 1927.5v2.4M1214.9 1924.4v8.1M1215.8 1927.2v2.5M1216.7 1927.4v2M1217.6 1927.1v3M1218.5 1923.8v9.9M1219.4 1927.7v1.6M1220.3 1927.1v2.1M1221.2 1923.5v9.5M1222.1 1927.9v1.7M1223 1926.9v2.7M1223.9 1927.6v1.5M1224.8 1923.9v9.1M1225.7 1927v2.9M1226.6 1927v2.8M1227.5 1924.3v6.7M1228.4 1927.5v2.4M1229.3 1927.4v2.6M1230.2 1927.4v1.9M1231.1 1923.8v8.4M1232 1927.7v2M1232.9 1926.9v2.8M1233.8 1924.2v9.6M1234.7 1927.1v2.3M1235.6 1927.8v1.5M1236.5 1923.9v8.4M1237.4 1927.6v2M1238.3 1926.9v3.1M1239.2 1927.5v2M1240.1 1925.1v6.9M1241 1927.2v2.3M1241.9 1926.9v2.6M1242.8 1923.5v9.6M1243.7 1927.5v1.9M1244.6 1927.5v2M1245.5 1927.3v2.3M1246.4 1923.8v8.7M1247.3 1927.5v2.5M1248.2 1927.1v2.8M1249.1 1923.9v8.6M1250 1927.6v1.8M1250.9 1927.6v2M1251.8 1927.7v1.9M1252.7 1923.4v10.2M1253.6 1927.7v2M1254.5 1927v3.1M1255.4 1923.6v9.5M1256.3 1927.7v1.5M1257.2 1927.1v2.2M1258.1 1926.9v2.3M1259 1922.9v10.1M1259.9 1927.5v1.9M1260.8 1927.7v1.9M1261.7 1923v8.9M1262.6 1927.1v2.5M1263.5 1927.9v1.6M1264.4 1924.7v7.1M1265.3 1927.8v2.2M1266.2 1927.3v2.2M1267.1 1927.6v3.1M1268 1923.4v8.4M1268.9 1927.1v2.1M1269.8 1926.9v2.5M1270.7 1923.9v8.9M1271.6 1927v2.6M1272.5 1927.2v2.4M1273.4 1927.8v2.1M1274.3 1925v7.3M1275.2 1926.8v4.1M1276.1 1927.5v2.2M1277 1923.9v8.9M1277.9 1927.7v1.4M1278.8 1927.7v1.6M1279.7 1927.5v2M1280.6 1924v8.7M1281.5 1927.8v2.2M1282.4 1927.6v2.4M1283.3 1923.4v10.5M1284.2 1927.4v2.7M1285.1 1927v3M1286 1927v2.8M1286.9 1923.2v10.1M1287.8 1927.3v2.5M1288.7 1927.1v2.7M1289.6 1924.8v8.1M1290.5 1927.6v1.6M1291.4 1927.8v1.6M1292.3 1923.4v8.3M1293.2 1927.2v2.3M1294.1 1927v2.9M1295 1926.8v2.9M1295.9 1923.7v7.4M1296.8 1926.9v2.8M1297.7 1926.9v2.7M1298.6 1923.9v8.7M1299.5 1926.9v2.4M1300.4 1927.3v2.1M1301.3 1927.1v2.1M1302.2 1924.1v7.7M1303.1 1927v3.1M1304 1926.9v3.7M1304.9 1924.1v8.7M1305.8 1927.3v2.2M1306.7 1927.3v2.2" stroke="#1414ff" stroke-width="1.05" fill="none"/><path d="M1025 1928.5H1307.4" stroke="#1414ff" stroke-width="1.6"/><text x="629.2" y="1989.1" font-size="21.2">40 mmHg</text><path d="M733 1982.3M733 1980.7v3M733.9 1981.2v2.3M734.8 1978.1v8.4M735.7 1981.1v2.1M736.6 1981.6v1.4M737.5 1977.9v9.7M738.4 1981.6v2.2M739.3 1981v2.2M740.2 1981.2v2.5M741.1 1977.3v8.8M742 1981.5v1.8M742.9 1980.9v3.4M743.8 1977.4v9.2M744.7 1980.7v2.6M745.6 1981.4v1.9M746.5 1981.3v1.8M747.4 1977.2v10.7M748.3 1981.4v2.1M749.2 1980.9v2.3M750.1 1978.1v8.1M751 1981.2v2.6M751.9 1981.3v2.3M752.8 1981.7v1.3M753.7 1978.4v8.9M754.6 1980.6v2.4M755.5 1981.6v2.2M756.4 1978.2v8.7M757.3 1981.2v2.4M758.2 1980.6v2.7M759.1 1981.3v1.7M760 1977.5v9.9M760.9 1981.3v2.2M761.8 1981.5v2.4M762.7 1977.3v10M763.6 1981.3v2.4M764.5 1981v2.5M765.4 1977.5v9.9M766.3 1980.8v2.2M767.2 1980.6v2.4M768.1 1981.3v2.5M769 1977.2v9.6M769.9 1981.5v2.3M770.8 1981.2v3.7M771.7 1978.4v11M772.6 1980.8v2.1M773.5 1980.8v2.3M774.4 1980.8v3.3M775.3 1978.1v7.5M776.2 1981.5v2.2M777.1 1980.8v3.4M778 1976.7v10.5M778.9 1979.9v3.8M779.8 1981.3v2.3M780.7 1981.1v2.9M781.6 1975.8v13.2M782.5 1980.2v5.7M783.4 1979.5v4.4M784.3 1975.5v14.4M785.2 1977.8v8.1M786.1 1979.8v8.1M787 1979.2v9.6M787.9 1975.1v15.5M788.8 1974v14.4M789.7 1976.8v12.4M790.6 1969.6v25.8M791.5 1976.8v15.4M792.4 1975.6v15.4M793.3 1965v33.6M794.2 1970.3v19.4M795.1 1974.8v21M796 1968.5v28.5M796.9 1970.6v27.5M797.8 1975.9v13.3M798.7 1969.7v35.5M799.6 1964.7v27.2M800.5 1968.2v23.2M801.4 1967.6v32.4M802.3 1973.6v18.8M803.2 1970v27.9M804.1 1974.8v18.7M805 1972.6v17.8M805.9 1970.5v24.5M806.8 1977.4v10.8M807.7 1978.8v9M808.6 1977.7v10.2M809.5 1974.1v16.8M810.4 1980.1v7M811.3 1978.5v6.3M812.2 1975.5v13.9M813.1 1979.3v5.9M814 1979.8v4.1M814.9 1979.4v5M815.8 1977v10M816.7 1980.6v2.7M817.6 1981.4v2M818.5 1977.1v10.9M819.4 1981.1v2.1M820.3 1980.9v3.4M821.2 1978.3v9.3M822.1 1981.5v1.9M823 1980.9v2.8M823.9 1980.7v3.1M824.8 1976.7v11.1M825.7 1981.2v2.2M826.6 1981.2v2.5M827.5 1977.1v10.1M828.4 1981.1v1.9M829.3 1981.7v1.6M830.2 1980.7v2.3M831.1 1977.7v8.9M832 1980.7v3M832.9 1980.8v3M833.8 1977v10.6M834.7 1981.1v2.7M835.6 1981.5v2.3M836.5 1980.6v3.3M837.4 1977.8v8.9M838.3 1981.5v2.4M839.2 1980.6v2.3M840.1 1977.1v10.4M841 1981v2.2M841.9 1980.9v2.7M842.8 1980.7v3.2M843.7 1977.8v9.4M844.6 1981.3v2.6M845.5 1980.8v2.8M846.4 1977.1v10M847.3 1981.6v1.3M848.2 1981.4v2M849.1 1976.9v10.8M850 1981.3v2.2M850.9 1981.1v2.7M851.8 1980.8v3M852.7 1977v10.1M853.6 1981.1v2.7M854.5 1981.2v2.6M855.4 1977.7v8.9M856.3 1981.4v2.1M857.2 1981.6v1.7M858.1 1980.8v3M859 1978v8M859.9 1981v2.9M860.8 1981.3v2.6M861.7 1978.5v8.2M862.6 1980.8v2.3M863.5 1981.3v2.2M864.4 1981.4v2M865.3 1977.4v10.1M866.2 1981.1v2.3M867.1 1981.7v1.9M868 1978.4v8.7M868.9 1980.8v3M869.8 1981.2v2.3M870.7 1981.2v2.7M871.6 1977.1v8.5M872.5 1981.4v2.2M873.4 1981.1v2.7M874.3 1977.8v9.1M875.2 1980.7v2.4M876.1 1981.6v2.1M877 1978v8.7M877.9 1981.1v1.9M878.8 1980.8v2.4M879.7 1981.3v2.2M880.6 1976.5v10.3M881.5 1981.5v2M882.4 1980.7v3.1M883.3 1976v12M884.2 1981.5v1.6M885.1 1981.4v2.2M886 1981.4v2.3M886.9 1977.3v9.8M887.8 1981.5v2.4M888.7 1981v2.5M889.6 1978.6v6.9M890.5 1981v2.3M891.4 1981.7v2.1M892.3 1980.8v2.3M893.2 1977.6v8.3M894.1 1981.3v2.6M895 1981.3v2.2M895.9 1977.1v10.2M896.8 1981.7v2.2M897.7 1981.3v1.9M898.6 1980.9v3.3M899.5 1976.6v10.4M900.4 1981.4v2M901.3 1981.1v2.6M902.2 1977.8v9.2M903.1 1981.6v1.9M904 1981.5v2.2M904.9 1977.9v8.6M905.8 1981.6v2M906.7 1981.2v2.6M907.6 1981.2v1.9M908.5 1976.9v9.8M909.4 1980.9v2.3M910.3 1981.6v2.1M911.2 1976.4v9.1M912.1 1981.5v2.2M913 1980.9v3.5M913.9 1981.1v2.3M914.8 1977.1v9.3M915.7 1981.4v1.7M916.6 1981.3v2.6M917.5 1977.7v10M918.4 1980.9v2.4M919.3 1981.4v1.5M920.2 1981.1v2.4M921.1 1978.1v7.2M922 1981.1v2.5M922.9 1980.9v3.1M923.8 1976.2v10.7M924.7 1981.1v2.3M925.6 1980.8v2.4M926.5 1981.1v2.8M927.4 1978.1v8.5M928.3 1981v2.3M929.2 1980.7v2.3M930.1 1976.6v8.8M931 1981.3v2M931.9 1980.9v3M932.8 1977.4v8.7M933.7 1981.6v2.3M934.6 1981.5v2.1M935.5 1980.7v2.8M936.4 1976.2v9.8M937.3 1981.1v2.4M938.2 1981.6v2.3M939.1 1976.6v9.7M940 1980.9v2.3M940.9 1981.7v1.2M941.8 1981v3M942.7 1978.5v9.1M943.6 1981.3v1.7M944.5 1980.8v3.1M945.4 1977.6v9.4M946.3 1981.6v1.3M947.2 1981.6v1.5M948.1 1980.9v2.5M949 1977.9v8.2M949.9 1981.2v2M950.8 1980.7v3.2M951.7 1977.1v10.1M952.6 1981.1v1.9M953.5 1981v2.9M954.4 1981.2v2.6M955.3 1977.1v9.2M956.2 1980.6v2.9M957.1 1981.6v2.3M958 1976.7v8.7M958.9 1980.7v2.6M959.8 1981v2.7M960.7 1976.9v9.8M961.6 1980.8v2.8M962.5 1981.2v2.9M963.4 1981.5v1.5M964.3 1977.5v9.2M965.2 1981.6v1.4M966.1 1981.5v2.4M967 1976.6v10M967.9 1981.4v1.6M968.8 1980.6v3.1M969.7 1980.8v3.1M970.6 1976.8v9.6M971.5 1981.4v1.8M972.4 1980.8v2.2M973.3 1977.1v9.7M974.2 1981.5v1.8M975.1 1981v2M976 1981.3v2.4M976.9 1977.3v9.9M977.8 1980.7v3.2M978.7 1980.7v2.3M979.6 1977.6v8.1M980.5 1980.4v3.3M981.4 1980.6v3.1M982.3 1980.9v2.9M983.2 1976v10.8M984.1 1981.4v3M985 1980.9v3.3M985.9 1976.4v12.9M986.8 1978.8v5.2M987.7 1978.3v7.6M988.6 1975.9v15.4M989.5 1979.9v4.4M990.4 1980.2v6.5M991.3 1979v5.9M992.2 1974.7v13.7M993.1 1978.8v10M994 1979.1v8.5M994.9 1971.8v20.9M995.8 1975.7v10.4M996.7 1977.3v8.6M997.6 1976.1v12.8M998.5 1971.8v16.7M999.4 1977.2v9.3M1000.3 1977.8v8.1M1001.2 1977v13M1002.1 1979.9v6.2M1003 1978.7v6.3M1003.9 1980.7v4.4M1004.8 1974.4v13.5M1005.7 1979.6v4.9M1006.6 1980.1v3.8M1007.5 1976.6v9.6M1008.4 1980.6v2.5M1009.3 1980.7v2.7M1010.2 1980.6v2.6M1011.1 1977.9v9.2M1012 1980.8v3.3M1012.9 1981.1v2.9M1013.8 1977.2v8.4M1014.7 1981.3v2.5" stroke="#ff1a10" stroke-width="1.05" fill="none"/><path d="M733 1982.3H1015.4" stroke="#ff1a10" stroke-width="1.6"/><path d="M1025 1982.3M1025 1981v2.4M1025.9 1980.7v2.6M1026.8 1977.6v9.6M1027.7 1981.1v2.9M1028.6 1981v2.9M1029.5 1978.1v7.8M1030.4 1981.4v1.7M1031.3 1981.5v2.2M1032.2 1980.8v2.5M1033.1 1977.8v8.3M1034 1980.8v3.1M1034.9 1981.6v1.8M1035.8 1977.3v8.9M1036.7 1981v1.9M1037.6 1980.7v2.7M1038.5 1981.1v1.9M1039.4 1977.5v9.2M1040.3 1981.6v2.4M1041.2 1980.7v3.1M1042.1 1977.8v8.7M1043 1981.3v1.7M1043.9 1980.7v2.5M1044.8 1981.2v2.6M1045.7 1977.3v8.5M1046.6 1981.7v1.8M1047.5 1981v2.4M1048.4 1977.9v8.9M1049.3 1981.6v1.6M1050.2 1980.7v3.3M1051.1 1977v8.9M1052 1981.3v1.8M1052.9 1981.4v2.4M1053.8 1980.6v3.4M1054.7 1978.1v8.7M1055.6 1981.1v2M1056.5 1980.9v2.9M1057.4 1978.1v7.3M1058.3 1981.3v1.7M1059.2 1980.9v2.7M1060.1 1981.4v2.2M1061 1977.6v10.1M1061.9 1981.7v1.8M1062.8 1980.6v3.1M1063.7 1977.2v8.6M1064.6 1981.3v1.8M1065.5 1981v2.9M1066.4 1980.7v3.1M1067.3 1977v8.2M1068.2 1981.6v1.5M1069.1 1981.1v2.2M1070 1978.8v7.5M1070.9 1981.2v2.7M1071.8 1980.6v3.3M1072.7 1981.6v2.2M1073.6 1978.1v8.9M1074.5 1980.8v2.7M1075.4 1980.9v2.4M1076.3 1979v8.2M1077.2 1980.6v3.3M1078.1 1980.8v2.9M1079 1977.4v8.1M1079.9 1980.7v2.3M1080.8 1981v2.5M1081.7 1980.9v3M1082.6 1978.4v8M1083.5 1981.1v2.3M1084.4 1980.6v3.1M1085.3 1978.4v9.2M1086.2 1980.6v3M1087.1 1980.6v2.4M1088 1981.2v2.7M1088.9 1975.9v10.8M1089.8 1980.4v3.9M1090.7 1980.4v3.6M1091.6 1977.2v13.4M1092.5 1980.9v2.8M1093.4 1980.8v7.4M1094.3 1978.8v5.1M1095.2 1975.6v12.3M1096.1 1978.5v10.5M1097 1978v6.7M1097.9 1976.7v10.9M1098.8 1980.5v4.8M1099.7 1979.8v4.1M1100.6 1979.5v3.8M1101.5 1976.8v9.8M1102.4 1980.7v3.8M1103.3 1981v2.2M1104.2 1978.2v7.4M1105.1 1981.2v2.2M1106 1980.6v2.9M1106.9 1976.9v8.6M1107.8 1981.4v2.5M1108.7 1981.6v2.4M1109.6 1981.1v2.8M1110.5 1977v9.4M1111.4 1981v3M1112.3 1981.3v2.6M1113.2 1976.7v10.8M1114.1 1980.9v2.7M1115 1981.1v2.1M1115.9 1981.4v2.1M1116.8 1977.1v8.4M1117.7 1981.2v2.8M1118.6 1980.8v3.1M1119.5 1977.8v8.4M1120.4 1981v2M1121.3 1981.2v2M1122.2 1980.9v2M1123.1 1978.1v7.7M1124 1981.5v2.4M1124.9 1981.2v2.3M1125.8 1977.9v7.8M1126.7 1981.1v2.5M1127.6 1980.8v2.9M1128.5 1980.8v3.2M1129.4 1977.5v9.9M1130.3 1980.9v3M1131.2 1981.5v1.8M1132.1 1978.7v6.8M1133 1980.9v2.6M1133.9 1981v2.9M1134.8 1977.6v8.1M1135.7 1980.6v2.9M1136.6 1981.4v2M1137.5 1981.6v1.5M1138.4 1977.8v11.1M1139.3 1980.6v2.6M1140.2 1980.9v2.9M1141.1 1976.8v9.7M1142 1981.1v2.1M1142.9 1981.5v1.5M1143.8 1981.2v2.3M1144.7 1977.3v9M1145.6 1981.1v1.8M1146.5 1981.4v1.5M1147.4 1977.8v9M1148.3 1981v2.5M1149.2 1981.1v1.9M1150.1 1981.7v1.9M1151 1977.8v8.3M1151.9 1980.9v2.2M1152.8 1981.6v2.1M1153.7 1978.4v7.9M1154.6 1981.3v2.4M1155.5 1980.9v2.4M1156.4 1980.7v3.9M1157.3 1976.8v10.2M1158.2 1981.2v1.8M1159.1 1980.8v2.3M1160 1977.6v7.6M1160.9 1980.7v2.8M1161.8 1981.5v2M1162.7 1977.1v9.5M1163.6 1980.9v2.4M1164.5 1980.9v2.4M1165.4 1981.3v2.5M1166.3 1978.9v6.6M1167.2 1980.9v2.3M1168.1 1981.6v1.5M1169 1977.1v10.3M1169.9 1981.1v2.2M1170.8 1981.5v2.2M1171.7 1981.2v2.6M1172.6 1978.1v8.3M1173.5 1980.7v2.2M1174.4 1981.2v2.1M1175.3 1978.1v8.2M1176.2 1981.2v1.7M1177.1 1980.9v2.1M1178 1981.5v1.7M1178.9 1978v8.6M1179.8 1981v2M1180.7 1981.5v1.9M1181.6 1977.4v8.4M1182.5 1981.1v2M1183.4 1981.3v2M1184.3 1980.7v2.7M1185.2 1977.3v9.9M1186.1 1980.7v2.3M1187 1980.7v3.3M1187.9 1978.4v8.8M1188.8 1980.7v2.5M1189.7 1981.3v2.4M1190.6 1978.8v8.2M1191.5 1980.8v2.9M1192.4 1980.7v2.7M1193.3 1981.3v2.1M1194.2 1977v9.7M1195.1 1981.4v1.5M1196 1981.7v2.2M1196.9 1977.1v9.4M1197.8 1980.9v2.3M1198.7 1981.6v1.4M1199.6 1981.6v1.3M1200.5 1978.3v8.4M1201.4 1981.3v2.1M1202.3 1981.1v2.3M1203.2 1977.6v8.6M1204.1 1981.6v2.1M1205 1980.9v2.8M1205.9 1981.6v1.4M1206.8 1978.1v7.3M1207.7 1981.5v1.6M1208.6 1981.3v2.2M1209.5 1978.1v8.4M1210.4 1981.6v1.6M1211.3 1981.3v1.7M1212.2 1981.6v1.7M1213.1 1978.1v9.5M1214 1981.1v2.2M1214.9 1981.5v2.3M1215.8 1978.3v8.6M1216.7 1981.1v2.1M1217.6 1981.2v2M1218.5 1977.7v8.8M1219.4 1981.2v2.1M1220.3 1981.5v1.6M1221.2 1981v2.3M1222.1 1978v9.2M1223 1981v2.2M1223.9 1980.6v3M1224.8 1977v10.6M1225.7 1981.3v2.7M1226.6 1981v3M1227.5 1981.5v2.2M1228.4 1978v9.3M1229.3 1981.6v2.4M1230.2 1980.9v2.2M1231.1 1977.3v9.7M1232 1981.1v2.9M1232.9 1980.8v3.1M1233.8 1981.2v1.7M1234.7 1977.5v8M1235.6 1981.5v1.7M1236.5 1980.7v3.3M1237.4 1978.1v7.7M1238.3 1981v2.7M1239.2 1981.1v1.8M1240.1 1981.2v2.2M1241 1978.3v7.8M1241.9 1981.4v1.8M1242.8 1980.6v3.3M1243.7 1978.2v9.4M1244.6 1981.2v1.9M1245.5 1981.6v1.9M1246.4 1977.6v9.1M1247.3 1980.9v2.1M1248.2 1981.6v1.6M1249.1 1981.2v2.4M1250 1977v10.2M1250.9 1981.5v1.7M1251.8 1980.9v2.8M1252.7 1978.1v7.7M1253.6 1981v2M1254.5 1980.4v3.7M1255.4 1981.4v2.7M1256.3 1977v9.4M1257.2 1978.8v6.4M1258.1 1978.4v7.2M1259 1975.6v11.8M1259.9 1978.5v7.9M1260.8 1980v7M1261.7 1979.8v4.6M1262.6 1977.2v9.7M1263.5 1981v3.2M1264.4 1980.9v3M1265.3 1977.9v7.6M1266.2 1980.9v3.1M1267.1 1981.2v2.4M1268 1981.2v2.3M1268.9 1977.5v8.5M1269.8 1981.3v1.9M1270.7 1981v2.5M1271.6 1978.1v8.4M1272.5 1981.6v1.9M1273.4 1981.4v1.9M1274.3 1977v9.8M1275.2 1981.7v1.4M1276.1 1980.7v2.7M1277 1981v2.6M1277.9 1977.7v9.2M1278.8 1980.9v2.1M1279.7 1981.3v2.1M1280.6 1977.2v8.1M1281.5 1981.6v1.3M1282.4 1981.2v2M1283.3 1981v2M1284.2 1977.6v8.7M1285.1 1980.8v2.8M1286 1981.3v2M1286.9 1978.1v8.7M1287.8 1981.2v2.7M1288.7 1981.3v2M1289.6 1980.8v2.8M1290.5 1978.4v9M1291.4 1981.5v2.1M1292.3 1981.5v1.6M1293.2 1977.9v8.2M1294.1 1980.8v2.5M1295 1981.6v2M1295.9 1980.9v2.3M1296.8 1976.6v10.5M1297.7 1981.7v1.6M1298.6 1981.6v1.6M1299.5 1977.4v8.8M1300.4 1981.3v1.7M1301.3 1981.4v2.2M1302.2 1977.4v8.9M1303.1 1980.9v2.1M1304 1981.5v2.1M1304.9 1980.7v2.5M1305.8 1978.1v8.7M1306.7 1980.8v2.5" stroke="#1414ff" stroke-width="1.05" fill="none"/><path d="M1025 1982.3H1307.4" stroke="#1414ff" stroke-width="1.6"/><text x="629.2" y="2045.2" font-size="21.2">60 mmHg</text><path d="M733 2037.9M733 2036v2.8M733.9 2032.7v10.4M734.8 2035.4v3.8M735.7 2036.7v3.7M736.6 2036.8v2M737.5 2033v10.8M738.4 2036.4v3.1M739.3 2035.9v3.2M740.2 2031.7v10.5M741.1 2035.5v3.9M742 2036.8v3.1M742.9 2036.3v3M743.8 2031.7v12.2M744.7 2036.9v2M745.6 2036.1v3M746.5 2032.6v10.5M747.4 2035.9v4.4M748.3 2035.9v4.3M749.2 2031.7v9.7M750.1 2035.7v4.6M751 2035.3v4.7M751.9 2035.1v4.5M752.8 2032.1v9.9M753.7 2035.8v4.2M754.6 2036.2v3.9M755.5 2032.5v10.3M756.4 2035.1v4.6M757.3 2034.8v4.7M758.2 2036.1v4.2M759.1 2033v10.7M760 2035.9v5.2M760.9 2034.8v5.5M761.8 2030.9v13.7M762.7 2035.4v6.1M763.6 2035v4.5M764.5 2034.6v7.7M765.4 2029.9v12.8M766.3 2034.2v7.2M767.2 2032.7v9.9M768.1 2029.1v17.1M769 2031.9v9.2M769.9 2033.8v10.7M770.8 2034v10M771.7 2029.4v16.3M772.6 2033.2v12.9M773.5 2031.8v11.1M774.4 2029.7v16.4M775.3 2029.2v15.3M776.2 2030.7v13.7M777.1 2022.8v29.3M778 2030.5v19M778.9 2029.2v17M779.8 2025.9v19M780.7 2021v31.3M781.6 2031.8v17.1M782.5 2024.6v19.1M783.4 2027v37.7M784.3 2030.2v16.4M785.2 2021.8v31.2M786.1 2029v26.1M787 2019.4v38.4M787.9 2027.3v23.9M788.8 2019.9v28.7M789.7 2023.8v32.8M790.6 2026.6v30.2M791.5 2021.4v31.7M792.4 2023.4v31.6M793.3 2021.8v33M794.2 2025.5v29M795.1 2023v27.2M796 2020.6v27.5M796.9 2027.8v21.5M797.8 2023v21.4M798.7 2031v14.1M799.6 2025.8v27.8M800.5 2027.1v23.8M801.4 2030.3v15.2M802.3 2029.9v16.8M803.2 2029.9v13.7M804.1 2028.1v14.4M805 2025v20.4M805.9 2032.8v9M806.8 2032.3v10.1M807.7 2032.2v10.2M808.6 2030.6v13.6M809.5 2031.3v10.5M810.4 2032.1v11.2M811.3 2030v14.9M812.2 2034.8v8M813.1 2033.8v9.2M814 2033v6.9M814.9 2028.4v18.6M815.8 2034.6v7M816.7 2033.2v8.7M817.6 2030.5v13M818.5 2033.9v6.7M819.4 2035.1v6.7M820.3 2035.6v5.8M821.2 2031.5v13M822.1 2036v4.7M823 2035.4v6.3M823.9 2030v12.7M824.8 2036.2v5.3M825.7 2036.4v3.9M826.6 2034.7v6.1M827.5 2031.3v17M828.4 2034.2v5.6M829.3 2036.5v4.7M830.2 2031.8v12.8M831.1 2035.2v5.6M832 2034.3v8.5M832.9 2030.8v12.7M833.8 2036.5v4.2M834.7 2034.2v7.2M835.6 2036v3.6M836.5 2030.1v13.9M837.4 2036.5v4.5M838.3 2034.8v6.2M839.2 2030.7v12.4M840.1 2034.5v5.8M841 2034.5v5.1M841.9 2034.7v5.5M842.8 2032.6v11.5M843.7 2035.4v5.6M844.6 2034.8v6.9M845.5 2033v8.6M846.4 2035.3v5.3M847.3 2034.4v6.6M848.2 2035.1v6M849.1 2031.2v13.6M850 2034.3v6.4M850.9 2034.6v6.6M851.8 2030.5v14.4M852.7 2036.2v4.4M853.6 2036.5v3.2M854.5 2034.9v6.4M855.4 2031.9v12.7M856.3 2036.4v3.8M857.2 2035.8v4.7M858.1 2033v9.3M859 2036.4v4M859.9 2036.2v3.6M860.8 2032.2v12M861.7 2035.6v3.8M862.6 2035.1v5.7M863.5 2035.7v5M864.4 2032.2v12.3M865.3 2034.5v6.3M866.2 2034.7v6.6M867.1 2032.5v12M868 2035.7v3.7M868.9 2035.8v4.3M869.8 2036.2v5.3M870.7 2031.9v11.5M871.6 2034.4v5.3M872.5 2036v3.4M873.4 2031.2v11.3M874.3 2036.3v3.5M875.2 2034.6v5M876.1 2034.1v6.4M877 2032.1v13.7M877.9 2034.4v5.8M878.8 2034.5v6.3M879.7 2031.8v11M880.6 2034.7v5M881.5 2034.1v7.6M882.4 2036.1v4.4M883.3 2030.1v14.3M884.2 2034.4v5.3M885.1 2034.7v5.6M886 2032.3v10M886.9 2034.1v5.6M887.8 2034.5v7.1M888.7 2030.6v14.1M889.6 2036v5.2M890.5 2034.3v5.8M891.4 2034.2v6.7M892.3 2032.9v10.1M893.2 2035.6v3.8M894.1 2035.1v5.4M895 2029.8v13.2M895.9 2035.9v3.8M896.8 2035.1v4.2M897.7 2036.5v4.1M898.6 2031.5v10.8M899.5 2036.1v5.2M900.4 2036.3v5M901.3 2030.9v14.6M902.2 2034.3v6.7M903.1 2036.5v4.8M904 2034.3v6.1M904.9 2030.1v14.2M905.8 2034.7v6.1M906.7 2034.9v4.8M907.6 2031.7v11.2M908.5 2035.3v5.8M909.4 2035.2v4.9M910.3 2034.3v5.5M911.2 2031.4v11.1M912.1 2034.7v5.4M913 2034.5v5.9M913.9 2032.4v11M914.8 2036.1v6.9M915.7 2034.9v5M916.6 2032.1v12.9M917.5 2036v5.5M918.4 2034.6v5.7M919.3 2035.6v3.7M920.2 2031v14M921.1 2036.2v3.3M922 2035.4v4.5M922.9 2032.4v10.3M923.8 2035.9v5.1M924.7 2035.4v4.9M925.6 2035.6v3.8M926.5 2032.2v10.2M927.4 2034.8v6.3M928.3 2036.3v5M929.2 2031.7v11M930.1 2035.8v5.5M931 2036v4.5M931.9 2034.6v5.5M932.8 2033v9.3M933.7 2035.9v3.7M934.6 2034.6v4.7M935.5 2030.8v12.1M936.4 2035.5v3.7M937.3 2035.9v4.6M938.2 2034.7v5.8M939.1 2031.5v12M940 2035.6v5M940.9 2035.9v4M941.8 2032v10M942.7 2034.7v5.8M943.6 2036.5v4.6M944.5 2033.4v10.1M945.4 2036.5v3.9M946.3 2035.6v5.2M947.2 2035.2v4.8M948.1 2031.9v11.3M949 2036.3v2.9M949.9 2035.2v5.4M950.8 2031.6v10.7M951.7 2035.8v4.3M952.6 2034.8v5.6M953.5 2034.6v4.8M954.4 2031.5v12.1M955.3 2036.4v4.3M956.2 2034.5v4.8M957.1 2032v11.9M958 2034.5v6.4M958.9 2033.9v7.6M959.8 2034v8.8M960.7 2033.1v9.9M961.6 2035v5.6M962.5 2034.2v8.3M963.4 2029.3v13.4M964.3 2032.7v9.4M965.2 2034.9v7.4M966.1 2035.4v7.2M967 2029.5v18.3M967.9 2034.9v8.5M968.8 2032.3v12.4M969.7 2026.9v22.8M970.6 2031.4v14.9M971.5 2028.9v17M972.4 2027.2v20.2M973.3 2029.4v13.3M974.2 2033.5v14.4M975.1 2029.4v19.2M976 2025.4v22.7M976.9 2029.9v20.9M977.8 2027.7v22.7M978.7 2024.8v24.3M979.6 2031.3v15.8M980.5 2026v26.4M981.4 2024.7v25M982.3 2023.1v31.9M983.2 2027.3v18M984.1 2026.3v24.2M985 2022.6v27.7M985.9 2025.6v22.4M986.8 2028.6v15M987.7 2030v18.6M988.6 2025.7v19.4M989.5 2030.9v15.9M990.4 2029.7v15.5M991.3 2030.5v14.8M992.2 2033.3v8.6M993.1 2030.2v13.8M994 2030.8v11.7M994.9 2028.9v18.3M995.8 2031.7v10.6M996.7 2035.6v7.2M997.6 2030.5v14.3M998.5 2035v6.7M999.4 2035.7v6.3M1000.3 2029v16.5M1001.2 2033.9v7.3M1002.1 2035.2v6.6M1003 2035.5v6.1M1003.9 2032.3v9.9M1004.8 2036.1v4.2M1005.7 2035.8v4M1006.6 2031.8v11.2M1007.5 2035v5.3M1008.4 2036v4.5M1009.3 2035.3v5.2M1010.2 2031.3v11.3M1011.1 2036.7v2.7M1012 2036.8v3.4M1012.9 2031.4v11.2M1013.8 2036.3v3.5M1014.7 2036.8v3.2" stroke="#ff1a10" stroke-width="1.05" fill="none"/><path d="M733 2037.9H1015.4" stroke="#ff1a10" stroke-width="1.6"/><path d="M1025 2037.9M1025 2037.1v2M1025.9 2033.7v7.1M1026.8 2036.9v1.8M1027.7 2036.5v2.1M1028.6 2037v1.6M1029.5 2032.6v9.9M1030.4 2036.9v1.7M1031.3 2036.4v2.2M1032.2 2033v8.8M1033.1 2036.8v2.7M1034 2036.5v2.8M1034.9 2036.3v3M1035.8 2033.2v9.9M1036.7 2036.4v2.9M1037.6 2037.2v1.3M1038.5 2033.3v8.4M1039.4 2036.7v2.4M1040.3 2037v2.2M1041.2 2037.1v1.8M1042.1 2032.5v9M1043 2037v1.7M1043.9 2036.6v2.7M1044.8 2032.7v9M1045.7 2037.2v2M1046.6 2036.6v2.1M1047.5 2032.3v9.5M1048.4 2036.4v2.8M1049.3 2036.8v2.6M1050.2 2036.3v2.8M1051.1 2033.8v7.3M1052 2036.7v2M1052.9 2036.6v2M1053.8 2033.9v7.3M1054.7 2037.1v2.3M1055.6 2037.3v1.5M1056.5 2036.2v2.8M1057.4 2033.5v7.6M1058.3 2037.3v1.3M1059.2 2036.8v2.7M1060.1 2032.8v9.8M1061 2036.5v2.3M1061.9 2036.7v2.6M1062.8 2036.8v2.7M1063.7 2033v11.3M1064.6 2036.2v2.4M1065.5 2037.1v1.5M1066.4 2033.5v9.1M1067.3 2036.4v2.5M1068.2 2037v1.7M1069.1 2036.8v1.8M1070 2032.2v9.2M1070.9 2036.9v1.8M1071.8 2035.9v3.1M1072.7 2032.4v10M1073.6 2035.7v4.4M1074.5 2035.2v3.8M1075.4 2030.4v13.9M1076.3 2033.9v5.6M1077.2 2033.6v9M1078.1 2032.6v8.4M1079 2031.1v14.9M1079.9 2034.6v6.1M1080.8 2029.8v16.7M1081.7 2023.7v26.9M1082.6 2031.2v11.6M1083.5 2029.9v15.1M1084.4 2031.8v13.5M1085.3 2020.2v32.6M1086.2 2024.8v20.4M1087.1 2028.7v18.2M1088 2016.5v34.2M1088.9 2020.3v28.9M1089.8 2026.5v25.2M1090.7 2021.3v32.6M1091.6 2026.5v26.1M1092.5 2027.8v24.3M1093.4 2025.3v29.3M1094.3 2020.8v31.8M1095.2 2027.4v23M1096.1 2032.2v12.1M1097 2028.7v20.1M1097.9 2025.5v18.9M1098.8 2034v12.9M1099.7 2031.8v11.8M1100.6 2030.4v13.1M1101.5 2035.5v6.7M1102.4 2035.6v6.1M1103.3 2030.4v14.4M1104.2 2034.2v6.8M1105.1 2035.2v6.8M1106 2036.4v3M1106.9 2032.1v11M1107.8 2036.5v3.4M1108.7 2036.1v2.9M1109.6 2032.4v10.7M1110.5 2036.2v3.4M1111.4 2036.6v2.9M1112.3 2036.8v1.9M1113.2 2033.2v9.6M1114.1 2036.3v2.3M1115 2036.7v2.7M1115.9 2034.4v7.3M1116.8 2037.1v2.2M1117.7 2036.7v2.2M1118.6 2036.6v2.9M1119.5 2033.2v9.6M1120.4 2036.2v2.4M1121.3 2037.3v1.3M1122.2 2033.8v7.7M1123.1 2036.8v2.4M1124 2036.7v2.4M1124.9 2036.2v3M1125.8 2034.1v8M1126.7 2036.5v3M1127.6 2037.1v1.8M1128.5 2034v8.8M1129.4 2036.7v2.7M1130.3 2036.8v2.7M1131.2 2033.9v8.4M1132.1 2037v1.6M1133 2037.2v2.2M1133.9 2036.6v2.2M1134.8 2033.2v8.7M1135.7 2037v2.2M1136.6 2036.7v2.1M1137.5 2033v9.1M1138.4 2036.3v2.7M1139.3 2037.2v2.2M1140.2 2036.8v2.1M1141.1 2033.1v8.3M1142 2036.8v2.8M1142.9 2037.1v2.5M1143.8 2033.6v10.4M1144.7 2037.2v1.5M1145.6 2037.2v1.9M1146.5 2036.9v2M1147.4 2032.7v9.7M1148.3 2036.5v2.7M1149.2 2036.6v1.9M1150.1 2033.1v7.7M1151 2036.3v2.6M1151.9 2036.3v2.6M1152.8 2036.3v2.3M1153.7 2033.3v8.1M1154.6 2036.4v3.1M1155.5 2037.1v2.2M1156.4 2032.8v9.1M1157.3 2037.2v1.4M1158.2 2036.8v2.8M1159.1 2033.2v7.9M1160 2037.3v2M1160.9 2036.5v2.8M1161.8 2037v2M1162.7 2033.7v8M1163.6 2036.9v1.7M1164.5 2036.6v2.6M1165.4 2033.6v7.2M1166.3 2036.7v2.4M1167.2 2036.4v2.6M1168.1 2036.5v2.8M1169 2032.9v9.5M1169.9 2036.9v2.1M1170.8 2036.3v2.7M1171.7 2032.5v9.8M1172.6 2036.4v2.5M1173.5 2036.7v2.9M1174.4 2036.3v3.1M1175.3 2033.7v8.6M1176.2 2036.4v3M1177.1 2036.7v2.1M1178 2033v8.6M1178.9 2036.5v2.7M1179.8 2037.1v2M1180.7 2036.9v2.4M1181.6 2033.2v8.5M1182.5 2036.5v3.6M1183.4 2036.4v2.9M1184.3 2033.2v8.6M1185.2 2036.3v2.8M1186.1 2037.1v2.5M1187 2032.6v9.7M1187.9 2036.7v2.6M1188.8 2037.1v2M1189.7 2037.1v2.3M1190.6 2032.7v10.5M1191.5 2036.4v2.9M1192.4 2036.4v3.1M1193.3 2033v9.4M1194.2 2036.4v2.2M1195.1 2036.9v2.7M1196 2037.2v1.4M1196.9 2033.9v7.9M1197.8 2036.8v2.1M1198.7 2036.3v3.1M1199.6 2033.6v7.6M1200.5 2036.4v2.6M1201.4 2036.5v2.1M1202.3 2037v1.6M1203.2 2033.4v8.3M1204.1 2036.6v2.4M1205 2037.2v1.8M1205.9 2033.3v7.4M1206.8 2036.8v2.2M1207.7 2036.9v2.5M1208.6 2037v2M1209.5 2033.4v8.2M1210.4 2037.1v1.8M1211.3 2036.5v2.2M1212.2 2033.7v8.6M1213.1 2036.7v1.9M1214 2037.1v1.9M1214.9 2034.2v6.5M1215.8 2036.5v2M1216.7 2037.1v2.5M1217.6 2036.9v2.6M1218.5 2033.6v9M1219.4 2036.3v3.3M1220.3 2036.3v2.9M1221.2 2033.3v9.6M1222.1 2036.5v3.1M1223 2036.8v2.8M1223.9 2036.5v2.4M1224.8 2032.4v10.1M1225.7 2037v1.7M1226.6 2036.4v2.8M1227.5 2033.5v9.5M1228.4 2037v1.7M1229.3 2036.8v2.5M1230.2 2036.8v2.6M1231.1 2033.5v8.6M1232 2037.2v1.7M1232.9 2037.1v1.8M1233.8 2033.4v9.9M1234.7 2036.8v1.8M1235.6 2036.6v2.8M1236.5 2037.1v1.9M1237.4 2033.7v7.3M1238.3 2036.9v2.4M1239.2 2036.6v2.8M1240.1 2033.2v8.7M1241 2036.8v2M1241.9 2037.3v1.7M1242.8 2033.4v8.4M1243.7 2036.2v3.1M1244.6 2037.1v2.1M1245.5 2036.7v2.8M1246.4 2032.2v10.1M1247.3 2036.3v2.6M1248.2 2037v1.8M1249.1 2034.3v7.7M1250 2036.9v2M1250.9 2037.2v2.1M1251.8 2036.8v2.2M1252.7 2034.5v8.6M1253.6 2036.2v2.4M1254.5 2037v1.8M1255.4 2032.9v8.6M1256.3 2037v2.4M1257.2 2036.3v4.1M1258.1 2036.5v2.1M1259 2033.7v8.1M1259.9 2036.9v2.2M1260.8 2037.2v2.4M1261.7 2034v9.7M1262.6 2036.5v2.9M1263.5 2036.7v2.3M1264.4 2036.5v2.2M1265.3 2033.6v8.5M1266.2 2037.2v1.4M1267.1 2036.5v2.9M1268 2032.6v9.5M1268.9 2036.6v2.3M1269.8 2036.9v2.4M1270.7 2032.6v9.5M1271.6 2036.4v2.7M1272.5 2036.3v2.4M1273.4 2036.5v2.4M1274.3 2033v9M1275.2 2037.2v1.4M1276.1 2036.8v2M1277 2033.5v9M1277.9 2037.1v2M1278.8 2036.4v2.5M1279.7 2037.2v2.3M1280.6 2033.3v7.7M1281.5 2036.2v2.3M1282.4 2037.2v1.6M1283.3 2033.6v9.1M1284.2 2036.9v1.6M1285.1 2036.6v2.2M1286 2036.7v1.9M1286.9 2032.8v9.8M1287.8 2037.2v1.5M1288.7 2036.7v2.5M1289.6 2033.1v8.8M1290.5 2036.3v3M1291.4 2036.6v2.8M1292.3 2036.2v2.9M1293.2 2032.9v9.6M1294.1 2036.3v2.4M1295 2036.4v3M1295.9 2032.7v9.2M1296.8 2037.1v1.5M1297.7 2036.9v2.3M1298.6 2032.9v9.2M1299.5 2036.7v2.1M1300.4 2036.4v3M1301.3 2036.5v2.8M1302.2 2034.2v7M1303.1 2036.8v2.4M1304 2037v1.6M1304.9 2033v8.5M1305.8 2036.7v2.8M1306.7 2036.2v3.3" stroke="#1414ff" stroke-width="1.05" fill="none"/><path d="M1025 2037.9H1307.4" stroke="#1414ff" stroke-width="1.6"/><text x="629.2" y="2101.6" font-size="21.2">80 mmHg</text><path d="M733 2096.2M733 2094.4v3.1M733.9 2090.9v8.7M734.8 2094v4.3M735.7 2095.3v2.3M736.6 2091.6v9.1M737.5 2094.4v3.2M738.4 2095.1v3.1M739.3 2090v11.6M740.2 2094.6v2.6M741.1 2095.2v3.1M742 2094.3v3.6M742.9 2090.8v10.8M743.8 2094v3.8M744.7 2093.8v4.7M745.6 2090.4v10.4M746.5 2094.6v3.4M747.4 2094v3.2M748.3 2094.8v3.5M749.2 2091.2v9.3M750.1 2094.6v2.8M751 2095v2.6M751.9 2090.6v8.7M752.8 2094.3v3.7M753.7 2095v2.9M754.6 2095.2v2.8M755.5 2090.9v9.1M756.4 2093.6v5.1M757.3 2094.2v4.5M758.2 2090.9v10.6M759.1 2095.2v2.6M760 2095v2.6M760.9 2094v3.4M761.8 2090.6v11.3M762.7 2093v4.9M763.6 2094v4M764.5 2090.2v10.1M765.4 2094.7v3.7M766.3 2094.4v4.4M767.2 2089.2v14M768.1 2093.4v5.5M769 2090.5v10.3M769.9 2092.2v6.8M770.8 2084.1v21.9M771.7 2093.1v7M772.6 2091.4v13.7M773.5 2081.2v23.3M774.4 2085.5v17.5M775.3 2083.1v21M776.2 2084.9v22.2M777.1 2079.6v25.3M778 2087.2v19.8M778.9 2089v24.7M779.8 2073.4v43.1M780.7 2077.5v30M781.6 2088.5v15.3M782.5 2087.3v27.8M783.4 2077.3v43.8M784.3 2088.5v29.3M785.2 2086.6v22M786.1 2072.7v41.6M787 2077.8v36.8M787.9 2082.6v24.2M788.8 2082.5v24.4M789.7 2085.3v30.3M790.6 2086v17.8M791.5 2081.4v23.5M792.4 2082.2v25.5M793.3 2086.3v17.2M794.2 2085.9v15.5M795.1 2087.8v14.7M796 2086.7v13.9M796.9 2091.6v11.4M797.8 2092.3v10.6M798.7 2086.9v18.5M799.6 2093.5v7.9M800.5 2091.7v8.5M801.4 2090.1v14.2M802.3 2090.6v8.9M803.2 2093.2v6.4M804.1 2093.2v5.4M805 2087.7v16.9M805.9 2093.7v4.8M806.8 2094v5.5M807.7 2090.3v13.8M808.6 2092.3v6.1M809.5 2094v4.9M810.4 2093.4v5.8M811.3 2087.5v14.9M812.2 2091v9.1M813.1 2092.6v8.7M814 2086.7v19.5M814.9 2092v6.7M815.8 2090.6v11.8M816.7 2091v11.1M817.6 2086.1v19.3M818.5 2090.1v13M819.4 2089.9v9.1M820.3 2086.4v18.2M821.2 2090.1v10M822.1 2089.7v12.3M823 2087.9v18.2M823.9 2089v10.9M824.8 2088.8v14.5M825.7 2089.8v13.1M826.6 2087.2v16.8M827.5 2089.8v10.5M828.4 2088.6v12.2M829.3 2085.9v20M830.2 2092.4v7.6M831.1 2092.9v8.6M832 2092.5v10.8M832.9 2085.3v17.1M833.8 2090.8v11.3M834.7 2089.5v9.4M835.6 2087.1v17.2M836.5 2093.3v9.4M837.4 2093.8v8.8M838.3 2093.5v5.9M839.2 2086.6v18.4M840.1 2091.8v9.1M841 2093.1v8.5M841.9 2089.5v12.5M842.8 2093.1v7.7M843.7 2092.1v9.2M844.6 2092.1v8.4M845.5 2089.9v13.4M846.4 2091.4v6.8M847.3 2091.7v9.6M848.2 2088.9v11.9M849.1 2092.8v7.3M850 2094.2v6.3M850.9 2089.8v13.5M851.8 2092.8v7.3M852.7 2094.4v6M853.6 2093.2v6.9M854.5 2091v10.5M855.4 2092.9v6.8M856.3 2093v5.5M857.2 2090.3v12.6M858.1 2093.6v5.5M859 2093.2v5.3M859.9 2094.1v4.9M860.8 2088.3v14.7M861.7 2093.6v5.7M862.6 2094.4v6.2M863.5 2090.6v12.5M864.4 2092.8v7M865.3 2094.6v2.9M866.2 2093.1v6.4M867.1 2091.4v9.4M868 2093.8v5.1M868.9 2093v4.9M869.8 2089.5v10.9M870.7 2094v4.7M871.6 2094.1v3.8M872.5 2093.7v5.9M873.4 2090.6v10.8M874.3 2093.6v5.2M875.2 2094.6v3.1M876.1 2090.9v11.5M877 2093.7v5.2M877.9 2092.8v4.6M878.8 2089.4v13.9M879.7 2094.4v3.9M880.6 2093.2v5.1M881.5 2094.8v3.3M882.4 2089.1v11.1M883.3 2093.1v5.3M884.2 2093.4v4.7M885.1 2089.8v11.1M886 2094.4v3.9M886.9 2093v4.9M887.8 2093.6v4.6M888.7 2089.2v12.8M889.6 2093.9v4.6M890.5 2093.2v5.5M891.4 2090.7v11.6M892.3 2093.9v4.7M893.2 2093.4v5M894.1 2094.9v2.6M895 2089.9v11.1M895.9 2094.4v4.6M896.8 2093.2v4.4M897.7 2092.1v10.4M898.6 2094.7v2.7M899.5 2093.2v6.1M900.4 2094.2v4.1M901.3 2091.3v13.4M902.2 2093.5v4.1M903.1 2094.5v3M904 2090.3v11.5M904.9 2093.3v5.3M905.8 2093.1v4.7M906.7 2089.4v11.4M907.6 2095v4.4M908.5 2093.6v5.9M909.4 2093.1v6M910.3 2091v10.5M911.2 2094.7v3.3M912.1 2093.3v5.9M913 2091.2v9.4M913.9 2093v6.2M914.8 2093.1v5.3M915.7 2093.7v4.4M916.6 2088.8v13.1M917.5 2093.9v4.6M918.4 2093.7v4.1M919.3 2090.5v9.8M920.2 2094v5M921.1 2094.6v4.4M922 2094v4.8M922.9 2090.3v11.9M923.8 2093.1v5.4M924.7 2092.9v5.7M925.6 2090.4v12M926.5 2093.4v4.4M927.4 2094.6v3.5M928.3 2091.9v7M929.2 2089.5v13.1M930.1 2090v11.6M931 2088.2v12.8M931.9 2082.3v22.2M932.8 2087.5v14.6M933.7 2086.7v22.3M934.6 2085.6v26.6M935.5 2088.8v17.4M936.4 2091.7v9.8M937.3 2091.4v10.6M938.2 2089.3v15.5M939.1 2094.4v6.4M940 2094.3v5.7M940.9 2090.3v12.2M941.8 2093.6v5.1M942.7 2093.9v4.7M943.6 2094.2v3.8M944.5 2090.6v9.8M945.4 2093.6v3.9M946.3 2094.4v4.6M947.2 2090.1v11.8M948.1 2094.1v4.7M949 2093.4v5.5M949.9 2093.6v4M950.8 2091.1v10.6M951.7 2094.4v3.7M952.6 2094.5v3.3M953.5 2090.2v15M954.4 2094.8v2.7M955.3 2094.2v3.6M956.2 2094v4.7M957.1 2091.4v11.4M958 2094.7v3.6M958.9 2094.6v3.8M959.8 2089.2v12.4M960.7 2094.4v3.9M961.6 2092.8v5.9M962.5 2087.5v18.4M963.4 2093v9M964.3 2089.6v9.8M965.2 2090.2v12.3M966.1 2087.4v19.3M967 2089.9v14.9M967.9 2087.1v23.4M968.8 2079.6v30.8M969.7 2081.7v23.2M970.6 2086v24.5M971.5 2084.2v28.5M972.4 2083.1v22.3M973.3 2084.5v19.1M974.2 2085.7v16.6M975.1 2080.6v34.4M976 2084.4v23.7M976.9 2085.1v24.6M977.8 2085v17.7M978.7 2080.7v24M979.6 2088.8v13.2M980.5 2091.8v9M981.4 2086.7v17.4M982.3 2089.1v10.2M983.2 2093.3v7.3M984.1 2092.3v7.8M985 2089.4v13.7M985.9 2094.6v5M986.8 2094.9v3.3M987.7 2090.4v13.8M988.6 2094.7v3.8M989.5 2094.8v3.7M990.4 2091.1v10.4M991.3 2094v3.8M992.2 2094.3v3.1M993.1 2094.8v3.7M994 2090.8v13.8M994.9 2093.7v4.6M995.8 2094.6v4.7M996.7 2090v12.3M997.6 2094.3v3.4M998.5 2094v5M999.4 2094.1v3.3M1000.3 2090.4v9.5M1001.2 2094.6v2.5M1002.1 2093.8v4.8M1003 2091v8.9M1003.9 2094.8v2.3M1004.8 2094v3.8M1005.7 2094.2v3.6M1006.6 2090.6v12.8M1007.5 2094.2v3.7M1008.4 2094.3v3.5M1009.3 2090.2v11.1M1010.2 2094.7v3.2M1011.1 2094.8v3.5M1012 2095v2.7M1012.9 2090.4v9.7M1013.8 2094.1v3.7M1014.7 2094v3.6" stroke="#ff1a10" stroke-width="1.05" fill="none"/><path d="M733 2096.2H1015.4" stroke="#ff1a10" stroke-width="1.6"/><path d="M1025 2096.2M1025 2094.6v2.2M1025.9 2094.8v2.4M1026.8 2091.4v9.5M1027.7 2095.4v2M1028.6 2094.7v2.7M1029.5 2095v2.3M1030.4 2091.8v9M1031.3 2094.9v2.9M1032.2 2094.5v2.7M1033.1 2091.9v7.4M1034 2094.6v2.8M1034.9 2095.5v1.6M1035.8 2091.3v8.2M1036.7 2095.2v2.5M1037.6 2095.4v1.8M1038.5 2094.9v1.9M1039.4 2091.8v8.6M1040.3 2094.6v2.4M1041.2 2094.9v2.8M1042.1 2092.3v8M1043 2095.2v2.2M1043.9 2094.5v3.3M1044.8 2095.2v2.2M1045.7 2092.3v7.2M1046.6 2094.5v2.5M1047.5 2095.6v2.2M1048.4 2090.7v8.6M1049.3 2095.5v1.5M1050.2 2094.5v2.7M1051.1 2095.1v2M1052 2091.8v8.8M1052.9 2094.9v3M1053.8 2094.8v2.2M1054.7 2092.7v7.7M1055.6 2095.1v2M1056.5 2095.3v2.2M1057.4 2094.9v2.8M1058.3 2092.4v7.5M1059.2 2095v2M1060.1 2094v3.3M1061 2090.8v10M1061.9 2095.1v3.3M1062.8 2094.1v4.2M1063.7 2091.2v10.2M1064.6 2094.1v4.3M1065.5 2094.8v3.5M1066.4 2094v3.5M1067.3 2089.6v12M1068.2 2093.9v5M1069.1 2092.9v6.9M1070 2089.1v13.9M1070.9 2092.1v7.9M1071.8 2091.7v8.6M1072.7 2091.6v7.1M1073.6 2089.2v14.7M1074.5 2090.9v10.8M1075.4 2090.5v12.4M1076.3 2084.6v19.2M1077.2 2088.1v11.4M1078.1 2088.4v13.5M1079 2087.8v13.7M1079.9 2082.2v24.9M1080.8 2086v19.1M1081.7 2091v15.5M1082.6 2084.8v33M1083.5 2091.1v16.1M1084.4 2082v23.5M1085.3 2088.5v13.2M1086.2 2086.4v20.7M1087.1 2085.5v23.3M1088 2081.5v29.1M1088.9 2082.5v34M1089.8 2081.1v29.3M1090.7 2084.6v26.6M1091.6 2083.5v29.7M1092.5 2084.8v27.6M1093.4 2083.3v25.7M1094.3 2080.4v26.2M1095.2 2084v33.6M1096.1 2088v19.2M1097 2086.4v17.5M1097.9 2078.1v31.5M1098.8 2087.5v21.7M1099.7 2087.7v20M1100.6 2080.6v24.7M1101.5 2080.3v33.8M1102.4 2087.6v17.6M1103.3 2090.6v14M1104.2 2084.8v20M1105.1 2090.6v14.7M1106 2087v15.5M1106.9 2088.5v11.8M1107.8 2083.8v21.4M1108.7 2092.3v10.3M1109.6 2088v12.8M1110.5 2084.6v18.2M1111.4 2091.4v8.6M1112.3 2092.4v11.6M1113.2 2092.5v6.8M1114.1 2086.7v15.9M1115 2092.4v8.4M1115.9 2092.9v7.2M1116.8 2089.1v15.7M1117.7 2093.1v5.8M1118.6 2094.2v5.9M1119.5 2089.5v11.8M1120.4 2093.4v7.9M1121.3 2091.9v8.6M1122.2 2092v7.5M1123.1 2091.1v13.4M1124 2091.4v9.3M1124.9 2094.5v4.4M1125.8 2089.1v12.8M1126.7 2091.6v8.5M1127.6 2092.1v7M1128.5 2092.4v6.9M1129.4 2089.2v12M1130.3 2093.1v6.9M1131.2 2093.7v6.4M1132.1 2090.2v11.7M1133 2094.5v4.4M1133.9 2094v3.9M1134.8 2092.8v6.4M1135.7 2090v13.3M1136.6 2091.6v6.6M1137.5 2092.2v6.3M1138.4 2089.2v16M1139.3 2094.3v4.2M1140.2 2093.1v7M1141.1 2093.7v5.8M1142 2089.8v12M1142.9 2092.6v5.9M1143.8 2093.1v4.9M1144.7 2089.9v13.9M1145.6 2093.5v6.1M1146.5 2092v5.8M1147.4 2090.4v13.2M1148.3 2092.5v8.1M1149.2 2094.4v4.8M1150.1 2094.5v4.8M1151 2088.8v12.6M1151.9 2092.3v6.8M1152.8 2092.6v7.3M1153.7 2090.5v10.9M1154.6 2092.6v7.1M1155.5 2093.2v5.3M1156.4 2092.6v5.9M1157.3 2089.7v16.1M1158.2 2093.9v5.6M1159.1 2093.7v5.4M1160 2091v11.5M1160.9 2093.3v5.8M1161.8 2093.6v4.4M1162.7 2094.7v4.7M1163.6 2091v11.5M1164.5 2093v4.7M1165.4 2093v6.4M1166.3 2089.6v12.3M1167.2 2094.1v4.7M1168.1 2093.7v5.4M1169 2092.9v6M1169.9 2090.3v10.5M1170.8 2093.7v4.4M1171.7 2094.2v3.9M1172.6 2091.3v9.7M1173.5 2093.3v5.9M1174.4 2094.3v3.9M1175.3 2090.3v12.4M1176.2 2093.3v4.3M1177.1 2094v4.9M1178 2093.8v3.7M1178.9 2089.3v10.6M1179.8 2094.3v3.4M1180.7 2094.6v3.5M1181.6 2091.2v8.3M1182.5 2094.9v3.7M1183.4 2095v3.4M1184.3 2093.9v4.4M1185.2 2092.3v8.9M1186.1 2094v3.1M1187 2094.2v3.6M1187.9 2092.1v8M1188.8 2094v4.5M1189.7 2094.8v2.9M1190.6 2094.3v2.9M1191.5 2092.6v7.8M1192.4 2094.7v3.6M1193.3 2094.9v2.2M1194.2 2091.1v8.6M1195.1 2094.7v2.4M1196 2095.4v2.7M1196.9 2094.6v2.5M1197.8 2091.1v9.8M1198.7 2094.9v2.3M1199.6 2094.6v2.9M1200.5 2091v8.7M1201.4 2094.3v3.5M1202.3 2094.3v2.9M1203.2 2091.9v8.5M1204.1 2095.5v1.6M1205 2094.8v2.2M1205.9 2094.9v2.9M1206.8 2091.5v10M1207.7 2095v2.6M1208.6 2095.3v1.8M1209.5 2092.1v8.6M1210.4 2095.2v3.2M1211.3 2094.9v3.1M1212.2 2094.9v2M1213.1 2090.8v8.5M1214 2095v2.7M1214.9 2095.2v1.7M1215.8 2091.2v8.1M1216.7 2095.5v2.4M1217.6 2094.7v2.2M1218.5 2095.3v2.3M1219.4 2091.8v7.9M1220.3 2094.5v2.5M1221.2 2094.8v2.8M1222.1 2092.7v8.2M1223 2095.3v1.6M1223.9 2094.5v2.6M1224.8 2095v2.2M1225.7 2092.1v7.8M1226.6 2094.5v2.7M1227.5 2095.3v1.9M1228.4 2092.5v8M1229.3 2094.7v2.9M1230.2 2094.5v2.3M1231.1 2091.8v8.7M1232 2094.9v2.2M1232.9 2094.9v3M1233.8 2095.6v1.4M1234.7 2091.2v9.1M1235.6 2094.7v2.4M1236.5 2095v2M1237.4 2091.7v8M1238.3 2094.9v2.6M1239.2 2095.4v2.4M1240.1 2094.8v2.1M1241 2091.4v9.2M1241.9 2095.4v2.3M1242.8 2095.6v1.3M1243.7 2092.6v6.4M1244.6 2094.6v3.2M1245.5 2095.4v2.4M1246.4 2095.2v1.8M1247.3 2092.6v8.6M1248.2 2094.6v2.4M1249.1 2094.8v2.3M1250 2091.5v9.7M1250.9 2094.8v3M1251.8 2095.1v3.1M1252.7 2094.8v2.8M1253.6 2092.4v7.4M1254.5 2095.3v2.1M1255.4 2094.5v2.6M1256.3 2090.6v9.6M1257.2 2095.3v2.5M1258.1 2095.3v2.1M1259 2091.1v9.9M1259.9 2094.6v2.4M1260.8 2094.9v2.5M1261.7 2095.2v1.9M1262.6 2092.3v8.2M1263.5 2095.4v2.5M1264.4 2095.6v2.3M1265.3 2091.8v9.2M1266.2 2095.2v2.5M1267.1 2094.7v2.3M1268 2094.5v3.1M1268.9 2091.3v8M1269.8 2094.6v2.6M1270.7 2095.2v2.7M1271.6 2091v10.5M1272.5 2095.2v2.5M1273.4 2095.2v1.7M1274.3 2095.6v2.1M1275.2 2091.5v9.2M1276.1 2095.1v2.5M1277 2095.2v2.2M1277.9 2091.8v7.7M1278.8 2095.4v1.8M1279.7 2095.6v1.7M1280.6 2095.3v1.6M1281.5 2091.9v8.5M1282.4 2095.2v1.9M1283.3 2094.7v2.9M1284.2 2092.3v7.4M1285.1 2095.3v1.6M1286 2095.2v1.9M1286.9 2092.2v7.6M1287.8 2094.7v3.2M1288.7 2095.5v1.6M1289.6 2094.6v2.7M1290.5 2091.7v10.4M1291.4 2095.1v1.8M1292.3 2095.4v1.6M1293.2 2092.1v7.4M1294.1 2094.7v4M1295 2094.6v2.3M1295.9 2095.5v2M1296.8 2092.6v7.7M1297.7 2094.5v2.3M1298.6 2095.5v2.4M1299.5 2091.9v8.3M1300.4 2095.2v2M1301.3 2095.5v1.3M1302.2 2095.4v2.2M1303.1 2092.6v8M1304 2094.9v2.5M1304.9 2094.9v2.4M1305.8 2091.4v8.7M1306.7 2094.7v2.9" stroke="#1414ff" stroke-width="1.05" fill="none"/><path d="M1025 2096.2H1307.4" stroke="#1414ff" stroke-width="1.6"/><path d="M991.9 2127.2H1020.6V2101.6" fill="none" stroke="#000" stroke-width="1.5"/><text x="1004.6" y="2147.2" font-size="20.8" text-anchor="middle">1s</text><text font-size="20.8" text-anchor="middle" transform="translate(1043 2116.7) rotate(-90)">3mV</text></g>
<g id="panelO"><text x="608.6" y="2181.9" font-size="29.3" font-weight="bold">O</text><text x="732.6" y="2211.5" font-size="21.3">NCI hChR2-EYFP</text><rect x="732.6" y="2225.7" width="282.6" height="29.6" fill="#fff" stroke="#000" stroke-width="1.8"/><rect x="1024.8" y="2225.7" width="282.8" height="29.6" fill="#fff" stroke="#000" stroke-width="1.8"/><text x="873.4" y="2247.2" font-size="21.4" text-anchor="middle">Pre</text><text x="1165.9" y="2247.2" font-size="21.4" text-anchor="middle">Music+blue light</text><text x="629.2" y="2280.3" font-size="21.2">20 mmHg</text><path d="M733 2275.3M733 2274v2.1M733.9 2269.9v9.3M734.8 2274.2v2.7M735.7 2274.3v2.1M736.6 2274.7v1.5M737.5 2271.4v9.4M738.4 2274.7v1.4M739.3 2274.6v2.2M740.2 2270.3v8.5M741.1 2273.6v2.7M742 2274.3v2.2M742.9 2274.1v2.2M743.8 2270.1v9.7M744.7 2274.6v1.5M745.6 2273.6v3M746.5 2270.6v9.1M747.4 2274.3v2.6M748.3 2274.6v1.5M749.2 2274v2.5M750.1 2269.7v11.5M751 2274.1v2.3M751.9 2274v2.6M752.8 2270.7v8M753.7 2273.7v2.8M754.6 2274.1v2.7M755.5 2271.1v8.4M756.4 2273.8v2.5M757.3 2273.6v2.6M758.2 2273.7v3.2M759.1 2270.5v8.8M760 2273.8v3.1M760.9 2274.5v2.2M761.8 2271.2v8.7M762.7 2273.9v2.3M763.6 2274.5v1.8M764.5 2273.9v2.2M765.4 2270.5v8.5M766.3 2274.1v2.6M767.2 2274v2.7M768.1 2270.5v9.8M769 2273.9v2.6M769.9 2273.7v3M770.8 2274.5v1.6M771.7 2270.6v9.8M772.6 2274.5v1.9M773.5 2273.7v3.3M774.4 2271.2v10.8M775.3 2273.5v3.6M776.2 2273.6v2.9M777.1 2274.2v2.3M778 2270.9v9M778.9 2273.2v4.9M779.8 2274.1v3.1M780.7 2268.9v12M781.6 2273.2v3.8M782.5 2273.6v3M783.4 2268.6v13.7M784.3 2271.3v7.8M785.2 2271.1v8.7M786.1 2271.8v8.7M787 2267.1v16.7M787.9 2269.1v9.8M788.8 2271.1v7.9M789.7 2265.8v19.7M790.6 2270.6v8.8M791.5 2270.7v13.4M792.4 2267.4v12.8M793.3 2266.2v20.9M794.2 2266.4v14.6M795.1 2262.9v23.8M796 2262.6v27.2M796.9 2264.9v20.3M797.8 2266.6v17.5M798.7 2266.6v21.2M799.6 2263.9v22.7M800.5 2269.4v17.3M801.4 2270.9v10.2M802.3 2263.8v22.7M803.2 2265.3v18.5M804.1 2267.9v15.6M805 2270.1v12.3M805.9 2265.4v19.1M806.8 2268.6v13.6M807.7 2268.8v12.2M808.6 2265.5v17.2M809.5 2270.1v10M810.4 2271.9v7.2M811.3 2267.6v13.8M812.2 2271.3v6.2M813.1 2272.4v4.7M814 2272.1v5.7M814.9 2269v11.7M815.8 2272.7v4.2M816.7 2274.2v2.3M817.6 2269.2v10.6M818.5 2274.2v3.1M819.4 2273.7v3.1M820.3 2274.5v2.7M821.2 2270.5v9.1M822.1 2274.5v1.9M823 2273.8v2.9M823.9 2271v8.4M824.8 2274.1v1.9M825.7 2274v2.1M826.6 2274.2v1.8M827.5 2269.5v11.3M828.4 2273.8v3M829.3 2273.8v3M830.2 2270.2v10.7M831.1 2273.9v2.2M832 2274.1v2.9M832.9 2274.6v2.3M833.8 2269.5v9.2M834.7 2273.9v2.9M835.6 2274.4v1.7M836.5 2270.8v8.5M837.4 2274.6v2.3M838.3 2273.8v2.6M839.2 2270.2v8.5M840.1 2274.3v1.9M841 2274.5v2M841.9 2273.7v2.5M842.8 2269.8v8.9M843.7 2274.6v2M844.6 2274.4v2.5M845.5 2269.4v9.7M846.4 2273.9v2.4M847.3 2274.1v1.8M848.2 2274.5v2.2M849.1 2270.7v9.6M850 2274.4v1.8M850.9 2274.3v2.4M851.8 2271v7.7M852.7 2274.6v1.7M853.6 2273.9v2.8M854.5 2273.6v2.8M855.4 2271v8.2M856.3 2274.6v1.5M857.2 2273.8v2.4M858.1 2271v8M859 2274.6v1.4M859.9 2274.3v2.5M860.8 2274.6v1.9M861.7 2270.8v10.2M862.6 2274.7v1.7M863.5 2274.1v2.7M864.4 2270.8v10.2M865.3 2273.7v2.3M866.2 2273.9v2.3M867.1 2270.8v8.9M868 2274.1v1.9M868.9 2273.8v2.6M869.8 2273.6v3.2M870.7 2270.5v8.4M871.6 2273.6v2.5M872.5 2274.2v2.2M873.4 2269.1v11.2M874.3 2274v2.1M875.2 2274.2v2.1M876.1 2274.4v1.9M877 2269.9v9M877.9 2273.7v2.8M878.8 2274.1v2.1M879.7 2271.2v8.4M880.6 2274.1v2.7M881.5 2273.8v2.4M882.4 2274.6v2M883.3 2271.1v7.9M884.2 2273.8v2.7M885.1 2274.6v1.4M886 2270.2v8.9M886.9 2274.5v1.6M887.8 2273.8v2.5M888.7 2274.4v1.9M889.6 2270.2v9.4M890.5 2274.5v2.4M891.4 2274.6v2M892.3 2270.8v8.2M893.2 2274.7v1.8M894.1 2273.7v3M895 2270v8.2M895.9 2274v2.9M896.8 2274v2.4M897.7 2273.9v2.5M898.6 2269.8v11M899.5 2274.1v2.2M900.4 2274.6v1.9M901.3 2271.2v7.4M902.2 2274.1v2.5M903.1 2274.4v2.4M904 2274.2v2.4M904.9 2270.5v9.4M905.8 2273.8v2.5M906.7 2274.4v2.1M907.6 2269.9v10.1M908.5 2274.3v2M909.4 2274.1v2.4M910.3 2273.6v2.6M911.2 2271.2v7.7M912.1 2274.3v2.1M913 2273.7v2.7M913.9 2269.4v10M914.8 2273.9v2.5M915.7 2273.8v2.2M916.6 2274.2v2.2M917.5 2270.3v9.7M918.4 2274.5v2M919.3 2274.6v1.9M920.2 2271.1v9.9M921.1 2274.6v1.6M922 2274.2v2.3M922.9 2271.4v7.3M923.8 2274.7v1.8M924.7 2273.9v2.8M925.6 2274.5v2M926.5 2271v8.4M927.4 2274.3v2.3M928.3 2273.8v3M929.2 2270.2v8.9M930.1 2273.9v2.3M931 2274.5v2.4M931.9 2274.4v2.4M932.8 2269.1v10M933.7 2273.9v3M934.6 2273.7v2.3M935.5 2271.7v9.9M936.4 2273.7v3.1M937.3 2274.1v2.3M938.2 2274.5v1.8M939.1 2270.7v8.3M940 2274.4v2.1M940.9 2274.4v2.3M941.8 2270.5v12.3M942.7 2274.1v2.6M943.6 2274.7v1.4M944.5 2274.1v2.9M945.4 2269.9v9.7M946.3 2274.5v1.6M947.2 2274.3v2.5M948.1 2270.5v9.7M949 2274v2.9M949.9 2274.4v1.9M950.8 2270.1v10.2M951.7 2274.3v2.7M952.6 2274.3v2M953.5 2274.6v2.2M954.4 2270v9.3M955.3 2274.7v1.6M956.2 2274.1v2.4M957.1 2269.5v11M958 2273.9v2.1M958.9 2274.2v2.6M959.8 2274.1v2.7M960.7 2270.5v8.6M961.6 2274v3M962.5 2273.9v2.8M963.4 2271.3v8.3M964.3 2273.6v2.7M965.2 2274.5v1.5M966.1 2273.7v2.8M967 2270.3v8.4M967.9 2273.7v2.9M968.8 2273.7v2.6M969.7 2269.6v10.2M970.6 2274.2v1.8M971.5 2273.7v3.1M972.4 2274.4v2M973.3 2270.4v9.3M974.2 2274.3v2.2M975.1 2274.5v2.1M976 2269.1v9.4M976.9 2274v3M977.8 2274.2v2.5M978.7 2270v10M979.6 2274.2v2.7M980.5 2274.2v2.7M981.4 2273.8v2.7M982.3 2270.5v9.9M983.2 2274v2.9M984.1 2274.6v2.2M985 2270v10M985.9 2274.5v2.5M986.8 2274.2v2.2M987.7 2274.4v2.5M988.6 2269.7v9.2M989.5 2273.8v2.3M990.4 2273.6v3.2M991.3 2271.1v7.7M992.2 2274.5v2.4M993.1 2273.6v3M994 2274.4v2.5M994.9 2270v10.6M995.8 2273.7v3.3M996.7 2274v1.9M997.6 2269.9v10.7M998.5 2274.2v2M999.4 2274.4v1.9M1000.3 2273.7v3M1001.2 2271.3v8.6M1002.1 2273.7v2.8M1003 2273.7v3M1003.9 2269.7v9.1M1004.8 2273.8v2.3M1005.7 2274.7v2.1M1006.6 2271.7v7M1007.5 2274v2.7M1008.4 2274.2v2.6M1009.3 2274v2M1010.2 2270.2v8.6M1011.1 2274.2v2.5M1012 2274v2.2M1012.9 2269.5v9.9M1013.8 2273.8v2.2M1014.7 2274.4v1.6" stroke="#ff1a10" stroke-width="1.05" fill="none"/><path d="M733 2275.3H1015.4" stroke="#ff1a10" stroke-width="1.6"/><path d="M1025 2275.3M1025 2271v9.2M1025.9 2274.3v2.1M1026.8 2274.7v2M1027.7 2273.7v2.9M1028.6 2270.6v9.7M1029.5 2273.7v2.4M1030.4 2273.9v2.1M1031.3 2270.1v9.8M1032.2 2273.9v2.2M1033.1 2273.9v2.6M1034 2273.8v3M1034.9 2271.4v7.8M1035.8 2274.1v2.2M1036.7 2274.2v2.4M1037.6 2271.2v6.7M1038.5 2273.7v2.5M1039.4 2274.7v1.7M1040.3 2274.3v2.5M1041.2 2271.5v7.4M1042.1 2274v2.5M1043 2273.9v2.8M1043.9 2270.5v9.4M1044.8 2274.1v2.1M1045.7 2274.4v2.3M1046.6 2273.9v2.9M1047.5 2271.1v9.3M1048.4 2274v1.9M1049.3 2274.5v2.1M1050.2 2269.7v9.2M1051.1 2274.2v3.4M1052 2274.3v1.6M1052.9 2271.3v7M1053.8 2274.3v2.5M1054.7 2274v2.1M1055.6 2274.7v1.5M1056.5 2270.2v8.9M1057.4 2274.4v2.6M1058.3 2273.7v2.7M1059.2 2270.6v8.7M1060.1 2273.9v2.7M1061 2274.6v2.1M1061.9 2274.4v2.3M1062.8 2271.3v8.7M1063.7 2274.1v2.6M1064.6 2274.6v1.6M1065.5 2270v9.5M1066.4 2273.7v3.1M1067.3 2274.2v1.7M1068.2 2273.7v3.3M1069.1 2270.1v9.5M1070 2274.4v2.1M1070.9 2273.7v2.9M1071.8 2270.8v8.6M1072.7 2274.3v1.7M1073.6 2274v2.1M1074.5 2273.9v3M1075.4 2270v9.5M1076.3 2274.1v2.7M1077.2 2273.7v2.7M1078.1 2270.8v8.8M1079 2273.9v2.1M1079.9 2274.5v1.6M1080.8 2270v8.8M1081.7 2274v2.5M1082.6 2274v3.6M1083.5 2273v4.9M1084.4 2269.4v12.2M1085.3 2272.8v5.2M1086.2 2271.3v6.9M1087.1 2268.6v12.1M1088 2272.7v7M1088.9 2272.8v4.7M1089.8 2272.5v9.4M1090.7 2267.4v17.6M1091.6 2270.5v10.6M1092.5 2267.6v13.9M1093.4 2265.2v21M1094.3 2265v21.6M1095.2 2263.4v26.7M1096.1 2267.2v19.2M1097 2265.4v25.9M1097.9 2267.4v18.2M1098.8 2265.5v21.4M1099.7 2265.9v23.2M1100.6 2264.5v19.7M1101.5 2269.1v10.7M1102.4 2267v13.2M1103.3 2264.2v21.3M1104.2 2270.2v14.9M1105.1 2272v11M1106 2267.9v14M1106.9 2268.8v12.7M1107.8 2271.3v8.1M1108.7 2266.1v16.7M1109.6 2271v8.1M1110.5 2273v5.6M1111.4 2272.2v6.5M1112.3 2270.1v10.3M1113.2 2272.7v4.5M1114.1 2273v4.8M1115 2270.9v8.3M1115.9 2274.2v2.2M1116.8 2273.6v3.7M1117.7 2273.8v2.7M1118.6 2270.6v7.9M1119.5 2274.2v2M1120.4 2273.9v2.3M1121.3 2271.3v7M1122.2 2274.3v2.1M1123.1 2274.4v3M1124 2274.1v2.7M1124.9 2270.8v9.2M1125.8 2274.4v1.7M1126.7 2274.4v1.5M1127.6 2270.7v9M1128.5 2274.7v1.8M1129.4 2274.4v2.1M1130.3 2273.9v2.5M1131.2 2271.3v8.3M1132.1 2273.7v2.4M1133 2274.4v1.6M1133.9 2271.2v8.6M1134.8 2274.1v1.9M1135.7 2273.9v2.4M1136.6 2270.2v8.8M1137.5 2273.7v2.9M1138.4 2274v2.4M1139.3 2274.2v1.7M1140.2 2271.1v11.3M1141.1 2274.2v2.2M1142 2274.3v1.7M1142.9 2270.2v8.1M1143.8 2274.6v1.4M1144.7 2273.6v3M1145.6 2274v2.4M1146.5 2270.7v8.9M1147.4 2274.1v1.9M1148.3 2274v2.1M1149.2 2271.1v8.6M1150.1 2274.4v2M1151 2274.3v2.5M1151.9 2273.8v2.5M1152.8 2270.8v7.8M1153.7 2273.8v2.7M1154.6 2273.7v3.1M1155.5 2270.8v9.3M1156.4 2274.2v2.6M1157.3 2274.1v2.2M1158.2 2274.7v1.6M1159.1 2269.9v9.7M1160 2274.2v1.8M1160.9 2274v2.6M1161.8 2269.8v9.6M1162.7 2274.6v1.8M1163.6 2274.4v2.3M1164.5 2271.4v8.4M1165.4 2274.7v2.1M1166.3 2273.9v3.1M1167.2 2274v2.3M1168.1 2270.1v8.6M1169 2273.9v2.1M1169.9 2274.1v1.9M1170.8 2269.5v10.4M1171.7 2274v2.4M1172.6 2273.6v2.5M1173.5 2274.2v1.9M1174.4 2269.9v10.4M1175.3 2273.9v2M1176.2 2274.2v2M1177.1 2270.2v10.2M1178 2274.5v2.2M1178.9 2273.7v2.7M1179.8 2274.6v2.1M1180.7 2270.3v8.4M1181.6 2274.5v2.1M1182.5 2274.1v2.5M1183.4 2270.3v8.5M1184.3 2274.6v1.9M1185.2 2273.6v3.1M1186.1 2274.5v2.2M1187 2271.1v9M1187.9 2274.6v1.3M1188.8 2273.9v2.7M1189.7 2270v9.3M1190.6 2274.5v2.1M1191.5 2274v2.9M1192.4 2270.5v9.8M1193.3 2274v2.4M1194.2 2273.8v3.2M1195.1 2274v2.4M1196 2270.9v7.3M1196.9 2274.3v2.7M1197.8 2274.7v2M1198.7 2270.4v10.8M1199.6 2274.4v1.7M1200.5 2274.7v2.3M1201.4 2273.7v2.8M1202.3 2271v7.1M1203.2 2274.6v2M1204.1 2274.5v2.1M1205 2270.9v8.6M1205.9 2274.1v1.9M1206.8 2274v2.8M1207.7 2273.7v3.2M1208.6 2271.4v7.1M1209.5 2274.5v2.2M1210.4 2273.7v2.4M1211.3 2271.7v9M1212.2 2274.2v1.9M1213.1 2274.4v1.8M1214 2274.5v2.1M1214.9 2270.5v9.6M1215.8 2274.4v1.6M1216.7 2274.3v2M1217.6 2269.8v9.7M1218.5 2274.7v1.7M1219.4 2274.2v2.3M1220.3 2271.1v8.7M1221.2 2274.3v1.7M1222.1 2273.8v2.9M1223 2274.2v2M1223.9 2270.6v8.5M1224.8 2273.6v2.3M1225.7 2273.7v3M1226.6 2271v8M1227.5 2274v2.6M1228.4 2274.6v2.2M1229.3 2273.6v3M1230.2 2269.8v8.6M1231.1 2274.1v2.8M1232 2274.6v1.3M1232.9 2271.7v7.2M1233.8 2274.4v1.8M1234.7 2273.9v2.9M1235.6 2274.4v2.5M1236.5 2271.9v10M1237.4 2273.8v2.2M1238.3 2274.6v1.6M1239.2 2271.2v8.9M1240.1 2274.6v2.3M1241 2273.7v3M1241.9 2273.9v3.8M1242.8 2270.6v8.3M1243.7 2273.8v3.1M1244.6 2274.4v2.2M1245.5 2271v7.6M1246.4 2274.2v2.1M1247.3 2273.7v3.2M1248.2 2270.6v8.8M1249.1 2274.6v2.3M1250 2274.3v2.1M1250.9 2274v2.9M1251.8 2269.9v9.4M1252.7 2274.6v2M1253.6 2273.8v3M1254.5 2270.3v9.1M1255.4 2273.9v2.8M1256.3 2273.8v3.2M1257.2 2274.5v1.6M1258.1 2270v10.4M1259 2274.6v1.3M1259.9 2274.3v2.6M1260.8 2270.4v7.8M1261.7 2274.6v2.1M1262.6 2274.6v1.8M1263.5 2274.2v2.4M1264.4 2270.9v8.9M1265.3 2274.7v1.7M1266.2 2274v3M1267.1 2271.3v6.8M1268 2274.3v2.3M1268.9 2274v2.7M1269.8 2274.3v2.2M1270.7 2271.2v7.7M1271.6 2273.8v2.5M1272.5 2274.1v2.2M1273.4 2270.2v8.3M1274.3 2274.3v2.4M1275.2 2274.7v1.7M1276.1 2270.9v9M1277 2273.6v3.4M1277.9 2274.4v2.4M1278.8 2274.3v2.6M1279.7 2271.2v9.1M1280.6 2273.8v4.1M1281.5 2273.8v2.4M1282.4 2270.8v9.4M1283.3 2274.4v1.7M1284.2 2274.1v2.3M1285.1 2274v2.2M1286 2271.2v9.1M1286.9 2274.5v2.3M1287.8 2273.6v3M1288.7 2270.2v10.3M1289.6 2273.8v2.1M1290.5 2274.3v2.6M1291.4 2274.3v2.3M1292.3 2270.8v7.6M1293.2 2273.9v2.4M1294.1 2274.3v2.6M1295 2271.6v7.7M1295.9 2274.5v1.5M1296.8 2273.8v2.2M1297.7 2273.8v2.9M1298.6 2270.4v8.3M1299.5 2273.6v3.3M1300.4 2274.2v2.3M1301.3 2271.5v8.1M1302.2 2273.8v3M1303.1 2273.8v2.2M1304 2270.9v8.6M1304.9 2274.7v1.9M1305.8 2274.6v2.2M1306.7 2274v2.1" stroke="#1414ff" stroke-width="1.05" fill="none"/><path d="M1025 2275.3H1307.4" stroke="#1414ff" stroke-width="1.6"/><text x="629.2" y="2335.9" font-size="21.2">40 mmHg</text><path d="M733 2328.2M733 2326.6v3M733.9 2326.6v3M734.8 2323.3v9.3M735.7 2327.6v1.4M736.6 2327.4v2.4M737.5 2323.3v8.9M738.4 2327v2.3M739.3 2326.8v2.2M740.2 2327v2.3M741.1 2324.2v7.8M742 2326.9v2.8M742.9 2327.5v2.2M743.8 2323v9.5M744.7 2327.2v2.7M745.6 2327v2.6M746.5 2323.1v9M747.4 2327.2v1.7M748.3 2326.6v3M749.2 2326.5v3.4M750.1 2324.1v9.6M751 2326.9v2.5M751.9 2327.6v1.7M752.8 2323.4v10.3M753.7 2326.6v3.2M754.6 2326.9v3M755.5 2327.4v2.5M756.4 2323v8.2M757.3 2326.6v3.3M758.2 2327.2v2.2M759.1 2322.4v10M760 2327.3v1.7M760.9 2327.1v2.2M761.8 2327.4v1.9M762.7 2323.1v8.9M763.6 2327.3v1.5M764.5 2327v2.7M765.4 2323.7v9.2M766.3 2327.1v1.7M767.2 2326.6v3.1M768.1 2327.4v1.7M769 2322.6v9.6M769.9 2326.7v3.2M770.8 2327.2v2.8M771.7 2321.7v14.3M772.6 2326.1v3.5M773.5 2325.9v3.5M774.4 2322.4v11.1M775.3 2325.7v5.4M776.2 2324.9v6M777.1 2325.1v4.9M778 2320.3v12.6M778.9 2326.1v5.6M779.8 2326.1v7.5M780.7 2321.3v13.1M781.6 2323.1v10.8M782.5 2323.8v11.5M783.4 2323.5v12.4M784.3 2316.2v18.4M785.2 2319.5v14.9M786.1 2322.6v12.1M787 2315.4v26.8M787.9 2323.6v10M788.8 2316v19.6M789.7 2322v16.7M790.6 2310.5v28.2M791.5 2315.3v24.2M792.4 2319.9v16.6M793.3 2317.5v22.1M794.2 2316.2v22.5M795.1 2321.7v17.9M796 2322.7v11.4M796.9 2312.4v28.3M797.8 2322.3v14.3M798.7 2321.6v12.8M799.6 2315.3v19.8M800.5 2323v11.5M801.4 2324.2v11.5M802.3 2319.2v18.5M803.2 2322.3v12.7M804.1 2325.9v6M805 2323.4v7.4M805.9 2322.1v12M806.8 2325.7v5M807.7 2324.7v5.8M808.6 2321.3v11.8M809.5 2326.4v3.6M810.4 2325.7v4.4M811.3 2325.9v3.8M812.2 2323.7v9.9M813.1 2327.1v3M814 2326.8v2.4M814.9 2323.5v10.1M815.8 2327.4v2.3M816.7 2326.4v3.6M817.6 2327.4v1.9M818.5 2323.3v10.4M819.4 2326.5v2.7M820.3 2327.6v2.3M821.2 2324.5v7.7M822.1 2326.7v3M823 2327.2v2M823.9 2327.2v2.7M824.8 2322.9v9.6M825.7 2327.4v2M826.6 2326.5v3.3M827.5 2323v8M828.4 2327v3.5M829.3 2326.6v2.6M830.2 2322.2v9.4M831.1 2327.4v2M832 2327.1v2.8M832.9 2327.4v1.8M833.8 2323.4v9.7M834.7 2327.1v2.1M835.6 2327.1v2.2M836.5 2323.3v8.3M837.4 2327.2v2.3M838.3 2327.5v1.9M839.2 2327.3v2.3M840.1 2323.3v9.7M841 2326.7v2.8M841.9 2326.9v2.8M842.8 2323.7v8.2M843.7 2327.5v1.4M844.6 2326.5v2.7M845.5 2327.4v1.8M846.4 2322.5v10.5M847.3 2327.6v1.8M848.2 2327.4v2.4M849.1 2324.4v7.3M850 2326.9v2.3M850.9 2327.1v2.4M851.8 2327.5v1.4M852.7 2323v9M853.6 2327.1v2.2M854.5 2326.8v2.7M855.4 2324v7.2M856.3 2327.1v2.5M857.2 2327.1v2.3M858.1 2323.1v10M859 2327.4v2.3M859.9 2326.5v3.1M860.8 2326.9v2.8M861.7 2322.2v12.4M862.6 2327.3v1.9M863.5 2327.4v2.3M864.4 2322.6v10.5M865.3 2327.3v2.2M866.2 2327v2.1M867.1 2326.6v2.8M868 2324.1v7.8M868.9 2327.6v2M869.8 2326.6v2.5M870.7 2324v9.3M871.6 2327.2v1.8M872.5 2327v2.8M873.4 2326.9v2.3M874.3 2323.2v9.9M875.2 2327.3v2.7M876.1 2326.9v3M877 2323.5v13.6M877.9 2326.1v4.2M878.8 2325.9v4.5M879.7 2326v5.3M880.6 2321.1v14.7M881.5 2325.5v5.9M882.4 2326.4v4.7M883.3 2321.3v14M884.2 2325.8v5.6M885.1 2323.4v10M886 2322.4v13.2M886.9 2324v8.8M887.8 2323.2v10.8M888.7 2324.6v9.5M889.6 2320.1v16.2M890.5 2325.1v10M891.4 2324v9.5M892.3 2322v13.2M893.2 2323.5v9.3M894.1 2326.2v4.7M895 2325v5.4M895.9 2321.4v12.3M896.8 2325v4.6M897.7 2325.9v3.8M898.6 2322.4v11.4M899.5 2326.6v3.4M900.4 2326v3M901.3 2326.4v3.1M902.2 2323.1v10.1M903.1 2326.5v3.5M904 2327.1v2.8M904.9 2323.5v8.6M905.8 2327.4v1.8M906.7 2326.6v2.3M907.6 2326.5v3.1M908.5 2323.2v10.3M909.4 2327.6v2.1M910.3 2327.2v1.9M911.2 2323.8v8.7M912.1 2327.2v1.6M913 2327.4v2.4M913.9 2323.9v9.3M914.8 2327.2v2.1M915.7 2327v2.5M916.6 2326.8v2.4M917.5 2322.8v8.6M918.4 2327v2.8M919.3 2327.2v2.6M920.2 2322v9.3M921.1 2326.6v2.3M922 2327v1.8M922.9 2327.4v1.9M923.8 2322.5v10.3M924.7 2327.5v2.3M925.6 2326.7v2.1M926.5 2322.4v10.8M927.4 2327.5v1.8M928.3 2326.7v3.1M929.2 2327.3v1.8M930.1 2323.6v7.5M931 2326.7v3.1M931.9 2326.6v2.9M932.8 2323.4v8.6M933.7 2327.3v1.7M934.6 2327.3v2.4M935.5 2327.3v2.4M936.4 2322.9v9.3M937.3 2327.3v2M938.2 2326.4v2.8M939.1 2323.5v9.2M940 2326.6v4M940.9 2326.9v2.2M941.8 2322.2v10.4M942.7 2325.9v4.4M943.6 2325.1v6.2M944.5 2325.3v6.4M945.4 2322v12.4M946.3 2325.4v6.9M947.2 2323.9v9M948.1 2319.8v15.9M949 2324.1v8M949.9 2322.7v9.6M950.8 2324.8v6.1M951.7 2319.2v18.2M952.6 2321.2v12M953.5 2324.8v9.5M954.4 2318.3v15.7M955.3 2324.7v9.7M956.2 2321.6v11.7M957.1 2323.2v11M958 2321.5v13M958.9 2325.5v5.7M959.8 2326.2v4.8M960.7 2320.6v13.6M961.6 2324.9v4.7M962.5 2326.6v4.5M963.4 2326.9v2.5M964.3 2323.5v10.4M965.2 2327.2v2.6M966.1 2326.5v2.8M967 2323.2v8.6M967.9 2327.4v1.8M968.8 2327.2v2.3M969.7 2322.4v10M970.6 2326.6v2.4M971.5 2327.5v2.1M972.4 2327.3v1.6M973.3 2322.6v9.6M974.2 2326.7v2.8M975.1 2327.1v2.6M976 2324.1v9.1M976.9 2326.8v2.2M977.8 2327.4v1.9M978.7 2326.6v2.8M979.6 2323.1v10M980.5 2327.5v1.8M981.4 2326.7v2.7M982.3 2322.2v10.3M983.2 2327.3v2.3M984.1 2326.9v2.3M985 2327v2.4M985.9 2323.1v9.2M986.8 2327.1v2.4M987.7 2327.6v2.2M988.6 2323.6v9.4M989.5 2327.2v2M990.4 2327.1v2.4M991.3 2327.2v1.9M992.2 2323.1v10.1M993.1 2327v2.7M994 2327.2v1.7M994.9 2323.4v8.2M995.8 2327v1.8M996.7 2327.1v2.1M997.6 2322.4v9.7M998.5 2326.9v2.6M999.4 2327v2.7M1000.3 2327.6v1.5M1001.2 2322.7v10.2M1002.1 2326.6v2.9M1003 2326.6v3.2M1003.9 2322.5v10.6M1004.8 2326.7v2.7M1005.7 2327.1v2M1006.6 2326.6v3.2M1007.5 2322.8v8.8M1008.4 2326.8v2.1M1009.3 2327.5v1.8M1010.2 2323.6v8.4M1011.1 2326.9v2.4M1012 2326.6v2.9M1012.9 2327.2v2.6M1013.8 2323.8v9.1M1014.7 2327v2.2" stroke="#ff1a10" stroke-width="1.05" fill="none"/><path d="M733 2328.2H1015.4" stroke="#ff1a10" stroke-width="1.6"/><path d="M1025 2328.2M1025 2327.1v1.8M1025.9 2327v2.8M1026.8 2327.1v2.5M1027.7 2323.8v7.5M1028.6 2326.7v2.4M1029.5 2326.9v2.9M1030.4 2323.5v8.4M1031.3 2326.9v2.5M1032.2 2327.5v1.5M1033.1 2326.9v2.7M1034 2324.4v7.9M1034.9 2327.5v2.2M1035.8 2327.3v1.9M1036.7 2323.2v9.2M1037.6 2326.9v2.8M1038.5 2327v2.9M1039.4 2327.1v2.8M1040.3 2323.8v7.7M1041.2 2327.5v1.9M1042.1 2327v2.7M1043 2323.6v8.7M1043.9 2327v2M1044.8 2326.8v2.3M1045.7 2327v2.8M1046.6 2323.6v8.2M1047.5 2326.7v2.2M1048.4 2326.7v2.1M1049.3 2323.4v8.1M1050.2 2326.7v3.9M1051.1 2326.7v2.8M1052 2323.6v9.6M1052.9 2327.3v1.9M1053.8 2327.5v1.9M1054.7 2327v2.6M1055.6 2324.5v7.2M1056.5 2327.3v2.2M1057.4 2327v2M1058.3 2322.8v9.9M1059.2 2326.5v2.8M1060.1 2326.7v2.8M1061 2326.8v2.9M1061.9 2323.3v8.4M1062.8 2326.1v3.7M1063.7 2326.1v4.9M1064.6 2323.4v10.9M1065.5 2326.5v3.2M1066.4 2325.1v6.3M1067.3 2325v6.6M1068.2 2320.5v13.5M1069.1 2325.1v5.6M1070 2323.1v9M1070.9 2320.4v14.5M1071.8 2323.9v11.6M1072.7 2321.7v14.2M1073.6 2324.7v9.6M1074.5 2320.3v21.8M1075.4 2318.5v20.7M1076.3 2318.8v18.4M1077.2 2314.3v21.4M1078.1 2316v17.7M1079 2315.5v19M1079.9 2315.2v23.8M1080.8 2318.6v15.4M1081.7 2319.5v16.8M1082.6 2320.2v15M1083.5 2313.7v25.7M1084.4 2318.6v22.2M1085.3 2319.5v17M1086.2 2312.1v24.4M1087.1 2316.9v22.9M1088 2318.6v19.9M1088.9 2320.3v16.8M1089.8 2316.9v19.1M1090.7 2324.3v10.6M1091.6 2325.2v7M1092.5 2321.8v12.9M1093.4 2322.4v8.3M1094.3 2325.2v6.3M1095.2 2325v5.9M1096.1 2320.7v13.2M1097 2325.6v4.9M1097.9 2325.2v5M1098.8 2323.9v8.7M1099.7 2326.3v4.5M1100.6 2327v2.3M1101.5 2326.6v2.5M1102.4 2324v7.4M1103.3 2326.5v3M1104.2 2326.5v2.7M1105.1 2324.5v7.6M1106 2326.5v3.2M1106.9 2327.5v2M1107.8 2322.8v10.1M1108.7 2327.6v1.4M1109.6 2327.5v1.5M1110.5 2326.5v2.9M1111.4 2322.9v9.1M1112.3 2327.2v2.4M1113.2 2326.6v2.4M1114.1 2323.9v8.9M1115 2327.1v2.3M1115.9 2327.5v1.8M1116.8 2327v2.9M1117.7 2324v7.8M1118.6 2327.1v2.6M1119.5 2327.2v2.1M1120.4 2324.6v7.2M1121.3 2327.2v2.3M1122.2 2326.9v2.8M1123.1 2327.6v1.5M1124 2323.8v8.7M1124.9 2327.2v3.4M1125.8 2326.6v2.2M1126.7 2323.9v9.3M1127.6 2327.5v2M1128.5 2326.7v2.8M1129.4 2327.2v1.9M1130.3 2323.4v10.3M1131.2 2326.8v2.4M1132.1 2327.5v2.1M1133 2323.9v8M1133.9 2326.8v2.7M1134.8 2326.9v2.7M1135.7 2323.6v9.5M1136.6 2327.5v2.1M1137.5 2326.8v2.9M1138.4 2326.6v2.6M1139.3 2324.2v7.8M1140.2 2327.2v2.2M1141.1 2327.2v2M1142 2323.9v8.7M1142.9 2327.6v1.5M1143.8 2326.9v2M1144.7 2327.5v1.6M1145.6 2323.9v9.6M1146.5 2327.2v2.2M1147.4 2327.1v2.6M1148.3 2322.9v9.6M1149.2 2327.3v2.1M1150.1 2327.3v2.4M1151 2326.7v2.4M1151.9 2323.7v7.4M1152.8 2327.4v1.9M1153.7 2327v2.1M1154.6 2322.9v9.2M1155.5 2326.6v2.5M1156.4 2327.4v2.1M1157.3 2327v2.4M1158.2 2323.3v8.7M1159.1 2327.1v2.1M1160 2327v2.1M1160.9 2323.9v7.7M1161.8 2327.5v1.5M1162.7 2327.5v1.7M1163.6 2323v9.7M1164.5 2327.5v2.2M1165.4 2327.3v2.3M1166.3 2327.4v1.5M1167.2 2324.8v8.2M1168.1 2327.3v1.9M1169 2327v2.5M1169.9 2323.8v8.8M1170.8 2326.8v2M1171.7 2326.9v3.2M1172.6 2326.9v2.9M1173.5 2324.5v8.6M1174.4 2326.2v3.4M1175.3 2326.1v4M1176.2 2323.3v9.5M1177.1 2326.8v2.6M1178 2325.1v4.9M1178.9 2325.8v4.6M1179.8 2322.1v10.7M1180.7 2324.7v6.1M1181.6 2325.9v6.9M1182.5 2320.9v15.6M1183.4 2323.4v10.2M1184.3 2325.5v5.7M1185.2 2321.2v10.7M1186.1 2321v17.6M1187 2321.6v13M1187.9 2321.6v11.2M1188.8 2320.8v17.1M1189.7 2323.1v8.9M1190.6 2321.9v13.4M1191.5 2321.4v16.3M1192.4 2324v8.2M1193.3 2322.8v12.2M1194.2 2323v8.6M1195.1 2321v15M1196 2323.5v8.7M1196.9 2323.8v8.9M1197.8 2320.1v16.4M1198.7 2325.1v5.2M1199.6 2326.7v3.9M1200.5 2325.7v3.5M1201.4 2324.2v9.1M1202.3 2326.3v4.2M1203.2 2326.8v2.9M1204.1 2323.3v8.2M1205 2326.6v2.3M1205.9 2326.6v2.7M1206.8 2326.5v2.4M1207.7 2323.3v9.7M1208.6 2326.5v2.4M1209.5 2327.1v2.2M1210.4 2324.1v8.7M1211.3 2326.5v2.7M1212.2 2327.6v2.4M1213.1 2326.7v2.5M1214 2323.5v8.6M1214.9 2327.2v1.8M1215.8 2327.3v2.6M1216.7 2323.6v9.2M1217.6 2327.5v2.3M1218.5 2326.7v2.8M1219.4 2323.3v9.4M1220.3 2327.5v2.1M1221.2 2326.6v3M1222.1 2327.3v1.6M1223 2323.4v9M1223.9 2327.1v1.7M1224.8 2326.8v2.6M1225.7 2322.7v9.3M1226.6 2326.7v2.6M1227.5 2326.8v2.7M1228.4 2326.7v3.1M1229.3 2324.5v8.2M1230.2 2326.9v2.2M1231.1 2326.8v2.6M1232 2322.6v8.3M1232.9 2327.1v2.2M1233.8 2327v2.2M1234.7 2326.9v2.9M1235.6 2323.2v8M1236.5 2326.8v3.1M1237.4 2327.4v1.5M1238.3 2323.3v8.4M1239.2 2327.4v1.9M1240.1 2326.7v2.2M1241 2326.7v2.8M1241.9 2323.9v8.5M1242.8 2327.5v1.8M1243.7 2327.4v1.9M1244.6 2324.3v7.4M1245.5 2326.9v2.3M1246.4 2327.2v1.6M1247.3 2323.5v7.5M1248.2 2327.1v2.6M1249.1 2327.2v2.4M1250 2326.7v2.4M1250.9 2322.9v8.8M1251.8 2326.5v3.9M1252.7 2327.5v1.9M1253.6 2323.7v8.8M1254.5 2326.7v2.8M1255.4 2326.8v2.6M1256.3 2327.4v1.5M1257.2 2323.7v8.6M1258.1 2326.6v2.4M1259 2327.5v1.3M1259.9 2323.9v8.4M1260.8 2327.2v2.4M1261.7 2327.3v1.9M1262.6 2326.7v2.6M1263.5 2324.1v9.2M1264.4 2327.3v1.7M1265.3 2327.3v1.9M1266.2 2324.3v7.9M1267.1 2327.1v2.6M1268 2327.3v1.5M1268.9 2327.2v2.6M1269.8 2323.9v8.2M1270.7 2327.1v2.8M1271.6 2326.9v2.2M1272.5 2323.9v7.4M1273.4 2327v2.4M1274.3 2327.1v2.6M1275.2 2323.4v9.8M1276.1 2327.1v1.8M1277 2326.9v2.8M1277.9 2326.7v3M1278.8 2323.4v7.7M1279.7 2326.8v2.8M1280.6 2327.4v1.8M1281.5 2323.6v9.2M1282.4 2327.3v1.8M1283.3 2327v2M1284.2 2327.6v1.9M1285.1 2323.2v8.5M1286 2326.8v2.4M1286.9 2326.6v3.6M1287.8 2323.3v9.5M1288.7 2326.7v3M1289.6 2326.7v2.2M1290.5 2326.6v2.8M1291.4 2324v9.3M1292.3 2326.9v2.3M1293.2 2326.9v2.5M1294.1 2324.3v8.4M1295 2327.5v1.5M1295.9 2326.8v2.5M1296.8 2327.5v2.1M1297.7 2324.4v8.2M1298.6 2327.3v1.5M1299.5 2326.8v2.9M1300.4 2324v9.5M1301.3 2327.3v2.2M1302.2 2326.6v3.2M1303.1 2323.4v9.4M1304 2326.6v2.9M1304.9 2326.7v2.5M1305.8 2326.7v2.7M1306.7 2322.7v10.4" stroke="#1414ff" stroke-width="1.05" fill="none"/><path d="M1025 2328.2H1307.4" stroke="#1414ff" stroke-width="1.6"/><text x="629.2" y="2392" font-size="21.2">60 mmHg</text><path d="M733 2387M733 2385.7v2.8M733.9 2385.6v2.1M734.8 2386.3v1.5M735.7 2382.6v9.7M736.6 2385.5v2.5M737.5 2386v2.3M738.4 2381.1v9.5M739.3 2385.7v2.4M740.2 2386.4v2.3M741.1 2386.2v2.4M742 2382.6v9.1M742.9 2385.9v2.6M743.8 2385.8v2.3M744.7 2381.7v9.5M745.6 2386.1v1.7M746.5 2385.7v2.6M747.4 2385.8v1.9M748.3 2382.6v9.3M749.2 2385.3v3.1M750.1 2385.6v2.3M751 2382.1v8.3M751.9 2385.7v2.2M752.8 2386.1v1.8M753.7 2382v9.9M754.6 2385.6v2.2M755.5 2385.5v2.1M756.4 2386.2v1.9M757.3 2382.2v9.9M758.2 2385.9v1.8M759.1 2385.8v1.9M760 2382.1v9.4M760.9 2386.1v1.7M761.8 2386.2v2.6M762.7 2385.8v2M763.6 2382v12.2M764.5 2385.3v2.8M765.4 2385.6v2.7M766.3 2381.4v9.5M767.2 2385.6v2.7M768.1 2385.1v4.2M769 2385v3.7M769.9 2380.9v10.7M770.8 2384.1v4.3M771.7 2384.3v4.8M772.6 2381.4v10.1M773.5 2384.3v5.4M774.4 2382.2v7.4M775.3 2384.5v5.3M776.2 2378.1v15.1M777.1 2382.1v9.6M778 2382.4v8.9M778.9 2377.8v17.1M779.8 2381v13.3M780.7 2382.4v8.6M781.6 2379.3v17.5M782.5 2381.9v13.3M783.4 2379.5v11.2M784.3 2378.4v15.2M785.2 2374.3v33.1M786.1 2379.3v17.6M787 2380.7v11.1M787.9 2375.8v24.4M788.8 2378.7v19.4M789.7 2381.8v10.3M790.6 2377.1v16.8M791.5 2377.3v22.5M792.4 2382.6v13.6M793.3 2381.2v12.2M794.2 2378.8v18.6M795.1 2381.1v15.8M796 2378.2v14.5M796.9 2381.2v14.1M797.8 2379.4v16.1M798.7 2382.1v10.1M799.6 2381.2v12.3M800.5 2380.3v12.8M801.4 2380.6v12.3M802.3 2381.7v10.2M803.2 2382.8v7.4M804.1 2378.5v13.9M805 2385.2v6.2M805.9 2385.1v3.9M806.8 2380.8v12.5M807.7 2385v3.7M808.6 2385v4.3M809.5 2382.7v10.2M810.4 2385.2v4M811.3 2385.6v2.7M812.2 2385.5v3M813.1 2381.1v9.2M814 2385.8v2.5M814.9 2384.9v4.4M815.8 2381.8v10.2M816.7 2385.8v2.1M817.6 2385.5v2.4M818.5 2386v2M819.4 2381v10.9M820.3 2386.3v2.1M821.2 2385.9v2.6M822.1 2381.8v8M823 2386v1.7M823.9 2386.3v2M824.8 2386.2v1.7M825.7 2381.9v9.8M826.6 2385.4v2.6M827.5 2386.4v1.5M828.4 2381.4v10.3M829.3 2385.5v2.4M830.2 2386.1v2.6M831.1 2385.7v2.6M832 2382.4v8.8M832.9 2386v2.7M833.8 2385.3v2.6M834.7 2383v8.8M835.6 2385.4v2.9M836.5 2385.5v2.8M837.4 2380.8v10.2M838.3 2385.6v3.6M839.2 2384.7v4.9M840.1 2384.7v5.3M841 2380.3v12.6M841.9 2385.6v3.7M842.8 2383.2v6.5M843.7 2381.2v10.9M844.6 2384.2v5.4M845.5 2381.5v8.9M846.4 2383.9v5.7M847.3 2379.2v14.5M848.2 2380.1v12.5M849.1 2381.2v11.8M850 2375v20.8M850.9 2383.1v7.1M851.8 2381.6v9.2M852.7 2378.3v13.6M853.6 2377.7v16.8M854.5 2380.1v15.8M855.4 2383.2v12.2M856.3 2377.7v17.4M857.2 2379.9v13.3M858.1 2382.5v11.2M859 2379.9v11.1M859.9 2380.2v13.1M860.8 2384v6M861.7 2384.1v7.7M862.6 2378.8v15.1M863.5 2384.7v5.9M864.4 2382.7v7.3M865.3 2380.5v15.3M866.2 2384v6.7M867.1 2385.1v4M868 2385v3.8M868.9 2379.9v15.9M869.8 2385.7v3.8M870.7 2384.6v4.8M871.6 2382.5v9.1M872.5 2386v2.1M873.4 2385.2v3.2M874.3 2386.1v2.4M875.2 2382.1v9.3M876.1 2385.1v3.1M877 2386.3v1.4M877.9 2381.2v10.2M878.8 2385.3v3.3M879.7 2385.6v2.3M880.6 2385.3v3.3M881.5 2382.4v9.6M882.4 2385.8v2M883.3 2385.3v3.1M884.2 2382.2v9.8M885.1 2385.7v2.8M886 2386.3v2.1M886.9 2385.8v2.5M887.8 2382.1v9.4M888.7 2386.2v2.2M889.6 2385.6v2.7M890.5 2381.5v10.9M891.4 2385.4v3.1M892.3 2385.6v2.4M893.2 2381.1v10.7M894.1 2385.5v2.5M895 2385.8v2.8M895.9 2385.3v2.6M896.8 2383v8.6M897.7 2385.5v2.7M898.6 2385.9v2.5M899.5 2382.9v7.6M900.4 2385.8v2.5M901.3 2385.7v2.8M902.2 2385.9v1.9M903.1 2381.4v10.6M904 2385.9v2.4M904.9 2385.8v2.9M905.8 2381.7v8.4M906.7 2386.4v2M907.6 2385.8v2.1M908.5 2385.5v3M909.4 2382.4v9.5M910.3 2386.1v1.8M911.2 2386.3v1.8M912.1 2381.7v10.6M913 2386.1v2.3M913.9 2386v1.9M914.8 2385.3v3.2M915.7 2382.6v8.2M916.6 2386v2.5M917.5 2386v1.8M918.4 2382.5v9.9M919.3 2385.8v2.9M920.2 2386v2.2M921.1 2382.2v9.1M922 2385.5v2.3M922.9 2385.8v2.7M923.8 2385.9v2.2M924.7 2381.3v9.2M925.6 2385.9v2M926.5 2385.6v2.9M927.4 2381.1v9.8M928.3 2385.7v3M929.2 2386.2v1.5M930.1 2385.5v2.7M931 2383.2v8.9M931.9 2386.2v1.8M932.8 2385.3v3.7M933.7 2382.5v10.4M934.6 2385.4v2.4M935.5 2385.7v2.5M936.4 2384.8v4.5M937.3 2383v9.4M938.2 2384.9v4.4M939.1 2385.3v3.2M940 2380.9v11.4M940.9 2384.4v5.2M941.8 2385.6v3.2M942.7 2383.6v5.2M943.6 2378.2v20.2M944.5 2382v8.5M945.4 2383.3v8.4M946.3 2377.2v16.8M947.2 2383.2v8.1M948.1 2383.3v7.2M949 2378v18.4M949.9 2380.2v14.8M950.8 2378.6v12.3M951.7 2382.2v9.6M952.6 2377v23.6M953.5 2381.7v10.4M954.4 2378.7v12.3M955.3 2376.3v18.4M956.2 2379.6v14.4M957.1 2377.8v18M958 2381.3v16.3M958.9 2374.5v21.6M959.8 2377v18.7M960.7 2380.2v11.2M961.6 2376v24.4M962.5 2376.8v18.7M963.4 2380v14.5M964.3 2378.1v13.9M965.2 2375.2v21.6M966.1 2377.9v16.6M967 2378.4v15M967.9 2376.6v18.1M968.8 2381.8v8.1M969.7 2381.6v12.2M970.6 2383.9v6.7M971.5 2379.1v14.5M972.4 2383.6v6.8M973.3 2383.7v5.5M974.2 2380.3v12.4M975.1 2384.2v6.9M976 2384v6.2M976.9 2379.3v11.3M977.8 2385.8v3.1M978.7 2385.9v3.3M979.6 2386v3.2M980.5 2380.8v11.9M981.4 2386.1v2.9M982.3 2384.9v3M983.2 2383v8.5M984.1 2385.1v2.7M985 2385.9v2.6M985.9 2385.4v2.5M986.8 2382.8v8.7M987.7 2386v2.5M988.6 2385.4v3.1M989.5 2382.1v10M990.4 2386.2v1.7M991.3 2385.6v3.1M992.2 2385.9v2M993.1 2382.9v8M994 2386.2v2.3M994.9 2385.5v3.1M995.8 2382.4v10M996.7 2386.2v1.7M997.6 2385.7v2.5M998.5 2385.8v1.8M999.4 2381.8v8.9M1000.3 2385.3v2.6M1001.2 2386.4v1.4M1002.1 2382.4v8.8M1003 2385.6v2.3M1003.9 2385.7v2.5M1004.8 2381.4v10.5M1005.7 2385.4v3.2M1006.6 2386.4v1.7M1007.5 2385.6v2.3M1008.4 2383.1v8.3M1009.3 2385.4v2.5M1010.2 2385.3v2.7M1011.1 2381.8v9M1012 2385.5v2.7M1012.9 2386.1v1.8M1013.8 2385.4v2.9M1014.7 2382v9.5" stroke="#ff1a10" stroke-width="1.05" fill="none"/><path d="M733 2387H1015.4" stroke="#ff1a10" stroke-width="1.6"/><path d="M1025 2387M1025 2382.3v8M1025.9 2386.2v1.6M1026.8 2386.3v2M1027.7 2383.1v8.5M1028.6 2385.7v2.6M1029.5 2386.2v2.1M1030.4 2386v2.5M1031.3 2382.7v8.3M1032.2 2386.1v1.8M1033.1 2385.4v2.8M1034 2381.3v9.1M1034.9 2385.9v2M1035.8 2386.2v1.5M1036.7 2382.6v8.9M1037.6 2385.7v1.9M1038.5 2385.9v1.7M1039.4 2385.8v2.4M1040.3 2382.8v8.5M1041.2 2385.7v2.7M1042.1 2385.7v2.7M1043 2381.8v9.3M1043.9 2385.4v3.1M1044.8 2386.2v1.8M1045.7 2386v1.6M1046.6 2381.8v9.4M1047.5 2385.9v2.4M1048.4 2385.4v3.2M1049.3 2382.5v10.4M1050.2 2385.5v2.9M1051.1 2385v4.1M1052 2384.8v3.7M1052.9 2382.5v9.2M1053.8 2386v2.3M1054.7 2384.7v3.2M1055.6 2380v11.5M1056.5 2384.2v5M1057.4 2384.4v5.5M1058.3 2385v3.4M1059.2 2381.2v12M1060.1 2385.3v4.5M1061 2383.8v5.3M1061.9 2380.7v11.6M1062.8 2384.6v6.4M1063.7 2381.9v9.8M1064.6 2379.6v15M1065.5 2381.9v9.7M1066.4 2382v10.6M1067.3 2383.9v6.1M1068.2 2381.5v16.7M1069.1 2379.6v15.3M1070 2378.7v13.9M1070.9 2379.3v15.2M1071.8 2379.6v15.1M1072.7 2377.7v16.2M1073.6 2376.1v20.3M1074.5 2379.6v15.2M1075.4 2376.7v19.2M1076.3 2376.5v18.4M1077.2 2375.5v19.6M1078.1 2379.4v17.9M1079 2379.6v18.8M1079.9 2379.4v17.6M1080.8 2377v23.4M1081.7 2380.2v18M1082.6 2375.7v23.1M1083.5 2378.5v21.6M1084.4 2379.9v15.2M1085.3 2380.3v17.5M1086.2 2376v22.3M1087.1 2373.2v24.2M1088 2377.1v18.4M1088.9 2379v12.4M1089.8 2374v23.6M1090.7 2380.7v11.3M1091.6 2383v10.1M1092.5 2380.4v16.4M1093.4 2383.3v7.3M1094.3 2379v12.5M1095.2 2380.7v10.6M1096.1 2377.7v17.7M1097 2383.5v9.4M1097.9 2384.6v4.8M1098.8 2380.1v13.5M1099.7 2381.8v9.8M1100.6 2384.9v5.6M1101.5 2382.5v7.8M1102.4 2380.6v11.6M1103.3 2384v5.9M1104.2 2384.3v5.1M1105.1 2381v11.1M1106 2385.8v2.6M1106.9 2384.7v4.2M1107.8 2385.1v3.2M1108.7 2381.8v9.5M1109.6 2385.6v2.2M1110.5 2385.5v3.2M1111.4 2382.1v13M1112.3 2385.3v3.6M1113.2 2385.3v2.5M1114.1 2386.2v2.1M1115 2382.6v9M1115.9 2385.2v2.7M1116.8 2385.6v3M1117.7 2382.7v9.4M1118.6 2386.3v1.6M1119.5 2385.9v2.6M1120.4 2382.3v8.8M1121.3 2386.1v2.3M1122.2 2385.6v2.4M1123.1 2385.9v1.8M1124 2381.3v9.9M1124.9 2385.9v2.8M1125.8 2386.1v2M1126.7 2381.2v9.9M1127.6 2386v2.3M1128.5 2386v2.5M1129.4 2386.3v2.3M1130.3 2383v7.4M1131.2 2386.2v2M1132.1 2386.3v1.3M1133 2382.6v8.6M1133.9 2386.1v2.1M1134.8 2385.6v2.7M1135.7 2386.3v2.1M1136.6 2381.6v8.9M1137.5 2386.4v1.5M1138.4 2385.7v2.5M1139.3 2381.9v8.7M1140.2 2386v2.4M1141.1 2385.5v2.7M1142 2385.3v3.2M1142.9 2382.1v9.1M1143.8 2385.7v3.8M1144.7 2385.8v1.9M1145.6 2383v8.2M1146.5 2385.9v1.8M1147.4 2385.7v2.9M1148.3 2382.9v8M1149.2 2385.7v2.7M1150.1 2385.9v1.8M1151 2385.6v2.2M1151.9 2382.2v8.9M1152.8 2385.3v2.8M1153.7 2385.5v2.1M1154.6 2381.4v9.9M1155.5 2385.6v2.5M1156.4 2386.2v1.6M1157.3 2386.2v2.2M1158.2 2382.1v8.2M1159.1 2385.6v2.9M1160 2386.1v2.4M1160.9 2381.8v9.4M1161.8 2385.8v2.6M1162.7 2385.6v2.6M1163.6 2385.5v2.8M1164.5 2382.4v8.8M1165.4 2386.4v1.3M1166.3 2386v2.3M1167.2 2383v8.4M1168.1 2386.4v1.7M1169 2386.1v2.5M1169.9 2385.3v3.2M1170.8 2383.1v7.3M1171.7 2386.3v1.9M1172.6 2385.5v3.2M1173.5 2382.5v8.4M1174.4 2386.2v2.4M1175.3 2385.4v3.1M1176.2 2381.7v9M1177.1 2385.5v2.8M1178 2385.9v2.2M1178.9 2385.6v2.5M1179.8 2382v9.1M1180.7 2385.3v2.9M1181.6 2386.2v2.4M1182.5 2381.5v9.2M1183.4 2385.3v3M1184.3 2385.1v3.9M1185.2 2385.8v2.7M1186.1 2382.7v8.8M1187 2385.7v4.7M1187.9 2385.1v5.1M1188.8 2380.7v13.4M1189.7 2384v6M1190.6 2382.5v7.2M1191.5 2384.8v7.9M1192.4 2378.7v17.2M1193.3 2383.3v7.3M1194.2 2380.3v13.5M1195.1 2380.6v15.9M1196 2379.3v12.4M1196.9 2379v13M1197.8 2379.9v14.7M1198.7 2375.3v21.8M1199.6 2381.7v9.1M1200.5 2379.7v13.9M1201.4 2378.1v19M1202.3 2380.2v11.8M1203.2 2380.3v13.2M1204.1 2379.3v17.5M1205 2379.3v13.1M1205.9 2383.3v7.5M1206.8 2383v9.3M1207.7 2377.7v15M1208.6 2384.1v5.7M1209.5 2381.9v7M1210.4 2381.7v11.1M1211.3 2382.7v8M1212.2 2384.5v5.1M1213.1 2384.6v3.8M1214 2380.3v10.4M1214.9 2385.4v4.6M1215.8 2385.1v3.9M1216.7 2381.6v9.3M1217.6 2385.9v2.3M1218.5 2385.6v3.3M1219.4 2386.1v1.7M1220.3 2382.7v7.7M1221.2 2385.1v2.9M1222.1 2385.6v3.3M1223 2382.5v7.8M1223.9 2385.4v3.4M1224.8 2386.2v1.5M1225.7 2386.3v2M1226.6 2382.6v8M1227.5 2386.3v1.3M1228.4 2385.4v2.6M1229.3 2381.8v9.6M1230.2 2386.2v2.3M1231.1 2386v2.4M1232 2382.4v8.6M1232.9 2385.5v3M1233.8 2386.1v2.2M1234.7 2386.2v1.7M1235.6 2382.1v9.6M1236.5 2385.5v3M1237.4 2385.9v2.1M1238.3 2382.2v9.4M1239.2 2385.3v3.1M1240.1 2385.5v2.5M1241 2386.1v2.2M1241.9 2382.9v8.8M1242.8 2385.8v2.8M1243.7 2385.5v2.3M1244.6 2382.7v8.5M1245.5 2386.3v1.4M1246.4 2385.7v2.9M1247.3 2386.2v2.1M1248.2 2382.7v7.8M1249.1 2385.9v2.5M1250 2385.6v2.1M1250.9 2383.2v7.9M1251.8 2385.9v2.5M1252.7 2385.6v2.1M1253.6 2386.3v2M1254.5 2381.9v9.8M1255.4 2385.3v2.4M1256.3 2385.6v2.6M1257.2 2382.3v8.5M1258.1 2386v1.8M1259 2385.8v2.2M1259.9 2382.6v8M1260.8 2386.1v1.6M1261.7 2386v1.6M1262.6 2385.8v2.5M1263.5 2382v7.9M1264.4 2386.1v2.5M1265.3 2385.4v2.7M1266.2 2381.6v9.8M1267.1 2386.2v1.5M1268 2385.3v2.9M1268.9 2385.4v2.7M1269.8 2383.1v8.7M1270.7 2385.7v2.2M1271.6 2385.4v3M1272.5 2382v7.8M1273.4 2385.4v3M1274.3 2385.6v2.2M1275.2 2385.9v2.2M1276.1 2383.1v8.1M1277 2386v2M1277.9 2385.8v2.7M1278.8 2382.9v8.7M1279.7 2385.4v2.7M1280.6 2385.3v3M1281.5 2385.7v2M1282.4 2381.8v8.5M1283.3 2386.3v1.8M1284.2 2386v1.7M1285.1 2383v7.8M1286 2386.2v2.9M1286.9 2386v2.7M1287.8 2382.2v8.1M1288.7 2385v3.1M1289.6 2385v3.8M1290.5 2384.1v4.9M1291.4 2379.4v14.6M1292.3 2383.1v7.3M1293.2 2383.1v7.2M1294.1 2381.7v11.1M1295 2384.2v6.1M1295.9 2381.5v8.9M1296.8 2384v5.6M1297.7 2379.2v16.2M1298.6 2381.2v9.3M1299.5 2381.5v8.7M1300.4 2381.5v12.5M1301.3 2383.9v8.4M1302.2 2382.3v7.7M1303.1 2382.7v6.4M1304 2380.4v12.3M1304.9 2383.5v5.6M1305.8 2385v4.3M1306.7 2380.7v12" stroke="#1414ff" stroke-width="1.05" fill="none"/><path d="M1025 2387H1307.4" stroke="#1414ff" stroke-width="1.6"/><text x="629.2" y="2448.5" font-size="21.2">80 mmHg</text><path d="M733 2442.1M733 2441.4v1.4M733.9 2440.6v2.4M734.8 2437.8v8.3M735.7 2441.1v2.1M736.6 2440.5v2.8M737.5 2440.8v2.6M738.4 2437.9v11.8M739.3 2440.7v2.7M740.2 2440.6v2.8M741.1 2437.3v9.3M742 2440.7v2M742.9 2440.8v2.5M743.8 2440.7v2M744.7 2437.6v8.7M745.6 2441.3v2.4M746.5 2441.3v1.7M747.4 2436.1v10.1M748.3 2440.8v2.1M749.2 2441.3v2.4M750.1 2440.4v3.2M751 2437.1v8.8M751.9 2440.5v2.8M752.8 2440.3v3.4M753.7 2436.7v10.8M754.6 2441v2.1M755.5 2441v2.6M756.4 2437v11M757.3 2440.9v2.6M758.2 2440v4.1M759.1 2440.1v3.1M760 2437v9M760.9 2440.5v3.6M761.8 2440.7v3M762.7 2437v9.1M763.6 2439.8v4.7M764.5 2439.8v4.4M765.4 2439.9v4.3M766.3 2435.8v11M767.2 2439.9v3.6M768.1 2438.9v5.6M769 2435.9v10.8M769.9 2439.1v6.5M770.8 2438.8v5.2M771.7 2439.3v6.3M772.6 2436.1v12M773.5 2440v4.4M774.4 2440.2v3.8M775.3 2433.4v13.6M776.2 2437.7v7.4M777.1 2437.3v9.9M778 2439.7v5.2M778.9 2432.8v16.6M779.8 2435.8v12.5M780.7 2438v9.7M781.6 2435.8v14.4M782.5 2438.9v7.3M783.4 2435.7v9.4M784.3 2435v15.9M785.2 2438.5v11M786.1 2434.4v14.4M787 2437.8v8.2M787.9 2431.6v20.9M788.8 2436.7v10.1M789.7 2434.4v14.1M790.6 2429.1v22.9M791.5 2432.1v18.8M792.4 2436v17M793.3 2435.9v15.5M794.2 2430.6v25.8M795.1 2430.7v22.1M796 2435.1v16M796.9 2429.8v29.1M797.8 2431.2v22.7M798.7 2436.4v14.1M799.6 2430.8v22M800.5 2429.5v20.6M801.4 2433.8v16.4M802.3 2433.8v14.5M803.2 2428.3v24.3M804.1 2430.6v18.6M805 2430.5v23.8M805.9 2435.7v12M806.8 2428.1v29.9M807.7 2432.6v15.9M808.6 2437.1v13.4M809.5 2431.7v25M810.4 2437.1v10.9M811.3 2433.3v20M812.2 2428.8v22.5M813.1 2432.1v17M814 2432.7v19.3M814.9 2431.3v17.6M815.8 2432.4v20.4M816.7 2431.8v14.1M817.6 2436.3v15.8M818.5 2430.7v24.5M819.4 2433.1v14.7M820.3 2433.1v17.3M821.2 2435.8v14.8M822.1 2432.5v18.6M823 2434.7v15.4M823.9 2438.8v8.3M824.8 2431v20.2M825.7 2437.7v10.2M826.6 2436.8v10.2M827.5 2439.7v8.2M828.4 2433.1v16.2M829.3 2438.6v6.6M830.2 2438.7v5.4M831.1 2433.4v15.1M832 2438.9v7M832.9 2437.5v7M833.8 2439.2v5.6M834.7 2436.4v11.4M835.6 2438.2v5.4M836.5 2438.8v5.7M837.4 2436.4v10.4M838.3 2439.7v4.6M839.2 2439.5v4.3M840.1 2436.3v13.8M841 2440.3v3.8M841.9 2439.3v6.7M842.8 2441.1v2.6M843.7 2435.6v10.6M844.6 2439.6v4M845.5 2440.4v3.1M846.4 2437.2v9.4M847.3 2440.2v3.7M848.2 2440.8v2.4M849.1 2440.2v3.8M850 2437.5v9.1M850.9 2440.5v2.5M851.8 2441.4v1.5M852.7 2437.1v9.6M853.6 2441.4v1.6M854.5 2440.3v2.7M855.4 2440.2v3.8M856.3 2437.5v9.9M857.2 2440.6v2.7M858.1 2441.2v1.7M859 2437.2v10.5M859.9 2441.3v2.2M860.8 2440.9v2.1M861.7 2441.4v1.6M862.6 2436.8v9.3M863.5 2440.4v2.7M864.4 2441.2v2.2M865.3 2437.7v8.3M866.2 2440.5v2.3M867.1 2440.8v2.9M868 2437v8.5M868.9 2441.4v1.4M869.8 2440.7v2.9M870.7 2440.6v2.5M871.6 2436.9v10M872.5 2441.2v2.8M873.4 2441v2.6M874.3 2436.8v10.1M875.2 2439.8v4.2M876.1 2440.8v2.8M877 2439.8v4.5M877.9 2436.9v12.3M878.8 2438.8v6.8M879.7 2440.4v5.6M880.6 2437.1v11.4M881.5 2437.4v8.4M882.4 2438.9v5.4M883.3 2435.8v9.4M884.2 2433.7v17.5M885.1 2435.2v10.3M886 2438.4v7.3M886.9 2430.9v17.5M887.8 2436.7v11M888.7 2438.8v8.4M889.6 2436.9v9.8M890.5 2430.9v18.4M891.4 2435.5v12.7M892.3 2437.6v11.2M893.2 2435.6v13.1M894.1 2436.7v7.7M895 2437.5v7.7M895.9 2433.7v15.1M896.8 2439.5v5.5M897.7 2440.6v3.3M898.6 2439.1v5.6M899.5 2436.9v8.8M900.4 2440.9v2.5M901.3 2440.8v2.5M902.2 2436.9v9.5M903.1 2441v2.6M904 2440.3v3.1M904.9 2441.1v2.5M905.8 2436.8v10.4M906.7 2441.4v1.7M907.6 2441.1v2.4M908.5 2436.9v10.4M909.4 2441.4v1.4M910.3 2440.7v2.2M911.2 2440.5v3.6M912.1 2438.2v9.5M913 2440.5v2.6M913.9 2440.5v3.2M914.8 2437.2v8.8M915.7 2440.9v2.3M916.6 2441.2v2.1M917.5 2440.9v1.8M918.4 2437.4v8M919.3 2440.5v2.7M920.2 2440.5v2.5M921.1 2436.5v9.4M922 2441.4v1.4M922.9 2441.2v1.7M923.8 2436.1v10.4M924.7 2440.8v2.4M925.6 2440.9v2.3M926.5 2440.6v2.8M927.4 2436.6v10.2M928.3 2441.5v1.6M929.2 2440.8v2.7M930.1 2437.7v9.3M931 2440.7v3M931.9 2440.5v2.7M932.8 2441v2.2M933.7 2436.9v9M934.6 2441.4v1.9M935.5 2440.5v2.6M936.4 2436.7v9.5M937.3 2440.6v2.2M938.2 2441.4v2M939.1 2441.2v2.2M940 2437.3v8.1M940.9 2440.6v3.1M941.8 2440.7v2.3M942.7 2437.5v7.6M943.6 2441.3v2.4M944.5 2441.4v2.1M945.4 2441.1v1.9M946.3 2436.5v9.8M947.2 2441.3v1.7M948.1 2440.7v3M949 2437.7v7.8M949.9 2441.3v2.4M950.8 2440.9v1.9M951.7 2436.2v9.8M952.6 2441.1v2.1M953.5 2440.8v2.3M954.4 2440.8v2.7M955.3 2437.8v10M956.2 2440.9v2.1M957.1 2441v2.4M958 2437.7v7.6M958.9 2441.2v1.6M959.8 2441.4v1.4M960.7 2440.6v2.4M961.6 2438.1v8.2M962.5 2440.8v2.5M963.4 2440.6v2.3M964.3 2436.4v9.4M965.2 2440.6v2.4M966.1 2440.7v2.1M967 2440.6v3.3M967.9 2437.1v10M968.8 2440.8v2.1M969.7 2440.7v3M970.6 2436.5v10.8M971.5 2441.3v2.1M972.4 2440.5v3.1M973.3 2440.4v2.8M974.2 2436.2v11.6M975.1 2440.5v3M976 2440.6v2.5M976.9 2437.4v8.1M977.8 2440.4v3.1M978.7 2441.1v1.9M979.6 2437.3v10.5M980.5 2441.2v2.2M981.4 2440.8v3.1M982.3 2440.6v3.2M983.2 2436.5v10.4M984.1 2440.7v3.4M985 2441.2v3M985.9 2436.7v10.8M986.8 2440.9v3.4M987.7 2440.1v3M988.6 2439.5v5M989.5 2435.4v12.1M990.4 2440.6v3.2M991.3 2440.4v3.8M992.2 2434.8v12.9M993.1 2440v3.9M994 2439.9v3.8M994.9 2438.1v6.4M995.8 2433.1v15.5M996.7 2437v9.3M997.6 2439.4v5.1M998.5 2432.7v16.4M999.4 2438.4v7.3M1000.3 2438.7v9.2M1001.2 2438.3v9.6M1002.1 2435.6v11.4M1003 2436.7v9.4M1003.9 2439.7v6.4M1004.8 2436.6v11.7M1005.7 2438.7v5.4M1006.6 2439.9v5.7M1007.5 2435.4v15.2M1008.4 2439.3v6.3M1009.3 2440.1v5.6M1010.2 2438.6v5.1M1011.1 2435.5v12.8M1012 2440.4v4.4M1012.9 2440.2v5M1013.8 2435.6v12.8M1014.7 2439.4v4.3" stroke="#ff1a10" stroke-width="1.05" fill="none"/><path d="M733 2442.1H1015.4" stroke="#ff1a10" stroke-width="1.6"/><path d="M1025 2442.1M1025 2441.4v2.2M1025.9 2440.4v3.2M1026.8 2438v8.9M1027.7 2441.1v2.2M1028.6 2440.6v3M1029.5 2437.9v8.4M1030.4 2440.8v2.7M1031.3 2440.8v2.1M1032.2 2441.5v2.3M1033.1 2438.2v6.9M1034 2440.4v3.4M1034.9 2440.9v2.5M1035.8 2438.1v7.4M1036.7 2441.5v1.4M1037.6 2441v1.9M1038.5 2440.4v3M1039.4 2437.5v8.2M1040.3 2440.9v2.3M1041.2 2440.6v2.9M1042.1 2436.9v8.1M1043 2441v2.2M1043.9 2441.5v1.6M1044.8 2441.3v1.9M1045.7 2436.5v9.6M1046.6 2441.4v1.8M1047.5 2441.4v1.9M1048.4 2437.8v7M1049.3 2441.4v2.4M1050.2 2440.6v2.4M1051.1 2441.4v2.4M1052 2436.6v9.9M1052.9 2440.8v2.8M1053.8 2441.3v2.4M1054.7 2437.5v9.8M1055.6 2440.7v2.6M1056.5 2440.7v3.3M1057.4 2436.5v10.1M1058.3 2441.1v2.4M1059.2 2440.7v3.2M1060.1 2440v4.3M1061 2437.7v8.7M1061.9 2440.1v4.5M1062.8 2440.9v2.6M1063.7 2437.1v9.8M1064.6 2440.4v3.5M1065.5 2439.7v4.1M1066.4 2440.5v3.9M1067.3 2437v8.9M1068.2 2439.8v5M1069.1 2438.8v6.5M1070 2435.8v10.7M1070.9 2440.3v5.7M1071.8 2437.8v7.9M1072.7 2439.4v8M1073.6 2433.8v15.7M1074.5 2436.4v8.5M1075.4 2436.1v10.5M1076.3 2431.7v20.3M1077.2 2437v10.5M1078.1 2438.6v9.5M1079 2434.9v11.9M1079.9 2434v20.5M1080.8 2432.3v19M1081.7 2435.1v12.8M1082.6 2432.3v22.8M1083.5 2433.3v15.3M1084.4 2435.4v12.4M1085.3 2431.9v24M1086.2 2434.9v12M1087.1 2433.4v21.9M1088 2433.9v19.4M1088.9 2424.6v34.3M1089.8 2432.2v22.1M1090.7 2436v17.5M1091.6 2429.6v30.5M1092.5 2431.6v16.5M1093.4 2426.5v25.2M1094.3 2434.2v28.8M1095.2 2428.1v23M1096.1 2426v27.6M1097 2434.3v22M1097.9 2430.1v26.8M1098.8 2426.5v28.4M1099.7 2428.8v22.4M1100.6 2428.3v23M1101.5 2432.3v26.4M1102.4 2434.4v25M1103.3 2431.4v17.2M1104.2 2426.7v24.4M1105.1 2436.4v17.9M1106 2433.1v20.3M1106.9 2432v19.4M1107.8 2431.9v21M1108.7 2431.2v21.6M1109.6 2433.6v14.2M1110.5 2431v17.1M1111.4 2435.9v10.3M1112.3 2438.6v9.7M1113.2 2435v17.6M1114.1 2435.3v14.3M1115 2435.1v9.7M1115.9 2438.8v7.4M1116.8 2434.3v14.5M1117.7 2436.4v8.8M1118.6 2439.9v6.6M1119.5 2436.1v11.4M1120.4 2437.6v6.6M1121.3 2438.1v7.5M1122.2 2440.6v3.6M1123.1 2435v11M1124 2440v3.5M1124.9 2440.9v2.9M1125.8 2436v10.2M1126.7 2440.8v3.4M1127.6 2440.2v3.9M1128.5 2440.3v3.7M1129.4 2437.4v9.9M1130.3 2441v3.3M1131.2 2440.3v3M1132.1 2438.4v7.9M1133 2440.2v2.9M1133.9 2441v3M1134.8 2441.4v2.5M1135.7 2437.2v9.5M1136.6 2440.7v2.1M1137.5 2440.7v2.7M1138.4 2437.1v9.7M1139.3 2440.5v2.7M1140.2 2440.9v2.2M1141.1 2437.2v8.5M1142 2440.5v3M1142.9 2441.1v1.8M1143.8 2440.4v2.4M1144.7 2436.4v8.4M1145.6 2440.8v1.9M1146.5 2441.3v1.4M1147.4 2437v10.1M1148.3 2441.4v2.5M1149.2 2441v2M1150.1 2440.6v2.4M1151 2438v8.2M1151.9 2440.5v2.9M1152.8 2440.5v3.3M1153.7 2437v9.7M1154.6 2441.4v1.9M1155.5 2441.4v2M1156.4 2441.2v2.5M1157.3 2437.1v9.8M1158.2 2441v1.7M1159.1 2440.4v2.5M1160 2438v10.2M1160.9 2440.4v2.9M1161.8 2440.8v2.5M1162.7 2441v2.1M1163.6 2438.1v8.3M1164.5 2441.3v1.9M1165.4 2441v2M1166.3 2437.5v7.8M1167.2 2440.9v2.6M1168.1 2440.9v2.9M1169 2438.6v7M1169.9 2440.7v2.8M1170.8 2440.8v2.9M1171.7 2440.4v2.8M1172.6 2438.1v8.7M1173.5 2440.9v2.6M1174.4 2440.6v3.4M1175.3 2437.5v7.3M1176.2 2440.8v2M1177.1 2440.7v2.8M1178 2441.3v2.3M1178.9 2438.3v6.8M1179.8 2440.4v2.4M1180.7 2440.5v2.2M1181.6 2437.8v8.4M1182.5 2441v2.3M1183.4 2440.6v2.3M1184.3 2440.7v2.1M1185.2 2437.4v8.4M1186.1 2440.9v2.6M1187 2441.3v2.1M1187.9 2438.4v7.1M1188.8 2440.8v2M1189.7 2441.5v2M1190.6 2440.6v2.5M1191.5 2438.2v8.3M1192.4 2440.8v2.2M1193.3 2440.8v2.6M1194.2 2437.5v8.4M1195.1 2440.6v3.1M1196 2440.7v2.9M1196.9 2437.5v9.8M1197.8 2440.7v2.1M1198.7 2441.4v1.7M1199.6 2441.5v2.1M1200.5 2437.4v8.7M1201.4 2440.8v2.5M1202.3 2440.9v1.8M1203.2 2437.1v8.6M1204.1 2440.7v2.6M1205 2440.6v2.2M1205.9 2441v1.9M1206.8 2437.4v8.5M1207.7 2441.2v2M1208.6 2441.1v2.6M1209.5 2437.6v8M1210.4 2440.9v2.3M1211.3 2440.6v2.9M1212.2 2440.8v2.9M1213.1 2438v6.8M1214 2440.9v2.2M1214.9 2441.2v1.9M1215.8 2436.6v9.8M1216.7 2440.4v2.5M1217.6 2440.8v2.2M1218.5 2440.6v2.4M1219.4 2436.9v9.2M1220.3 2439.7v3.4M1221.2 2439.7v4.3M1222.1 2436.7v11.5M1223 2438.2v5.8M1223.9 2438.7v7.4M1224.8 2435.6v12.1M1225.7 2436.9v8.7M1226.6 2437.9v7M1227.5 2435.8v12.6M1228.4 2433.1v15.6M1229.3 2436.5v10.8M1230.2 2439.5v5.5M1231.1 2435.6v16.1M1232 2436.4v10.3M1232.9 2438.7v8.1M1233.8 2439.6v8.4M1234.7 2435.9v13.6M1235.6 2438v7.2M1236.5 2438.4v5.9M1237.4 2434.1v13.4M1238.3 2438v8.6M1239.2 2438.9v5M1240.1 2439.7v3.8M1241 2435.8v12.2M1241.9 2440.1v4M1242.8 2441.1v2.6M1243.7 2438v9M1244.6 2440.7v2.8M1245.5 2440.2v3.2M1246.4 2440.5v2.7M1247.3 2436.5v10M1248.2 2441.3v1.6M1249.1 2441.3v2.4M1250 2437.5v7.7M1250.9 2440.9v2.6M1251.8 2441.3v2.5M1252.7 2437.6v9.1M1253.6 2441.4v1.4M1254.5 2440.6v2.9M1255.4 2440.8v2.7M1256.3 2438.1v9.3M1257.2 2441.4v1.8M1258.1 2440.6v2.1M1259 2437.8v8.1M1259.9 2440.5v2.6M1260.8 2441.4v2.1M1261.7 2441.5v1.9M1262.6 2436.8v8.6M1263.5 2441v2.7M1264.4 2440.8v2.1M1265.3 2437.5v8.2M1266.2 2440.8v2.2M1267.1 2440.8v2.2M1268 2440.9v2.7M1268.9 2437.3v8.9M1269.8 2440.9v2.1M1270.7 2441.3v2M1271.6 2437.8v7.9M1272.5 2441.4v2M1273.4 2441.1v2.2M1274.3 2441.4v2.2M1275.2 2437.5v9.5M1276.1 2441.3v2.2M1277 2441.5v1.3M1277.9 2438.4v7.6M1278.8 2441.4v1.3M1279.7 2440.4v2.8M1280.6 2438v8M1281.5 2440.7v3M1282.4 2441.2v2.5M1283.3 2440.6v2.1M1284.2 2436.6v10.4M1285.1 2441.1v2.4M1286 2440.9v2.2M1286.9 2436.8v10.2M1287.8 2441.5v2M1288.7 2441.1v1.8M1289.6 2441.1v1.7M1290.5 2438.1v8.5M1291.4 2440.6v2.2M1292.3 2440.5v3.1M1293.2 2437.7v9.2M1294.1 2441v2.6M1295 2440.7v2.8M1295.9 2441.2v1.6M1296.8 2438.4v8.7M1297.7 2441.5v1.8M1298.6 2440.6v2.7M1299.5 2438v7.2M1300.4 2440.7v2.3M1301.3 2441v2.4M1302.2 2441.3v1.4M1303.1 2437.2v9.4M1304 2440.6v3.1M1304.9 2440.9v2.4M1305.8 2436.8v8.9M1306.7 2441.1v1.7" stroke="#1414ff" stroke-width="1.05" fill="none"/><path d="M1025 2442.1H1307.4" stroke="#1414ff" stroke-width="1.6"/><path d="M991.9 2479.5H1020.6V2452.1" fill="none" stroke="#000" stroke-width="1.5"/><text x="1004.6" y="2496.3" font-size="20.8" text-anchor="middle">1s</text><text font-size="20.8" text-anchor="middle" transform="translate(1043 2467) rotate(-90)">3mV</text></g>
<g id="panelN"><text x="1313.6" y="1837.3" font-size="29.3" font-weight="bold">N</text><text x="1398.3" y="2106.2" font-size="21.3" text-anchor="end">0.0</text><text x="1398.3" y="2029.7" font-size="21.3" text-anchor="end">0.1</text><text x="1398.3" y="1953.2" font-size="21.3" text-anchor="end">0.2</text><text x="1398.3" y="1876.7" font-size="21.3" text-anchor="end">0.3</text><text x="1454.7" y="2127.8" font-size="21.3" text-anchor="middle">20</text><text x="1540.8" y="2127.8" font-size="21.3" text-anchor="middle">40</text><text x="1626.9" y="2127.8" font-size="21.3" text-anchor="middle">60</text><text x="1713.1" y="2127.8" font-size="21.3" text-anchor="middle">80</text><path d="M1412.4 1869.1V2098.6M1402.8 2098.6H1756M1402.8 2098.6H1412.4M1402.8 2022.1H1412.4M1402.8 1945.6H1412.4M1402.8 1869.1H1412.4M1454.7 2098.6v9M1540.8 2098.6v9M1626.9 2098.6v9M1713.1 2098.6v9" fill="none" stroke="#000" stroke-width="1.8"/><text x="1585.5" y="2148.7" font-size="21.3" text-anchor="middle">mmHg</text><text font-size="20.4" text-anchor="middle" transform="translate(1355.1 1978.8) rotate(-90)">Area under curve (mV·s)</text><path d="M1454.7 2080.1L1540.8 2042.3L1626.9 2006.5L1713.1 1979.1M1454.7 2074.8V2085.5M1449.7 2074.8h10M1449.7 2085.5h10M1540.8 2031.6V2053.3M1535.8 2031.6h10M1535.8 2053.3h10M1626.9 1993.1V2020.5M1621.9 1993.1h10M1621.9 2020.5h10M1713.1 1958.6V1999.1M1708.1 1958.6h10M1708.1 1999.1h10" fill="none" stroke="#2a2af5" stroke-width="1.6"/><path d="M1450.2 2075.6h9v9h-9zM1536.3 2037.8h9v9h-9zM1622.4 2002h9v9h-9zM1708.6 1974.6h9v9h-9z" fill="#2a2af5"/><path d="M1454.7 2048.9L1540.8 2002.1L1626.9 1966.6L1713.1 1933.2M1454.7 2038.4V2059.3M1449.7 2038.4h10M1449.7 2059.3h10M1540.8 1995.2V2008M1535.8 1995.2h10M1535.8 2008h10M1626.9 1957.1V1975.8M1621.9 1957.1h10M1621.9 1975.8h10M1713.1 1921.3V1945.4M1708.1 1921.3h10M1708.1 1945.4h10" fill="none" stroke="#f5311c" stroke-width="1.6"/><path d="M1450.2 2044.4h9v9h-9zM1536.3 1997.6h9v9h-9zM1622.4 1962.1h9v9h-9zM1708.6 1928.7h9v9h-9z" fill="#f5311c"/><path d="M1421.1 1881.1L1447.1 1881.1" stroke="#f5311c" stroke-width="1.5"/><rect x="1429.6" y="1876.6" width="9" height="9" fill="#f5311c"/><text x="1460.9" y="1888.3" font-size="20.5">Pre</text><path d="M1421.1 1913.3L1447.1 1913.3" stroke="#2a2af5" stroke-width="1.5"/><rect x="1429.6" y="1908.8" width="9" height="9" fill="#2a2af5"/><text x="1460.9" y="1920.5" font-size="20.5">Music+blue light</text><text x="1455.3" y="2033.1" font-size="19" text-anchor="middle">**</text><text x="1540.8" y="1989.9" font-size="19" text-anchor="middle">***</text><text x="1626.9" y="1951.2" font-size="19" text-anchor="middle">***</text><text x="1713.1" y="1916" font-size="19" text-anchor="middle">***</text></g>
<g id="panelP"><text x="1314.5" y="2181.7" font-size="29.3" font-weight="bold">P</text><text x="1396.9" y="2449.8" font-size="21.3" text-anchor="end">0.0</text><text x="1396.9" y="2373.2" font-size="21.3" text-anchor="end">0.1</text><text x="1396.9" y="2296.6" font-size="21.3" text-anchor="end">0.2</text><text x="1396.9" y="2220" font-size="21.3" text-anchor="end">0.3</text><text x="1452.9" y="2470.8" font-size="21.3" text-anchor="middle">20</text><text x="1538.7" y="2470.8" font-size="21.3" text-anchor="middle">40</text><text x="1624.8" y="2470.8" font-size="21.3" text-anchor="middle">60</text><text x="1711.3" y="2470.8" font-size="21.3" text-anchor="middle">80</text><path d="M1410.9 2212.4V2442.2M1401.3 2442.2H1754.5M1401.3 2442.2H1410.9M1401.3 2365.6H1410.9M1401.3 2289H1410.9M1401.3 2212.4H1410.9M1452.9 2442.2v9M1538.7 2442.2v9M1624.8 2442.2v9M1711.3 2442.2v9" fill="none" stroke="#000" stroke-width="1.8"/><text x="1583.7" y="2491.7" font-size="21.3" text-anchor="middle">mmHg</text><text font-size="20.4" text-anchor="middle" transform="translate(1353.6 2321.8) rotate(-90)">Area under curve (mV·s)</text><path d="M1452.9 2391.8L1538.7 2342.7L1624.8 2297.4L1711.3 2276.5M1452.9 2381.4V2402.3M1447.9 2381.4h10M1447.9 2402.3h10M1538.7 2324.8V2359.6M1533.7 2324.8h10M1533.7 2359.6h10M1624.8 2277.1V2318.2M1619.8 2277.1h10M1619.8 2318.2h10M1711.3 2253.3V2298.8M1706.3 2253.3h10M1706.3 2298.8h10" fill="none" stroke="#2a2af5" stroke-width="1.6"/><path d="M1448.4 2387.3h9v9h-9zM1534.2 2338.2h9v9h-9zM1620.3 2292.9h9v9h-9zM1706.8 2272h9v9h-9z" fill="#2a2af5"/><path d="M1452.9 2418.1L1538.7 2343.6L1624.8 2289L1711.3 2261.6M1452.9 2408.2V2428.2M1447.9 2408.2h10M1447.9 2428.2h10M1538.7 2329.8V2357M1533.7 2329.8h10M1533.7 2357h10M1624.8 2268.2V2309.9M1619.8 2268.2h10M1619.8 2309.9h10M1711.3 2238.3V2285.1M1706.3 2238.3h10M1706.3 2285.1h10" fill="none" stroke="#f5311c" stroke-width="1.6"/><path d="M1448.4 2413.6h9v9h-9zM1534.2 2339.1h9v9h-9zM1620.3 2284.5h9v9h-9zM1706.8 2257.1h9v9h-9z" fill="#f5311c"/><path d="M1419.6 2224.9L1445.6 2224.9" stroke="#f5311c" stroke-width="1.5"/><rect x="1428.1" y="2220.4" width="9" height="9" fill="#f5311c"/><text x="1459.4" y="2232.1" font-size="20.5">Pre</text><path d="M1419.6 2256.2L1445.6 2256.2" stroke="#2a2af5" stroke-width="1.5"/><rect x="1428.1" y="2251.7" width="9" height="9" fill="#2a2af5"/><text x="1459.4" y="2263.4" font-size="20.5">Music+blue light</text></g>

</svg>
</body></html>
